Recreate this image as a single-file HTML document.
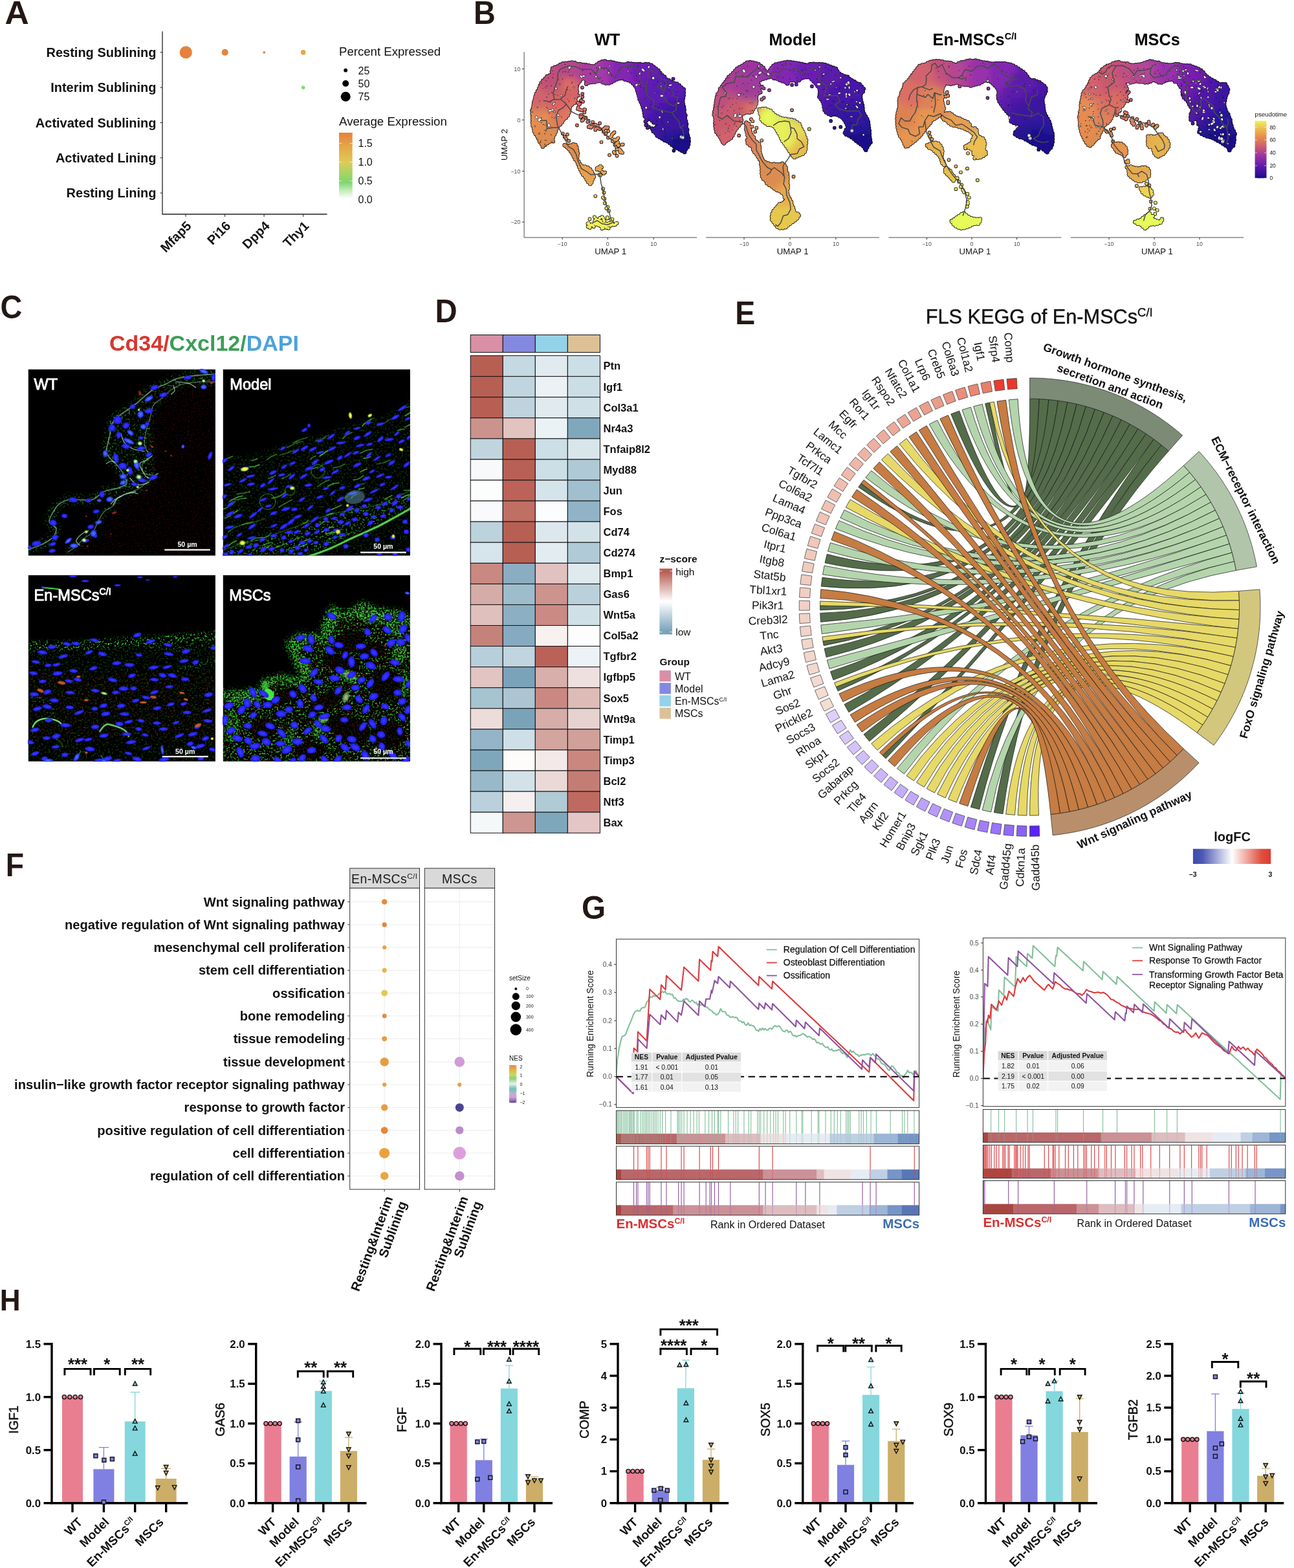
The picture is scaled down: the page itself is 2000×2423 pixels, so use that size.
<!DOCTYPE html>
<html lang="en"><head><meta charset="utf-8"><title>Figure</title>
<style>
html,body{margin:0;padding:0;background:#fff;}
body{width:2000px;height:2423px;overflow:hidden;}
svg{display:block;font-family:'Liberation Sans', sans-serif;}
</style></head><body>
<svg width="2000" height="2423" viewBox="0 0 2000 2423">
<rect width="2000" height="2423" fill="#fff"/>
<g id="pA">
<text transform="translate(7.6 37) scale(1.07 1.035)" font-size="48.3" font-weight="bold" fill="#231815">A</text>
<path d="M251 48.5V331H505.5" fill="none" stroke="#222" stroke-width="1.3"/>
<text x="241.5" y="87.9" font-size="20" font-weight="bold" text-anchor="end" fill="#111">Resting Sublining</text>
<line x1="247.5" y1="80.9" x2="251" y2="80.9" stroke="#222" stroke-width="1" />
<text x="241.5" y="142.2" font-size="20" font-weight="bold" text-anchor="end" fill="#111">Interim Sublining</text>
<line x1="247.5" y1="135.2" x2="251" y2="135.2" stroke="#222" stroke-width="1" />
<text x="241.5" y="196.5" font-size="20" font-weight="bold" text-anchor="end" fill="#111">Activated Sublining</text>
<line x1="247.5" y1="189.5" x2="251" y2="189.5" stroke="#222" stroke-width="1" />
<text x="241.5" y="250.9" font-size="20" font-weight="bold" text-anchor="end" fill="#111">Activated Lining</text>
<line x1="247.5" y1="243.9" x2="251" y2="243.9" stroke="#222" stroke-width="1" />
<text x="241.5" y="305.2" font-size="20" font-weight="bold" text-anchor="end" fill="#111">Resting Lining</text>
<line x1="247.5" y1="298.2" x2="251" y2="298.2" stroke="#222" stroke-width="1" />
<line x1="287" y1="331" x2="287" y2="335" stroke="#222" stroke-width="1" />
<text x="297" y="350.3" font-size="20" font-weight="bold" text-anchor="end" fill="#111" transform="rotate(-45 297 350.3)">Mfap5</text>
<line x1="347.6" y1="331" x2="347.6" y2="335" stroke="#222" stroke-width="1" />
<text x="357.6" y="350.3" font-size="20" font-weight="bold" text-anchor="end" fill="#111" transform="rotate(-45 357.6 350.3)">Pi16</text>
<line x1="408.1" y1="331" x2="408.1" y2="335" stroke="#222" stroke-width="1" />
<text x="418.1" y="350.3" font-size="20" font-weight="bold" text-anchor="end" fill="#111" transform="rotate(-45 418.1 350.3)">Dpp4</text>
<line x1="468.7" y1="331" x2="468.7" y2="335" stroke="#222" stroke-width="1" />
<text x="478.7" y="350.3" font-size="20" font-weight="bold" text-anchor="end" fill="#111" transform="rotate(-45 478.7 350.3)">Thy1</text>
<circle cx="287.3" cy="80.9" r="9.6" fill="#E6813C"/>
<circle cx="347.7" cy="80.9" r="5.1" fill="#E5833D"/>
<circle cx="408.2" cy="80.9" r="2" fill="#E8903F"/>
<circle cx="468.7" cy="80.9" r="3.8" fill="#E9A545"/>
<circle cx="468.7" cy="135.3" r="2.8" fill="#85D873"/>
<circle cx="408.2" cy="243.9" r="0.9" fill="#E6F7E0"/>
<text x="524" y="86" font-size="18.6" fill="#111">Percent Expressed</text>
<circle cx="534.2" cy="108.7" r="2.9" fill="#000"/>
<text x="553.5" y="114.5" font-size="16" fill="#111">25</text>
<circle cx="534.2" cy="129" r="5" fill="#000"/>
<text x="553.5" y="134.8" font-size="16" fill="#111">50</text>
<circle cx="534.2" cy="149.3" r="7.5" fill="#000"/>
<text x="553.5" y="155.1" font-size="16" fill="#111">75</text>
<text x="524" y="194.3" font-size="18.7" fill="#111">Average Expression</text>
<defs><linearGradient id="gA" x1="0" y1="0" x2="0" y2="1"><stop offset="0" stop-color="#E6823C"/><stop offset="0.22" stop-color="#E5A848"/><stop offset="0.45" stop-color="#DDCB58"/><stop offset="0.62" stop-color="#A4D566"/><stop offset="0.75" stop-color="#7FD56F"/><stop offset="0.88" stop-color="#C4EDBB"/><stop offset="1" stop-color="#FFFFFF"/></linearGradient></defs>
<rect x="524" y="205" width="20.7" height="102" fill="url(#gA)"/>
<line x1="524" y1="221.5" x2="528" y2="221.5" stroke="#fff" stroke-width="0.7" />
<line x1="540.7" y1="221.5" x2="544.7" y2="221.5" stroke="#fff" stroke-width="0.7" />
<text x="553.5" y="227.3" font-size="16" fill="#111">1.5</text>
<line x1="524" y1="250.5" x2="528" y2="250.5" stroke="#fff" stroke-width="0.7" />
<line x1="540.7" y1="250.5" x2="544.7" y2="250.5" stroke="#fff" stroke-width="0.7" />
<text x="553.5" y="256.3" font-size="16" fill="#111">1.0</text>
<line x1="524" y1="279.5" x2="528" y2="279.5" stroke="#fff" stroke-width="0.7" />
<line x1="540.7" y1="279.5" x2="544.7" y2="279.5" stroke="#fff" stroke-width="0.7" />
<text x="553.5" y="285.3" font-size="16" fill="#111">0.5</text>
<line x1="524" y1="308.5" x2="528" y2="308.5" stroke="#fff" stroke-width="0.7" />
<line x1="540.7" y1="308.5" x2="544.7" y2="308.5" stroke="#fff" stroke-width="0.7" />
<text x="553.5" y="314.3" font-size="16" fill="#111">0.0</text>
</g>
<g id="pB">
<text transform="translate(732.1 36.6) scale(0.97 1.035)" font-size="48.3" font-weight="bold" fill="#231815">B</text>
<path d="M810.1 80.3V367H1077.2" fill="none" stroke="#444" stroke-width="0.95"/>
<line x1="869.2" y1="367" x2="869.2" y2="370.3" stroke="#333" stroke-width="1" />
<text x="869.2" y="380.3" font-size="8.8" text-anchor="middle" fill="#4D4D4D">−10</text>
<line x1="939.3" y1="367" x2="939.3" y2="370.3" stroke="#333" stroke-width="1" />
<text x="939.3" y="380.3" font-size="8.8" text-anchor="middle" fill="#4D4D4D">0</text>
<line x1="1010.2" y1="367" x2="1010.2" y2="370.3" stroke="#333" stroke-width="1" />
<text x="1010.2" y="380.3" font-size="8.8" text-anchor="middle" fill="#4D4D4D">10</text>
<text x="943.65" y="393.2" font-size="13.2" text-anchor="middle" fill="#111">UMAP 1</text>
<text x="938.6" y="69.8" font-size="25.3" font-weight="bold" text-anchor="middle" fill="#000">WT</text>
<line x1="1091.3" y1="367" x2="1358.9" y2="367" stroke="#444" stroke-width="0.95" />
<line x1="1150" y1="367" x2="1150" y2="370.3" stroke="#333" stroke-width="1" />
<text x="1150" y="380.3" font-size="8.8" text-anchor="middle" fill="#4D4D4D">−10</text>
<line x1="1221" y1="367" x2="1221" y2="370.3" stroke="#333" stroke-width="1" />
<text x="1221" y="380.3" font-size="8.8" text-anchor="middle" fill="#4D4D4D">0</text>
<line x1="1291.9" y1="367" x2="1291.9" y2="370.3" stroke="#333" stroke-width="1" />
<text x="1291.9" y="380.3" font-size="8.8" text-anchor="middle" fill="#4D4D4D">10</text>
<text x="1225.1" y="393.2" font-size="13.2" text-anchor="middle" fill="#111">UMAP 1</text>
<text x="1225" y="69.8" font-size="25.3" font-weight="bold" text-anchor="middle" fill="#000">Model</text>
<line x1="1373.5" y1="367" x2="1640.4" y2="367" stroke="#444" stroke-width="0.95" />
<line x1="1432.4" y1="367" x2="1432.4" y2="370.3" stroke="#333" stroke-width="1" />
<text x="1432.4" y="380.3" font-size="8.8" text-anchor="middle" fill="#4D4D4D">−10</text>
<line x1="1502" y1="367" x2="1502" y2="370.3" stroke="#333" stroke-width="1" />
<text x="1502" y="380.3" font-size="8.8" text-anchor="middle" fill="#4D4D4D">0</text>
<line x1="1571.6" y1="367" x2="1571.6" y2="370.3" stroke="#333" stroke-width="1" />
<text x="1571.6" y="380.3" font-size="8.8" text-anchor="middle" fill="#4D4D4D">10</text>
<text x="1506.95" y="393.2" font-size="13.2" text-anchor="middle" fill="#111">UMAP 1</text>
<text x="1506.5" y="69.8" font-size="25.3" font-weight="bold" text-anchor="middle" fill="#000">En-MSCs<tspan font-size="14.67" dy="-9.11">C/I</tspan></text>
<line x1="1654.8" y1="367" x2="1922" y2="367" stroke="#444" stroke-width="0.95" />
<line x1="1714" y1="367" x2="1714" y2="370.3" stroke="#333" stroke-width="1" />
<text x="1714" y="380.3" font-size="8.8" text-anchor="middle" fill="#4D4D4D">−10</text>
<line x1="1784" y1="367" x2="1784" y2="370.3" stroke="#333" stroke-width="1" />
<text x="1784" y="380.3" font-size="8.8" text-anchor="middle" fill="#4D4D4D">0</text>
<line x1="1854" y1="367" x2="1854" y2="370.3" stroke="#333" stroke-width="1" />
<text x="1854" y="380.3" font-size="8.8" text-anchor="middle" fill="#4D4D4D">10</text>
<text x="1788.4" y="393.2" font-size="13.2" text-anchor="middle" fill="#111">UMAP 1</text>
<text x="1788.7" y="69.8" font-size="25.3" font-weight="bold" text-anchor="middle" fill="#000">MSCs</text>
<line x1="806.8" y1="106.5" x2="810.1" y2="106.5" stroke="#333" stroke-width="1" />
<text x="804.3" y="109.7" font-size="8.8" text-anchor="end" fill="#4D4D4D">10</text>
<line x1="806.8" y1="185.3" x2="810.1" y2="185.3" stroke="#333" stroke-width="1" />
<text x="804.3" y="188.5" font-size="8.8" text-anchor="end" fill="#4D4D4D">0</text>
<line x1="806.8" y1="264.4" x2="810.1" y2="264.4" stroke="#333" stroke-width="1" />
<text x="804.3" y="267.6" font-size="8.8" text-anchor="end" fill="#4D4D4D">−10</text>
<line x1="806.8" y1="343.1" x2="810.1" y2="343.1" stroke="#333" stroke-width="1" />
<text x="804.3" y="346.3" font-size="8.8" text-anchor="end" fill="#4D4D4D">−20</text>
<text x="783.8" y="223.5" font-size="13.2" text-anchor="middle" fill="#111" transform="rotate(-90 783.8 223.5)">UMAP 2</text>
<defs><filter id="blB" x="-20%" y="-20%" width="140%" height="140%"><feGaussianBlur stdDeviation="3.5"/></filter></defs>
<defs><g id="shB0"><path d="M1058.11 235L1059.83 230.46L1063.48 226.52L1064.61 218.96L1064.27 212.63L1062.97 209.44L1061.71 204.41L1062.34 200.91L1060.5 196.53L1061.04 190.68L1060.19 187.82L1058.54 182.09L1059.43 178.05L1056.85 173.02L1057.77 169.1L1056.83 164.29L1055.35 159.76L1055.21 153.9L1056.49 149.18L1056.8 144.21L1056.66 138.1L1051.96 134.49L1048.03 130.18L1042.43 128.73L1038.03 127.37L1033.71 124.27L1029.76 123.23L1027.3 119.11L1022.84 116.04L1019.47 111.87L1017.14 108.72L1011.87 105.07L1008.29 101.53L1001.58 99.12L996.51 99L991.84 100.58L988.98 99.11L984.04 99.3L980.22 99.17L974.27 98.4L970.54 98.16L964.65 100.05L958.27 98.88L953.64 98.28L945.5 95.93L939.23 96.05L934.52 94.35L927.45 96.22L924.28 98.53L918.35 102.88L910.74 101.71L906.94 100.44L901.5 100.12L896.67 99.08L893 99.74L889.71 97.3L884.56 96.28L881.24 97.07L873.58 98.11L868.07 98.55L864.32 101.47L860.24 103.46L854.3 104.98L852.73 111.35L853.13 116.07L846.72 116.83L842.99 121.48L838.04 125.91L834.91 132.06L834.36 134.95L831.49 140.29L828.82 145.41L827.57 149.55L826.22 156.44L824.35 159.76L825.12 164.85L822.73 168.83L822.27 173.02L823.06 178.75L823.09 182.77L822.97 189.12L823.59 195.15L825.31 198.59L826.02 204.25L828.12 207.25L831.96 212.54L833.25 217.85L836.42 221.26L838.84 226.53L843.1 223.12L847.32 220.1L854.02 215.97L855 210.97L858.41 205.18L859.45 200.45L862.61 194.85L865.02 192.97L868.29 189.44L871.35 184.16L875.61 181.2L878.74 176.62L880.21 169.7L881.1 164.68L885.01 160.26L889.06 158.38L889.48 152.6L890.61 146.44L891.82 141.72L890.91 135.01L894.38 126.7L898.32 123.32L899.36 119.68L903.4 121.85L909.62 125.03L904.48 130.59L912.21 126.57L918.07 127.15L921.88 125.29L928.06 125.02L933.02 127.56L938.27 129.15L943.95 127.56L948.64 124.63L954.24 122.12L960.78 120.13L964.27 122.4L968.02 122.92L974.5 125.4L977.11 127.46L982.32 133.04L984.98 137.6L984.99 140.6L987.29 146.57L988.4 152.94L990.12 156.37L992.74 162.09L994.62 168.64L995.62 171.75L996.17 177.37L997.17 182.08L1002.73 183.25L1007.06 185.49L1010.59 189.51L1015.29 190.13L1018.16 193.08L1013.84 197.02L1011.98 198.61L1008.88 202.07L1012.7 204.77L1016.42 210.77L1022.26 213.13L1026 216.36L1029.54 217.05L1035.06 220.6L1039.54 224.69L1043.12 227.35L1046.39 228.64L1052.42 232Z"/><path d="M872.75 224.42L878.46 225.74L884.35 224.17L888.45 222.27L891.44 228.53L892.08 233.39L893.1 237.63L892.34 240.94L891.5 245.29L895.53 251.93L897.84 256.72L902.81 257.34L908.01 258.98L913.58 263.12L915.67 268.83L918.53 271.6L914.68 279.08L913.45 284.69L909.95 282.57L906.91 277.17L903.78 271.83L899.6 268.42L898.88 264.34L896.41 261L894.21 255.27L892.22 249.7L888.14 244.95L885.91 239.22L883.01 234.87L878.75 229.24Z"/><path d="M919.74 341.7L925.91 341.69L931.67 346.2L936.84 346.09L943.18 345.46L946.64 345.43L943.9 347.48L937.58 348.12L929.94 348.74L920.9 346.26Z"/></g><path id="dtB0" d="M1040.56 121.76h0M891.88 193.6h0M876.85 207.8h0M929.47 219.49h0M942 239.54h0M920.28 303.02h0M949.52 204.46h0M855.13 218.66h0M1041.4 232.86h0M914.19 347.2h0M921.32 338.3h0M920.2 345.6h0M908.42 345.54h0M933.05 339.99h0M944.77 347.6h0M921.22 339.65h0M938.75 336.05h0M925.14 339.75h0M931.45 345.44h0M930.83 350.85h0M934.01 341.76h0M914.36 348.02h0M936.98 351.81h0M918.76 344.12h0M929.33 343.33h0M930.43 335.15h0M942.26 348.01h0M940.58 352.72h0M925.1 343.7h0M930.41 353.18h0M910.15 346.37h0M918.8 335.29h0M911.49 338.43h0M944.51 339h0M927.12 336.96h0M938.7 337.46h0M946.41 338.75h0M918.55 344.76h0M930.63 351.95h0M931.98 336.75h0M921.73 340.19h0M941.35 346.46h0M928.51 349.56h0M921.88 343.02h0M932.59 352.24h0M928.7 341.5h0M915.9 348h0M913 348.82h0M908.58 350.35h0M909.72 344.48h0M922.39 342.71h0M916.38 347.64h0M911.75 351.95h0M922.86 342.1h0M909.37 350.1h0M909.48 345.81h0M917.8 350.37h0M945.7 344.4h0M943.46 348.67h0M944.21 345.48h0M944.09 344.43h0M946.02 343.19h0M942.08 347.05h0M953.61 344.86h0M950.74 347.37h0M951.9 345.23h0M948.15 347.66h0M927.33 260.95h0M927.06 257.96h0M926.93 269.97h0M933.05 268h0M931.9 267.1h0M922.63 259.93h0M922.76 260h0M930.51 265.71h0M893.53 147.82h0M893.78 147.63h0M888.69 151.44h0M898.07 155.15h0M893.57 158.53h0M892.94 159h0M896.45 160.57h0M895.13 161.56h0M901.06 157.12h0M893.71 165.92h0M903.21 169.08h0M904.13 169.39h0M896.07 169.45h0M892.96 168.41h0M899.19 170.49h0M903.25 173.76h0M897.5 178.07h0M898.09 177.63h0M898.03 180.37h0M897.3 180.92h0M899.63 179.16h0M899.45 186.4h0M901.34 184.98h0M905.41 181.93h0M909.32 186.95h0M908.3 188.16h0M909.54 186.68h0M910.68 194.96h0M916.05 188.52h0M909.65 196.21h0M913.26 197.21h0M914.17 196.12h0M916.2 193.67h0M920.21 200.71h0M920.21 192.58h0M920.21 198.87h0M923.79 195.08h0M923.79 194.52h0M923.79 197.97h0M927.04 199.38h0M927.04 199.14h0M927.04 190.44h0M935.86 196.59h0M934.03 198.41h0M932.83 199.62h0M939.58 196.75h0M932.78 203.55h0M938.31 198.01h0M936.46 206.35h0M940.25 202.57h0M935.78 207.04h0M945.96 207.63h0M948.35 205.64h0M939.93 212.66h0M943.04 212.24h0M945.12 210.5h0M942.7 212.52h0M948.18 217.04h0M949.57 215.88h0M946.86 218.15h0M953.37 215.65h0M948.8 218.7h0M952.55 216.2h0M955.9 224.74h0M955.33 225.11h0M956.36 224.43h0M957.69 231.91h0M953.51 230.72h0M958.36 232.11h0M959.21 235.55h0M958.4 235.31h0M959.22 235.55h0M949.41 218.07h0M955.43 213.25h0M955.1 213.52h0M952.97 221.72h0M950.34 223.82h0M955.05 220.05h0M962.74 223.31h0M961.51 223.56h0M961.08 223.65h0M962.01 236.02h0M957.67 230.59h0M959.84 233.31h0M950.01 236.39h0M948.81 234.89h0M953.58 240.85h0M869.77 206.27h0M872.67 211.61h0M875.05 214.56h0M879.23 217.72h0M924.06 258.98h0M922.35 261.98h0M927.86 256.49h0M925.1 261.33h0M930.03 258.6h0M927.97 262.2h0M926.87 263.19h0M935.02 266.45h0M928.04 270.74h0M926.32 270.05h0M932.05 291.64h0M933.47 297.71h0M931.94 305.23h0M934.14 307.16h0M934.91 313.89h0M939.18 319.94h0M937.31 321.81h0M940.86 325.96h0M899.93 135.31h0M900.24 145.04h0M900.21 149.8h0M997.37 187.8h0M999.49 186.48h0M998.22 193.34h0M999.38 192.62h0M1003.07 196.13h0M1000.75 197.57h0M1007.84 198.08h0M1007.56 199.07h0M1015.74 203.28h0M1017.82 196h0"/>
<mask id="mkB0" maskUnits="userSpaceOnUse" x="800" y="80" width="290" height="290">
<use href="#shB0" fill="#fff" stroke="none"/>
<use href="#shB0" fill="none" stroke="#fff" stroke-width="5.2" stroke-dasharray="0 4.6" stroke-linecap="round"/>
<use href="#dtB0" fill="none" stroke="#fff" stroke-width="4.3" stroke-linecap="round"/>
</mask></defs>
<g fill="#000" stroke="#000">
<use href="#shB0" stroke-width="1.6" stroke-linejoin="round"/>
<use href="#shB0" fill="none" stroke-width="6.7" stroke-dasharray="0 4.6" stroke-linecap="round"/>
<use href="#dtB0" fill="none" stroke-width="5.7" stroke-linecap="round"/>
</g>
<g mask="url(#mkB0)"><g filter="url(#blB)">
<path d="M879.5 247.5h17v9h-17zM895.5 239.5h9v9h-9z" fill="#dc9650"/><path d="M895.5 247.5h41v9h-41zM935.5 215.5h25v9h-25zM935.5 223.5h25v9h-25zM887.5 263.5h41v9h-41zM887.5 271.5h33v9h-33zM895.5 279.5h17v9h-17zM879.5 255.5h57v9h-57zM943.5 231.5h17v9h-17z" fill="#e6a050"/><path d="M935.5 247.5h9v9h-9zM935.5 255.5h9v9h-9z" fill="#dca05a"/><path d="M943.5 247.5h25v9h-25zM967.5 215.5h9v9h-9zM919.5 223.5h9v9h-9zM967.5 223.5h9v9h-9zM935.5 199.5h9v9h-9zM951.5 199.5h9v9h-9zM959.5 239.5h9v9h-9z" fill="#dc965a"/><path d="M823.5 215.5h81v9h-81zM823.5 223.5h81v9h-81zM847.5 191.5h9v9h-9zM831.5 199.5h33v9h-33zM815.5 207.5h73v9h-73zM863.5 231.5h41v9h-41zM871.5 239.5h25v9h-25z" fill="#dc8c50"/><path d="M919.5 215.5h9v9h-9zM927.5 199.5h9v9h-9zM919.5 207.5h9v9h-9zM967.5 231.5h9v9h-9z" fill="#dc8c5a"/><path d="M927.5 215.5h9v9h-9zM959.5 215.5h9v9h-9zM927.5 223.5h9v9h-9zM943.5 199.5h9v9h-9zM927.5 207.5h17v9h-17zM959.5 207.5h9v9h-9zM927.5 231.5h9v9h-9zM959.5 231.5h9v9h-9zM927.5 239.5h33v9h-33z" fill="#e6965a"/><path d="M1007.5 215.5h9v9h-9z" fill="#3c1496"/><path d="M1015.5 215.5h9v9h-9zM1039.5 199.5h9v9h-9zM1015.5 207.5h9v9h-9z" fill="#321496"/><path d="M1023.5 215.5h9v9h-9zM1023.5 223.5h9v9h-9z" fill="#28148c"/><path d="M1031.5 215.5h9v9h-9zM1031.5 223.5h9v9h-9zM1039.5 207.5h9v9h-9zM1063.5 207.5h9v9h-9zM1031.5 231.5h9v9h-9zM1031.5 239.5h17v9h-17z" fill="#1e148c"/><path d="M1039.5 215.5h33v9h-33zM1039.5 223.5h33v9h-33zM1047.5 207.5h17v9h-17zM1039.5 231.5h33v9h-33zM1047.5 239.5h17v9h-17z" fill="#1e0a8c"/><path d="M903.5 319.5h49v9h-49zM919.5 359.5h33v9h-33zM895.5 343.5h73v9h-73zM895.5 335.5h73v9h-73zM895.5 351.5h73v9h-73zM895.5 327.5h65v9h-65z" fill="#f0f05a"/><path d="M831.5 111.5h33v9h-33zM831.5 119.5h33v9h-33zM847.5 127.5h9v9h-9zM839.5 103.5h17v9h-17z" fill="#be5078"/><path d="M863.5 111.5h9v9h-9zM895.5 127.5h9v9h-9zM855.5 103.5h9v9h-9zM903.5 143.5h9v9h-9zM847.5 95.5h9v9h-9z" fill="#be5082"/><path d="M871.5 111.5h9v9h-9z" fill="#b45082"/><path d="M879.5 111.5h17v9h-17zM895.5 119.5h9v9h-9zM903.5 135.5h9v9h-9zM863.5 103.5h33v9h-33zM855.5 87.5h41v9h-41zM863.5 95.5h33v9h-33z" fill="#b4468c"/><path d="M895.5 111.5h9v9h-9zM895.5 87.5h9v9h-9zM895.5 95.5h9v9h-9z" fill="#aa3c96"/><path d="M903.5 111.5h9v9h-9zM903.5 119.5h9v9h-9zM895.5 103.5h25v9h-25zM903.5 87.5h17v9h-17zM903.5 95.5h17v9h-17z" fill="#aa3ca0"/><path d="M911.5 111.5h9v9h-9zM911.5 119.5h9v9h-9zM911.5 127.5h17v9h-17zM919.5 103.5h9v9h-9zM919.5 87.5h9v9h-9zM919.5 95.5h9v9h-9z" fill="#a03ca0"/><path d="M919.5 111.5h17v9h-17zM919.5 119.5h17v9h-17zM927.5 127.5h9v9h-9zM927.5 103.5h9v9h-9z" fill="#a03caa"/><path d="M935.5 111.5h9v9h-9zM935.5 119.5h9v9h-9zM927.5 87.5h9v9h-9zM927.5 95.5h9v9h-9z" fill="#a032aa"/><path d="M943.5 111.5h9v9h-9zM943.5 119.5h9v9h-9zM943.5 103.5h9v9h-9zM943.5 87.5h9v9h-9zM943.5 95.5h9v9h-9z" fill="#8c28b4"/><path d="M951.5 111.5h25v9h-25zM951.5 119.5h25v9h-25zM951.5 127.5h25v9h-25zM951.5 103.5h25v9h-25zM951.5 87.5h17v9h-17zM951.5 95.5h17v9h-17z" fill="#8228b4"/><path d="M975.5 111.5h33v9h-33zM983.5 119.5h17v9h-17zM983.5 127.5h9v9h-9zM983.5 135.5h9v9h-9zM975.5 103.5h41v9h-41zM983.5 87.5h33v9h-33zM975.5 95.5h41v9h-41z" fill="#6e1eb4"/><path d="M1007.5 111.5h9v9h-9zM999.5 119.5h9v9h-9zM991.5 127.5h17v9h-17zM991.5 135.5h9v9h-9zM1015.5 103.5h17v9h-17zM983.5 143.5h17v9h-17zM1015.5 95.5h9v9h-9z" fill="#641eb4"/><path d="M1015.5 111.5h41v9h-41zM999.5 151.5h33v9h-33zM1007.5 119.5h57v9h-57zM1007.5 127.5h49v9h-49zM999.5 135.5h57v9h-57zM999.5 143.5h49v9h-49z" fill="#5a1eb4"/><path d="M815.5 183.5h33v9h-33zM815.5 191.5h33v9h-33zM815.5 199.5h17v9h-17zM823.5 175.5h17v9h-17z" fill="#e68c50"/><path d="M847.5 183.5h9v9h-9zM855.5 191.5h9v9h-9zM863.5 199.5h33v9h-33zM847.5 175.5h9v9h-9zM815.5 167.5h33v9h-33z" fill="#dc825a"/><path d="M855.5 183.5h9v9h-9zM863.5 191.5h17v9h-17zM855.5 175.5h9v9h-9z" fill="#dc785a"/><path d="M863.5 183.5h33v9h-33zM919.5 183.5h17v9h-17zM879.5 191.5h25v9h-25zM911.5 191.5h17v9h-17zM895.5 159.5h17v9h-17zM863.5 175.5h33v9h-33zM919.5 175.5h9v9h-9zM871.5 167.5h49v9h-49z" fill="#dc7864"/><path d="M895.5 183.5h25v9h-25zM903.5 191.5h9v9h-9zM927.5 191.5h9v9h-9zM895.5 199.5h33v9h-33zM911.5 207.5h9v9h-9zM895.5 175.5h25v9h-25z" fill="#dc8264"/><path d="M935.5 183.5h9v9h-9z" fill="#c8786e"/><path d="M943.5 183.5h9v9h-9z" fill="#be6e6e"/><path d="M983.5 183.5h9v9h-9zM983.5 175.5h9v9h-9z" fill="#6428a0"/><path d="M991.5 183.5h9v9h-9z" fill="#501ea0"/><path d="M999.5 183.5h9v9h-9zM999.5 191.5h9v9h-9zM999.5 199.5h9v9h-9z" fill="#461ea0"/><path d="M1007.5 183.5h65v9h-65zM1007.5 191.5h49v9h-49zM1039.5 159.5h25v9h-25zM1007.5 199.5h17v9h-17zM1007.5 207.5h9v9h-9zM1015.5 175.5h57v9h-57zM1023.5 167.5h49v9h-49z" fill="#3c14a0"/><path d="M815.5 151.5h33v9h-33zM895.5 151.5h9v9h-9zM887.5 127.5h9v9h-9zM815.5 135.5h25v9h-25zM887.5 135.5h9v9h-9zM815.5 143.5h41v9h-41zM887.5 143.5h9v9h-9z" fill="#d2646e"/><path d="M847.5 151.5h9v9h-9zM887.5 151.5h9v9h-9zM879.5 119.5h9v9h-9zM863.5 127.5h9v9h-9zM863.5 135.5h9v9h-9zM855.5 143.5h33v9h-33z" fill="#d26464"/><path d="M855.5 151.5h25v9h-25zM871.5 119.5h9v9h-9zM847.5 159.5h25v9h-25zM871.5 135.5h17v9h-17z" fill="#dc6464"/><path d="M879.5 151.5h9v9h-9zM871.5 159.5h25v9h-25zM871.5 127.5h17v9h-17zM855.5 167.5h17v9h-17z" fill="#dc6e64"/><path d="M903.5 151.5h9v9h-9z" fill="#c86478"/><path d="M975.5 151.5h9v9h-9zM975.5 159.5h9v9h-9z" fill="#6e28aa"/><path d="M983.5 151.5h9v9h-9zM983.5 159.5h9v9h-9zM983.5 167.5h9v9h-9z" fill="#641eaa"/><path d="M991.5 151.5h9v9h-9zM991.5 159.5h17v9h-17zM1055.5 127.5h9v9h-9zM991.5 167.5h9v9h-9z" fill="#5a1eaa"/><path d="M1031.5 151.5h17v9h-17zM1015.5 159.5h9v9h-9zM1055.5 143.5h9v9h-9z" fill="#5014aa"/><path d="M1047.5 151.5h17v9h-17zM1023.5 159.5h9v9h-9zM999.5 175.5h17v9h-17zM1007.5 167.5h17v9h-17z" fill="#4614aa"/><path d="M823.5 119.5h9v9h-9zM887.5 119.5h9v9h-9zM847.5 135.5h9v9h-9zM895.5 143.5h9v9h-9z" fill="#c85a78"/><path d="M863.5 119.5h9v9h-9zM823.5 127.5h17v9h-17zM839.5 135.5h9v9h-9zM855.5 135.5h9v9h-9z" fill="#c85a6e"/><path d="M975.5 119.5h9v9h-9zM975.5 87.5h9v9h-9z" fill="#781eb4"/><path d="M959.5 223.5h9v9h-9zM943.5 207.5h17v9h-17zM935.5 231.5h9v9h-9z" fill="#e6a05a"/><path d="M935.5 191.5h17v9h-17z" fill="#d28264"/><path d="M951.5 191.5h9v9h-9z" fill="#c88264"/><path d="M983.5 191.5h9v9h-9z" fill="#643296"/><path d="M991.5 191.5h9v9h-9z" fill="#5028a0"/><path d="M1055.5 191.5h17v9h-17zM1023.5 199.5h17v9h-17z" fill="#3214a0"/><path d="M927.5 263.5h17v9h-17zM919.5 271.5h25v9h-25zM911.5 279.5h17v9h-17zM895.5 287.5h17v9h-17z" fill="#e6aa50"/><path d="M815.5 159.5h33v9h-33z" fill="#d26e64"/><path d="M911.5 159.5h9v9h-9z" fill="#d26e6e"/><path d="M1007.5 159.5h9v9h-9zM1055.5 135.5h9v9h-9zM991.5 175.5h9v9h-9zM1047.5 143.5h9v9h-9zM999.5 167.5h9v9h-9z" fill="#501eaa"/><path d="M1031.5 159.5h9v9h-9z" fill="#3c14aa"/><path d="M839.5 127.5h9v9h-9zM855.5 127.5h9v9h-9z" fill="#c85078"/><path d="M903.5 127.5h9v9h-9z" fill="#aa4696"/><path d="M935.5 127.5h9v9h-9zM935.5 103.5h9v9h-9zM935.5 87.5h9v9h-9zM935.5 95.5h9v9h-9z" fill="#9632aa"/><path d="M943.5 127.5h9v9h-9z" fill="#8c28aa"/><path d="M975.5 127.5h9v9h-9zM975.5 135.5h9v9h-9zM967.5 87.5h9v9h-9zM967.5 95.5h9v9h-9z" fill="#7828b4"/><path d="M959.5 199.5h9v9h-9zM967.5 207.5h9v9h-9zM967.5 239.5h9v9h-9z" fill="#d28c64"/><path d="M983.5 199.5h9v9h-9z" fill="#783c8c"/><path d="M991.5 199.5h9v9h-9z" fill="#5a2896"/><path d="M1047.5 199.5h25v9h-25zM1023.5 207.5h17v9h-17z" fill="#281496"/><path d="M895.5 135.5h9v9h-9z" fill="#be5a78"/><path d="M999.5 207.5h9v9h-9z" fill="#461e96"/><path d="M815.5 175.5h9v9h-9zM839.5 175.5h9v9h-9z" fill="#e68c5a"/><path d="M927.5 175.5h9v9h-9z" fill="#d27864"/><path d="M927.5 279.5h9v9h-9zM911.5 287.5h9v9h-9z" fill="#e6b450"/><path d="M935.5 279.5h9v9h-9zM911.5 295.5h9v9h-9z" fill="#e6be50"/><path d="M975.5 143.5h9v9h-9z" fill="#6e28b4"/><path d="M847.5 167.5h9v9h-9z" fill="#dc6e5a"/><path d="M911.5 303.5h9v9h-9z" fill="#f0c85a"/><path d="M919.5 303.5h25v9h-25zM919.5 295.5h25v9h-25zM927.5 287.5h17v9h-17z" fill="#f0c850"/><path d="M943.5 303.5h9v9h-9z" fill="#f0d25a"/><path d="M855.5 95.5h9v9h-9z" fill="#b44682"/><path d="M919.5 311.5h33v9h-33z" fill="#f0dc5a"/><path d="M919.5 287.5h9v9h-9z" fill="#f0be50"/>
</g></g>
<ellipse cx="901.9" cy="117.59" rx="2.34" ry="1.67" fill="#fff" stroke="#000" stroke-width="0.6"/>
<ellipse cx="865.15" cy="130.12" rx="1.17" ry="0.84" fill="#fff" stroke="#000" stroke-width="0.6"/>
<ellipse cx="843.43" cy="135.13" rx="1" ry="0.84" fill="#fff" stroke="#000" stroke-width="0.6"/>
<ellipse cx="886.87" cy="135.13" rx="1.34" ry="1" fill="#fff" stroke="#000" stroke-width="0.6"/>
<ellipse cx="970.4" cy="110.07" rx="1" ry="1.34" fill="#fff" stroke="#000" stroke-width="0.6"/>
<ellipse cx="1022.19" cy="133.46" rx="1.34" ry="1.67" fill="#fff" stroke="#000" stroke-width="0.6"/>
<ellipse cx="1033.88" cy="135.13" rx="1" ry="0.84" fill="#fff" stroke="#000" stroke-width="0.6"/>
<ellipse cx="1012.16" cy="143.48" rx="1.17" ry="0.67" fill="#fff" stroke="#000" stroke-width="0.6"/>
<ellipse cx="1024.69" cy="199.45" rx="1" ry="2" fill="#fff" stroke="#000" stroke-width="0.6"/>
<ellipse cx="1032.21" cy="188.59" rx="0.84" ry="1.67" fill="#fff" stroke="#000" stroke-width="0.6"/>
<ellipse cx="1038.89" cy="213.65" rx="1" ry="0.67" fill="#fff" stroke="#000" stroke-width="0.6"/>
<ellipse cx="853.46" cy="218.66" rx="1.17" ry="1" fill="#fff" stroke="#000" stroke-width="0.6"/>
<ellipse cx="826.73" cy="195.27" rx="1" ry="0.84" fill="#fff" stroke="#000" stroke-width="0.6"/>
<ellipse cx="958.7" cy="105.06" rx="0.84" ry="0.67" fill="#fff" stroke="#000" stroke-width="0.6"/>
<ellipse cx="845.11" cy="150.16" rx="0.84" ry="0.67" fill="#fff" stroke="#000" stroke-width="0.6"/>
<ellipse rx="2.75" ry="1.6" transform="translate(858.84 136.27) rotate(51.95)" fill="#fff" stroke="#000" stroke-width="0.6"/>
<ellipse rx="2.64" ry="2.1" transform="translate(848.28 193.57) rotate(90.08)" fill="#fff" stroke="#000" stroke-width="0.6"/>
<ellipse rx="1.1" ry="1.41" transform="translate(942.09 102.12) rotate(58.02)" fill="#fff" stroke="#000" stroke-width="0.6"/>
<ellipse rx="3.25" ry="1.95" transform="translate(880.28 103.75) rotate(103.54)" fill="#fff" stroke="#000" stroke-width="0.6"/>
<ellipse rx="1.1" ry="1.85" transform="translate(987.42 130.54) rotate(84.69)" fill="#fff" stroke="#000" stroke-width="0.6"/>
<ellipse rx="2.49" ry="1.49" transform="translate(862.79 178.03) rotate(16.42)" fill="#fff" stroke="#000" stroke-width="0.6"/>
<ellipse rx="2.07" ry="1.26" transform="translate(1023.29 172.73) rotate(58.19)" fill="#fff" stroke="#000" stroke-width="0.6"/>
<ellipse rx="1.85" ry="1.85" transform="translate(921.64 118.23) rotate(112.57)" fill="#fff" stroke="#000" stroke-width="0.6"/>
<ellipse rx="2.29" ry="2.08" transform="translate(1009.69 120.63) rotate(78.86)" fill="#fff" stroke="#000" stroke-width="0.6"/>
<ellipse rx="3.28" ry="1.65" transform="translate(994.01 108.28) rotate(43.07)" fill="#fff" stroke="#000" stroke-width="0.6"/>
<ellipse rx="2.29" ry="0.96" transform="translate(856.92 172.84) rotate(178.61)" fill="#fff" stroke="#000" stroke-width="0.6"/>
<ellipse rx="1.28" ry="1.95" transform="translate(1048.52 159.4) rotate(89.71)" fill="#fff" stroke="#000" stroke-width="0.6"/>
<ellipse rx="1.64" ry="1.95" transform="translate(998.67 166.53) rotate(176.44)" fill="#fff" stroke="#000" stroke-width="0.6"/>
<ellipse rx="2.85" ry="1.39" transform="translate(1036.1 131.56) rotate(168.16)" fill="#fff" stroke="#000" stroke-width="0.6"/>
<ellipse rx="2.26" ry="1.3" transform="translate(941.04 112.36) rotate(99.35)" fill="#fff" stroke="#000" stroke-width="0.6"/>
<ellipse rx="2.63" ry="1.6" transform="translate(898.41 118.39) rotate(42.04)" fill="#fff" stroke="#000" stroke-width="0.6"/>
<ellipse rx="2.55" ry="1.93" transform="translate(1022.74 148.07) rotate(176.55)" fill="#fff" stroke="#000" stroke-width="0.6"/>
<ellipse rx="3.27" ry="1.29" transform="translate(855.9 160.61) rotate(124.69)" fill="#fff" stroke="#000" stroke-width="0.6"/>
<ellipse rx="3.16" ry="2.17" transform="translate(834.08 184.92) rotate(134.42)" fill="#fff" stroke="#000" stroke-width="0.6"/>
<ellipse rx="2.48" ry="2" transform="translate(926.9 104.82) rotate(79.86)" fill="#fff" stroke="#000" stroke-width="0.6"/>
<ellipse rx="2.33" ry="1.89" transform="translate(853.67 169.88) rotate(30.6)" fill="#fff" stroke="#000" stroke-width="0.6"/>
<ellipse rx="2.04" ry="1.3" transform="translate(988.77 113.78) rotate(105.76)" fill="#fff" stroke="#000" stroke-width="0.6"/>
<ellipse rx="2.13" ry="1.15" transform="translate(867.29 147.86) rotate(102.95)" fill="#fff" stroke="#000" stroke-width="0.6"/>
<ellipse rx="2.33" ry="1.75" transform="translate(983.85 131.29) rotate(134.04)" fill="#fff" stroke="#000" stroke-width="0.6"/>
<ellipse rx="2.16" ry="2.04" transform="translate(829.16 181.2) rotate(51.51)" fill="#fff" stroke="#000" stroke-width="0.6"/>
<ellipse rx="1.83" ry="1.69" transform="translate(1019.56 181.3) rotate(111.76)" fill="#fff" stroke="#000" stroke-width="0.6"/>
<ellipse rx="1.69" ry="1.83" transform="translate(1002.67 103.58) rotate(31.62)" fill="#fff" stroke="#000" stroke-width="0.6"/>
<ellipse rx="3.27" ry="1.54" transform="translate(850.26 171.12) rotate(164.43)" fill="#fff" stroke="#000" stroke-width="0.6"/>
<path d="M1027.58 128.66l-0.97 -0.5M1026.12 162.47l-0.28 0.28M1021.49 202.27l-0.6 0.88M902.71 107.34l-0.82 -0.41M1062.13 219.35l0.19 -0.45M1062.32 210.99l0.63 0M820.24 170.7l0.04 0M844.22 125.18l-0.46 -1.14M872.92 99.53l1.07 0.01M841.39 223.42l1.12 -0.68M851.15 158.23l-0.35 -1.08M1056.91 153.04l-0.01 0.92M1005.19 113.26l0.37 -0.07M922.06 104.91l0.09 0.83M1058.08 218.64l-0.17 0.92M841.93 193.12l0.55 0.63M864.9 108.39l-0.32 -0.24M1032.04 158.39l0.17 -0.73M1016.49 126.64l0.13 -1.02M848.68 174.91l0.01 0.63M834.13 205.07l-0.53 1.17M869.31 122.49l0.43 -0.91M1037.54 139.42l1.14 -0.25M853.45 109.57l0.71 -0.39M880.35 116.26l1.05 0.61M877.12 138.7l-0.72 0.02M1005.05 169.12l0 -1.09M1006.05 161.63l-0.87 -0.4M1014.26 167.19l-0.06 -0.1M844.4 165.78l0.26 0.04M990.92 163.74l-0.41 0.27M837.22 181.48l-0.81 1.18M833.38 131.37l0.57 -0.48M970.44 104.93l-0.39 0.79M999.75 122.35l0.08 0.5M931.37 124.38l-0.48 0.76M922.34 104.32l-0.32 0.42M911.75 112.97l1.15 0.2M841.23 201.1l0.71 0.54M1022.83 173.67l0.45 -1.14M900.41 108.4l-0.06 1.12M963.45 122.01l0.68 0.66M983.47 123.74l0.19 0.53M844.19 217.13l0.2 -0.79M1024.53 182.27l0.31 0.29M1052.62 214.73l0.82 -0.85M884.62 117.15l0.43 -1.12M995.14 136.48l1.08 -0.94M1037.59 175.17l-1.15 -0.45M918.48 111.35l-0.84 0.46M1006.16 122.37l-0.22 0.66M1013.96 175.36l1.01 0.89M856.68 182.92l0.57 -1.05M987.84 130.93l-0.87 -0.7M1008.41 107.14l-0.42 0.39M986.11 96.85l0.06 -0.45M870.34 110.66l-0.78 0.99M881.59 139.36l-0.38 -0.35M861.32 147.19l0.65 0.53M995.39 165.24l0.34 0.46M1028.32 211.24l0.26 -0.74M835.01 219.59l-0.61 0.14M1050.61 219.64l-0.66 1.13M996.87 152.82l-0.49 -0.51M1031.14 126.61l-0.7 0.49M859.4 166.77l-0.44 -0.36M845.66 166.7l1.04 0.71M1046.74 142.55l-0.54 -0.91M1023.66 125.55l0.42 -0.29M853.89 119.68l1.15 0.76M983.16 116.66l1.09 0.73M1012.95 164.31l-0.5 -0.51M1008.28 204.27l0.51 -0.37M975.97 112.72l-0.14 -0.58M834.05 156.51l-0.05 -0.72M893.6 131.32l0.09 1.04M830.97 166.3l0.47 -0.87M831.15 215.07l0.28 0.21M836.19 219.96l-0.62 0.41M1033.89 182.49l0.07 0.33M1044.19 157.64l-1.07 -0.21M1022.34 188.03l0.52 -0.96M842.99 225.21l0.65 -1.19M944.82 115.97l0.12 1.03M879.61 155.84l-0.22 1.04M857.02 146.08l0.91 -0.05M888.54 151.48l-0.72 1.11M1017.11 187.35l-0.43 0.35M988.96 132.75l0.98 -0.99M1046.85 221.32l0.18 0.08M852.62 142.62l0.54 1.05M1062.43 195.04l0.99 -0.78M1054.89 136.57l0.92 -0.78M1023.19 190.78l1.01 1.19M1027.2 201.1l-0.25 -0.01M862.48 122.23l1.05 1.11M1057.34 163.13l1.02 0.9M874.23 110.71l-1.18 0.16M836.3 216.98l-0.94 1.16M842.39 205.93l-0.52 1.17M1011.29 109.73l0.1 -0.01M912.36 114.42l1.05 0.84M1027.81 205.96l-0.08 -0.74M1022.14 114.91l-0.93 -0.81M988.45 125.74l-0.1 -0.58M1006.78 157.52l-0.75 0.57M1022.04 160.54l0.7 0.16M1028.76 145.33l0.62 -0.78M1062.07 212.84l0.85 0.95M1020.17 110.83l0.78 0.04M1038.67 173.4l-0.99 0.41M842.76 217.2l-0.76 -0.86M1032.84 132.88l-0.42 -0.6M1010.48 131.04l-0.57 -0.63M873.09 157.85l0.61 1.09M830.23 165.5l-0.48 0.53M1053.07 216.19l-1.17 0.37M851.65 133.16l0.46 -1.05M1027.4 194.68l-0.92 -0.46M851.95 196.1l-0.23 0.01M836.82 128.5l0.95 0.49M1028.72 172.54l-0.45 -0.92M1001.37 169.37l1 -0.49M844.94 133.34l0.28 -0.67M893.18 97.2l-0.88 -0.83M932.78 106.69l0.59 0.25M1046.55 179.74l-0.2 0.12M820.88 167.51l-0.07 0.09M878.14 111.61l0.39 -0.68M877.79 152.65l-0.61 0.61M985.41 102.9l0.9 -1M1016.93 141.86l-0.13 0.49M1002.82 184.48l-1.01 0.15M1012.61 200.56l-1.05 0.11M832.73 206.72l0.01 0.17M1007.99 118.76l-0.84 -0.41M1036.55 139.93l0.05 -0.92M848.31 145.36l-0.71 0.2M1042.57 201.78l-0.98 0.02M1043.88 148.16l0.74 -0.11M1001.33 101.89l0.03 -0.1M837.04 189.39l-1.06 -0.09M1037.63 143.03l0.74 0.54M835.76 185.87l-0.25 0.76M852.96 181.37l0.59 0.19M833.78 207.07l-1.09 -0.37M880.09 107.08l-1.05 1.19M1003.51 165.06l1.04 -1.03M883.18 129.16l1.04 -1.12M941.43 108.46l-0.22 0.65M1033.26 157.99l0.64 1.15M1044.9 156.95l0.35 -0.19M839 192.55l1.18 -0.28M1031.41 138.07l0.89 0.98M904.93 99.79l-0.3 0.44M1032.89 197.04l0.39 0.09M1052.18 185.9l0.37 -0.37M1018.25 166.52l-0.77 0.09M847.52 120.24l0.07 0.55M851.97 208.86l-0.67 -1.19M823.38 173.32l-1.15 -0.48M838.6 136.53l0.42 0.11M1014.83 186.22l0.08 0.78M855.56 114.78l-0.61 -0.37M1043.95 217.21l-0.54 1.05M956.58 108.84l0.54 -0.93M944.32 115.38l0.74 -0.19M990.64 134.74l0.64 0.92M868.51 181.24l-1.16 -0.71M884.62 127.3l-0.96 -1.12" fill="none" stroke="#111" stroke-width="1" stroke-linecap="round" opacity="0.85"/>
<path d="M840.22 155.45L849.51 157.17L856.67 153.15L854.75 143.97L857.88 135.13L859.86 128.87L862.12 121.52L861.94 113.64L866.58 106.46L878.04 101.93L889.84 103.12L899.65 107.33L907.42 107.28L913.77 106.63L920.27 114.04L925.88 105.29L937.37 104.82L943.56 112.94L950.19 120.43L955.33 113.88L960.11 103.67L967.47 103.11L973.82 102.34L982.17 102.9L986.76 113.01L988.97 120.66L990.91 126.23L997.43 134.71L1000.16 147.05L1010.63 155.67L1010.07 167.22L1022.48 170.29L1030.51 172.37L1038.67 174.16L1043.25 180.82L1049.53 188.08L1051.25 196.91L1055.25 200.42L1057.27 210.3M1000.07 147.38L998.87 135.5L999.75 127.93L1000.84 120.33L1002.16 113.41L1006.61 108.21L1015.46 113.87L1022.74 123.26L1028.75 123.52L1030.17 129.64L1025.21 142.39L1025.63 150.05L1033.41 159.96L1040.4 163.97L1045.57 160.39L1047.49 151.51L1040.99 147.45L1037.41 138.46L1042.23 134.29M1016.73 133.85L1021.74 127.07L1023.84 139.03L1017.17 133.46M1045.63 160.38L1044.98 169.59L1038.89 173.55M1051.05 197.53L1057.27 193.6M920.51 113.76L925.18 122.22L928.63 120.09M856.44 153.78L866.17 153.51L873.34 146.98L875.4 138.63L877.68 133.46M866.8 153.49L874.52 160.26L879.53 166.91L883.23 172.52L892.91 177.31L903.81 178.97L909.13 185.56L913.06 193.13L923.21 195.3L929.05 199.97L933.51 205.12L941.87 213.73L949.34 218.29L950.6 226.64L952.02 233.69M875.38 160.67L870.51 166.33L863.32 170.28L859.55 179.58L860.54 186.92L861.72 193.98L863.57 197.42L867.12 204.49L871.22 211.59L875.67 220.01L878.48 226.4L886.3 230.92L890.74 238.79L892.93 247.63L895.81 254.36L898.68 260.76L907.2 265.3L913.03 269.99L919.93 269.22L926.81 269.3L927.99 276.22L928.99 283.63L931.02 290.07L932.61 296.58L934.12 305.98L936.22 314.24L939.26 322.09L941.81 328.84L943.92 337.37L947 343.76L939.25 347.2L930.54 345.83L923.07 340.77L916.94 343.95M862.21 197.22L854.57 197.31L845.39 198.79L843.43 202.79M845.43 198.37L844.58 186.25L835.92 186.08" fill="none" stroke="#4A4A4A" stroke-width="1.5" stroke-linejoin="round" stroke-linecap="round"/>
<circle cx="1053.09" cy="211.64" r="2.6" fill="#fff" stroke="#111" stroke-width="0.7"/>
<circle cx="1055.26" cy="212.48" r="2.6" fill="#fff" stroke="#111" stroke-width="0.7"/>
<text x="1055.26" y="213.88" font-size="3.8" text-anchor="middle" fill="#000">2</text>
<defs><g id="shB1"><path d="M1338.33 231.69L1340.55 227.01L1342.67 223.61L1345.84 219.37L1344.15 213.06L1343.84 207.46L1343.84 202.61L1343.23 198.28L1342.2 195.13L1342.53 190.55L1340.15 183.89L1337.15 178.65L1334.4 174.32L1333.27 169.66L1333.54 165.26L1332.16 160.2L1330.86 155.66L1329.97 149.25L1330.5 145.19L1334.14 140.94L1335.05 137.73L1328.85 130.36L1324.21 129.13L1318.8 124.98L1313.98 123.56L1310.41 118.77L1307.69 118.6L1301.61 116.26L1297.58 114.28L1293.65 109.64L1291.66 105.5L1285.83 104.35L1282.76 102.76L1278.78 101.23L1275.12 100.22L1270.25 99.36L1264.97 99.15L1261.52 99.38L1255.88 98.69L1251.16 99.35L1245.99 101.72L1241.64 99.08L1237.46 98.88L1231.43 97.81L1228.42 97.15L1223.31 96.3L1218.66 95.46L1212.78 96.47L1205.43 98.39L1202 99L1197.21 99.85L1192.39 105.41L1188.6 110.38L1187.5 114.42L1182.12 109.37L1180.14 105.33L1175.76 102.04L1170.89 98.19L1166.46 97.53L1160.62 95.84L1154.24 96.8L1149.9 100.33L1145.48 102.94L1141.82 104.14L1138.84 106.55L1134.83 111.27L1130.64 115.88L1127.11 118.19L1125.02 120.99L1122.4 126.02L1119.3 128.68L1117.31 132.65L1113.26 136.75L1112.01 142.92L1109.09 145.93L1107.91 150.79L1107.41 153.67L1106.77 158.38L1105.9 163.68L1105.35 168.1L1104.64 174.35L1103.58 177.61L1106.03 182.71L1105.31 188.25L1105.4 194.02L1106.26 198.31L1106.66 203.07L1109.82 207.1L1113.6 212.39L1116.42 217.59L1118.11 222.36L1121.31 218.72L1125.21 216.09L1129.18 213.97L1133.16 207.66L1135.5 201.92L1138.13 198.32L1141.83 194.15L1144.88 190.18L1146.03 185.46L1144.18 178.85L1147.73 176.25L1151.79 173.35L1161.35 173.94L1163.51 169.17L1166.81 165.3L1169.39 157.93L1168.5 148.31L1173.52 141.97L1174.71 135.5L1172.44 130.52L1171.77 126.44L1176.43 122.36L1180.52 121.36L1186.9 119.51L1191.62 117.87L1195.79 120.76L1200.83 121.44L1205.5 123.8L1209.31 125.22L1215.21 126.94L1220.26 124.64L1224.87 122.92L1227.28 124.68L1232.27 125.27L1236.39 123.5L1238.95 119.92L1244.95 119.22L1250.51 118.7L1255.07 122.95L1259.21 127.15L1261.54 129.85L1265.29 135.25L1267.28 136.88L1267.11 144.35L1266.17 150.68L1269.31 153.42L1272.57 158.48L1273.24 164.14L1274.39 168.09L1274.78 172.16L1278.55 174.56L1283.25 177.85L1289.24 176.58L1293.36 177L1298.67 179.71L1303.03 182.11L1305.13 185.66L1308.87 191.63L1310.26 197.54L1307.45 201.43L1305.29 207.08L1309.42 207.95L1313.43 210.29L1317.06 212.58L1321.06 215.24L1324.01 218.57L1328.32 221.37L1335.04 226.38Z"/><path d="M1173.72 169.25L1181.63 167.67L1187.31 170.02L1191.15 171.73L1194.44 175.16L1198.49 178.8L1203.28 180.59L1208.07 183.96L1211.98 183.31L1216.7 184.56L1220.93 185L1226.79 185.88L1231.03 188.6L1236.12 192.38L1237.11 197.12L1240.49 202.51L1242.03 205.4L1243.67 210.87L1245.98 215.64L1245.78 222.89L1244.62 228L1245.31 231.86L1241.68 237.38L1234.83 239.89L1226.92 243.39L1223.58 237.49L1219.7 232.75L1218.41 229.56L1213.7 223.66L1211.95 220.68L1208.63 216.63L1206.01 209.77L1203.41 205.46L1201.55 202.48L1199.51 199.04L1197.55 195.34L1192.2 193.1L1186.59 192.62L1179.98 187.96L1176.57 184.97L1176.89 179.63L1174.3 174.02Z"/><path d="M1153.35 189.71L1156.47 190.24L1157.6 192.61L1158.67 198L1159.23 203.42L1161.89 209.2L1164.58 211.47L1165.62 216.5L1168.72 219.09L1173.64 223.19L1174.01 228.73L1174.25 234.76L1174.73 238.62L1177.24 242.25L1177.79 247.04L1182.46 250.78L1188.17 252.86L1193.13 254.49L1197.97 253.29L1202.75 255.45L1207.65 252.97L1210.44 252.94L1214.54 258.3L1214.96 264.18L1216.74 268.29L1217.48 275.34L1217.03 281.62L1217.6 286.26L1217.78 289.86L1216.11 296.34L1217.79 302.84L1220.3 307.09L1222.89 311.84L1223.66 317.04L1226.29 321.74L1227.44 328.58L1235.49 331.59L1231.55 338.2L1226.16 342.05L1222.85 344.36L1218.37 347.15L1215.22 350.84L1207.73 352.58L1202.67 351.69L1200 348.64L1197.19 344.68L1193.09 339.29L1193.09 332L1195.9 325.85L1199.3 322.19L1204.96 315.37L1210.11 314.32L1215.83 309.27L1212.79 304.72L1211.78 299.77L1205.89 295.52L1199.86 293.32L1196.27 290.73L1192.82 287.93L1189.06 285.62L1185.24 282.83L1183.43 278.21L1178.53 275.51L1177.56 269.16L1177.48 264.21L1177.43 257.55L1176.42 254.92L1176.27 248.57L1173.23 244.82L1170.55 240.33L1169.15 237.78L1164.36 233.02L1163.57 226.84L1159.17 224.36L1155.87 221.54L1154.77 217.11L1157.41 212.41L1155.14 208.18L1154.39 202.63L1152.69 198.28L1153.89 194.65Z"/></g><path id="dtB1" d="M1188.92 139.31h0M1254.9 133.46h0M1224 170.21h0M1250.73 199.45h0M1226.5 272.95h0M1142.14 209.47h0M1167.2 203.62h0M1284.14 186.92h0M1177.22 216.99h0M1103.72 172.72h0M1177.86 133.91h0M1180.45 136.5h0M1175.71 142.84h0M1180.68 151.03h0M1177.22 153.71h0M1289.81 197.58h0M1299.31 196.16h0M1160.89 184.16h0M1163.23 187.23h0M1162.5 195.77h0M1169.31 197.64h0M1216.57 129.61h0M1217.88 129.32h0M1224.1 131.17h0M1230.83 130.45h0"/>
<mask id="mkB1" maskUnits="userSpaceOnUse" x="1082" y="80" width="290" height="290">
<use href="#shB1" fill="#fff" stroke="none"/>
<use href="#shB1" fill="none" stroke="#fff" stroke-width="5.2" stroke-dasharray="0 4.6" stroke-linecap="round"/>
<use href="#dtB1" fill="none" stroke="#fff" stroke-width="4.3" stroke-linecap="round"/>
</mask></defs>
<g fill="#000" stroke="#000">
<use href="#shB1" stroke-width="1.6" stroke-linejoin="round"/>
<use href="#shB1" fill="none" stroke-width="6.7" stroke-dasharray="0 4.6" stroke-linecap="round"/>
<use href="#dtB1" fill="none" stroke-width="5.7" stroke-linecap="round"/>
</g>
<g mask="url(#mkB1)"><g filter="url(#blB)">
<path d="M1161.5 247.5h49v9h-49zM1169.5 263.5h49v9h-49zM1169.5 271.5h41v9h-41zM1177.5 279.5h25v9h-25zM1161.5 255.5h57v9h-57zM1169.5 231.5h17v9h-17zM1169.5 239.5h33v9h-33z" fill="#dc8c50"/><path d="M1209.5 247.5h9v9h-9zM1217.5 263.5h17v9h-17zM1209.5 271.5h33v9h-33zM1169.5 279.5h9v9h-9zM1201.5 279.5h9v9h-9zM1217.5 255.5h9v9h-9zM1177.5 287.5h25v9h-25z" fill="#dc9650"/><path d="M1217.5 247.5h9v9h-9zM1233.5 279.5h9v9h-9zM1209.5 239.5h9v9h-9z" fill="#dca050"/><path d="M1225.5 247.5h17v9h-17z" fill="#dcaa50"/><path d="M1105.5 215.5h33v9h-33zM1137.5 183.5h9v9h-9zM1105.5 223.5h25v9h-25zM1129.5 191.5h9v9h-9zM1113.5 199.5h25v9h-25zM1097.5 207.5h41v9h-41zM1145.5 175.5h9v9h-9z" fill="#d2646e"/><path d="M1137.5 215.5h9v9h-9zM1145.5 159.5h9v9h-9zM1145.5 167.5h9v9h-9z" fill="#d26464"/><path d="M1145.5 215.5h9v9h-9zM1145.5 223.5h9v9h-9zM1145.5 191.5h9v9h-9z" fill="#dc7864"/><path d="M1153.5 215.5h9v9h-9zM1153.5 223.5h9v9h-9zM1145.5 199.5h9v9h-9zM1145.5 207.5h9v9h-9z" fill="#dc785a"/><path d="M1161.5 215.5h9v9h-9zM1161.5 223.5h9v9h-9zM1153.5 191.5h17v9h-17zM1153.5 199.5h17v9h-17zM1153.5 207.5h17v9h-17zM1153.5 231.5h9v9h-9zM1153.5 239.5h9v9h-9z" fill="#dc825a"/><path d="M1169.5 215.5h9v9h-9zM1169.5 223.5h17v9h-17zM1169.5 199.5h9v9h-9zM1169.5 207.5h9v9h-9zM1161.5 231.5h9v9h-9zM1161.5 239.5h9v9h-9z" fill="#dc8c5a"/><path d="M1177.5 215.5h9v9h-9zM1233.5 263.5h9v9h-9z" fill="#dc965a"/><path d="M1193.5 215.5h9v9h-9zM1201.5 223.5h9v9h-9z" fill="#e6c85a"/><path d="M1201.5 215.5h9v9h-9zM1169.5 183.5h9v9h-9zM1209.5 223.5h17v9h-17zM1177.5 191.5h9v9h-9zM1225.5 191.5h9v9h-9zM1185.5 199.5h9v9h-9zM1225.5 199.5h9v9h-9zM1225.5 207.5h9v9h-9z" fill="#e6dc5a"/><path d="M1209.5 215.5h17v9h-17zM1193.5 183.5h25v9h-25zM1193.5 191.5h25v9h-25zM1193.5 199.5h25v9h-25zM1201.5 207.5h17v9h-17zM1193.5 175.5h9v9h-9zM1177.5 167.5h9v9h-9z" fill="#e6f05a"/><path d="M1225.5 215.5h9v9h-9z" fill="#e6d250"/><path d="M1233.5 215.5h17v9h-17zM1185.5 319.5h9v9h-9zM1225.5 319.5h17v9h-17zM1225.5 223.5h25v9h-25zM1217.5 231.5h33v9h-33zM1225.5 239.5h17v9h-17zM1193.5 311.5h9v9h-9zM1233.5 327.5h9v9h-9z" fill="#e6be50"/><path d="M1249.5 215.5h9v9h-9z" fill="#d2aa5a"/><path d="M1305.5 215.5h9v9h-9zM1329.5 199.5h25v9h-25z" fill="#1e148c"/><path d="M1313.5 215.5h41v9h-41zM1313.5 223.5h41v9h-41zM1313.5 207.5h41v9h-41zM1321.5 231.5h33v9h-33z" fill="#1e0a8c"/><path d="M1193.5 319.5h33v9h-33zM1185.5 343.5h57v9h-57zM1185.5 335.5h57v9h-57zM1185.5 351.5h41v9h-41zM1185.5 327.5h49v9h-49z" fill="#e6c850"/><path d="M1113.5 111.5h25v9h-25zM1113.5 119.5h33v9h-33zM1113.5 127.5h25v9h-25zM1129.5 135.5h17v9h-17z" fill="#aa3c96"/><path d="M1137.5 111.5h9v9h-9zM1145.5 119.5h9v9h-9zM1137.5 127.5h33v9h-33zM1145.5 135.5h33v9h-33zM1121.5 103.5h17v9h-17zM1153.5 143.5h9v9h-9z" fill="#a03c96"/><path d="M1145.5 111.5h17v9h-17zM1153.5 119.5h17v9h-17zM1169.5 127.5h9v9h-9zM1137.5 103.5h9v9h-9zM1137.5 87.5h9v9h-9zM1129.5 95.5h17v9h-17z" fill="#a03ca0"/><path d="M1161.5 111.5h9v9h-9zM1145.5 103.5h25v9h-25zM1145.5 87.5h25v9h-25zM1145.5 95.5h25v9h-25z" fill="#a032a0"/><path d="M1169.5 111.5h25v9h-25zM1169.5 103.5h25v9h-25zM1177.5 87.5h9v9h-9zM1177.5 95.5h17v9h-17z" fill="#9632aa"/><path d="M1193.5 111.5h9v9h-9zM1193.5 119.5h9v9h-9zM1201.5 127.5h17v9h-17zM1209.5 135.5h17v9h-17zM1193.5 103.5h9v9h-9zM1193.5 87.5h9v9h-9zM1193.5 95.5h9v9h-9z" fill="#8228aa"/><path d="M1201.5 111.5h25v9h-25zM1201.5 119.5h25v9h-25zM1217.5 127.5h9v9h-9zM1201.5 103.5h25v9h-25zM1201.5 87.5h25v9h-25zM1201.5 95.5h25v9h-25z" fill="#8228b4"/><path d="M1225.5 111.5h9v9h-9zM1225.5 119.5h9v9h-9zM1225.5 127.5h9v9h-9zM1225.5 103.5h9v9h-9zM1225.5 87.5h9v9h-9zM1225.5 95.5h9v9h-9z" fill="#7828b4"/><path d="M1233.5 111.5h33v9h-33zM1233.5 119.5h25v9h-25zM1241.5 127.5h17v9h-17zM1233.5 103.5h33v9h-33zM1241.5 87.5h25v9h-25zM1233.5 95.5h33v9h-33z" fill="#6e1eb4"/><path d="M1265.5 111.5h33v9h-33zM1257.5 151.5h9v9h-9zM1265.5 119.5h33v9h-33zM1265.5 127.5h25v9h-25zM1265.5 135.5h17v9h-17zM1273.5 103.5h33v9h-33zM1257.5 143.5h17v9h-17zM1281.5 87.5h9v9h-9zM1273.5 95.5h33v9h-33z" fill="#5a1eaa"/><path d="M1297.5 111.5h9v9h-9z" fill="#5a14aa"/><path d="M1305.5 111.5h9v9h-9zM1273.5 151.5h9v9h-9zM1297.5 119.5h9v9h-9zM1289.5 127.5h9v9h-9zM1281.5 135.5h9v9h-9zM1305.5 103.5h9v9h-9zM1273.5 143.5h17v9h-17z" fill="#5014aa"/><path d="M1313.5 111.5h17v9h-17zM1281.5 151.5h41v9h-41zM1305.5 119.5h33v9h-33zM1273.5 159.5h17v9h-17zM1297.5 127.5h49v9h-49zM1289.5 135.5h49v9h-49zM1289.5 143.5h49v9h-49z" fill="#4614aa"/><path d="M1097.5 183.5h41v9h-41zM1129.5 151.5h17v9h-17zM1097.5 191.5h33v9h-33zM1129.5 159.5h17v9h-17zM1097.5 199.5h17v9h-17zM1089.5 175.5h57v9h-57zM1121.5 167.5h25v9h-25z" fill="#c85a6e"/><path d="M1145.5 183.5h9v9h-9zM1137.5 191.5h9v9h-9zM1161.5 159.5h9v9h-9zM1137.5 199.5h9v9h-9zM1137.5 207.5h9v9h-9zM1153.5 175.5h9v9h-9z" fill="#d26e64"/><path d="M1153.5 183.5h9v9h-9zM1161.5 167.5h9v9h-9z" fill="#d27864"/><path d="M1161.5 183.5h9v9h-9z" fill="#dca064"/><path d="M1177.5 183.5h17v9h-17zM1177.5 175.5h17v9h-17zM1185.5 167.5h9v9h-9z" fill="#e6fa5a"/><path d="M1217.5 183.5h9v9h-9z" fill="#dcdc64"/><path d="M1225.5 183.5h9v9h-9zM1185.5 159.5h9v9h-9zM1209.5 175.5h9v9h-9zM1169.5 167.5h9v9h-9z" fill="#dcd264"/><path d="M1233.5 183.5h9v9h-9zM1241.5 207.5h9v9h-9z" fill="#dcc85a"/><path d="M1241.5 183.5h9v9h-9z" fill="#d2be64"/><path d="M1249.5 183.5h9v9h-9z" fill="#aa8c78"/><path d="M1257.5 183.5h9v9h-9z" fill="#78508c"/><path d="M1273.5 183.5h9v9h-9zM1273.5 175.5h9v9h-9zM1273.5 167.5h9v9h-9z" fill="#461ea0"/><path d="M1281.5 183.5h9v9h-9zM1329.5 151.5h17v9h-17zM1281.5 191.5h9v9h-9zM1305.5 159.5h17v9h-17zM1281.5 175.5h9v9h-9zM1337.5 143.5h9v9h-9zM1281.5 167.5h25v9h-25z" fill="#3c14a0"/><path d="M1289.5 183.5h49v9h-49zM1289.5 191.5h17v9h-17zM1321.5 159.5h25v9h-25zM1289.5 175.5h65v9h-65zM1305.5 167.5h41v9h-41z" fill="#3214a0"/><path d="M1337.5 183.5h17v9h-17zM1305.5 191.5h33v9h-33z" fill="#2814a0"/><path d="M1097.5 151.5h25v9h-25zM1097.5 143.5h33v9h-33z" fill="#be5082"/><path d="M1121.5 151.5h9v9h-9zM1089.5 159.5h33v9h-33z" fill="#be5078"/><path d="M1145.5 151.5h17v9h-17z" fill="#be5a78"/><path d="M1161.5 151.5h9v9h-9z" fill="#b45a82"/><path d="M1169.5 151.5h9v9h-9z" fill="#b46482"/><path d="M1177.5 151.5h9v9h-9z" fill="#be7882"/><path d="M1185.5 151.5h9v9h-9z" fill="#be8c78"/><path d="M1265.5 151.5h9v9h-9z" fill="#501eaa"/><path d="M1321.5 151.5h9v9h-9zM1289.5 159.5h17v9h-17zM1337.5 135.5h9v9h-9z" fill="#3c14aa"/><path d="M1105.5 119.5h9v9h-9z" fill="#aa3c8c"/><path d="M1169.5 119.5h9v9h-9zM1177.5 127.5h9v9h-9zM1185.5 135.5h9v9h-9z" fill="#963ca0"/><path d="M1177.5 119.5h9v9h-9zM1185.5 127.5h9v9h-9zM1169.5 87.5h9v9h-9zM1169.5 95.5h9v9h-9z" fill="#9632a0"/><path d="M1185.5 119.5h9v9h-9zM1193.5 127.5h9v9h-9zM1201.5 135.5h9v9h-9zM1185.5 87.5h9v9h-9z" fill="#8c32aa"/><path d="M1257.5 119.5h9v9h-9zM1257.5 127.5h9v9h-9zM1265.5 103.5h9v9h-9zM1265.5 87.5h9v9h-9zM1265.5 95.5h9v9h-9z" fill="#641eb4"/><path d="M1249.5 223.5h9v9h-9z" fill="#dcb45a"/><path d="M1169.5 191.5h9v9h-9z" fill="#dcb464"/><path d="M1185.5 191.5h9v9h-9zM1217.5 191.5h9v9h-9zM1217.5 199.5h9v9h-9zM1193.5 207.5h9v9h-9zM1217.5 207.5h9v9h-9zM1169.5 175.5h9v9h-9z" fill="#e6e65a"/><path d="M1233.5 191.5h9v9h-9zM1233.5 199.5h9v9h-9z" fill="#e6dc50"/><path d="M1241.5 191.5h9v9h-9zM1241.5 199.5h9v9h-9zM1233.5 207.5h9v9h-9z" fill="#e6d25a"/><path d="M1249.5 191.5h9v9h-9z" fill="#c8b464"/><path d="M1257.5 191.5h9v9h-9z" fill="#8c6e82"/><path d="M1273.5 191.5h9v9h-9z" fill="#461e96"/><path d="M1337.5 191.5h17v9h-17zM1297.5 199.5h33v9h-33zM1297.5 207.5h9v9h-9z" fill="#281496"/><path d="M1121.5 159.5h9v9h-9zM1089.5 167.5h33v9h-33z" fill="#c85a78"/><path d="M1153.5 159.5h9v9h-9zM1153.5 167.5h9v9h-9z" fill="#dc6e64"/><path d="M1169.5 159.5h9v9h-9z" fill="#d2966e"/><path d="M1177.5 159.5h9v9h-9z" fill="#dcc864"/><path d="M1193.5 159.5h9v9h-9z" fill="#d2c86e"/><path d="M1209.5 159.5h9v9h-9z" fill="#b48282"/><path d="M1217.5 159.5h9v9h-9z" fill="#a06e8c"/><path d="M1225.5 159.5h9v9h-9z" fill="#965a96"/><path d="M1257.5 159.5h9v9h-9z" fill="#5a28a0"/><path d="M1265.5 159.5h9v9h-9zM1265.5 167.5h9v9h-9z" fill="#501ea0"/><path d="M1105.5 127.5h9v9h-9zM1137.5 143.5h9v9h-9z" fill="#b4468c"/><path d="M1233.5 127.5h9v9h-9zM1233.5 87.5h9v9h-9z" fill="#781eb4"/><path d="M1249.5 199.5h9v9h-9z" fill="#d2b464"/><path d="M1257.5 199.5h9v9h-9z" fill="#967878"/><path d="M1273.5 199.5h9v9h-9z" fill="#462896"/><path d="M1281.5 199.5h17v9h-17z" fill="#321496"/><path d="M1097.5 135.5h17v9h-17zM1129.5 143.5h9v9h-9z" fill="#b45082"/><path d="M1113.5 135.5h9v9h-9z" fill="#b44682"/><path d="M1121.5 135.5h9v9h-9z" fill="#aa468c"/><path d="M1177.5 135.5h9v9h-9zM1145.5 143.5h9v9h-9zM1161.5 143.5h17v9h-17z" fill="#a04696"/><path d="M1193.5 135.5h9v9h-9z" fill="#8c3ca0"/><path d="M1225.5 135.5h17v9h-17z" fill="#7828aa"/><path d="M1241.5 135.5h9v9h-9z" fill="#6e1eaa"/><path d="M1249.5 135.5h17v9h-17zM1273.5 87.5h9v9h-9z" fill="#641eaa"/><path d="M1177.5 207.5h9v9h-9z" fill="#dca05a"/><path d="M1249.5 207.5h9v9h-9z" fill="#c8aa64"/><path d="M1305.5 207.5h9v9h-9z" fill="#28148c"/><path d="M1161.5 175.5h9v9h-9z" fill="#dc9664"/><path d="M1201.5 175.5h9v9h-9zM1193.5 167.5h9v9h-9z" fill="#dce664"/><path d="M1217.5 175.5h9v9h-9z" fill="#d2c864"/><path d="M1225.5 175.5h9v9h-9zM1209.5 167.5h9v9h-9z" fill="#c8b46e"/><path d="M1233.5 175.5h9v9h-9z" fill="#bea06e"/><path d="M1265.5 175.5h9v9h-9z" fill="#5028a0"/><path d="M1209.5 279.5h25v9h-25zM1185.5 295.5h17v9h-17zM1201.5 287.5h9v9h-9z" fill="#e6a050"/><path d="M1177.5 143.5h9v9h-9z" fill="#aa508c"/><path d="M1185.5 143.5h9v9h-9z" fill="#a05a96"/><path d="M1193.5 143.5h9v9h-9z" fill="#a05096"/><path d="M1201.5 167.5h9v9h-9z" fill="#d2d264"/><path d="M1217.5 167.5h9v9h-9z" fill="#b49678"/><path d="M1225.5 167.5h9v9h-9z" fill="#aa8282"/><path d="M1193.5 303.5h41v9h-41zM1201.5 295.5h25v9h-25zM1209.5 287.5h17v9h-17z" fill="#e6aa50"/><path d="M1209.5 231.5h9v9h-9z" fill="#e6be5a"/><path d="M1249.5 231.5h9v9h-9z" fill="#d2b45a"/><path d="M1217.5 239.5h9v9h-9zM1241.5 239.5h9v9h-9z" fill="#dcb450"/><path d="M1185.5 311.5h9v9h-9zM1201.5 311.5h33v9h-33z" fill="#e6b450"/>
</g></g>
<ellipse cx="1168.87" cy="118.42" rx="1.67" ry="2.34" fill="#fff" stroke="#000" stroke-width="0.6"/>
<ellipse cx="1282.47" cy="146.82" rx="2.34" ry="1.67" fill="#fff" stroke="#000" stroke-width="0.6"/>
<ellipse cx="1312.54" cy="135.13" rx="1.34" ry="2.67" fill="#fff" stroke="#000" stroke-width="0.6"/>
<ellipse cx="1299.17" cy="120.09" rx="1.67" ry="1.34" fill="#fff" stroke="#000" stroke-width="0.6"/>
<ellipse cx="1279.13" cy="153.5" rx="2.34" ry="1.34" fill="#fff" stroke="#000" stroke-width="0.6"/>
<ellipse cx="1315.88" cy="180.23" rx="2.34" ry="1" fill="#fff" stroke="#000" stroke-width="0.6"/>
<ellipse cx="1309.2" cy="161.86" rx="1.34" ry="1" fill="#fff" stroke="#000" stroke-width="0.6"/>
<ellipse cx="1320.89" cy="141.81" rx="1" ry="1.67" fill="#fff" stroke="#000" stroke-width="0.6"/>
<ellipse cx="1148.82" cy="104.22" rx="1.17" ry="0.84" fill="#fff" stroke="#000" stroke-width="0.6"/>
<ellipse cx="1137.13" cy="115.08" rx="1.17" ry="0.84" fill="#fff" stroke="#000" stroke-width="0.6"/>
<ellipse cx="1148.82" cy="131.79" rx="1.34" ry="0.84" fill="#fff" stroke="#000" stroke-width="0.6"/>
<ellipse cx="1125.43" cy="201.95" rx="1" ry="0.84" fill="#fff" stroke="#000" stroke-width="0.6"/>
<ellipse cx="1160.52" cy="171.88" rx="1.34" ry="1" fill="#fff" stroke="#000" stroke-width="0.6"/>
<ellipse cx="1115.41" cy="175.22" rx="1" ry="0.84" fill="#fff" stroke="#000" stroke-width="0.6"/>
<ellipse cx="1292.49" cy="135.13" rx="1" ry="0.84" fill="#fff" stroke="#000" stroke-width="0.6"/>
<ellipse cx="1205.62" cy="118.42" rx="0.84" ry="0.67" fill="#fff" stroke="#000" stroke-width="0.6"/>
<ellipse rx="1.33" ry="0.85" transform="translate(1162.15 159.49) rotate(149.47)" fill="#fff" stroke="#000" stroke-width="0.6"/>
<ellipse rx="2.48" ry="1.7" transform="translate(1307.86 145.99) rotate(104.82)" fill="#fff" stroke="#000" stroke-width="0.6"/>
<ellipse rx="1.93" ry="0.87" transform="translate(1141.36 176.31) rotate(122.98)" fill="#fff" stroke="#000" stroke-width="0.6"/>
<ellipse rx="2.28" ry="1.48" transform="translate(1297.25 144.02) rotate(164.28)" fill="#fff" stroke="#000" stroke-width="0.6"/>
<ellipse rx="2.91" ry="2.06" transform="translate(1265.5 130.1) rotate(10.06)" fill="#fff" stroke="#000" stroke-width="0.6"/>
<ellipse rx="2.63" ry="2.06" transform="translate(1143.42 179.11) rotate(5.08)" fill="#fff" stroke="#000" stroke-width="0.6"/>
<ellipse rx="3.15" ry="1.96" transform="translate(1149.86 109.64) rotate(58.25)" fill="#fff" stroke="#000" stroke-width="0.6"/>
<ellipse rx="1.52" ry="1.62" transform="translate(1334.56 208.35) rotate(31.56)" fill="#fff" stroke="#000" stroke-width="0.6"/>
<ellipse rx="3.3" ry="1.06" transform="translate(1287.97 125.81) rotate(159.36)" fill="#fff" stroke="#000" stroke-width="0.6"/>
<ellipse rx="1.62" ry="1.17" transform="translate(1323.85 157.17) rotate(12.2)" fill="#fff" stroke="#000" stroke-width="0.6"/>
<ellipse rx="1.89" ry="1.57" transform="translate(1323.32 164.16) rotate(18.26)" fill="#fff" stroke="#000" stroke-width="0.6"/>
<ellipse rx="1.17" ry="1.97" transform="translate(1273.19 114.48) rotate(53.08)" fill="#fff" stroke="#000" stroke-width="0.6"/>
<ellipse rx="2.28" ry="2.04" transform="translate(1141.9 146.47) rotate(16.76)" fill="#fff" stroke="#000" stroke-width="0.6"/>
<ellipse rx="1.66" ry="1.15" transform="translate(1284.06 129.91) rotate(8.93)" fill="#fff" stroke="#000" stroke-width="0.6"/>
<ellipse rx="1.72" ry="1.37" transform="translate(1172.8 102.34) rotate(88.04)" fill="#fff" stroke="#000" stroke-width="0.6"/>
<ellipse rx="2.27" ry="1.08" transform="translate(1266.56 103.73) rotate(159.39)" fill="#fff" stroke="#000" stroke-width="0.6"/>
<ellipse rx="3.13" ry="2.06" transform="translate(1310.51 128.8) rotate(12.06)" fill="#fff" stroke="#000" stroke-width="0.6"/>
<ellipse rx="3.2" ry="2.07" transform="translate(1136.34 178.42) rotate(101.28)" fill="#fff" stroke="#000" stroke-width="0.6"/>
<ellipse rx="1.56" ry="1.83" transform="translate(1324.59 139.86) rotate(165.75)" fill="#fff" stroke="#000" stroke-width="0.6"/>
<ellipse rx="1.66" ry="1.49" transform="translate(1306.26 135.59) rotate(125.31)" fill="#fff" stroke="#000" stroke-width="0.6"/>
<ellipse rx="1.98" ry="1.7" transform="translate(1308.4 130.53) rotate(33.83)" fill="#fff" stroke="#000" stroke-width="0.6"/>
<ellipse rx="1.37" ry="1.25" transform="translate(1307.18 167.49) rotate(91.22)" fill="#fff" stroke="#000" stroke-width="0.6"/>
<ellipse rx="2.07" ry="2.06" transform="translate(1311.24 127.53) rotate(126.83)" fill="#fff" stroke="#000" stroke-width="0.6"/>
<ellipse rx="1.07" ry="1.33" transform="translate(1260.05 108.65) rotate(106.93)" fill="#fff" stroke="#000" stroke-width="0.6"/>
<ellipse rx="2.75" ry="1.76" transform="translate(1187.52 114.61) rotate(51.31)" fill="#fff" stroke="#000" stroke-width="0.6"/>
<ellipse rx="1.24" ry="1.52" transform="translate(1308.02 149.74) rotate(119.22)" fill="#fff" stroke="#000" stroke-width="0.6"/>
<ellipse rx="2.52" ry="1.65" transform="translate(1312.84 146.29) rotate(53.73)" fill="#fff" stroke="#000" stroke-width="0.6"/>
<ellipse rx="3.11" ry="1.91" transform="translate(1174.58 112.57) rotate(144.43)" fill="#fff" stroke="#000" stroke-width="0.6"/>
<ellipse rx="1.72" ry="1.89" transform="translate(1121.38 143.44) rotate(59.64)" fill="#fff" stroke="#000" stroke-width="0.6"/>
<ellipse rx="2.1" ry="1.99" transform="translate(1164.87 134.23) rotate(105.04)" fill="#fff" stroke="#000" stroke-width="0.6"/>
<ellipse rx="3.03" ry="1.35" transform="translate(1324.55 165.27) rotate(53.7)" fill="#fff" stroke="#000" stroke-width="0.6"/>
<ellipse rx="1.74" ry="1.79" transform="translate(1328.92 158.82) rotate(140.21)" fill="#fff" stroke="#000" stroke-width="0.6"/>
<path d="M1143.61 185.42l-0.35 0.95M1291.99 115.37l-0.55 1.07M1292.83 163.63l0.44 0.98M1149.34 146.12l0 -0.72M1310.28 118.68l0.57 0.89M1174.43 133.75l-0.7 -0.71M1283.52 179.69l-0.6 0.28M1327.59 144.04l-0.83 -0.94M1331.86 150.67l1.01 0.42M1132.02 200.39l0.39 0.27M1248.44 115.43l0.63 0.1M1163.66 170.42l-1.1 -0.04M1103.72 193.73l0.29 -0.02M1137.59 194.55l1.16 0.95M1125.35 198.09l0.89 -0.02M1125.69 119.89l1.16 1M1149.43 129.56l-0.53 -0.67M1231.55 120.35l0.18 -1.07M1277.33 134.43l0.72 -0.05M1108.71 164.65l0.1 0.01M1310.79 190.61l-0.26 0.45M1124.43 128.5l-0.78 1.14M1302.25 137.04l0.48 -0.1M1286.24 104.31l0.45 -1.17M1315.05 189.76l-0.69 0.19M1142 143.78l-0.42 0.27M1305.65 117.52l-0.58 0.12M1167.73 148.02l-0.63 -0.07M1314.71 210.29l0.27 -0.32M1127.41 194.69l0 -0.69M1139.18 152.57l0.48 -0.31M1270.97 117.28l0.85 -0.53M1106.02 192.93l-0.77 -0.89M1127.38 151.86l0.18 -0.65M1276.6 104.34l-0.96 -0.55M1266.73 127.4l-0.63 -0.16M1112.56 186.76l-0.29 -0.85M1117.72 163.94l1.1 -0.84M1158.38 159.05l0.73 -0.78M1302.17 157.4l0 1.19M1316.22 157.24l0.84 0.04M1128.85 164.8l0.53 0.68M1264.61 105.46l-0.48 0.15M1127.66 204.19l0.16 -0.24M1155.01 141.35l0.46 -1.06M1140.39 111.14l0.75 -0.06M1125.87 181.87l0.31 -0.12M1126.07 152.34l-0.4 -0.33M1334 215.94l0.14 1.04M1311.7 162.63l-0.58 -1.15M1143.7 177.01l-0.91 0.88M1284.2 109.33l1.11 -0.72M1322.84 165.82l0.18 0.36M1331.28 204.65l-0.78 0.67M1132.57 152.08l-0.35 0.42M1317.26 197.05l-0.03 0.57M1336.26 185.13l0.94 -0.29M1172.49 141.94l-0.51 0.32M1180.57 107.37l-0.85 -0.8M1312.36 133.01l0.74 -0.39M1313.86 211.55l0.32 0.17M1135.61 190.8l0.84 -1.03M1139.57 133.12l-0.81 -0.65M1274.07 134.4l-0.44 -0.5M1319.12 201.21l-0.56 0.35M1318.31 201.65l-0.55 -0.13M1319.65 214.81l0.87 -0.33M1330.16 195.96l0.21 1.12M1173.4 116.7l-0.21 -0.76M1272.05 118.14l-1.14 0.55M1142.84 167.28l0.39 1.06M1240.04 109.58l0.48 -1.01M1138.01 113.13l-0.8 -0.95M1335.46 182.58l-1.05 0.91M1297.79 137.81l0.12 -1.14M1154.56 117.67l-0.25 0.64M1116.02 165.97l-1 -0.57M1122.05 123.28l-0.83 0.37M1152.88 139.92l0.93 -0.46M1289.82 169.78l-0.61 -0.52M1268.57 157.03l0.3 -0.88M1328.38 182.29l0.81 -1.13M1272.02 138.28l0.39 0.86M1307.46 146.4l-0.42 -0.06M1302.56 157.01l1.14 0.1M1147.59 167.29l-0.55 -0.13M1318.34 153.8l1.13 0.47M1125.1 170.88l-0.78 0.23M1337.33 202.32l0.31 0.33M1137.75 159.07l0.15 0.06M1112.49 209.43l0.33 -0.46M1156.51 128.91l-0.37 0.1M1290.66 178.07l0.73 -0.14M1276.68 100.94l-0.32 -0.58M1298.52 135.33l-0.47 -1.2M1120.67 205.08l0.76 0.84M1234.17 110.53l-0.37 -0.07M1135.29 191.85l-1.18 1.01M1330.84 209.55l1.07 -0.06M1283.9 146.12l-1.18 -0.17M1239.65 108.55l-0.5 -0.65M1328.14 141.72l-1.18 -0.3M1228.86 114.22l-0.21 0.15M1148.05 117.29l-0.25 -0.81M1282.95 163.27l0.57 -0.26M1182.72 109.3l-0.29 -0.57M1265.15 105.07l-0.19 -0.63M1161.22 123.33l0.63 0.98M1286.56 155.59l0.74 0.44M1143.34 181.23l-0.52 0.58M1134.26 171.01l0.74 -0.21M1103.44 166.28l0.85 -0.76M1106.63 177.51l-0.5 0.33M1328.84 172.96l0.28 -0.55M1314.03 211.29l0.29 -0.75M1254.63 114.96l-1.15 -1.08M1285.57 162.72l0.08 -0.75M1222.53 99.47l-0.95 -0.55M1214.15 97.01l0.52 0.55M1277.4 168.41l-0.64 -0.84M1142.85 188.3l-0.02 -0.38M1310.85 167.7l-0.45 0.72M1319.04 163.22l1.2 -0.09M1226.14 110.92l0.7 -0.41M1262.1 121.83l0.82 1.08M1146.17 144.48l-1.07 0.66M1280.85 107.81l-1.03 -0.07M1281.6 162.42l-0.74 0.82M1220.29 121.7l0.76 0.79M1244.33 114.25l-0.91 0.64M1258.56 95.92l-0.6 0.65M1244.02 98.43l-0.14 0.57M1164.28 117.09l-1.12 -0.09M1170.68 102.92l0.65 0.05M1309.56 180.36l1.16 -0.07M1144.89 189.2l0.44 -0.45M1196.58 106.35l-0.42 0.31M1108.62 207.88l-1.1 1.05M1226.51 107.69l0.05 -0.59M1221.16 109.62l0.33 -0.72M1326.47 206.53l0.93 0.87M1233.24 124.53l-0.68 -0.93M1275.62 104.72l0.32 -0.42M1132.7 161.76l-0.8 -0.54M1202.47 118.44l-0.91 0.69M1245.47 107.74l-1.18 -1.1M1273.35 137.52l0.68 -0.06M1190.7 113.29l0.23 -0.31M1264.16 128.16l-0.99 -0.82M1315.81 153.71l-0.98 0.28M1315.81 189.15l1.03 1.19M1288.59 157.17l0.3 -1.06M1276.28 114.35l0.35 0.48M1153.16 150.25l0.7 -0.9M1209.26 99.66l-0.64 1.16M1155.02 102.06l0.69 0.62M1108.29 147.81l0.73 -0.15M1306.98 186.29l-0.74 0.45M1210.17 120.35l-0.34 -0.88M1157.53 115.51l0.96 -0.04M1121.6 132.8l-0.15 -0.49M1202.09 106.03l0.47 -0.74M1117.09 134.26l-0.75 -0.37M1339.18 210.75l0.56 -0.54M1341.64 221.75l0.8 0.99M1305.18 176.46l0.13 -1.03M1270.59 124.59l-0.83 -0.49M1310.02 127.35l-0.57 -0.32M1122.32 191.31l-1.2 0.33M1335.21 161.67l-0.29 -0.75" fill="none" stroke="#111" stroke-width="1" stroke-linecap="round" opacity="0.85"/>
<path d="M1109.76 180.71L1110.35 173.2L1109.86 167.08L1111.7 158.37L1113.77 150.16L1122.16 148.64L1121.86 142L1116.56 135.16L1123.19 128.89L1134.96 127.27L1136.73 118.4L1145.78 118.52L1155.95 118.63L1162.22 112.01L1171.88 104.88L1177.36 109.91L1182.81 115.53L1192.25 118.94L1193.37 110.47L1203.36 111.82L1211.22 106.62L1210.46 101.16L1215.65 100.05M1211.07 106.42L1220.04 107.83L1230.42 105.65L1239.65 114.54L1247.69 108.44L1256.99 105.93L1267.1 107.73L1266.17 115.83L1265.65 122.91L1271.79 128.26L1277.4 133.68L1276.3 140.53L1273.69 148.36L1280.58 147.76L1288.15 147.86L1293.96 147.41L1298.16 156.61L1290.65 162.21L1297.41 168.84L1307.67 171.13L1313.83 171.68L1321.46 171.27L1328.19 171.81L1330.78 178.87L1326.55 183.7L1324.26 192.59L1317.28 193.33L1316.71 201.95M1110.03 180.71L1116.44 184.01L1124.02 178.26L1133.86 186.99L1146.05 188.13L1153.22 195.08L1155.02 201.77L1157.29 208.28L1162.6 216.44L1168.74 222.56L1169.18 232.32L1172.6 238.27L1175.99 245.64L1180.67 252.61L1185.7 258.48L1192.57 262.19L1196.71 258.99L1207.65 266.9L1212.73 273.67L1211.13 284.3L1215.28 292.37L1215.78 301.53L1221.03 313.72L1222.07 323.29L1217.37 331.79L1210.64 333.55L1206.69 344.26L1202.14 349.72L1198.94 347.29M1192.38 262.1L1190.22 266.82L1185.58 270.44M1212.16 273.29L1210.91 265.53L1210.03 256.95L1213.98 250.96L1218.8 244.34L1221.84 238.78L1232.33 237.24L1235.29 230.51L1242.69 226.67L1238.46 219.03L1232.11 214.21L1231.8 207.19L1227.24 198.41L1222.09 197.06L1220.02 188.33L1212.96 187.07L1202.94 188.51L1195.6 193.6M1221.85 196.33L1222.75 204.89L1218.82 213.99L1212.3 218.66" fill="none" stroke="#4A4A4A" stroke-width="1.5" stroke-linejoin="round" stroke-linecap="round"/>
<circle cx="1316.71" cy="201.95" r="2.6" fill="#fff" stroke="#111" stroke-width="0.7"/>
<text x="1316.71" y="203.35" font-size="3.8" text-anchor="middle" fill="#000">1</text>
<defs><g id="shB2"><path d="M1618.52 235.1L1619.41 232.62L1624.2 227.99L1626.7 221.55L1626.91 216.59L1626.84 211.2L1626.77 207.22L1625.18 201.75L1623.73 196.23L1622.61 190.44L1620.32 185.17L1617.84 181.7L1614.86 175.95L1613.7 172.79L1612.77 166.47L1612.29 160.98L1611.1 156.2L1611.61 151.72L1613.85 145.93L1616.07 143.11L1616.8 138.19L1615.67 133.58L1611.25 131.42L1607.25 127.61L1602.66 126.03L1598.28 123.99L1591.32 124.16L1587.94 118.62L1583.95 113.29L1579.68 110.01L1574.68 106.9L1571.1 104.39L1567.2 102.44L1563.62 100.18L1556.27 99.05L1551.52 97.58L1547.62 98.24L1540.09 97.87L1536.49 98.69L1530.07 98.06L1523.55 96.49L1519.64 96.86L1512.53 94.6L1506.89 93.39L1502.33 94.66L1497.73 93.24L1493.09 94.82L1487.49 97.01L1485.19 96.1L1477.49 100.52L1471.47 98.55L1468.37 96.4L1462.32 97.05L1458.46 96.16L1454 94.72L1448.08 94.17L1444.48 94.61L1440.28 95.04L1435.72 96.54L1430.12 99.96L1426.43 100.3L1421.63 101.71L1416.93 107.54L1413.32 112.31L1410.29 116L1407.28 120.62L1404.02 124.75L1401.58 126.88L1398.16 130.43L1397.06 136.09L1393.47 142.73L1392.16 149.64L1389.78 153.05L1390.2 161.69L1390.08 167.02L1388.25 171.43L1387.51 175.79L1386.47 181.05L1386.85 186.52L1386.98 193.99L1388.12 199.82L1389.97 206.76L1391.54 210.75L1394.66 214.56L1397.45 219.67L1398.44 224.19L1401.24 227.57L1405.71 223.42L1409.21 221.19L1414.13 217.29L1418.55 213.12L1422.95 209.05L1425.11 205.23L1428.23 201.93L1433.11 194.29L1436.76 191.85L1440.09 185.61L1443.76 183.72L1447.54 181.42L1454.81 176.12L1456.42 171.9L1459.2 169.11L1456.92 160.95L1455.76 154.46L1456.94 149.95L1456.28 143.98L1456.07 138.26L1458.97 132.59L1460.17 128.13L1466.14 129.22L1470.29 129.8L1475.79 128.2L1480.44 127.09L1484.83 129.61L1490.48 130.99L1495.13 130.63L1500.76 132.58L1506.32 130.62L1513.16 129.24L1516.44 127.45L1522.25 124.19L1527.99 124.8L1532.25 126.27L1535.57 129.91L1539.38 133.69L1542.58 137.21L1543.72 143.33L1542.61 148.72L1543.23 153.61L1545.51 158.37L1548.07 161.76L1551.64 167.27L1555.92 172.23L1559.41 176.1L1561.97 178.98L1562.72 188.09L1568.34 190.41L1574.13 191.61L1578.58 192.74L1576.06 197.05L1571.43 202.61L1567.37 206.34L1574.98 211.65L1580.95 212.74L1586.99 216.42L1591.49 218.31L1594.69 221.59L1599.29 222.3L1604.36 224.94L1610.12 229.09L1613.54 231.1Z"/><path d="M1458.33 175.92L1463.97 175.23L1468.39 174.87L1474.31 179.77L1477.34 181.57L1483.98 183.55L1489.68 186.9L1494.53 188.13L1497.46 190.6L1499.17 193.65L1499.14 198.61L1508.84 198.65L1509.61 203.43L1509.87 209.03L1514.9 212.55L1519.79 214.36L1522.3 221.88L1520.16 230.91L1524.93 237.04L1518.91 241.24L1514.59 243.67L1510.1 243.83L1508.2 242.24L1507.12 237.98L1505.1 232.47L1500.01 229.39L1494.63 227.11L1494.7 224.48L1501.65 221.76L1503.53 214.08L1507.23 209.98L1502.9 205.6L1497.85 201.41L1493.67 199.97L1488 197.15L1481.41 195.71L1477.49 193.63L1472.71 193.79L1467.49 190.77L1462.36 185.31L1456.52 183.54Z"/><path d="M1470.9 341.72L1474.63 339.52L1477.58 337.19L1483.84 333.2L1488.94 329.25L1494.5 334.08L1499.99 336.99L1503.26 337.98L1509.17 338.84L1515.68 338.56L1512.62 345.49L1507.24 345.53L1502.35 346.88L1497.57 349.95L1492.18 351.4L1487.74 352.95L1483.33 352.12L1478.92 350.25L1475.01 347.61Z"/><path d="M1433.04 224.71L1439.46 221.68L1448.93 220.64L1451.99 223.64L1454.95 227.28L1456.55 234.77L1455.22 241.58L1455.01 247.14L1456.34 251.47L1459.43 254.89L1457.75 248.48L1454.63 244.62L1452.19 240.92L1448.99 236.96L1444.63 233.99L1442.12 230.2L1435.25 227.78Z"/><path d="M1461.18 261.92L1462.89 260.41L1468.38 264.2L1470.94 269.31L1475.99 274.32L1474.2 279.27L1472.46 278.47L1469.46 273.97L1465.84 270.63L1461.51 266.88Z"/></g><path id="dtB2" d="M1527.55 136.8h0M1526.38 151.33h0M1483.28 133.46h0M1477.43 257.08h0M1494.97 260.42h0M1484.95 266.27h0M1510.84 278.46h0M1477.43 292.16h0M1466.58 247.06h0M1605.23 231.19h0M1463.23 143.48h0M1465.24 159.35h0M1436.41 204.84h0M1437.53 210.68h0M1440.49 215.12h0M1440.64 221.7h0M1443.59 222.42h0M1457.73 251.39h0M1459.5 253.31h0M1462.68 259.57h0M1479.71 275.2h0M1482.09 280.7h0M1486.3 285.86h0M1485.07 288.68h0M1488.17 293.62h0M1490.03 296.92h0M1495.3 299.64h0M1497.8 305.23h0M1495.62 311.91h0M1495.82 314.71h0M1494.83 319.36h0M1463.85 142.32h0M1465.32 147.92h0M1461.77 149.3h0M1465.31 157.27h0M1491.75 226.32h0M1492.14 229.35h0M1496.04 236.74h0M1504.26 235.58h0M1504.49 238.25h0M1506.27 244.73h0"/>
<mask id="mkB2" maskUnits="userSpaceOnUse" x="1363" y="80" width="290" height="290">
<use href="#shB2" fill="#fff" stroke="none"/>
<use href="#shB2" fill="none" stroke="#fff" stroke-width="5.2" stroke-dasharray="0 4.6" stroke-linecap="round"/>
<use href="#dtB2" fill="none" stroke="#fff" stroke-width="4.3" stroke-linecap="round"/>
</mask></defs>
<g fill="#000" stroke="#000">
<use href="#shB2" stroke-width="1.6" stroke-linejoin="round"/>
<use href="#shB2" fill="none" stroke-width="6.7" stroke-dasharray="0 4.6" stroke-linecap="round"/>
<use href="#dtB2" fill="none" stroke-width="5.7" stroke-linecap="round"/>
</g>
<g mask="url(#mkB2)"><g filter="url(#blB)">
<path d="M1442.5 247.5h17v9h-17zM1482.5 215.5h9v9h-9zM1482.5 223.5h9v9h-9zM1498.5 199.5h17v9h-17zM1490.5 207.5h9v9h-9zM1522.5 207.5h9v9h-9zM1458.5 231.5h17v9h-17zM1482.5 231.5h9v9h-9zM1458.5 239.5h17v9h-17zM1482.5 239.5h17v9h-17z" fill="#e6b45a"/><path d="M1458.5 247.5h9v9h-9zM1498.5 215.5h9v9h-9zM1450.5 263.5h33v9h-33zM1450.5 271.5h25v9h-25zM1506.5 207.5h9v9h-9zM1450.5 255.5h33v9h-33zM1506.5 231.5h9v9h-9z" fill="#e6be50"/><path d="M1466.5 247.5h25v9h-25zM1490.5 215.5h9v9h-9zM1522.5 215.5h9v9h-9zM1490.5 223.5h9v9h-9zM1522.5 223.5h9v9h-9zM1498.5 207.5h9v9h-9zM1514.5 207.5h9v9h-9zM1442.5 255.5h9v9h-9zM1482.5 255.5h9v9h-9zM1490.5 231.5h17v9h-17zM1514.5 231.5h17v9h-17zM1498.5 239.5h25v9h-25z" fill="#e6be5a"/><path d="M1490.5 247.5h33v9h-33zM1514.5 199.5h9v9h-9zM1522.5 239.5h9v9h-9z" fill="#dcb45a"/><path d="M1378.5 215.5h49v9h-49zM1418.5 183.5h41v9h-41zM1386.5 223.5h33v9h-33zM1394.5 199.5h49v9h-49zM1386.5 207.5h49v9h-49zM1418.5 175.5h33v9h-33zM1458.5 175.5h9v9h-9zM1418.5 167.5h25v9h-25zM1474.5 167.5h9v9h-9zM1418.5 191.5h33v9h-33z" fill="#e69650"/><path d="M1426.5 215.5h9v9h-9zM1458.5 183.5h41v9h-41zM1442.5 199.5h9v9h-9zM1466.5 199.5h25v9h-25zM1434.5 207.5h9v9h-9zM1466.5 175.5h25v9h-25zM1458.5 191.5h41v9h-41z" fill="#e6a050"/><path d="M1434.5 215.5h9v9h-9zM1450.5 215.5h9v9h-9zM1426.5 223.5h9v9h-9zM1442.5 207.5h9v9h-9zM1426.5 231.5h9v9h-9z" fill="#e6aa50"/><path d="M1442.5 215.5h9v9h-9zM1434.5 223.5h25v9h-25zM1434.5 231.5h25v9h-25zM1434.5 239.5h25v9h-25z" fill="#e6b450"/><path d="M1458.5 215.5h9v9h-9zM1458.5 223.5h9v9h-9zM1490.5 199.5h9v9h-9zM1450.5 207.5h9v9h-9z" fill="#e6aa5a"/><path d="M1506.5 215.5h17v9h-17zM1498.5 223.5h25v9h-25z" fill="#f0be50"/><path d="M1562.5 215.5h9v9h-9zM1562.5 207.5h9v9h-9z" fill="#32148c"/><path d="M1570.5 215.5h9v9h-9zM1578.5 199.5h9v9h-9zM1570.5 207.5h9v9h-9z" fill="#28148c"/><path d="M1578.5 215.5h9v9h-9zM1626.5 215.5h9v9h-9zM1578.5 223.5h9v9h-9zM1626.5 223.5h9v9h-9zM1586.5 199.5h9v9h-9zM1610.5 199.5h9v9h-9zM1578.5 207.5h9v9h-9zM1626.5 207.5h9v9h-9zM1618.5 231.5h17v9h-17z" fill="#1e148c"/><path d="M1586.5 215.5h41v9h-41zM1586.5 223.5h41v9h-41zM1594.5 199.5h17v9h-17zM1586.5 207.5h41v9h-41zM1594.5 231.5h25v9h-25z" fill="#1e0a8c"/><path d="M1474.5 319.5h33v9h-33zM1458.5 343.5h65v9h-65zM1466.5 335.5h57v9h-57zM1466.5 351.5h49v9h-49zM1466.5 327.5h57v9h-57z" fill="#e6fa5a"/><path d="M1394.5 111.5h9v9h-9zM1402.5 119.5h9v9h-9zM1418.5 127.5h17v9h-17zM1442.5 127.5h9v9h-9z" fill="#d26e64"/><path d="M1402.5 111.5h9v9h-9zM1410.5 119.5h9v9h-9z" fill="#d26464"/><path d="M1410.5 111.5h33v9h-33zM1418.5 119.5h25v9h-25zM1402.5 103.5h41v9h-41zM1418.5 87.5h9v9h-9zM1402.5 95.5h33v9h-33z" fill="#d2646e"/><path d="M1442.5 111.5h9v9h-9zM1442.5 119.5h9v9h-9zM1434.5 87.5h9v9h-9z" fill="#c85a78"/><path d="M1450.5 111.5h17v9h-17zM1458.5 119.5h9v9h-9zM1450.5 103.5h17v9h-17zM1450.5 87.5h17v9h-17zM1450.5 95.5h17v9h-17z" fill="#be5082"/><path d="M1466.5 111.5h9v9h-9zM1466.5 119.5h9v9h-9zM1474.5 127.5h9v9h-9zM1466.5 103.5h9v9h-9zM1466.5 87.5h9v9h-9zM1466.5 95.5h9v9h-9z" fill="#b4468c"/><path d="M1474.5 111.5h17v9h-17zM1474.5 119.5h17v9h-17zM1474.5 103.5h17v9h-17zM1474.5 87.5h9v9h-9zM1474.5 95.5h9v9h-9z" fill="#b44696"/><path d="M1490.5 111.5h9v9h-9zM1490.5 119.5h9v9h-9zM1490.5 103.5h9v9h-9zM1482.5 87.5h9v9h-9z" fill="#aa3c96"/><path d="M1498.5 111.5h9v9h-9zM1498.5 119.5h9v9h-9zM1498.5 103.5h9v9h-9z" fill="#a032aa"/><path d="M1506.5 111.5h25v9h-25zM1506.5 119.5h25v9h-25zM1506.5 127.5h17v9h-17zM1514.5 135.5h9v9h-9zM1506.5 103.5h25v9h-25zM1506.5 87.5h17v9h-17zM1506.5 95.5h25v9h-25z" fill="#9632aa"/><path d="M1530.5 111.5h33v9h-33zM1538.5 119.5h17v9h-17zM1538.5 127.5h9v9h-9zM1530.5 103.5h33v9h-33zM1546.5 87.5h17v9h-17zM1538.5 95.5h25v9h-25z" fill="#8228b4"/><path d="M1562.5 111.5h9v9h-9zM1546.5 135.5h9v9h-9zM1570.5 87.5h9v9h-9zM1570.5 95.5h9v9h-9z" fill="#6e1eaa"/><path d="M1570.5 111.5h41v9h-41zM1546.5 151.5h17v9h-17zM1570.5 119.5h33v9h-33zM1546.5 159.5h9v9h-9zM1562.5 127.5h41v9h-41zM1562.5 135.5h33v9h-33zM1586.5 103.5h9v9h-9zM1554.5 143.5h25v9h-25z" fill="#5a1eaa"/><path d="M1378.5 183.5h33v9h-33zM1378.5 175.5h33v9h-33zM1386.5 167.5h17v9h-17z" fill="#dc8250"/><path d="M1410.5 183.5h9v9h-9zM1442.5 151.5h25v9h-25zM1442.5 159.5h25v9h-25zM1386.5 199.5h9v9h-9zM1378.5 207.5h9v9h-9zM1450.5 143.5h17v9h-17zM1442.5 167.5h17v9h-17zM1410.5 191.5h9v9h-9z" fill="#e68c50"/><path d="M1498.5 183.5h9v9h-9zM1490.5 175.5h9v9h-9zM1466.5 167.5h9v9h-9z" fill="#dc965a"/><path d="M1554.5 183.5h9v9h-9zM1554.5 175.5h9v9h-9zM1554.5 167.5h9v9h-9z" fill="#461ea0"/><path d="M1562.5 183.5h17v9h-17zM1586.5 151.5h33v9h-33zM1578.5 159.5h41v9h-41zM1562.5 175.5h41v9h-41zM1602.5 143.5h25v9h-25zM1570.5 167.5h41v9h-41z" fill="#3c14a0"/><path d="M1578.5 183.5h57v9h-57zM1618.5 159.5h9v9h-9zM1602.5 175.5h25v9h-25zM1610.5 167.5h17v9h-17z" fill="#3214a0"/><path d="M1378.5 151.5h17v9h-17zM1418.5 151.5h9v9h-9zM1394.5 159.5h25v9h-25zM1450.5 135.5h9v9h-9zM1418.5 143.5h9v9h-9z" fill="#dc785a"/><path d="M1394.5 151.5h25v9h-25zM1386.5 119.5h17v9h-17zM1386.5 127.5h33v9h-33zM1434.5 127.5h9v9h-9zM1378.5 135.5h41v9h-41zM1386.5 143.5h33v9h-33z" fill="#dc6e64"/><path d="M1426.5 151.5h17v9h-17zM1466.5 151.5h9v9h-9zM1378.5 159.5h17v9h-17zM1418.5 159.5h25v9h-25zM1426.5 135.5h25v9h-25zM1426.5 143.5h25v9h-25zM1378.5 167.5h9v9h-9zM1402.5 167.5h17v9h-17z" fill="#dc825a"/><path d="M1514.5 151.5h9v9h-9zM1514.5 143.5h9v9h-9z" fill="#8c32a0"/><path d="M1522.5 151.5h9v9h-9z" fill="#8232a0"/><path d="M1530.5 151.5h9v9h-9zM1538.5 135.5h9v9h-9zM1530.5 143.5h9v9h-9zM1562.5 87.5h9v9h-9z" fill="#7828aa"/><path d="M1538.5 151.5h9v9h-9zM1562.5 119.5h9v9h-9zM1554.5 127.5h9v9h-9zM1554.5 135.5h9v9h-9zM1570.5 103.5h17v9h-17zM1546.5 143.5h9v9h-9zM1578.5 95.5h9v9h-9z" fill="#641eaa"/><path d="M1562.5 151.5h17v9h-17zM1602.5 119.5h17v9h-17zM1602.5 127.5h17v9h-17zM1594.5 135.5h17v9h-17zM1586.5 143.5h9v9h-9z" fill="#5014aa"/><path d="M1578.5 151.5h9v9h-9zM1562.5 159.5h17v9h-17zM1610.5 135.5h17v9h-17zM1594.5 143.5h9v9h-9zM1562.5 167.5h9v9h-9z" fill="#4614a0"/><path d="M1450.5 119.5h9v9h-9zM1442.5 87.5h9v9h-9zM1442.5 95.5h9v9h-9z" fill="#c85078"/><path d="M1530.5 119.5h9v9h-9zM1530.5 127.5h9v9h-9zM1530.5 135.5h9v9h-9zM1538.5 87.5h9v9h-9zM1530.5 95.5h9v9h-9z" fill="#8228aa"/><path d="M1554.5 119.5h9v9h-9zM1546.5 127.5h9v9h-9zM1562.5 103.5h9v9h-9zM1562.5 95.5h9v9h-9z" fill="#7828b4"/><path d="M1482.5 263.5h17v9h-17zM1474.5 271.5h9v9h-9zM1458.5 279.5h17v9h-17z" fill="#e6c85a"/><path d="M1498.5 263.5h9v9h-9z" fill="#dcc85a"/><path d="M1506.5 263.5h9v9h-9z" fill="#dcbe64"/><path d="M1514.5 263.5h9v9h-9z" fill="#d2b464"/><path d="M1466.5 159.5h9v9h-9zM1458.5 167.5h9v9h-9z" fill="#dc8c5a"/><path d="M1538.5 159.5h9v9h-9zM1538.5 167.5h9v9h-9z" fill="#6428a0"/><path d="M1554.5 159.5h9v9h-9z" fill="#501eaa"/><path d="M1450.5 127.5h9v9h-9zM1426.5 87.5h9v9h-9z" fill="#c8646e"/><path d="M1458.5 127.5h9v9h-9z" fill="#be5a78"/><path d="M1466.5 127.5h9v9h-9zM1474.5 135.5h9v9h-9z" fill="#b4508c"/><path d="M1482.5 127.5h9v9h-9zM1482.5 135.5h9v9h-9zM1482.5 95.5h9v9h-9z" fill="#aa4696"/><path d="M1490.5 127.5h9v9h-9zM1490.5 95.5h9v9h-9z" fill="#aa3ca0"/><path d="M1498.5 127.5h9v9h-9zM1498.5 87.5h9v9h-9zM1498.5 95.5h9v9h-9z" fill="#a032a0"/><path d="M1522.5 127.5h9v9h-9zM1522.5 135.5h9v9h-9zM1522.5 87.5h9v9h-9z" fill="#8c32aa"/><path d="M1618.5 127.5h9v9h-9z" fill="#4614aa"/><path d="M1378.5 199.5h9v9h-9zM1410.5 175.5h9v9h-9zM1450.5 175.5h9v9h-9zM1378.5 191.5h33v9h-33z" fill="#dc8c50"/><path d="M1562.5 199.5h9v9h-9zM1570.5 191.5h17v9h-17z" fill="#321496"/><path d="M1570.5 199.5h9v9h-9zM1618.5 199.5h17v9h-17zM1586.5 191.5h25v9h-25z" fill="#281496"/><path d="M1482.5 271.5h9v9h-9zM1474.5 279.5h9v9h-9z" fill="#e6d25a"/><path d="M1490.5 271.5h9v9h-9zM1466.5 287.5h9v9h-9z" fill="#e6dc5a"/><path d="M1498.5 271.5h9v9h-9z" fill="#e6dc64"/><path d="M1506.5 271.5h9v9h-9z" fill="#dcd264"/><path d="M1514.5 271.5h9v9h-9z" fill="#d2c864"/><path d="M1418.5 135.5h9v9h-9zM1378.5 143.5h9v9h-9z" fill="#dc7864"/><path d="M1458.5 135.5h9v9h-9zM1466.5 143.5h9v9h-9z" fill="#d27864"/><path d="M1466.5 135.5h9v9h-9z" fill="#c86478"/><path d="M1490.5 135.5h9v9h-9z" fill="#a03c96"/><path d="M1498.5 135.5h9v9h-9zM1490.5 87.5h9v9h-9zM1490.5 79.5h17v9h-17z" fill="#a03ca0"/><path d="M1506.5 135.5h9v9h-9z" fill="#9632a0"/><path d="M1442.5 103.5h9v9h-9z" fill="#be5078"/><path d="M1498.5 175.5h9v9h-9z" fill="#d28c64"/><path d="M1546.5 175.5h9v9h-9zM1546.5 167.5h9v9h-9z" fill="#501ea0"/><path d="M1482.5 279.5h9v9h-9zM1474.5 287.5h9v9h-9z" fill="#f0e65a"/><path d="M1490.5 279.5h9v9h-9z" fill="#f0e664"/><path d="M1498.5 279.5h17v9h-17z" fill="#e6e664"/><path d="M1514.5 279.5h9v9h-9z" fill="#dcdc64"/><path d="M1522.5 143.5h9v9h-9z" fill="#8232aa"/><path d="M1538.5 143.5h9v9h-9z" fill="#6e28aa"/><path d="M1578.5 143.5h9v9h-9z" fill="#5a14aa"/><path d="M1490.5 255.5h17v9h-17z" fill="#dcbe5a"/><path d="M1530.5 87.5h9v9h-9z" fill="#8c28aa"/><path d="M1474.5 303.5h33v9h-33zM1474.5 295.5h33v9h-33zM1482.5 287.5h25v9h-25z" fill="#f0f064"/><path d="M1434.5 95.5h9v9h-9z" fill="#c85a6e"/><path d="M1498.5 191.5h9v9h-9z" fill="#dca05a"/><path d="M1506.5 191.5h9v9h-9z" fill="#d2a064"/><path d="M1514.5 191.5h9v9h-9z" fill="#c89664"/><path d="M1554.5 191.5h9v9h-9z" fill="#461e96"/><path d="M1562.5 191.5h9v9h-9z" fill="#3c1496"/><path d="M1610.5 191.5h25v9h-25z" fill="#2814a0"/><path d="M1482.5 311.5h25v9h-25z" fill="#f0f05a"/><path d="M1466.5 295.5h9v9h-9z" fill="#e6e65a"/>
</g></g>
<ellipse cx="1526.72" cy="125.11" rx="2.34" ry="1.34" fill="#fff" stroke="#000" stroke-width="0.6"/>
<ellipse cx="1571.82" cy="141.81" rx="1.34" ry="0.84" fill="#fff" stroke="#000" stroke-width="0.6"/>
<ellipse cx="1591.87" cy="131.79" rx="1.17" ry="0.84" fill="#fff" stroke="#000" stroke-width="0.6"/>
<ellipse cx="1560.13" cy="181.9" rx="1.34" ry="2.34" fill="#fff" stroke="#000" stroke-width="0.6"/>
<ellipse cx="1571.82" cy="195.27" rx="2.34" ry="1.34" fill="#fff" stroke="#000" stroke-width="0.6"/>
<path d="M1526.46 119.44l-1.02 0.67M1552.76 137.62l-0.28 -0.4M1467.12 103.45l-1.06 1.09M1482.34 109.2l-0.56 -0.14M1454.41 145.54l-0.02 1.03M1519.08 98.01l0.26 -0.77M1599.52 125.39l-0.02 -0.85M1558.02 149.3l0.64 -0.68M1547.93 161.42l0.34 0.99M1427.5 147.85l0.52 -0.95M1614.46 216.31l-1.02 0.17M1549.85 110.21l-0.6 -0.13M1562.87 163.2l0.95 -0.84M1401.2 186.59l0.34 1.04M1580.03 180.9l0.4 -0.56M1487.8 117.06l0.48 0.97M1426.88 180.92l0.18 0.04M1439.82 165.46l1.06 -0.02M1408.44 162.42l-0.15 0.83M1555.04 111.39l0.67 0.68M1629.48 207.13l0.1 -1.19M1497.76 101.79l1.09 0.76M1459.06 97.96l-0.04 0.16M1582.4 133.51l1.04 -0.34M1522.85 99.26l0.44 -0.24M1499.85 115.44l0.32 1.1M1585.11 183.89l-0.98 0.08M1452.54 102.43l1.11 -1.01M1450.26 109.95l-0.1 0.64M1424.04 179l0.35 -0.78M1418.08 157.18l-1.11 -0.28M1584.84 129.3l-0.74 0.47M1557.65 162.93l0.95 0.31M1466.76 102.71l-0.34 -1M1418.85 164.59l0.32 0.56M1440.13 156.21l-0.86 -0.74M1541.6 121.73l0.53 0.22M1566.18 141.91l-0.03 -1.05M1409.16 115.22l0.1 -0.46M1569.17 203.15l0.08 0.8M1558.88 161.38l-0.12 1.19M1623.92 192.69l-1.11 -1.07M1597.66 140.39l0.69 -1.1M1447.53 104.8l-0.92 0.74M1545.86 148.83l0.4 -0.1M1576.03 202.65l0.43 0.9M1566.17 178.54l-0.84 0.19M1429.2 140.75l1.02 -1.11M1554.99 117.07l-0.86 0.37M1492.94 123.01l-0.07 1M1451.64 119.05l-1.09 0.48M1618.02 188.74l-0.89 -0.79M1410.17 218.79l-1.08 -0.46M1412.69 188.71l0.7 -0.11M1608.21 175.13l-0.79 0.22M1625.29 224.74l0.76 -0.94M1556.35 128.11l-0.01 0.72M1449.89 154.22l-0.67 0.73M1609.1 205.78l-0.18 0.75M1461.83 114.38l1.16 0.43" fill="none" stroke="#111" stroke-width="1" stroke-linecap="round" opacity="0.85"/>
<path d="M1404.53 154.14L1406.54 146.34L1411.9 138.86L1418.48 135.25L1426.26 133.79L1431.01 130L1431.76 123.51L1431.41 117.32L1439.23 109.54L1440.31 100.2L1445.23 97.73L1449.85 104.4L1456.12 99.5L1461.77 112.26L1471.47 119.67L1480.3 120.35L1486.23 116.94L1491.66 107.45L1502.24 110.22L1507.72 104.63L1511.68 101.48L1520.2 102.09L1526.51 106.07L1536.39 98.7L1543.46 104.52L1549.92 113.76L1558.51 119.72L1563.83 123.65L1553.15 128.04L1560.52 133.71L1572.45 131.75L1583.08 137.03L1586.25 147.02L1584.9 155.09L1589.98 163.94L1588.87 167.93L1595.53 174.12L1593.1 180.62L1605.21 174.71L1612.44 180.53L1612.87 186.68L1613.18 193.83L1608.34 200.65L1605 209.77L1597.2 214.14L1603.39 218.28L1611.88 220.31L1620.27 218.66M1563.99 122.96L1566.81 113.41M1564.04 123.37L1573.49 121.76M1590.05 163.04L1592.16 157.02L1594.17 149.77L1603.06 147.08L1603.56 140.14M1594.62 179.75L1583.98 178.51L1573.05 176.68L1563.47 174.39M1480.46 120.23L1487.01 121.95L1493.3 120.09M1418.28 134.69L1417.09 147.3L1416.74 153.98L1418.11 160.85L1416.58 167.32L1414.49 173.86L1410.09 179.9L1406.2 187.02L1398.61 187.04L1392.6 182L1389.07 190.9L1394.13 196.9L1403.45 199.66L1406.48 206.94L1415.19 210.73L1421.41 206.62L1419.88 196.29L1426.79 195.87L1429.33 186.64L1435.03 178.02L1443.16 179.97L1453.48 175.7L1460.22 181.27L1469.86 185.61L1477.1 193.47L1487.01 191.75L1494.93 197.12L1505.48 204.72L1510.54 211.75L1506.04 218.56L1505 223.67M1426.17 134.89L1436.56 138.86L1441.52 136.8M1418.51 146.26L1430.33 150.48L1434.24 145.75L1441.75 152.35L1444.34 143.3L1453.21 146.82M1445.02 143.3L1445.26 151.91L1445.95 160.47L1444.46 167.51L1443.19 173.55M1429.47 186.4L1430.63 195.86L1431.6 204.24L1436.12 213.97L1439.48 220.13L1442.88 227.25L1452.91 233.11L1455.51 240.36L1458.26 246.55L1462.68 254.81L1466.62 261.81L1470.91 268.34L1475.52 274.2L1483.87 283.23L1487.98 289.6L1491.07 296.03L1493.02 303.63L1494.45 310.24L1491.9 322.23L1488.29 333.09" fill="none" stroke="#4A4A4A" stroke-width="1.5" stroke-linejoin="round" stroke-linecap="round"/>
<circle cx="1590.53" cy="209.47" r="2.6" fill="#fff" stroke="#111" stroke-width="0.7"/>
<circle cx="1592.2" cy="213.65" r="2.6" fill="#fff" stroke="#111" stroke-width="0.7"/>
<text x="1592.2" y="215.05" font-size="3.8" text-anchor="middle" fill="#000">2</text>
<defs><g id="shB3"><path d="M1900.32 231.98L1902.58 227.81L1906.21 224.76L1907.09 220.67L1907.78 216.84L1907.38 210.96L1908.69 206.83L1907.23 203.46L1904.33 198.41L1903.24 194.04L1902.02 190.5L1901.5 185.51L1899.15 180.37L1898.03 175.91L1894.53 172.08L1893.93 168.19L1891.76 162.37L1892.7 157.08L1893.78 153.51L1893.94 149.27L1896.89 143.77L1898.15 137.66L1893.4 129.74L1888.91 130.1L1884.1 130.4L1879.46 126.55L1873.53 123.76L1868.54 120.8L1862.93 116.82L1860.57 112.92L1855.46 108.17L1849.92 105.45L1843.41 103.3L1839.23 101.57L1832.15 101.12L1826.86 101.4L1824.17 99.71L1817.91 98.86L1815.21 99.41L1810.21 100.92L1806.22 100.37L1800.75 99.62L1795.75 99.73L1791.19 96.84L1783.99 96.49L1778.93 93.88L1775.51 95.37L1769.14 97.34L1765.88 99.02L1758.83 99.94L1752.87 100.79L1747.71 100.97L1742.29 98.33L1734.15 98.26L1728.31 95.91L1721.86 97.44L1717.24 100.26L1710.5 102.23L1706.68 105.17L1703.46 107.6L1699.4 113.28L1694.44 116.34L1689.7 118.86L1686.36 122.82L1684.06 129.21L1681.96 132.28L1678.6 138.83L1674.19 142.7L1673.76 147.4L1672.39 152.41L1672.33 155.38L1670.47 160.26L1670.78 163.89L1670.86 170.17L1669.09 173.96L1669.19 177.08L1667.83 181.99L1669.79 187.7L1669.04 193.64L1670.4 199.44L1671.84 205.57L1673.63 209.74L1676.96 216.65L1679.72 220.94L1683.61 225.99L1687.51 223.16L1689.82 220.34L1692.96 215.96L1698.01 212.78L1699.43 206.13L1702.18 203.24L1705.41 194.38L1709.02 191.7L1713.81 188.28L1715.65 185.41L1718.8 180.42L1720.03 174.69L1722.13 172.3L1726.86 168.86L1732.28 165.34L1735.81 162.26L1738.95 154.95L1740.92 150.72L1737.93 144.92L1737.11 139.75L1742.04 138.11L1739.35 132.46L1737.49 128.66L1736.94 125.77L1743.17 126.45L1748.85 127.4L1753.76 125.82L1757.46 125.17L1762.69 126.6L1766.79 126.01L1771.41 128.03L1777.89 125.84L1782.84 123.58L1787.72 125.35L1792.98 128.31L1797.52 126.52L1800.5 124.88L1805.87 123.03L1812.79 122.94L1815.56 125.84L1821.35 127.04L1823.49 133.46L1828.1 136.42L1827.74 141.33L1828.17 146.75L1830.34 151.48L1833.89 153.98L1837.01 157.78L1838.12 161.3L1841.67 167.03L1844.31 169.39L1840.81 175.12L1840.48 179.89L1840.22 185.11L1846.14 184.1L1851.2 183.71L1852.95 189.54L1855.15 193.88L1855.72 196.27L1853.3 203.71L1856.68 206.43L1864.8 210.42L1870.16 211.58L1876.6 213.82L1881.3 216.95L1888.13 220.34L1891.21 222.95L1897.86 226.86Z"/><path d="M1774.49 210.75L1779 210.7L1783.93 211.6L1789.13 209.99L1794.58 206.52L1798.37 211.64L1802.28 214.21L1805.24 219.39L1806.29 222.92L1805.54 227.98L1801.96 232.19L1800.48 234.97L1796.5 239.32L1793.09 239.48L1789.42 242.38L1784.85 238.1L1782.94 232.94L1781.9 227.57L1775.45 226.64L1774.04 221.85L1774.65 216.06Z"/><path d="M1720.17 225L1725.46 221.39L1734.18 222.64L1739.32 227.76L1741.41 235.56L1737.65 240.89L1734.45 237.75L1729.12 235.26L1725.23 233.71L1723.52 230Z"/><path d="M1743.36 258.75L1749.08 257.3L1752.18 259.39L1758.18 260.04L1761.24 260.3L1766.65 258.5L1771.04 259.04L1776.12 262.53L1774.88 266.18L1776.92 270.94L1772.79 274.34L1770.41 276.94L1762.07 280.14L1757.15 279.12L1753.26 277.12L1750.17 274.34L1745.15 271.18L1744.88 265.6Z"/><path d="M1763.21 291.05L1768.22 290.56L1771.49 289.97L1776.85 292.22L1779.4 295.02L1780.48 300.39L1777.58 303.47L1770.07 300.55L1765.62 296.46Z"/><path d="M1754.38 343.01L1758.84 341.41L1763.3 339.92L1767.94 335.79L1773.64 332.31L1775.98 329.1L1778.94 333.29L1781.24 339.18L1787.84 341.51L1793.26 342.88L1796.79 337.38L1794.35 343.46L1786.05 346.38L1781 346.16L1774.66 347.61L1770.65 353.44L1766.68 349.96L1763.14 346.42L1759.1 346.07Z"/></g><path id="dtB3" d="M1788.67 194.43h0M1852.15 188.59h0M1858.83 194.43h0M1771.96 283.81h0M1756.93 287.15h0M1788.67 324.74h0M1781.99 333.93h0M1785.33 330.58h0M1778.65 335.6h0M1721.85 198.61h0M1716.83 200.28h0M1740.22 250.4h0M1726.14 175.63h0M1728.11 172.66h0M1729.72 170.25h0M1726.17 177.84h0M1730.02 172.06h0M1731.17 170.34h0M1738.83 173.57h0M1733.95 180.89h0M1738.81 173.6h0M1741.37 174.92h0M1736.61 182.06h0M1738.73 178.89h0M1740.15 184.34h0M1741.08 182.94h0M1743.35 179.53h0M1749 184.92h0M1748.35 185.99h0M1750.4 182.58h0M1750.34 188.34h0M1751.37 186.62h0M1749.51 189.73h0M1757.24 184.21h0M1753.12 191.08h0M1752.16 192.68h0M1761.9 189.66h0M1757.39 197.17h0M1758.72 194.97h0M1765.05 198.42h0M1764.58 193.72h0M1764.67 194.67h0M1771.71 191.84h0M1771.87 193.38h0M1771.94 194.09h0M1775.83 190.61h0M1775.58 188.1h0M1775.58 188.13h0M1782.59 192.57h0M1781.47 193.68h0M1782.43 192.72h0M1788.36 194.44h0M1787.21 195.59h0M1785.48 197.32h0M1709.63 202.32h0M1711 203.75h0M1716.93 206.04h0M1718.07 209.55h0M1720.15 218.41h0M1721.57 222.63h0M1743.45 248.21h0M1743.85 250.86h0M1741.31 258.25h0M1776.33 286.39h0M1778.76 311.36h0M1785.88 313.33h0M1783.89 322.24h0M1777.54 322.65h0M1744.64 142.32h0M1742.71 144.49h0M1740.57 147.83h0M1747.8 154.42h0M1742.98 156.48h0M1843.43 184.5h0M1843.56 190.64h0M1851.91 192.05h0"/>
<mask id="mkB3" maskUnits="userSpaceOnUse" x="1645" y="80" width="290" height="290">
<use href="#shB3" fill="#fff" stroke="none"/>
<use href="#shB3" fill="none" stroke="#fff" stroke-width="5.2" stroke-dasharray="0 4.6" stroke-linecap="round"/>
<use href="#dtB3" fill="none" stroke="#fff" stroke-width="4.3" stroke-linecap="round"/>
</mask></defs>
<g fill="#000" stroke="#000">
<use href="#shB3" stroke-width="1.6" stroke-linejoin="round"/>
<use href="#shB3" fill="none" stroke-width="6.7" stroke-dasharray="0 4.6" stroke-linecap="round"/>
<use href="#dtB3" fill="none" stroke-width="5.7" stroke-linecap="round"/>
</g>
<g mask="url(#mkB3)"><g filter="url(#blB)">
<path d="M1724.5 247.5h9v9h-9zM1716.5 215.5h25v9h-25zM1716.5 223.5h33v9h-33zM1716.5 239.5h25v9h-25zM1708.5 231.5h41v9h-41z" fill="#e69650"/><path d="M1732.5 247.5h9v9h-9zM1724.5 255.5h9v9h-9zM1740.5 239.5h17v9h-17z" fill="#e6a050"/><path d="M1740.5 247.5h41v9h-41zM1764.5 215.5h17v9h-17zM1804.5 215.5h9v9h-9zM1764.5 223.5h17v9h-17zM1804.5 223.5h9v9h-9zM1732.5 263.5h57v9h-57zM1780.5 199.5h17v9h-17zM1732.5 271.5h41v9h-41zM1772.5 207.5h9v9h-9zM1796.5 207.5h9v9h-9zM1740.5 279.5h17v9h-17zM1732.5 255.5h57v9h-57zM1772.5 239.5h33v9h-33zM1764.5 231.5h17v9h-17zM1796.5 231.5h17v9h-17z" fill="#e6aa50"/><path d="M1668.5 215.5h9v9h-9zM1660.5 183.5h33v9h-33zM1668.5 151.5h9v9h-9zM1708.5 223.5h9v9h-9zM1660.5 191.5h33v9h-33zM1660.5 159.5h25v9h-25zM1660.5 199.5h33v9h-33zM1660.5 207.5h25v9h-25zM1668.5 175.5h17v9h-17zM1668.5 167.5h17v9h-17z" fill="#e68c50"/><path d="M1676.5 215.5h41v9h-41zM1668.5 223.5h33v9h-33zM1692.5 191.5h9v9h-9zM1692.5 199.5h25v9h-25zM1684.5 207.5h49v9h-49z" fill="#dc8c50"/><path d="M1740.5 215.5h9v9h-9z" fill="#dc9650"/><path d="M1780.5 215.5h25v9h-25zM1780.5 223.5h25v9h-25zM1772.5 271.5h17v9h-17zM1780.5 207.5h17v9h-17zM1756.5 279.5h9v9h-9zM1780.5 231.5h17v9h-17zM1740.5 287.5h9v9h-9z" fill="#e6b450"/><path d="M1860.5 215.5h9v9h-9zM1908.5 215.5h9v9h-9zM1908.5 223.5h9v9h-9zM1868.5 199.5h9v9h-9zM1900.5 199.5h9v9h-9zM1860.5 207.5h9v9h-9zM1908.5 207.5h9v9h-9z" fill="#1e148c"/><path d="M1868.5 215.5h41v9h-41zM1876.5 223.5h33v9h-33zM1876.5 199.5h25v9h-25zM1868.5 207.5h41v9h-41zM1884.5 231.5h25v9h-25z" fill="#1e0a8c"/><path d="M1764.5 319.5h9v9h-9zM1748.5 343.5h57v9h-57zM1748.5 335.5h57v9h-57zM1756.5 351.5h41v9h-41zM1748.5 327.5h49v9h-49z" fill="#e6fa5a"/><path d="M1772.5 319.5h9v9h-9zM1788.5 319.5h9v9h-9zM1788.5 303.5h9v9h-9zM1764.5 311.5h9v9h-9z" fill="#e6f05a"/><path d="M1780.5 319.5h9v9h-9zM1780.5 303.5h9v9h-9zM1788.5 311.5h9v9h-9z" fill="#f0f05a"/><path d="M1676.5 111.5h17v9h-17zM1740.5 151.5h9v9h-9zM1668.5 119.5h25v9h-25zM1668.5 127.5h33v9h-33zM1676.5 135.5h25v9h-25zM1716.5 135.5h17v9h-17zM1684.5 103.5h9v9h-9z" fill="#d2646e"/><path d="M1692.5 111.5h9v9h-9zM1692.5 119.5h9v9h-9zM1700.5 135.5h17v9h-17z" fill="#d25a6e"/><path d="M1700.5 111.5h25v9h-25zM1700.5 119.5h25v9h-25zM1700.5 127.5h33v9h-33zM1732.5 135.5h9v9h-9zM1692.5 103.5h25v9h-25zM1700.5 87.5h9v9h-9zM1692.5 95.5h17v9h-17z" fill="#c85a6e"/><path d="M1724.5 111.5h9v9h-9z" fill="#be5078"/><path d="M1732.5 111.5h17v9h-17zM1732.5 119.5h17v9h-17zM1740.5 127.5h9v9h-9zM1748.5 135.5h9v9h-9zM1724.5 103.5h25v9h-25zM1724.5 87.5h25v9h-25zM1724.5 95.5h25v9h-25z" fill="#be5082"/><path d="M1748.5 111.5h9v9h-9zM1748.5 119.5h9v9h-9zM1756.5 127.5h9v9h-9zM1748.5 103.5h9v9h-9zM1748.5 87.5h9v9h-9zM1748.5 95.5h9v9h-9z" fill="#b4468c"/><path d="M1756.5 111.5h25v9h-25zM1756.5 119.5h17v9h-17zM1764.5 127.5h9v9h-9zM1756.5 103.5h25v9h-25zM1756.5 87.5h9v9h-9zM1756.5 95.5h17v9h-17z" fill="#b44696"/><path d="M1780.5 111.5h9v9h-9zM1780.5 103.5h9v9h-9z" fill="#aa3ca0"/><path d="M1788.5 111.5h9v9h-9zM1788.5 119.5h9v9h-9zM1788.5 103.5h9v9h-9zM1788.5 95.5h9v9h-9z" fill="#a032aa"/><path d="M1796.5 111.5h25v9h-25zM1796.5 119.5h17v9h-17zM1796.5 127.5h17v9h-17zM1796.5 103.5h25v9h-25zM1796.5 87.5h25v9h-25zM1796.5 95.5h25v9h-25z" fill="#9632aa"/><path d="M1820.5 111.5h9v9h-9z" fill="#8228b4"/><path d="M1828.5 111.5h25v9h-25zM1828.5 119.5h25v9h-25zM1828.5 127.5h17v9h-17zM1836.5 103.5h17v9h-17z" fill="#781eb4"/><path d="M1852.5 111.5h9v9h-9zM1852.5 119.5h9v9h-9zM1836.5 135.5h9v9h-9zM1852.5 103.5h9v9h-9zM1820.5 143.5h9v9h-9zM1852.5 95.5h9v9h-9z" fill="#6e1eaa"/><path d="M1860.5 111.5h9v9h-9zM1820.5 151.5h9v9h-9zM1820.5 159.5h9v9h-9zM1860.5 103.5h9v9h-9zM1828.5 143.5h9v9h-9z" fill="#641eaa"/><path d="M1868.5 111.5h9v9h-9zM1828.5 151.5h17v9h-17zM1860.5 119.5h9v9h-9zM1828.5 159.5h17v9h-17zM1852.5 127.5h9v9h-9zM1844.5 135.5h9v9h-9zM1836.5 143.5h9v9h-9zM1828.5 167.5h9v9h-9z" fill="#5a1eaa"/><path d="M1876.5 111.5h9v9h-9zM1844.5 151.5h33v9h-33zM1868.5 119.5h17v9h-17zM1844.5 159.5h25v9h-25zM1868.5 127.5h9v9h-9zM1852.5 135.5h25v9h-25zM1844.5 175.5h9v9h-9zM1852.5 143.5h25v9h-25zM1844.5 167.5h17v9h-17z" fill="#5014aa"/><path d="M1692.5 183.5h41v9h-41zM1684.5 151.5h9v9h-9zM1700.5 191.5h33v9h-33zM1716.5 199.5h9v9h-9zM1692.5 175.5h25v9h-25zM1692.5 167.5h9v9h-9z" fill="#dc825a"/><path d="M1732.5 183.5h49v9h-49zM1732.5 191.5h41v9h-41zM1740.5 199.5h17v9h-17zM1732.5 175.5h41v9h-41zM1740.5 167.5h25v9h-25z" fill="#dc8264"/><path d="M1780.5 183.5h9v9h-9z" fill="#c88264"/><path d="M1788.5 183.5h9v9h-9z" fill="#be786e"/><path d="M1828.5 183.5h9v9h-9z" fill="#5a28a0"/><path d="M1836.5 183.5h9v9h-9zM1836.5 175.5h9v9h-9z" fill="#501ea0"/><path d="M1844.5 183.5h9v9h-9zM1884.5 119.5h17v9h-17zM1884.5 127.5h9v9h-9zM1876.5 135.5h9v9h-9zM1852.5 175.5h9v9h-9z" fill="#4614a0"/><path d="M1852.5 183.5h9v9h-9zM1876.5 151.5h25v9h-25zM1876.5 159.5h17v9h-17zM1892.5 127.5h17v9h-17zM1884.5 135.5h25v9h-25zM1860.5 175.5h9v9h-9zM1876.5 143.5h33v9h-33zM1868.5 167.5h9v9h-9z" fill="#3c14a0"/><path d="M1860.5 183.5h9v9h-9zM1892.5 159.5h9v9h-9zM1868.5 175.5h9v9h-9zM1876.5 167.5h9v9h-9z" fill="#3214a0"/><path d="M1868.5 183.5h49v9h-49zM1876.5 175.5h33v9h-33zM1884.5 167.5h25v9h-25z" fill="#2814a0"/><path d="M1660.5 151.5h9v9h-9zM1676.5 151.5h9v9h-9zM1684.5 159.5h9v9h-9zM1660.5 175.5h9v9h-9zM1684.5 175.5h9v9h-9zM1660.5 167.5h9v9h-9zM1684.5 167.5h9v9h-9z" fill="#e68c5a"/><path d="M1692.5 151.5h9v9h-9zM1676.5 143.5h9v9h-9zM1716.5 167.5h9v9h-9zM1732.5 167.5h9v9h-9z" fill="#dc7864"/><path d="M1700.5 151.5h33v9h-33zM1700.5 159.5h41v9h-41zM1716.5 143.5h9v9h-9zM1724.5 167.5h9v9h-9z" fill="#dc6e64"/><path d="M1732.5 151.5h9v9h-9zM1668.5 135.5h9v9h-9zM1692.5 143.5h17v9h-17zM1732.5 143.5h9v9h-9z" fill="#d26464"/><path d="M1748.5 151.5h9v9h-9zM1740.5 143.5h9v9h-9z" fill="#c8646e"/><path d="M1724.5 119.5h9v9h-9zM1740.5 135.5h9v9h-9zM1716.5 103.5h9v9h-9zM1708.5 87.5h9v9h-9zM1708.5 95.5h9v9h-9z" fill="#c85a78"/><path d="M1772.5 119.5h9v9h-9zM1764.5 87.5h9v9h-9zM1772.5 95.5h9v9h-9z" fill="#aa4696"/><path d="M1780.5 119.5h9v9h-9zM1780.5 127.5h9v9h-9zM1780.5 87.5h9v9h-9zM1780.5 95.5h9v9h-9z" fill="#a03ca0"/><path d="M1812.5 119.5h9v9h-9zM1812.5 127.5h9v9h-9zM1820.5 87.5h9v9h-9zM1820.5 95.5h9v9h-9z" fill="#8c28aa"/><path d="M1820.5 119.5h9v9h-9zM1820.5 127.5h9v9h-9zM1828.5 103.5h9v9h-9zM1836.5 95.5h9v9h-9z" fill="#7828b4"/><path d="M1772.5 191.5h9v9h-9zM1756.5 199.5h9v9h-9z" fill="#dc8c64"/><path d="M1780.5 191.5h9v9h-9z" fill="#dc965a"/><path d="M1788.5 191.5h9v9h-9zM1804.5 199.5h9v9h-9z" fill="#d2965a"/><path d="M1828.5 191.5h9v9h-9z" fill="#5a2896"/><path d="M1836.5 191.5h9v9h-9zM1836.5 199.5h9v9h-9z" fill="#461e96"/><path d="M1844.5 191.5h9v9h-9z" fill="#3c1496"/><path d="M1852.5 191.5h9v9h-9zM1844.5 199.5h9v9h-9z" fill="#321496"/><path d="M1860.5 191.5h57v9h-57zM1852.5 199.5h9v9h-9zM1908.5 199.5h9v9h-9z" fill="#281496"/><path d="M1692.5 159.5h9v9h-9zM1716.5 175.5h17v9h-17zM1660.5 143.5h17v9h-17zM1700.5 167.5h17v9h-17z" fill="#dc785a"/><path d="M1740.5 159.5h9v9h-9zM1660.5 135.5h9v9h-9zM1684.5 143.5h9v9h-9z" fill="#d26e64"/><path d="M1748.5 159.5h9v9h-9zM1772.5 175.5h9v9h-9z" fill="#d27864"/><path d="M1868.5 159.5h9v9h-9zM1876.5 127.5h9v9h-9zM1860.5 167.5h9v9h-9z" fill="#4614aa"/><path d="M1732.5 127.5h9v9h-9zM1716.5 87.5h9v9h-9zM1716.5 95.5h9v9h-9z" fill="#c85078"/><path d="M1748.5 127.5h9v9h-9z" fill="#b4508c"/><path d="M1772.5 127.5h9v9h-9zM1772.5 87.5h9v9h-9z" fill="#aa3c96"/><path d="M1788.5 127.5h9v9h-9zM1788.5 87.5h9v9h-9z" fill="#a032a0"/><path d="M1844.5 127.5h9v9h-9z" fill="#6e1eb4"/><path d="M1860.5 127.5h9v9h-9zM1844.5 143.5h9v9h-9z" fill="#5a14aa"/><path d="M1724.5 199.5h9v9h-9zM1764.5 199.5h9v9h-9z" fill="#dc8c5a"/><path d="M1772.5 199.5h9v9h-9zM1796.5 199.5h9v9h-9zM1804.5 239.5h9v9h-9z" fill="#dca05a"/><path d="M1860.5 199.5h9v9h-9zM1852.5 207.5h9v9h-9z" fill="#28148c"/><path d="M1812.5 135.5h9v9h-9zM1820.5 103.5h9v9h-9zM1828.5 87.5h9v9h-9zM1828.5 95.5h9v9h-9z" fill="#8228aa"/><path d="M1820.5 135.5h9v9h-9zM1836.5 87.5h9v9h-9z" fill="#7828aa"/><path d="M1828.5 135.5h9v9h-9zM1844.5 95.5h9v9h-9z" fill="#781eaa"/><path d="M1764.5 207.5h9v9h-9z" fill="#e6a05a"/><path d="M1804.5 207.5h9v9h-9z" fill="#dcaa50"/><path d="M1844.5 207.5h9v9h-9z" fill="#32148c"/><path d="M1780.5 175.5h9v9h-9z" fill="#be6e6e"/><path d="M1828.5 175.5h9v9h-9z" fill="#5a1ea0"/><path d="M1764.5 279.5h9v9h-9zM1748.5 287.5h9v9h-9z" fill="#e6be50"/><path d="M1772.5 279.5h17v9h-17zM1756.5 287.5h9v9h-9z" fill="#e6c850"/><path d="M1708.5 143.5h9v9h-9zM1724.5 143.5h9v9h-9z" fill="#dc6464"/><path d="M1748.5 143.5h9v9h-9z" fill="#be5a78"/><path d="M1836.5 167.5h9v9h-9z" fill="#501eaa"/><path d="M1756.5 303.5h9v9h-9z" fill="#e6dc5a"/><path d="M1764.5 303.5h9v9h-9zM1780.5 295.5h9v9h-9z" fill="#f0dc5a"/><path d="M1772.5 303.5h9v9h-9z" fill="#f0e65a"/><path d="M1772.5 311.5h17v9h-17z" fill="#f0f064"/><path d="M1756.5 295.5h25v9h-25zM1764.5 287.5h17v9h-17z" fill="#f0d250"/><path d="M1780.5 287.5h9v9h-9z" fill="#e6d25a"/>
</g></g>
<ellipse cx="1743.56" cy="130.12" rx="2.67" ry="1.67" fill="#fff" stroke="#000" stroke-width="0.6"/>
<ellipse cx="1751.92" cy="118.42" rx="1.67" ry="1" fill="#fff" stroke="#000" stroke-width="0.6"/>
<ellipse cx="1785.33" cy="111.74" rx="0.67" ry="1.67" fill="#fff" stroke="#000" stroke-width="0.6"/>
<ellipse cx="1798.69" cy="105.06" rx="0.67" ry="1.67" fill="#fff" stroke="#000" stroke-width="0.6"/>
<ellipse cx="1822.08" cy="118.42" rx="1.67" ry="1.67" fill="#fff" stroke="#000" stroke-width="0.6"/>
<ellipse cx="1842.13" cy="135.13" rx="2.67" ry="1.67" fill="#fff" stroke="#000" stroke-width="0.6"/>
<ellipse cx="1862.17" cy="135.13" rx="2.34" ry="1.34" fill="#fff" stroke="#000" stroke-width="0.6"/>
<ellipse cx="1838.79" cy="151.83" rx="1.67" ry="2.34" fill="#fff" stroke="#000" stroke-width="0.6"/>
<ellipse cx="1850.48" cy="163.53" rx="1.67" ry="2.34" fill="#fff" stroke="#000" stroke-width="0.6"/>
<ellipse cx="1867.19" cy="150.16" rx="1.67" ry="1.34" fill="#fff" stroke="#000" stroke-width="0.6"/>
<ellipse cx="1878.88" cy="141.81" rx="2" ry="1.34" fill="#fff" stroke="#000" stroke-width="0.6"/>
<ellipse cx="1887.23" cy="135.13" rx="1.34" ry="2" fill="#fff" stroke="#000" stroke-width="0.6"/>
<ellipse cx="1860.5" cy="173.55" rx="2.34" ry="1.34" fill="#fff" stroke="#000" stroke-width="0.6"/>
<ellipse cx="1875.54" cy="186.92" rx="2.34" ry="1.67" fill="#fff" stroke="#000" stroke-width="0.6"/>
<ellipse cx="1855.49" cy="203.62" rx="2" ry="1.67" fill="#fff" stroke="#000" stroke-width="0.6"/>
<ellipse cx="1868.86" cy="200.28" rx="1.34" ry="1.34" fill="#fff" stroke="#000" stroke-width="0.6"/>
<ellipse cx="1675.07" cy="170.21" rx="0.84" ry="1.67" fill="#fff" stroke="#000" stroke-width="0.6"/>
<ellipse cx="1670.06" cy="195.27" rx="1" ry="0.84" fill="#fff" stroke="#000" stroke-width="0.6"/>
<ellipse cx="1698.46" cy="118.42" rx="1" ry="0.67" fill="#fff" stroke="#000" stroke-width="0.6"/>
<ellipse cx="1686.76" cy="135.13" rx="1" ry="0.67" fill="#fff" stroke="#000" stroke-width="0.6"/>
<ellipse cx="1700.13" cy="146.82" rx="0.84" ry="0.67" fill="#fff" stroke="#000" stroke-width="0.6"/>
<ellipse cx="1690.11" cy="160.19" rx="0.84" ry="0.67" fill="#fff" stroke="#000" stroke-width="0.6"/>
<ellipse cx="1680.08" cy="211.97" rx="1.17" ry="0.84" fill="#fff" stroke="#000" stroke-width="0.6"/>
<ellipse cx="1731.87" cy="170.21" rx="2" ry="1.34" fill="#fff" stroke="#000" stroke-width="0.6"/>
<ellipse cx="1695.12" cy="206.96" rx="1" ry="0.84" fill="#fff" stroke="#000" stroke-width="0.6"/>
<ellipse cx="1885.56" cy="173.55" rx="1.34" ry="1" fill="#fff" stroke="#000" stroke-width="0.6"/>
<ellipse cx="1892.24" cy="158.52" rx="1" ry="1.34" fill="#fff" stroke="#000" stroke-width="0.6"/>
<ellipse cx="1768.62" cy="126.78" rx="1.34" ry="0.67" fill="#fff" stroke="#000" stroke-width="0.6"/>
<ellipse rx="3.2" ry="1.76" transform="translate(1875.38 189.59) rotate(141.98)" fill="#fff" stroke="#000" stroke-width="0.6"/>
<ellipse rx="1.08" ry="1.99" transform="translate(1856.4 151.11) rotate(148.18)" fill="#fff" stroke="#000" stroke-width="0.6"/>
<ellipse rx="2.93" ry="1.77" transform="translate(1884.34 213.35) rotate(91.14)" fill="#fff" stroke="#000" stroke-width="0.6"/>
<ellipse rx="1.07" ry="0.9" transform="translate(1849.05 158.17) rotate(115.49)" fill="#fff" stroke="#000" stroke-width="0.6"/>
<ellipse rx="3.21" ry="2.02" transform="translate(1766.96 117.37) rotate(40.41)" fill="#fff" stroke="#000" stroke-width="0.6"/>
<ellipse rx="1.28" ry="1.8" transform="translate(1684.32 145.34) rotate(78.33)" fill="#fff" stroke="#000" stroke-width="0.6"/>
<ellipse rx="2.67" ry="1.09" transform="translate(1832.75 107.84) rotate(155.15)" fill="#fff" stroke="#000" stroke-width="0.6"/>
<ellipse rx="2.16" ry="1.01" transform="translate(1860.31 133.32) rotate(154.14)" fill="#fff" stroke="#000" stroke-width="0.6"/>
<ellipse rx="1.23" ry="0.91" transform="translate(1848.62 128.55) rotate(59.92)" fill="#fff" stroke="#000" stroke-width="0.6"/>
<ellipse rx="1.31" ry="1.26" transform="translate(1897.94 222.02) rotate(95.48)" fill="#fff" stroke="#000" stroke-width="0.6"/>
<ellipse rx="1.73" ry="2.03" transform="translate(1855.09 129.68) rotate(56.8)" fill="#fff" stroke="#000" stroke-width="0.6"/>
<ellipse rx="2.37" ry="2.13" transform="translate(1887.93 178.08) rotate(94.68)" fill="#fff" stroke="#000" stroke-width="0.6"/>
<ellipse rx="3.03" ry="0.95" transform="translate(1762.99 116.79) rotate(153.42)" fill="#fff" stroke="#000" stroke-width="0.6"/>
<ellipse rx="2.6" ry="1.01" transform="translate(1866.46 136.65) rotate(119.79)" fill="#fff" stroke="#000" stroke-width="0.6"/>
<ellipse rx="2.15" ry="2.02" transform="translate(1872.99 167.1) rotate(85.76)" fill="#fff" stroke="#000" stroke-width="0.6"/>
<ellipse rx="2.02" ry="1.4" transform="translate(1867.64 182.32) rotate(7.28)" fill="#fff" stroke="#000" stroke-width="0.6"/>
<ellipse rx="2.16" ry="1.68" transform="translate(1835.96 113.34) rotate(94.44)" fill="#fff" stroke="#000" stroke-width="0.6"/>
<ellipse rx="2.12" ry="1.03" transform="translate(1735.52 155.78) rotate(23)" fill="#fff" stroke="#000" stroke-width="0.6"/>
<ellipse rx="2.23" ry="1.23" transform="translate(1890.98 216.55) rotate(8.59)" fill="#fff" stroke="#000" stroke-width="0.6"/>
<ellipse rx="1.43" ry="1.36" transform="translate(1829.7 117.02) rotate(14.99)" fill="#fff" stroke="#000" stroke-width="0.6"/>
<ellipse rx="2.38" ry="1.44" transform="translate(1884.34 134.77) rotate(120.65)" fill="#fff" stroke="#000" stroke-width="0.6"/>
<ellipse rx="2.42" ry="2" transform="translate(1709.24 117.85) rotate(19.14)" fill="#fff" stroke="#000" stroke-width="0.6"/>
<ellipse rx="2.11" ry="1.98" transform="translate(1700.41 195.66) rotate(105.34)" fill="#fff" stroke="#000" stroke-width="0.6"/>
<ellipse rx="1.12" ry="0.85" transform="translate(1712.83 175.64) rotate(113.47)" fill="#fff" stroke="#000" stroke-width="0.6"/>
<ellipse rx="2.4" ry="1.58" transform="translate(1877.19 200.84) rotate(52.34)" fill="#fff" stroke="#000" stroke-width="0.6"/>
<ellipse rx="2.67" ry="1.54" transform="translate(1869.08 163.38) rotate(75.96)" fill="#fff" stroke="#000" stroke-width="0.6"/>
<ellipse rx="1.8" ry="1.64" transform="translate(1720.64 123.06) rotate(151.64)" fill="#fff" stroke="#000" stroke-width="0.6"/>
<ellipse rx="1.69" ry="1.79" transform="translate(1828.52 109.74) rotate(172.76)" fill="#fff" stroke="#000" stroke-width="0.6"/>
<ellipse rx="2.72" ry="1.9" transform="translate(1873.25 191.23) rotate(143.96)" fill="#fff" stroke="#000" stroke-width="0.6"/>
<ellipse rx="1.66" ry="1.84" transform="translate(1876.15 183.52) rotate(120.07)" fill="#fff" stroke="#000" stroke-width="0.6"/>
<ellipse rx="1.71" ry="1.12" transform="translate(1687.33 152.57) rotate(8.47)" fill="#fff" stroke="#000" stroke-width="0.6"/>
<ellipse rx="1.53" ry="1.18" transform="translate(1818.52 108.17) rotate(61.26)" fill="#fff" stroke="#000" stroke-width="0.6"/>
<ellipse rx="3.22" ry="1.94" transform="translate(1688.59 181.82) rotate(7.55)" fill="#fff" stroke="#000" stroke-width="0.6"/>
<ellipse rx="3.13" ry="1.05" transform="translate(1688.47 184.73) rotate(52.58)" fill="#fff" stroke="#000" stroke-width="0.6"/>
<ellipse rx="2.18" ry="0.95" transform="translate(1867.17 141.34) rotate(67.04)" fill="#fff" stroke="#000" stroke-width="0.6"/>
<ellipse rx="2.56" ry="1.04" transform="translate(1853.38 144.25) rotate(135.63)" fill="#fff" stroke="#000" stroke-width="0.6"/>
<ellipse rx="1.85" ry="0.88" transform="translate(1878.15 209.49) rotate(26.21)" fill="#fff" stroke="#000" stroke-width="0.6"/>
<ellipse rx="1.39" ry="0.92" transform="translate(1683.23 137.35) rotate(136.65)" fill="#fff" stroke="#000" stroke-width="0.6"/>
<ellipse rx="1.48" ry="1.56" transform="translate(1839.53 157.11) rotate(141.9)" fill="#fff" stroke="#000" stroke-width="0.6"/>
<ellipse rx="1.95" ry="1.1" transform="translate(1887.11 207.53) rotate(54.28)" fill="#fff" stroke="#000" stroke-width="0.6"/>
<ellipse rx="3.32" ry="1.21" transform="translate(1849.62 108.97) rotate(16.71)" fill="#fff" stroke="#000" stroke-width="0.6"/>
<ellipse rx="2.06" ry="2.15" transform="translate(1693.38 134.82) rotate(144.97)" fill="#fff" stroke="#000" stroke-width="0.6"/>
<ellipse rx="2.25" ry="1.63" transform="translate(1888.8 184.41) rotate(63.06)" fill="#fff" stroke="#000" stroke-width="0.6"/>
<ellipse rx="1.19" ry="0.92" transform="translate(1686.59 197.02) rotate(159.93)" fill="#fff" stroke="#000" stroke-width="0.6"/>
<ellipse rx="1.28" ry="1.12" transform="translate(1694.56 195.95) rotate(85.2)" fill="#fff" stroke="#000" stroke-width="0.6"/>
<ellipse rx="1.29" ry="1.3" transform="translate(1869.7 163.51) rotate(156.68)" fill="#fff" stroke="#000" stroke-width="0.6"/>
<ellipse rx="2.11" ry="1.8" transform="translate(1890.31 207.5) rotate(109.03)" fill="#fff" stroke="#000" stroke-width="0.6"/>
<ellipse rx="2.08" ry="1.44" transform="translate(1855.18 165.92) rotate(80.83)" fill="#fff" stroke="#000" stroke-width="0.6"/>
<ellipse rx="2.87" ry="1.72" transform="translate(1881.69 138.92) rotate(73.73)" fill="#fff" stroke="#000" stroke-width="0.6"/>
<ellipse rx="2.34" ry="1.9" transform="translate(1881.59 196.35) rotate(127.33)" fill="#fff" stroke="#000" stroke-width="0.6"/>
<ellipse rx="1.6" ry="0.99" transform="translate(1879.99 137.74) rotate(17.88)" fill="#fff" stroke="#000" stroke-width="0.6"/>
<ellipse rx="3.27" ry="1.33" transform="translate(1823.15 120.61) rotate(177.36)" fill="#fff" stroke="#000" stroke-width="0.6"/>
<ellipse rx="1.99" ry="2.05" transform="translate(1860.28 170.84) rotate(81.31)" fill="#fff" stroke="#000" stroke-width="0.6"/>
<ellipse rx="1.71" ry="1.36" transform="translate(1849.4 174.68) rotate(22.14)" fill="#fff" stroke="#000" stroke-width="0.6"/>
<ellipse rx="2.79" ry="1.55" transform="translate(1889.04 195.77) rotate(141.71)" fill="#fff" stroke="#000" stroke-width="0.6"/>
<ellipse rx="2.9" ry="1.94" transform="translate(1832.41 143.1) rotate(64.43)" fill="#fff" stroke="#000" stroke-width="0.6"/>
<ellipse rx="2.16" ry="1.32" transform="translate(1843.98 125.24) rotate(50.54)" fill="#fff" stroke="#000" stroke-width="0.6"/>
<ellipse rx="1.49" ry="1.1" transform="translate(1891.38 196.32) rotate(147.8)" fill="#fff" stroke="#000" stroke-width="0.6"/>
<ellipse rx="2.39" ry="1.67" transform="translate(1686.27 162.19) rotate(60.17)" fill="#fff" stroke="#000" stroke-width="0.6"/>
<ellipse rx="2.79" ry="1.67" transform="translate(1858.69 183.18) rotate(104.21)" fill="#fff" stroke="#000" stroke-width="0.6"/>
<ellipse rx="2.4" ry="1.72" transform="translate(1852.65 125.07) rotate(1.91)" fill="#fff" stroke="#000" stroke-width="0.6"/>
<ellipse rx="2.06" ry="1.27" transform="translate(1899.78 207.74) rotate(34.65)" fill="#fff" stroke="#000" stroke-width="0.6"/>
<ellipse rx="2.34" ry="1.69" transform="translate(1862.16 119.13) rotate(46.13)" fill="#fff" stroke="#000" stroke-width="0.6"/>
<ellipse rx="3.07" ry="1.87" transform="translate(1853.26 136.81) rotate(26.53)" fill="#fff" stroke="#000" stroke-width="0.6"/>
<ellipse rx="3.01" ry="1.4" transform="translate(1676.26 166.27) rotate(35.17)" fill="#fff" stroke="#000" stroke-width="0.6"/>
<ellipse rx="1.1" ry="1.13" transform="translate(1702.91 158.33) rotate(0.67)" fill="#fff" stroke="#000" stroke-width="0.6"/>
<ellipse rx="1.8" ry="1.58" transform="translate(1886.53 198.1) rotate(32.14)" fill="#fff" stroke="#000" stroke-width="0.6"/>
<ellipse rx="1.77" ry="0.91" transform="translate(1709.72 170.53) rotate(143.21)" fill="#fff" stroke="#000" stroke-width="0.6"/>
<ellipse rx="1.63" ry="1.37" transform="translate(1843.43 164.42) rotate(165.81)" fill="#fff" stroke="#000" stroke-width="0.6"/>
<ellipse rx="1.64" ry="1.78" transform="translate(1868.8 192.79) rotate(179.64)" fill="#fff" stroke="#000" stroke-width="0.6"/>
<path d="M1870.51 207.77l-0.25 -0.48M1854.98 112.47l-0.17 -0.76M1762.64 124.14l0.75 -0.94M1851.93 161.36l-0.15 0.81M1854.09 198.65l-0.81 -0.35M1741.2 118.27l-0.16 -0.34M1857.26 194.96l0.89 -0.72M1714.92 157.68l-0.75 -1.1M1808.35 109.32l-0.25 0.59M1835.84 150.67l0.96 -0.82M1859.42 170.85l-0.72 -0.05M1713.56 148.76l0.4 -0.56M1797.43 118.34l-0.19 0.12M1689.29 175.65l0.72 0.51M1836.67 163.49l-0.42 0.63M1709.11 100.47l0.92 0M1793.37 115.86l1.02 0.82M1880.01 151.8l-0.27 -0.94M1701.58 106.67l-0.94 -1.15M1713.93 155.01l-0.83 0M1841.91 161.41l0.64 -0.63M1835.6 131.44l0.43 -0.38M1677.95 150.05l1.14 0.57M1866.77 169.09l-0.16 -0.51M1892.85 222.22l-0.03 0.63M1848.92 133.31l-0.61 -0.83M1885.41 158.63l0.03 -0.6M1867.38 116.35l0.64 0.87M1847.9 158.86l1.19 -0.61M1882.76 131.19l0.77 -0.72M1894.38 194.97l0.5 0.74M1845.14 122.69l0.48 0.01M1856.35 139.04l-0.77 1.18M1776.21 128.03l0.22 0.32M1680.29 194.44l-0.65 -0.88M1852.08 147.33l-1.11 1.18M1784.8 100.28l1.03 -0.18M1800.97 126.45l0.28 -0.98M1687.23 134.25l-1.08 -0.22M1681.41 204.83l-0.46 0.32M1833.71 113.1l-0.64 -0.39M1752.63 122.6l-0.05 0.02M1670.45 191.52l0.35 -0.47M1874.11 212.03l-0.55 -0.53M1889.48 148.75l-0.36 -0.2M1740 97.9l-0.43 -1.09M1756.84 125.89l-1.1 -1.07M1684.91 153.42l0.59 -0.69M1710.5 190.6l-0.07 0.98M1704.34 115.14l-0.96 -0.76M1767.26 106.21l1.08 -0.33M1709.84 121.16l-0.47 -0.97M1692.38 122.17l-1.17 0.12M1752.25 116.13l0.87 -0.41M1678.47 212.57l0.58 -0.33M1826.74 145.5l0.67 0.07M1837.86 139.95l-0.31 0.36M1720.72 178.35l-0.7 -0.28M1853.99 183.21l0.93 -0.89M1676.92 146.33l0.58 -0.91M1737.02 112.83l0.21 0.99M1896.18 179.94l0.37 -0.74M1901.89 201.17l0.49 1.02M1826.26 133.39l-1.02 0.11M1745.82 126.45l-0.38 0.54M1830.57 127.36l1.18 -0.72M1822.79 111.3l0.53 -1.09M1713.56 103.82l-0.74 0.12M1681.55 199.03l-0.59 0.9M1723.9 116.55l0.85 0.98M1724.93 132.93l1.14 0.95M1762.83 115.25l-0.12 0.52M1869.82 209.34l0.99 -1.04M1878.57 204.12l-0.19 1.04M1895.71 179.51l0.01 -1.15M1700.51 199.28l0.24 0.47M1727.04 159.73l-0.89 -1.09M1815.59 100.84l0.16 0.71M1696.41 160.58l0.47 0.58M1700.99 118.53l-0.25 0.44M1845.89 163.91l0.89 1.13M1711.03 155.62l-0.8 0.6M1845.1 166.64l-0.28 0.67M1896.97 200.63l-0.24 -0.55M1723.25 95.21l-0.76 -0.82M1868.18 184.89l-0.68 0.47M1825.57 129.31l0.91 0.7M1903.39 216.55l-0.11 0.5M1890.49 167.99l0.06 -0.47M1709.65 153.61l-0.67 0.5M1872.4 128.04l0.13 -0.79M1828.91 147.58l-1.09 -0.63M1739.91 151.91l-1.11 -0.84M1884.25 199.43l0.92 1.03M1684.27 185.67l-0.55 0.7M1858.93 141.8l0.34 -0.6M1697.94 202.6l0.78 0.08M1679.44 194.72l-1.2 -0.37M1847.84 115.68l0.25 -0.31M1711.99 117.38l-1 0.49M1868.5 117.93l0.12 0.53M1854.48 129.02l-0.22 0.27M1890.82 151.49l-0.42 -1.06M1736.14 146.82l0.76 0.78M1731.98 141.47l-0.67 1.12M1832.55 105.18l-0.78 1.13M1677.21 203.06l0.09 1.15M1830.59 146.92l0.67 0.67M1676.24 143.55l-0.94 0.59M1745.57 105.09l-0.28 0.37M1696.97 180.52l0.89 0.32M1882.37 132.04l0.12 0.76M1766.61 118.28l-0.67 -0.55M1866.77 138.97l0.2 0.74M1682.37 154.36l0.61 -0.83M1898.23 229.98l-0.64 0.54M1891.56 200.42l-0.32 0.97M1736.33 119.35l-0.98 -0.76M1698.06 168.21l-0.76 0.87M1789.85 109.25l-0.75 -0.02M1864.04 135.33l0.55 0.35M1775.03 107.42l-1.15 -0.81M1829.97 126.24l-0.77 -0.25M1829.23 103.47l0.26 -1.03M1890.91 205.24l-1.03 -0.61M1717.66 128.76l0.98 1.13M1684.67 194.03l-0.96 0.06M1856.3 180.34l0.54 0.74M1866.99 123.63l0.25 -0.29M1684.34 201.37l-1.15 0.78M1899.69 201.98l0.63 0.35M1691.19 145.31l-1.1 -0.6M1677.42 170.55l-1 -0.86M1718.11 149.46l0.31 -1.17M1874.3 165.17l1.12 1.1M1698.75 190.06l-0.94 0.57M1865.17 195.72l-0.39 0.5M1867.49 195.33l-0.71 -0.05M1707.16 163.32l0.15 -0.13M1761.69 109.7l-0.81 -0.4M1852.73 177.28l-0.83 -1.07M1841.89 158.81l0.46 0.31M1703.27 110.71l-0.9 0.78M1838.43 133.79l-0.95 -0.49M1698.48 122.82l0.03 0.81M1904.09 188.17l-0.86 0.99M1863.66 189.03l-1.14 -0.17M1826.84 131.4l-0.85 0.37M1827.57 145.25l-0.66 0.91M1863.41 117.25l-0.28 0.92M1892.49 209.59l0.77 -0.93M1666.72 173.63l-0.79 -0.94M1813.83 117.08l-0.96 1.09M1714.07 114.26l-0.34 0.28M1714.99 104.91l-0.92 1.02M1869.86 125.67l1.01 0.95M1709.46 135.08l0.25 -0.77M1814.61 122.51l0.07 0.24M1752.88 109.34l0.43 -0.84M1819.73 101.2l0.4 -0.48M1726.45 147.42l0.76 -0.36M1891.17 150.17l-0.95 1M1682.85 128.24l0.39 1.04M1797.79 100.63l0.75 0.51M1838.64 118.99l-1.02 -1.19M1870.05 180.98l1.04 -0.84M1768.27 113.1l0.37 -0.43M1668.28 180.78l-0.26 0.53M1689.63 172.47l0.69 -0.05M1678.45 186.27l-1.04 0.19M1757.85 105.81l1.1 -0.53M1846.65 136.11l-0.98 1.19M1870.27 163.64l-0.76 -0.28M1881.45 172.95l-0.43 -0.18M1877.45 161.72l0.46 -0.21M1792.11 113.4l0.7 -0.4M1693.79 146.98l0.73 0.37M1841.36 127.48l-0.61 -0.2M1864.46 165.53l-0.01 0.08M1731.74 154.34l0.08 0.77M1900.82 222.54l-0.28 0.19M1868.41 135.91l-0.19 0.19M1850.48 173.34l0.46 0.6M1838.92 150.99l0.49 -0.64M1903.16 213.82l-1.19 1.19M1885.24 169.43l-1.16 0.14M1885.65 168.73l1.1 1.01M1718.86 101.32l-1.06 -0.36M1874.85 167.26l0.84 0.88M1725.13 171.08l0.77 -0.49M1856.32 107.74l-0.85 0.85M1737.67 134.16l1.13 0.99M1806.15 122.72l-0.62 0.79M1670.7 159.64l-1.07 -0.87M1708.98 143.33l1.11 0.49M1687.44 164l-0.29 -1.14M1683.22 167.35l1.12 -0.31M1700.74 108.64l0.48 0.39M1785.47 113.42l-1.02 0.81M1828.44 124.02l0.89 -1.13" fill="none" stroke="#111" stroke-width="1" stroke-linecap="round" opacity="0.85"/>
<path d="M1698.28 111.18L1702.9 114.34L1708.9 111.27L1711.4 105.38L1718.84 101.15L1724.92 101.6L1734.99 101.26L1745.49 106.44L1753.13 115.59L1757.97 108.74L1768.63 108.58L1779.09 105.3L1781.99 100.88M1779.15 105.13L1777.41 113.97L1783.66 120.37L1793.58 117.96L1802.67 115.11L1806.01 107.9L1815.01 101.88L1825.05 102.13L1827.42 113.49L1830.89 122.19L1835.4 128.2L1843.99 123.87L1850.03 124.26L1857.16 124.27M1827.29 113L1818.74 115.08M1834.92 127.88L1833.91 140.6L1833.14 147.37L1833.83 154.59L1840.59 163.87L1846.88 173.62L1854.01 169.59L1856.85 162.49L1855.58 155.26L1860.89 152.06L1866.94 157.44L1874.88 163.34L1876.92 173.42L1885.15 182.24L1889.2 190.89L1895.86 196.4L1897.13 204.78L1898.39 212.39L1895.58 222M1895.12 197.06L1898.77 190.37L1897.26 183.58M1725.66 101.44L1721.38 107.52L1719.02 112.87L1720.47 120.61L1722.26 126.98L1712.18 134.68L1714.11 146.84L1717.14 153.71L1714.07 161.65L1723.9 166.65L1728.53 166.03M1713.31 162.33L1703.38 167.39L1700.5 175.07L1704.75 187.06L1704.57 196.47L1698.63 195.27L1692.18 193.12L1688.93 181.97L1681.75 180.23M1724.14 167.25L1722.96 174.68L1734.96 180.81L1741.44 180.78L1748.39 181.36L1753.99 185.61L1759.95 188.55L1771.64 190.76L1782.19 196.46L1789.84 207.05L1796.41 215.8L1800.23 224.15L1799.25 229.85L1790.16 234.15L1785.33 225.34M1705.74 196.77L1712.07 203.63L1718.19 212.48L1722.09 223.83L1728.72 232.34L1734.87 237.46L1737.89 249.2L1743.28 259.96L1750.11 268.2L1758.45 268.72L1764.74 264.55L1772.15 269.31L1775.26 279.91L1775.61 287.71L1775.87 294.19L1778.24 305.3L1780.07 317.88L1776.96 325.84L1770.26 331.96L1767.79 340.61M1757.98 268.31L1760.27 272.95" fill="none" stroke="#4A4A4A" stroke-width="1.5" stroke-linejoin="round" stroke-linecap="round"/>
<circle cx="1888.07" cy="214.48" r="2.6" fill="#fff" stroke="#111" stroke-width="0.7"/>
<circle cx="1889.74" cy="218.66" r="2.6" fill="#fff" stroke="#111" stroke-width="0.7"/>
<text x="1889.74" y="220.06" font-size="3.8" text-anchor="middle" fill="#000">2</text>
<text x="1939.6" y="180.2" font-size="9.6" fill="#111">pseudotime</text>
<defs><linearGradient id="gB" x1="0" y1="1" x2="0" y2="0"><stop offset="0" stop-color="#1B0C8A"/><stop offset="0.2" stop-color="#5C18AE"/><stop offset="0.4" stop-color="#9E36A0"/><stop offset="0.55" stop-color="#CC5C70"/><stop offset="0.7" stop-color="#E4874F"/><stop offset="0.85" stop-color="#EDB84C"/><stop offset="1" stop-color="#EEF45C"/></linearGradient></defs>
<rect x="1939.6" y="186.7" width="17.9" height="88.6" fill="url(#gB)"/>
<line x1="1939.6" y1="196.6" x2="1943" y2="196.6" stroke="#fff" stroke-width="0.6" />
<line x1="1954" y1="196.6" x2="1957.5" y2="196.6" stroke="#fff" stroke-width="0.6" />
<text x="1962.4" y="199.7" font-size="8.4" fill="#111">80</text>
<line x1="1939.6" y1="216.3" x2="1943" y2="216.3" stroke="#fff" stroke-width="0.6" />
<line x1="1954" y1="216.3" x2="1957.5" y2="216.3" stroke="#fff" stroke-width="0.6" />
<text x="1962.4" y="219.4" font-size="8.4" fill="#111">60</text>
<line x1="1939.6" y1="236" x2="1943" y2="236" stroke="#fff" stroke-width="0.6" />
<line x1="1954" y1="236" x2="1957.5" y2="236" stroke="#fff" stroke-width="0.6" />
<text x="1962.4" y="239.1" font-size="8.4" fill="#111">40</text>
<line x1="1939.6" y1="256" x2="1943" y2="256" stroke="#fff" stroke-width="0.6" />
<line x1="1954" y1="256" x2="1957.5" y2="256" stroke="#fff" stroke-width="0.6" />
<text x="1962.4" y="259.1" font-size="8.4" fill="#111">20</text>
<line x1="1939.6" y1="275.3" x2="1943" y2="275.3" stroke="#fff" stroke-width="0.6" />
<line x1="1954" y1="275.3" x2="1957.5" y2="275.3" stroke="#fff" stroke-width="0.6" />
<text x="1962.4" y="278.4" font-size="8.4" fill="#111">0</text>
</g>
<g id="pC">
<text transform="translate(0.5 491.8) scale(0.97 1.035)" font-size="48.3" font-weight="bold" fill="#231815">C</text>
<text x="169" y="542" font-size="34" font-weight="bold"><tspan fill="#D7362F">Cd34</tspan><tspan fill="#D7362F">/</tspan><tspan fill="#3C9E56">Cxcl12</tspan><tspan fill="#3C9E56">/</tspan><tspan fill="#4DA2DB">DAPI</tspan></text>
<defs>
<radialGradient id="nuc"><stop offset="0" stop-color="#3c3cff"/><stop offset="0.7" stop-color="#2626fa"/><stop offset="1" stop-color="#1c18dc"/></radialGradient>
<radialGradient id="nucc"><stop offset="0" stop-color="#5080ff"/><stop offset="0.6" stop-color="#3652fc"/><stop offset="1" stop-color="#2428e4"/></radialGradient>
<radialGradient id="yel"><stop offset="0" stop-color="#ffff70"/><stop offset="0.6" stop-color="#e8e838"/><stop offset="1" stop-color="#9ad030" stop-opacity="0.6"/></radialGradient>
<radialGradient id="ylg"><stop offset="0" stop-color="#f4ffd8"/><stop offset="0.5" stop-color="#b8e890"/><stop offset="1" stop-color="#58c860" stop-opacity="0.5"/></radialGradient>
<filter id="gnz" x="0" y="0" width="100%" height="100%" filterUnits="objectBoundingBox" color-interpolation-filters="sRGB">
<feGaussianBlur in="SourceGraphic" stdDeviation="14" result="m"/>
<feTurbulence type="fractalNoise" baseFrequency="0.06" numOctaves="2" seed="4" result="n"/>
<feColorMatrix in="n" type="matrix" values="0 0 0 0 0.2  0 0 0 0 0.85  0 0 0 0 0.2  0 6 0 0 -3.25" result="g"/>
<feComposite in="g" in2="m" operator="in"/>
</filter>
<filter id="gnd" x="0" y="0" width="100%" height="100%" filterUnits="objectBoundingBox" color-interpolation-filters="sRGB">
<feGaussianBlur in="SourceGraphic" stdDeviation="12" result="m"/>
<feTurbulence type="fractalNoise" baseFrequency="0.07" numOctaves="2" seed="9" result="n"/>
<feColorMatrix in="n" type="matrix" values="0 0 0 0 0.25  0 0 0 0 0.9  0 0 0 0 0.25  0 6 0 0 -2.75" result="g"/>
<feComposite in="g" in2="m" operator="in"/>
</filter>
<filter id="rnz" x="0" y="0" width="100%" height="100%" filterUnits="objectBoundingBox" color-interpolation-filters="sRGB">
<feGaussianBlur in="SourceGraphic" stdDeviation="14" result="m"/>
<feTurbulence type="fractalNoise" baseFrequency="0.08" numOctaves="2" seed="11" result="n"/>
<feColorMatrix in="n" type="matrix" values="0 0 0 0 0.95  0 0 0 0 0.15  0 0 0 0 0.08  6 0 0 0 -3.55" result="g"/>
<feComposite in="g" in2="m" operator="in"/>
</filter>
<filter id="b1"><feGaussianBlur stdDeviation="3"/></filter>
<filter id="b2"><feGaussianBlur stdDeviation="7"/></filter>
</defs>
<g transform="translate(40 566) scale(0.17280)">
<clipPath id="cC40_566"><rect x="22" y="28" width="1673" height="1665"/></clipPath>
<rect x="22" y="28" width="1673" height="1665" fill="#000"/>
<g clip-path="url(#cC40_566)">
<g filter="url(#gnz)"><rect x="22" y="28" width="1673" height="1665" fill="#fff" opacity="0"/><path d="M1700 70C1666.67 72.5 1558.33 78.33 1500 85C1441.67 91.67 1391.67 97.5 1350 110C1308.33 122.5 1283.33 145 1250 160C1216.67 175 1181.67 181.67 1150 200C1118.33 218.33 1088.33 246.67 1060 270C1031.67 293.33 1010 316.67 980 340C950 363.33 910 388.33 880 410C850 431.67 820 448.33 800 470C780 491.67 768.33 515 760 540C751.67 565 755 593.33 750 620C745 646.67 735 675 730 700C725 725 715 748.33 720 770C725 791.67 741.67 808.33 760 830C778.33 851.67 810 875 830 900C850 925 868.33 955 880 980C891.67 1005 910 1031.67 900 1050C890 1068.33 853.33 1078.33 820 1090C786.67 1101.67 736.67 1103.33 700 1120C663.33 1136.67 633.33 1177.5 600 1190C566.67 1202.5 533.33 1195 500 1195C466.67 1195 433.33 1184.17 400 1190C366.67 1195.83 326.67 1210 300 1230C273.33 1250 255 1283.33 240 1310C225 1336.67 205 1366.67 210 1390C215 1413.33 265 1426.67 270 1450C275 1473.33 260 1506.67 240 1530C220 1553.33 186.67 1571.67 150 1590C113.33 1608.33 41.67 1631.67 20 1640" fill="none" stroke="#fff" stroke-width="100" opacity="0.42" stroke-linecap="round"/><path d="M1700 140C1675 140 1600 136.67 1550 140C1500 143.33 1441.67 148.33 1400 160C1358.33 171.67 1331.67 188.33 1300 210C1268.33 231.67 1236.67 266.67 1210 290C1183.33 313.33 1156.67 321.67 1140 350C1123.33 378.33 1120 425 1110 460C1100 495 1088.33 520 1080 560C1071.67 600 1056.67 660 1060 700C1063.33 740 1103.33 770 1100 800C1096.67 830 1046.67 853.33 1040 880C1033.33 906.67 1040 943.33 1060 960C1080 976.67 1156.67 966.67 1160 980C1163.33 993.33 1106.67 1020 1080 1040C1053.33 1060 1030 1083.33 1000 1100C970 1116.67 930 1126.67 900 1140C870 1153.33 840 1161.67 820 1180C800 1198.33 800 1230 780 1250C760 1270 723.33 1275 700 1300C676.67 1325 656.67 1370 640 1400C623.33 1430 620 1456.67 600 1480C580 1503.33 543.33 1520 520 1540C496.67 1560 483.33 1580 460 1600C436.67 1620 393.33 1650 380 1660" fill="none" stroke="#fff" stroke-width="80" opacity="0.3" stroke-linecap="round"/><path d="M760 450L1100 330L1150 700L1150 1000L900 1100L750 800Z" fill="#fff" opacity="0.35"/></g>
<g filter="url(#rnz)"><rect x="22" y="28" width="1673" height="1665" fill="#fff" opacity="0"/><path d="M1000 200L1695 100L1695 1693L300 1693L700 1300L1100 1000Z" fill="#fff" opacity="0.2"/></g>
<g filter="url(#b1)">
<path d="M1700 70C1666.67 72.5 1558.33 78.33 1500 85C1441.67 91.67 1391.67 97.5 1350 110C1308.33 122.5 1283.33 145 1250 160C1216.67 175 1181.67 181.67 1150 200C1118.33 218.33 1088.33 246.67 1060 270C1031.67 293.33 1010 316.67 980 340C950 363.33 910 388.33 880 410C850 431.67 820 448.33 800 470C780 491.67 768.33 515 760 540C751.67 565 755 593.33 750 620C745 646.67 735 675 730 700C725 725 715 748.33 720 770C725 791.67 741.67 808.33 760 830C778.33 851.67 810 875 830 900C850 925 868.33 955 880 980C891.67 1005 910 1031.67 900 1050C890 1068.33 853.33 1078.33 820 1090C786.67 1101.67 736.67 1103.33 700 1120C663.33 1136.67 633.33 1177.5 600 1190C566.67 1202.5 533.33 1195 500 1195C466.67 1195 433.33 1184.17 400 1190C366.67 1195.83 326.67 1210 300 1230C273.33 1250 255 1283.33 240 1310C225 1336.67 205 1366.67 210 1390C215 1413.33 265 1426.67 270 1450C275 1473.33 260 1506.67 240 1530C220 1553.33 186.67 1571.67 150 1590C113.33 1608.33 41.67 1631.67 20 1640" fill="none" stroke="#9fe0b4" stroke-width="11" opacity="0.55" stroke-linecap="round"/>
<path d="M1700 140C1675 140 1600 136.67 1550 140C1500 143.33 1441.67 148.33 1400 160C1358.33 171.67 1331.67 188.33 1300 210C1268.33 231.67 1236.67 266.67 1210 290C1183.33 313.33 1156.67 321.67 1140 350C1123.33 378.33 1120 425 1110 460C1100 495 1088.33 520 1080 560C1071.67 600 1056.67 660 1060 700C1063.33 740 1103.33 770 1100 800C1096.67 830 1046.67 853.33 1040 880C1033.33 906.67 1040 943.33 1060 960C1080 976.67 1156.67 966.67 1160 980C1163.33 993.33 1106.67 1020 1080 1040C1053.33 1060 1030 1083.33 1000 1100C970 1116.67 930 1126.67 900 1140C870 1153.33 840 1161.67 820 1180C800 1198.33 800 1230 780 1250C760 1270 723.33 1275 700 1300C676.67 1325 656.67 1370 640 1400C623.33 1430 620 1456.67 600 1480C580 1503.33 543.33 1520 520 1540C496.67 1560 483.33 1580 460 1600C436.67 1620 393.33 1650 380 1660" fill="none" stroke="#9fe0b4" stroke-width="9" opacity="0.4" stroke-linecap="round"/>
<path d="M1180 960C1166.67 966.67 1121.67 1001.67 1100 1000C1078.33 998.33 1063.33 971.67 1050 950C1036.67 928.33 1015 888.33 1020 870C1025 851.67 1061.67 851.67 1080 840C1098.33 828.33 1121.67 806.67 1130 800" fill="none" stroke="#a8e4b8" stroke-width="8" opacity="0.7" stroke-linecap="round"/>
<path d="M980 1120C966.67 1123.33 926.67 1130 900 1140C873.33 1150 840 1163.33 820 1180C800 1196.67 786.67 1230 780 1240" fill="none" stroke="#a8e4b8" stroke-width="8" opacity="0.7" stroke-linecap="round"/>
<path d="M560 1470C550 1475 518.33 1485 500 1500C481.67 1515 453.33 1543.33 450 1560C446.67 1576.67 475 1593.33 480 1600" fill="none" stroke="#a8e4b8" stroke-width="8" opacity="0.7" stroke-linecap="round"/>
<path d="M850 600C855 613.33 861.67 656.67 880 680C898.33 703.33 930 726.67 960 740C990 753.33 1043.33 756.67 1060 760" fill="none" stroke="#a8e4b8" stroke-width="8" opacity="0.7" stroke-linecap="round"/>
<path d="M720 870C726.67 866.67 745 851.67 760 850C775 848.33 801.67 858.33 810 860" fill="none" stroke="#a8e4b8" stroke-width="8" opacity="0.7" stroke-linecap="round"/>
<path d="M1320 170C1321.67 178.33 1333.33 206.67 1330 220C1326.67 233.33 1305 245 1300 250" fill="none" stroke="#a8e4b8" stroke-width="8" opacity="0.7" stroke-linecap="round"/>
<path d="M1350 140C1366.67 141.67 1421.67 141.67 1450 150C1478.33 158.33 1508.33 183.33 1520 190" fill="none" stroke="#a8e4b8" stroke-width="8" opacity="0.7" stroke-linecap="round"/>
<path d="M930 1000C941.67 1010 971.67 1053.33 1000 1060C1028.33 1066.67 1083.33 1043.33 1100 1040" fill="none" stroke="#a8e4b8" stroke-width="8" opacity="0.7" stroke-linecap="round"/>
<path d="M900 1140C910 1138.33 943.33 1130 960 1130C976.67 1130 993.33 1138.33 1000 1140" fill="none" stroke="#a8e4b8" stroke-width="8" opacity="0.7" stroke-linecap="round"/>
<path d="M760 1230C766.67 1223.33 783.33 1201.67 800 1190C816.67 1178.33 850 1165 860 1160" fill="none" stroke="#a8e4b8" stroke-width="8" opacity="0.7" stroke-linecap="round"/>
</g>
<g filter="url(#b1)">
<ellipse rx="43" ry="19.9" transform="translate(1590 45) rotate(20)" fill="url(#nucc)"/>
<ellipse rx="37.75" ry="16.75" transform="translate(1450 100) rotate(-10)" fill="url(#nuc)"/>
<ellipse rx="22" ry="32.5" transform="translate(1680 100) rotate(0)" fill="url(#nuc)"/>
<ellipse rx="27.25" ry="22" transform="translate(1590 185) rotate(0)" fill="url(#nucc)"/>
<ellipse rx="37.75" ry="22" transform="translate(1150 190) rotate(-20)" fill="url(#nuc)"/>
<ellipse rx="37.75" ry="19.9" transform="translate(1230 255) rotate(-15)" fill="url(#nuc)"/>
<ellipse rx="43" ry="19.9" transform="translate(1100 290) rotate(-30)" fill="url(#nucc)"/>
<ellipse rx="27.25" ry="19.9" transform="translate(955 360) rotate(-30)" fill="url(#nuc)"/>
<ellipse rx="40.9" ry="22" transform="translate(1100 400) rotate(-10)" fill="url(#nuc)"/>
<ellipse rx="27.25" ry="32.5" transform="translate(1025 430) rotate(10)" fill="url(#nucc)"/>
<ellipse rx="37.75" ry="37.75" transform="translate(820 480) rotate(0)" fill="url(#nuc)"/>
<ellipse rx="32.5" ry="27.25" transform="translate(895 530) rotate(-30)" fill="url(#nuc)"/>
<ellipse rx="27.25" ry="24.1" transform="translate(1050 540) rotate(0)" fill="url(#nucc)"/>
<ellipse rx="19.9" ry="15.7" transform="translate(1085 515) rotate(0)" fill="url(#nuc)"/>
<ellipse rx="30.4" ry="32.5" transform="translate(770 550) rotate(0)" fill="url(#nuc)"/>
<ellipse rx="32.5" ry="19.9" transform="translate(935 595) rotate(40)" fill="url(#nucc)"/>
<ellipse rx="22" ry="30.4" transform="translate(830 615) rotate(0)" fill="url(#nuc)"/>
<ellipse rx="19.9" ry="15.7" transform="translate(1030 640) rotate(0)" fill="url(#nuc)"/>
<ellipse rx="53.5" ry="19.9" transform="translate(920 670) rotate(25)" fill="url(#nucc)"/>
<ellipse rx="37.75" ry="22" transform="translate(895 715) rotate(10)" fill="url(#nuc)"/>
<ellipse rx="37.75" ry="19.9" transform="translate(1030 735) rotate(-10)" fill="url(#nuc)"/>
<ellipse rx="22" ry="30.4" transform="translate(710 780) rotate(-10)" fill="url(#nucc)"/>
<ellipse rx="30.4" ry="19.9" transform="translate(1100 790) rotate(-30)" fill="url(#nuc)"/>
<ellipse rx="24.1" ry="43" transform="translate(805 820) rotate(-15)" fill="url(#nuc)"/>
<ellipse rx="24.1" ry="43" transform="translate(990 880) rotate(-15)" fill="url(#nucc)"/>
<ellipse rx="37.75" ry="30.4" transform="translate(865 890) rotate(0)" fill="url(#nuc)"/>
<ellipse rx="24.1" ry="37.75" transform="translate(930 935) rotate(-10)" fill="url(#nuc)"/>
<ellipse rx="32.5" ry="24.1" transform="translate(870 985) rotate(-10)" fill="url(#nucc)"/>
<ellipse rx="43" ry="19.9" transform="translate(1140 995) rotate(-20)" fill="url(#nuc)"/>
<ellipse rx="37.75" ry="19.9" transform="translate(1040 1020) rotate(10)" fill="url(#nuc)"/>
<ellipse rx="32.5" ry="19.9" transform="translate(870 1040) rotate(-20)" fill="url(#nucc)"/>
<ellipse rx="32.5" ry="16.75" transform="translate(970 1055) rotate(10)" fill="url(#nuc)"/>
<ellipse rx="24.1" ry="30.4" transform="translate(680 1145) rotate(0)" fill="url(#nuc)"/>
<ellipse rx="32.5" ry="24.1" transform="translate(750 1190) rotate(-10)" fill="url(#nucc)"/>
<ellipse rx="40.9" ry="22" transform="translate(425 1195) rotate(10)" fill="url(#nuc)"/>
<ellipse rx="27.25" ry="16.75" transform="translate(560 1200) rotate(0)" fill="url(#nuc)"/>
<ellipse rx="19.9" ry="13.6" transform="translate(655 1200) rotate(0)" fill="url(#nucc)"/>
<ellipse rx="30.4" ry="16.75" transform="translate(630 1298) rotate(-10)" fill="url(#nuc)"/>
<ellipse rx="27.25" ry="19.9" transform="translate(345 1338) rotate(10)" fill="url(#nuc)"/>
<ellipse rx="32.5" ry="16.75" transform="translate(650 1395) rotate(-20)" fill="url(#nucc)"/>
<ellipse rx="32.5" ry="27.25" transform="translate(245 1400) rotate(30)" fill="url(#nuc)"/>
<ellipse rx="30.4" ry="19.9" transform="translate(580 1435) rotate(-10)" fill="url(#nuc)"/>
<ellipse rx="27.25" ry="32.5" transform="translate(605 1495) rotate(10)" fill="url(#nucc)"/>
<ellipse rx="30.4" ry="24.1" transform="translate(260 1530) rotate(-20)" fill="url(#nuc)"/>
<ellipse rx="43" ry="24.1" transform="translate(95 1585) rotate(-10)" fill="url(#nuc)"/>
<ellipse rx="37.75" ry="16.75" transform="translate(380 1560) rotate(-40)" fill="url(#nucc)"/>
<ellipse rx="27.25" ry="13.6" transform="translate(540 1560) rotate(-20)" fill="url(#nuc)"/>
<ellipse rx="30.4" ry="16.75" transform="translate(240 1590) rotate(-20)" fill="url(#nuc)"/>
<ellipse rx="37.75" ry="22" transform="translate(430 1605) rotate(0)" fill="url(#nucc)"/>
<ellipse rx="32.5" ry="16.75" transform="translate(235 1650) rotate(-10)" fill="url(#nuc)"/>
<ellipse rx="16.75" ry="13.6" transform="translate(35 1620) rotate(-30)" fill="url(#nuc)"/>
<ellipse rx="13.6" ry="16.75" transform="translate(1405 718) rotate(20)" fill="url(#nucc)"/>
<ellipse rx="16.75" ry="37.75" transform="translate(1648 800) rotate(20)" fill="url(#nuc)"/>
<ellipse rx="16.75" ry="11.5" transform="translate(625 1520) rotate(-40)" fill="url(#nuc)"/>
<ellipse rx="24" ry="21.6" transform="translate(1010 990) rotate(0)" fill="url(#ylg)"/>
<ellipse rx="22" ry="19.8" transform="translate(1020 690) rotate(0)" fill="url(#ylg)"/>
<ellipse rx="20" ry="18" transform="translate(980 850) rotate(0)" fill="url(#ylg)"/>
<ellipse rx="20" ry="18" transform="translate(520 1555) rotate(0)" fill="url(#ylg)"/>
<ellipse rx="16" ry="14.4" transform="translate(540 1480) rotate(0)" fill="url(#ylg)"/>
<ellipse rx="14" ry="12.6" transform="translate(1000 1080) rotate(0)" fill="url(#ylg)"/>
<ellipse rx="16" ry="14.4" transform="translate(1590 130) rotate(0)" fill="url(#ylg)"/>
<ellipse rx="16" ry="14.4" transform="translate(910 930) rotate(0)" fill="url(#ylg)"/>
<ellipse rx="12" ry="10.8" transform="translate(1010 390) rotate(0)" fill="url(#ylg)"/>
<ellipse rx="10" ry="22" transform="translate(1020 240) rotate(-20)" fill="#d03020" opacity="0.8"/>
<ellipse rx="14" ry="10" transform="translate(1660 150) rotate(0)" fill="#d03020" opacity="0.8"/>
<ellipse rx="10" ry="6" transform="translate(1250 760) rotate(0)" fill="#d03020" opacity="0.8"/>
<ellipse rx="8" ry="8" transform="translate(1300 800) rotate(0)" fill="#d03020" opacity="0.8"/>
<ellipse rx="14" ry="8" transform="translate(1130 720) rotate(30)" fill="#d03020" opacity="0.8"/>
<ellipse rx="22" ry="8" transform="translate(790 1310) rotate(-20)" fill="#d03020" opacity="0.8"/>
<ellipse rx="10" ry="6" transform="translate(540 1340) rotate(0)" fill="#d03020" opacity="0.8"/>
<ellipse rx="10" ry="6" transform="translate(1080 1110) rotate(0)" fill="#d03020" opacity="0.8"/>
<ellipse rx="8" ry="5" transform="translate(760 1500) rotate(0)" fill="#d03020" opacity="0.8"/>
<ellipse rx="8" ry="8" transform="translate(550 1610) rotate(0)" fill="#d03020" opacity="0.8"/>
</g>
</g></g>
<text x="52.4" y="602.3" font-size="23.6" fill="#fff" stroke="#fff" stroke-width="0.9">WT</text>
<line x1="254.3" y1="849.7" x2="324.8" y2="849.7" stroke="#fff" stroke-width="2.2" />
<text x="289.55" y="845.1" font-size="10.6" font-weight="bold" text-anchor="middle" fill="#fff">50 µm</text>
<g transform="translate(341 566) scale(0.17280)">
<clipPath id="cC341_566"><rect x="22" y="28" width="1673" height="1665"/></clipPath>
<rect x="22" y="28" width="1673" height="1665" fill="#000"/>
<g clip-path="url(#cC341_566)">
<g filter="url(#gnz)"><rect x="22" y="28" width="1673" height="1665" fill="#fff" opacity="0"/><path d="M20 790L100 790L200 790L300 775L400 745L500 715L600 685L700 655L800 625L900 595L1000 565L1100 535L1200 505L1300 475L1400 445L1500 415L1600 350L1700 285L1700 1700L20 1700Z" fill="#fff" opacity="0.22"/>
<path d="M20 1660L200 1600.6L400 1534.6L600 1468.6L800 1402.6L1000 1336.6L1200 1270.6L1400 1204.6L1600 1138.6L1700 1267.6L1600 1314.6L1400 1408.6L1200 1502.6L1000 1596.6L800 1690.6L20 1700Z" fill="#fff" opacity="0.55"/>
</g>
<g filter="url(#b1)">
<path d="M918.53 636.87C921.57 634.99 928.22 628.98 936.77 625.56C945.31 622.14 964.3 617.9 969.8 616.37" fill="none" stroke="#58e040" stroke-width="5.28" opacity="0.63" stroke-linecap="round"/>
<path d="M732.22 1404.71C736.98 1403.37 751.95 1401.76 760.8 1396.7C769.65 1391.65 781.22 1378.09 785.3 1374.37" fill="none" stroke="#58e040" stroke-width="7.31" opacity="0.74" stroke-linecap="round"/>
<path d="M1458.22 510.2C1462.12 508.21 1472.82 503.91 1481.65 498.24C1490.49 492.57 1506.29 479.85 1511.22 476.17" fill="none" stroke="#58e040" stroke-width="5.72" opacity="0.8" stroke-linecap="round"/>
<path d="M1090.9 648.04C1096.57 642.6 1111.22 624.71 1124.9 615.4C1138.58 606.09 1164.97 596.04 1172.99 592.17" fill="none" stroke="#58e040" stroke-width="7.72" opacity="0.75" stroke-linecap="round"/>
<path d="M547.57 1002.96C555.06 999.99 579.1 992.12 592.5 985.11C605.91 978.1 622.1 964.93 628.02 960.89" fill="none" stroke="#58e040" stroke-width="5.98" opacity="0.8" stroke-linecap="round"/>
<path d="M900.65 1485.1C910.45 1479.57 942.39 1460.93 959.42 1451.9C976.45 1442.87 995.59 1434.42 1002.83 1430.92" fill="none" stroke="#58e040" stroke-width="6.67" opacity="0.86" stroke-linecap="round"/>
<path d="M276.27 842.12C281.23 840.99 297.54 837.99 306.06 835.34C314.58 832.69 323.83 827.73 327.38 826.21" fill="none" stroke="#58e040" stroke-width="8.5" opacity="0.71" stroke-linecap="round"/>
<path d="M1185.23 1017.63C1193.96 1015.45 1221.97 1011.31 1237.62 1004.59C1253.27 997.87 1272.22 981.87 1279.14 977.33" fill="none" stroke="#58e040" stroke-width="6.9" opacity="0.83" stroke-linecap="round"/>
<path d="M123.5 1195.98C133.29 1194.12 164.36 1187.4 182.22 1184.82C200.08 1182.25 222.57 1181.27 230.64 1180.56" fill="none" stroke="#58e040" stroke-width="6.54" opacity="0.83" stroke-linecap="round"/>
<path d="M120.63 1307.11C124.83 1305.6 136.85 1303.07 145.82 1298.08C154.8 1293.09 169.73 1280.65 174.51 1277.16" fill="none" stroke="#58e040" stroke-width="5.32" opacity="0.76" stroke-linecap="round"/>
<path d="M941.21 1498.83C950.72 1496.5 978.04 1489.04 998.23 1484.82C1018.41 1480.6 1051.65 1475.4 1062.33 1473.51" fill="none" stroke="#58e040" stroke-width="6.44" opacity="0.91" stroke-linecap="round"/>
<path d="M412.37 835.46C418.58 831.13 434.57 817.7 449.64 809.47C464.71 801.24 493.93 789.98 502.78 786.08" fill="none" stroke="#58e040" stroke-width="6.48" opacity="0.8" stroke-linecap="round"/>
<path d="M1616.53 1177.67C1624.61 1173.91 1649.79 1160.23 1665 1155.08C1680.22 1149.92 1700.7 1148.14 1707.83 1146.75" fill="none" stroke="#58e040" stroke-width="8.6" opacity="0.87" stroke-linecap="round"/>
<path d="M678.45 692.3C681.98 689.6 690.23 679.19 699.61 676.09C709 673 728.93 674.13 734.79 673.73" fill="none" stroke="#58e040" stroke-width="5.84" opacity="0.66" stroke-linecap="round"/>
<path d="M64.66 1483.76C71.45 1478.73 90.51 1462.81 105.41 1453.55C120.32 1444.3 145.98 1432.45 154.09 1428.23" fill="none" stroke="#58e040" stroke-width="6.46" opacity="0.64" stroke-linecap="round"/>
<path d="M801.6 833.58C805.21 830.33 815.2 819.3 823.25 814.04C831.31 808.78 845.49 804.03 849.94 802.03" fill="none" stroke="#58e040" stroke-width="8.32" opacity="0.66" stroke-linecap="round"/>
<path d="M60.64 1611.39C67.66 1605.83 88.94 1586.64 102.74 1578.05C116.54 1569.46 136.67 1562.89 143.45 1559.85" fill="none" stroke="#58e040" stroke-width="7.11" opacity="0.94" stroke-linecap="round"/>
<path d="M1466.34 1187.17C1470.97 1185.23 1483.09 1180.88 1494.12 1175.56C1505.16 1170.24 1526.15 1158.64 1532.55 1155.26" fill="none" stroke="#58e040" stroke-width="7.13" opacity="0.87" stroke-linecap="round"/>
<path d="M1391.07 1259.89C1396.14 1256.48 1410.59 1243.75 1421.51 1239.45C1432.43 1235.14 1450.73 1234.97 1456.58 1234.08" fill="none" stroke="#58e040" stroke-width="5.11" opacity="0.7" stroke-linecap="round"/>
<path d="M455.6 1181.05C467.17 1177.83 504.2 1170.79 525 1161.75C545.8 1152.71 571.18 1132.65 580.42 1126.83" fill="none" stroke="#58e040" stroke-width="8.82" opacity="0.73" stroke-linecap="round"/>
<path d="M1066.06 1527.01C1076.14 1523.79 1107.18 1515.73 1126.52 1507.69C1145.85 1499.65 1172.82 1483.6 1182.08 1478.78" fill="none" stroke="#58e040" stroke-width="5.34" opacity="0.83" stroke-linecap="round"/>
<path d="M1276.98 823.92C1281.88 823.4 1295.68 823.45 1306.37 820.8C1317.06 818.15 1335.33 810.17 1341.12 808.05" fill="none" stroke="#58e040" stroke-width="8.89" opacity="0.74" stroke-linecap="round"/>
<path d="M693.52 1604.42C700.74 1598.51 720.39 1578.91 736.81 1568.95C753.24 1558.99 782.84 1548.71 792.04 1544.66" fill="none" stroke="#58e040" stroke-width="8.62" opacity="0.88" stroke-linecap="round"/>
<path d="M266.55 1404.14C277.13 1400.79 308.08 1390.99 330.04 1384.02C352 1377.06 386.93 1365.96 398.31 1362.35" fill="none" stroke="#58e040" stroke-width="5.52" opacity="0.6" stroke-linecap="round"/>
<path d="M1646.3 1109.71C1654.12 1109.31 1677.22 1110.1 1693.22 1107.32C1709.21 1104.54 1734.08 1095.41 1742.25 1093.03" fill="none" stroke="#58e040" stroke-width="8.3" opacity="0.67" stroke-linecap="round"/>
<path d="M424.42 1004.42C429.01 1003 440.81 1000.93 451.95 995.91C463.09 990.88 484.73 977.88 491.28 974.27" fill="none" stroke="#58e040" stroke-width="6.42" opacity="0.76" stroke-linecap="round"/>
<path d="M997.94 1533.65C1005.15 1532.43 1026.78 1528.93 1041.19 1526.31C1055.6 1523.69 1077.18 1519.33 1084.38 1517.94" fill="none" stroke="#58e040" stroke-width="7.09" opacity="0.61" stroke-linecap="round"/>
<path d="M28.58 1358.62C34.21 1356.66 52.32 1351.08 62.39 1346.86C72.46 1342.64 84.56 1335.55 89 1333.29" fill="none" stroke="#58e040" stroke-width="6.3" opacity="0.78" stroke-linecap="round"/>
<path d="M951.25 1333.81C955.24 1331.5 965.85 1323.35 975.15 1319.91C984.46 1316.46 1001.78 1314.27 1007.1 1313.14" fill="none" stroke="#58e040" stroke-width="8.09" opacity="0.78" stroke-linecap="round"/>
<path d="M961.77 1293.39C972.16 1289 1003.93 1275.85 1024.12 1267.04C1044.3 1258.23 1073.07 1244.94 1082.86 1240.52" fill="none" stroke="#58e040" stroke-width="7.05" opacity="0.84" stroke-linecap="round"/>
<path d="M778.77 915.92C786.95 915.63 812.53 916.75 827.82 914.16C843.1 911.56 863.37 902.65 870.48 900.35" fill="none" stroke="#58e040" stroke-width="8.77" opacity="0.69" stroke-linecap="round"/>
<path d="M144.33 1142.67C153.28 1141.35 178.26 1138.54 198 1134.75C217.73 1130.95 251.93 1122.38 262.72 1119.91" fill="none" stroke="#58e040" stroke-width="7.64" opacity="0.65" stroke-linecap="round"/>
<path d="M389.37 1613.92C397.29 1612.08 423.67 1608.35 436.9 1602.91C450.14 1597.47 463.45 1584.87 468.76 1581.27" fill="none" stroke="#58e040" stroke-width="5.65" opacity="0.75" stroke-linecap="round"/>
<path d="M948.93 761.36C953.1 759.46 966.28 753.82 973.97 749.95C981.65 746.08 991.53 740.12 995.04 738.15" fill="none" stroke="#58e040" stroke-width="5.26" opacity="0.94" stroke-linecap="round"/>
<path d="M88.23 1325.03C93.26 1322.81 107.92 1318.35 118.38 1311.71C128.84 1305.08 145.58 1289.64 151.02 1285.23" fill="none" stroke="#58e040" stroke-width="8.28" opacity="0.69" stroke-linecap="round"/>
<path d="M271.89 1558.42C278.9 1554.86 297.74 1541.81 313.94 1537.04C330.15 1532.28 359.93 1531.03 369.13 1529.82" fill="none" stroke="#58e040" stroke-width="7.75" opacity="0.75" stroke-linecap="round"/>
<path d="M143.15 1590.35C150.72 1589.21 171.19 1587.69 188.55 1583.5C205.9 1579.32 237.48 1568.29 247.27 1565.25" fill="none" stroke="#58e040" stroke-width="5.27" opacity="0.9" stroke-linecap="round"/>
<path d="M947.28 1570.9C952.56 1566.9 968.57 1553.49 979 1546.87C989.43 1540.26 1004.72 1533.83 1009.86 1531.22" fill="none" stroke="#58e040" stroke-width="5.44" opacity="0.66" stroke-linecap="round"/>
<path d="M1292.64 510.78C1299.02 505.42 1317.33 486.76 1330.9 478.6C1344.47 470.44 1366.87 464.62 1374.06 461.83" fill="none" stroke="#58e040" stroke-width="6" opacity="0.61" stroke-linecap="round"/>
<path d="M1248.44 945.5C1254.76 942.29 1276.02 930.57 1286.32 926.26C1296.63 921.94 1306.3 920.72 1310.3 919.61" fill="none" stroke="#58e040" stroke-width="8.28" opacity="0.75" stroke-linecap="round"/>
<path d="M850.14 1417.63C857.24 1416.28 879.56 1414.78 892.77 1409.49C905.98 1404.2 923.3 1389.84 929.4 1385.91" fill="none" stroke="#58e040" stroke-width="6.37" opacity="0.89" stroke-linecap="round"/>
<path d="M1204.35 1086.9C1209.62 1082.73 1223.05 1068.23 1235.97 1061.85C1248.89 1055.48 1274.2 1050.85 1281.85 1048.65" fill="none" stroke="#58e040" stroke-width="5.28" opacity="0.86" stroke-linecap="round"/>
<path d="M163.34 1428.71C172.98 1424.86 200.72 1411.92 221.15 1405.58C241.58 1399.25 275.14 1393.19 285.94 1390.71" fill="none" stroke="#58e040" stroke-width="6.17" opacity="0.76" stroke-linecap="round"/>
<path d="M462.41 1629.37C472.45 1626.57 501.21 1620.63 522.65 1612.54C544.1 1604.44 579.67 1586.09 591.08 1580.8" fill="none" stroke="#58e040" stroke-width="6.24" opacity="0.72" stroke-linecap="round"/>
<path d="M816.08 865.1C820.02 862.36 829.22 852.88 839.75 848.65C850.28 844.42 872.68 841.23 879.27 839.74" fill="none" stroke="#58e040" stroke-width="5.36" opacity="0.74" stroke-linecap="round"/>
<path d="M1001.68 909.1C1011.59 907.15 1042.49 903.33 1061.16 897.41C1079.84 891.49 1104.97 877.55 1113.73 873.58" fill="none" stroke="#58e040" stroke-width="6.56" opacity="0.71" stroke-linecap="round"/>
<path d="M1233.51 1098.96C1238.94 1098.32 1257.33 1097.07 1266.1 1095.11C1274.88 1093.15 1282.81 1088.5 1286.15 1087.18" fill="none" stroke="#58e040" stroke-width="7.94" opacity="0.88" stroke-linecap="round"/>
<path d="M255.06 900.06C263.63 899.19 290.97 898.33 306.48 894.86C322 891.38 341.2 881.82 348.15 879.21" fill="none" stroke="#58e040" stroke-width="7.34" opacity="0.91" stroke-linecap="round"/>
<path d="M1164.48 1182.39C1168.32 1178.63 1177.89 1166.6 1187.52 1159.82C1197.16 1153.04 1216.51 1144.73 1222.3 1141.71" fill="none" stroke="#58e040" stroke-width="5.42" opacity="0.89" stroke-linecap="round"/>
<path d="M956.42 1073.23C964.87 1069.33 990.16 1054.95 1007.12 1049.79C1024.07 1044.62 1049.65 1043.5 1058.16 1042.24" fill="none" stroke="#58e040" stroke-width="8.19" opacity="0.86" stroke-linecap="round"/>
<path d="M863.47 919.11C871.64 913.33 897.42 894.68 912.5 884.45C927.58 874.22 947.05 862.18 953.95 857.73" fill="none" stroke="#58e040" stroke-width="5.3" opacity="0.69" stroke-linecap="round"/>
<path d="M848.38 664.96C856.51 663.03 882.35 657.83 897.2 653.33C912.05 648.83 930.77 640.53 937.49 637.96" fill="none" stroke="#58e040" stroke-width="7.57" opacity="0.63" stroke-linecap="round"/>
<path d="M1265.4 534.85C1271.08 529.33 1285.76 511.51 1299.45 501.69C1313.14 491.87 1339.54 480.22 1347.55 475.93" fill="none" stroke="#58e040" stroke-width="7.69" opacity="0.84" stroke-linecap="round"/>
<path d="M886.16 801.66C893.66 796.72 918.27 780.3 931.17 772.02C944.07 763.74 958.17 755.34 963.57 752" fill="none" stroke="#58e040" stroke-width="8.91" opacity="0.93" stroke-linecap="round"/>
<path d="M373.06 1602.4C377.51 1600.53 388.97 1595.03 399.79 1591.15C410.61 1587.28 431.61 1581.14 437.98 1579.13" fill="none" stroke="#58e040" stroke-width="8.81" opacity="0.65" stroke-linecap="round"/>
<path d="M1394.22 875.06C1403.89 873.08 1431.46 869.27 1452.22 863.2C1472.99 857.12 1507.72 842.71 1518.82 838.61" fill="none" stroke="#58e040" stroke-width="6.94" opacity="0.61" stroke-linecap="round"/>
<path d="M28.01 846.67C33.74 842.77 49.03 830.22 62.41 823.24C75.79 816.26 100.66 807.86 108.31 804.79" fill="none" stroke="#58e040" stroke-width="6.26" opacity="0.89" stroke-linecap="round"/>
<path d="M24.91 1277.97C34.86 1272.9 66.97 1258.81 84.59 1247.53C102.2 1236.25 122.94 1216.48 130.61 1210.27" fill="none" stroke="#58e040" stroke-width="8.61" opacity="0.7" stroke-linecap="round"/>
<path d="M644.73 682.18C655.34 678.09 686.45 665.46 708.43 657.67C730.41 649.89 765.23 639.17 776.59 635.47" fill="none" stroke="#58e040" stroke-width="6.1" opacity="0.62" stroke-linecap="round"/>
<path d="M192.16 1417.74C197.71 1416.04 213.02 1409.69 225.45 1407.54C237.88 1405.39 259.88 1405.29 266.76 1404.85" fill="none" stroke="#58e040" stroke-width="7.04" opacity="0.67" stroke-linecap="round"/>
<path d="M646.61 1620.02C657.47 1618.64 690.75 1616.72 711.77 1611.76C732.79 1606.81 762.58 1593.86 772.74 1590.28" fill="none" stroke="#58e040" stroke-width="8.76" opacity="0.79" stroke-linecap="round"/>
<path d="M1247.23 778.68C1255.99 774.46 1281.14 759.37 1299.81 753.32C1318.48 747.27 1349.33 744.21 1359.23 742.39" fill="none" stroke="#58e040" stroke-width="8.71" opacity="0.64" stroke-linecap="round"/>
<path d="M520.17 1258.49C530.66 1252.44 562.97 1233.22 583.12 1222.18C603.28 1211.14 631.42 1197.24 641.08 1192.25" fill="none" stroke="#58e040" stroke-width="7.23" opacity="0.74" stroke-linecap="round"/>
<path d="M369.77 1536.42C377.7 1533.82 403.66 1528.65 417.36 1520.8C431.06 1512.94 446.18 1494.54 451.95 1489.29" fill="none" stroke="#58e040" stroke-width="6.8" opacity="0.65" stroke-linecap="round"/>
<path d="M974.97 1505.27C983.65 1501.29 1009.24 1489.46 1027.06 1481.36C1044.89 1473.26 1072.77 1460.78 1081.91 1456.67" fill="none" stroke="#58e040" stroke-width="6.51" opacity="0.72" stroke-linecap="round"/>
<path d="M864.18 1076.33C872.79 1070.35 897.39 1051.06 915.82 1040.44C934.26 1029.81 964.96 1017.23 974.79 1012.59" fill="none" stroke="#58e040" stroke-width="6.6" opacity="0.76" stroke-linecap="round"/>
<path d="M75.94 1209.34C86.21 1203.8 117.49 1184.5 137.56 1176.09C157.64 1167.67 186.59 1161.71 196.4 1158.83" fill="none" stroke="#58e040" stroke-width="6.57" opacity="0.92" stroke-linecap="round"/>
<path d="M1648.56 441.69C1652.86 439.56 1665.88 434.14 1674.37 428.9C1682.85 423.67 1695.28 413.39 1699.46 410.28" fill="none" stroke="#58e040" stroke-width="8.77" opacity="0.85" stroke-linecap="round"/>
<path d="M1105.01 1301.39C1110.9 1299.48 1126.1 1295.24 1140.32 1289.9C1154.55 1284.57 1182.03 1272.8 1190.37 1269.38" fill="none" stroke="#58e040" stroke-width="5.93" opacity="0.92" stroke-linecap="round"/>
<path d="M1086.52 1191.14C1090.73 1188.56 1103.51 1181.26 1111.81 1175.65C1120.11 1170.05 1132.23 1160.53 1136.32 1157.51" fill="none" stroke="#58e040" stroke-width="6.55" opacity="0.68" stroke-linecap="round"/>
<path d="M526.45 795.05C538.27 791.48 575.81 780.65 597.42 773.65C619.03 766.65 646.33 756.47 656.11 753.04" fill="none" stroke="#58e040" stroke-width="5.94" opacity="0.69" stroke-linecap="round"/>
<path d="M1629.11 1201.25C1634.38 1197.97 1650.19 1189.05 1660.74 1181.55C1671.29 1174.05 1687.14 1160.48 1692.42 1156.27" fill="none" stroke="#58e040" stroke-width="6.68" opacity="0.69" stroke-linecap="round"/>
<path d="M587.56 728.23C596.36 724.16 624.33 713.23 640.34 703.81C656.35 694.4 676.41 677.09 683.62 671.75" fill="none" stroke="#58e040" stroke-width="7.02" opacity="0.67" stroke-linecap="round"/>
<path d="M1644.57 547.01C1652.81 542.62 1676.02 530.83 1693.97 520.66C1711.92 510.49 1742.57 491.75 1752.28 485.97" fill="none" stroke="#58e040" stroke-width="6.18" opacity="0.93" stroke-linecap="round"/>
<path d="M378.26 1649.91C381.4 1646.66 388.46 1636.34 397.08 1630.4C405.69 1624.47 424.48 1616.99 429.97 1614.31" fill="none" stroke="#58e040" stroke-width="8.59" opacity="0.91" stroke-linecap="round"/>
<path d="M1580.56 576.19C1586.69 574 1606.41 564.92 1617.36 563.03C1628.32 561.13 1641.46 564.54 1646.28 564.84" fill="none" stroke="#58e040" stroke-width="7.66" opacity="0.73" stroke-linecap="round"/>
<path d="M1635.23 373.33C1642.75 371.61 1667.04 366.09 1680.37 363.01C1693.71 359.94 1709.41 356.22 1715.22 354.86" fill="none" stroke="#58e040" stroke-width="5.2" opacity="0.77" stroke-linecap="round"/>
<path d="M645.55 1558.98C651.66 1555.28 672.12 1541.69 682.23 1536.8C692.34 1531.91 702.21 1530.85 706.21 1529.65" fill="none" stroke="#58e040" stroke-width="6.64" opacity="0.88" stroke-linecap="round"/>
<circle cx="420" cy="1210" r="70" fill="none" stroke="#48d838" stroke-width="6" opacity="0.6"/>
<circle cx="870" cy="940" r="60" fill="none" stroke="#48d838" stroke-width="6" opacity="0.6"/>
<circle cx="620" cy="1110" r="45" fill="none" stroke="#48d838" stroke-width="6" opacity="0.6"/>
<path d="M780 1700C800 1693.33 863.33 1673.33 900 1660C936.67 1646.67 950 1642.5 1000 1620C1050 1597.5 1133.33 1555.83 1200 1525C1266.67 1494.17 1341.67 1463.33 1400 1435C1458.33 1406.67 1500 1382.5 1550 1355C1600 1327.5 1675 1284.17 1700 1270" fill="none" stroke="#5ce850" stroke-width="17" opacity="0.95" stroke-linecap="round"/>
<path d="M20 1640C66.67 1626.67 203.33 1590 300 1560C396.67 1530 483.33 1500 600 1460C716.67 1420 866.67 1356.67 1000 1320C1133.33 1283.33 1283.33 1275 1400 1240C1516.67 1205 1650 1131.67 1700 1110" fill="none" stroke="#48d838" stroke-width="6" opacity="0.5" stroke-linecap="round"/>
</g>
<g filter="url(#b1)">
<ellipse rx="42.95" ry="15.49" transform="translate(1561.29 455.93) rotate(-29.79)" fill="url(#nuc)"/>
<ellipse rx="33.51" ry="11.02" transform="translate(1220.93 554.95) rotate(-14.8)" fill="url(#nuc)"/>
<ellipse rx="46.87" ry="11.12" transform="translate(1555.24 1083.58) rotate(-33.58)" fill="url(#nuc)"/>
<ellipse rx="33.02" ry="13.15" transform="translate(1617.89 671.55) rotate(-24.23)" fill="url(#nuc)"/>
<ellipse rx="32.95" ry="11.32" transform="translate(352.1 1281.55) rotate(-40.78)" fill="url(#nuc)"/>
<ellipse rx="29.68" ry="11.48" transform="translate(1674.63 469.04) rotate(-24.05)" fill="url(#nuc)"/>
<ellipse rx="32.68" ry="13.08" transform="translate(1209.45 772.19) rotate(-19.67)" fill="url(#nuc)"/>
<ellipse rx="44.94" ry="14.32" transform="translate(1149.78 1273.38) rotate(-37.64)" fill="url(#nuc)"/>
<ellipse rx="39.34" ry="12.86" transform="translate(1428.78 517.15) rotate(-15.43)" fill="url(#nuc)"/>
<ellipse rx="34.53" ry="12.98" transform="translate(1501.21 990.84) rotate(-6.27)" fill="url(#nuc)"/>
<ellipse rx="47.82" ry="11.51" transform="translate(1374.52 1115.79) rotate(-24.91)" fill="url(#nuc)"/>
<ellipse rx="40.4" ry="12.09" transform="translate(198.97 1020.58) rotate(-28.73)" fill="url(#nuc)"/>
<ellipse rx="41.03" ry="12.02" transform="translate(448.47 1026.04) rotate(-41.59)" fill="url(#nuc)"/>
<ellipse rx="31.7" ry="12.56" transform="translate(569.49 1157.4) rotate(-34.68)" fill="url(#nuc)"/>
<ellipse rx="29.27" ry="11.51" transform="translate(1352.51 940.49) rotate(-27.77)" fill="url(#nuc)"/>
<ellipse rx="29.82" ry="11.82" transform="translate(942.38 1092.24) rotate(-16.97)" fill="url(#nuc)"/>
<ellipse rx="35.14" ry="13.08" transform="translate(544.58 971.26) rotate(-10.89)" fill="url(#nuc)"/>
<ellipse rx="31.94" ry="14.64" transform="translate(1689.35 633.7) rotate(-34.67)" fill="url(#nuc)"/>
<ellipse rx="36.48" ry="15.1" transform="translate(31.83 1529.21) rotate(-27.38)" fill="url(#nuc)"/>
<ellipse rx="31.25" ry="11.07" transform="translate(1498.99 795.41) rotate(-22.14)" fill="url(#nuc)"/>
<ellipse rx="30.92" ry="12.42" transform="translate(642.42 867.93) rotate(-23.24)" fill="url(#nuc)"/>
<ellipse rx="47.34" ry="11.99" transform="translate(842.62 1368.01) rotate(-37.44)" fill="url(#nuc)"/>
<ellipse rx="30.46" ry="12.24" transform="translate(888.43 666.65) rotate(-15.9)" fill="url(#nuc)"/>
<ellipse rx="28.76" ry="15.19" transform="translate(962.8 1289.17) rotate(-37.76)" fill="url(#nuc)"/>
<ellipse rx="40.54" ry="12.53" transform="translate(1025 943.84) rotate(-26.88)" fill="url(#nuc)"/>
<ellipse rx="41.18" ry="13.23" transform="translate(996.73 736.86) rotate(-26.22)" fill="url(#nuc)"/>
<ellipse rx="37.79" ry="12.18" transform="translate(61.11 1058.45) rotate(-14.51)" fill="url(#nuc)"/>
<ellipse rx="31.59" ry="13.37" transform="translate(1326.9 791.05) rotate(-38.15)" fill="url(#nuc)"/>
<ellipse rx="40.73" ry="12.8" transform="translate(214.53 911.65) rotate(-10.57)" fill="url(#nuc)"/>
<ellipse rx="45.65" ry="11.52" transform="translate(950.82 993.77) rotate(-6.25)" fill="url(#nuc)"/>
<ellipse rx="43.95" ry="12.32" transform="translate(1075.62 684.44) rotate(-6.34)" fill="url(#nuc)"/>
<ellipse rx="43.29" ry="13.21" transform="translate(987.92 627.82) rotate(-35.64)" fill="url(#nuc)"/>
<ellipse rx="34.25" ry="11.01" transform="translate(1002.16 1133.06) rotate(-40.78)" fill="url(#nuc)"/>
<ellipse rx="36.64" ry="13.56" transform="translate(271.89 1053.73) rotate(-9.76)" fill="url(#nuc)"/>
<ellipse rx="30.69" ry="15.68" transform="translate(1065.83 818.71) rotate(-33.23)" fill="url(#nuc)"/>
<ellipse rx="33.28" ry="11.06" transform="translate(1330.55 697.25) rotate(-18.78)" fill="url(#nuc)"/>
<ellipse rx="36.12" ry="12.19" transform="translate(95.62 912.99) rotate(-39.9)" fill="url(#nuc)"/>
<ellipse rx="37.05" ry="12.13" transform="translate(800.39 1263.02) rotate(-38.21)" fill="url(#nuc)"/>
<ellipse rx="41.9" ry="15.23" transform="translate(583.32 1276.17) rotate(-16.38)" fill="url(#nuc)"/>
<ellipse rx="36.72" ry="14.94" transform="translate(467 950.06) rotate(-23.16)" fill="url(#nuc)"/>
<ellipse rx="47.3" ry="12.08" transform="translate(465.84 1096.94) rotate(-10.32)" fill="url(#nuc)"/>
<ellipse rx="47.58" ry="13.35" transform="translate(1181.13 1135.62) rotate(-11.77)" fill="url(#nuc)"/>
<ellipse rx="29.56" ry="15.55" transform="translate(376.62 1064.67) rotate(-36.79)" fill="url(#nuc)"/>
<ellipse rx="30.84" ry="11.14" transform="translate(1576.13 602.2) rotate(-40.5)" fill="url(#nuc)"/>
<ellipse rx="44.39" ry="15.46" transform="translate(629.98 1389.24) rotate(-39.63)" fill="url(#nuc)"/>
<ellipse rx="44.24" ry="14.17" transform="translate(79.6 1439.45) rotate(-12.3)" fill="url(#nuc)"/>
<ellipse rx="28.42" ry="12.28" transform="translate(555.92 733.57) rotate(-31.83)" fill="url(#nuc)"/>
<ellipse rx="34.42" ry="15.82" transform="translate(1219.47 640.76) rotate(-23.87)" fill="url(#nuc)"/>
<ellipse rx="28.62" ry="13.06" transform="translate(1446.35 1057.43) rotate(-26.29)" fill="url(#nuc)"/>
<ellipse rx="42.09" ry="13.69" transform="translate(1315.27 605.39) rotate(-34.2)" fill="url(#nuc)"/>
<ellipse rx="37.83" ry="14.98" transform="translate(29.3 845.22) rotate(-35.36)" fill="url(#nuc)"/>
<ellipse rx="37.97" ry="11.55" transform="translate(381.22 1192.63) rotate(-19.08)" fill="url(#nuc)"/>
<ellipse rx="41.94" ry="14.93" transform="translate(157.32 1339.88) rotate(-19.39)" fill="url(#nuc)"/>
<ellipse rx="28.5" ry="12.03" transform="translate(166.17 1507.27) rotate(-32.52)" fill="url(#nuc)"/>
<ellipse rx="35.59" ry="15.42" transform="translate(1529.73 862.48) rotate(-33.59)" fill="url(#nuc)"/>
<ellipse rx="43.09" ry="14.76" transform="translate(793.1 913.02) rotate(-18.73)" fill="url(#nuc)"/>
<ellipse rx="41.24" ry="14.71" transform="translate(281.86 1431.77) rotate(-35.9)" fill="url(#nuc)"/>
<ellipse rx="31.22" ry="12.64" transform="translate(568.34 897.43) rotate(-35.19)" fill="url(#nuc)"/>
<ellipse rx="41.87" ry="13.5" transform="translate(689.56 1345.02) rotate(-19.23)" fill="url(#nuc)"/>
<ellipse rx="42.98" ry="13.11" transform="translate(741.44 983.67) rotate(-33.77)" fill="url(#nuc)"/>
<ellipse rx="45.05" ry="14.4" transform="translate(1316.98 1193.63) rotate(-18.9)" fill="url(#nuc)"/>
<ellipse rx="36.19" ry="14.38" transform="translate(783.54 1062.91) rotate(-8.51)" fill="url(#nuc)"/>
<ellipse rx="46.81" ry="13.6" transform="translate(291.09 1329.68) rotate(-38.36)" fill="url(#nuc)"/>
<ellipse rx="40.79" ry="15.14" transform="translate(1222.04 880.8) rotate(-23.22)" fill="url(#nuc)"/>
<ellipse rx="35.04" ry="12.33" transform="translate(725.58 1190.59) rotate(-33.92)" fill="url(#nuc)"/>
<ellipse rx="40.75" ry="14.3" transform="translate(824.29 741.44) rotate(-28.95)" fill="url(#nuc)"/>
<ellipse rx="41.12" ry="12.25" transform="translate(41.2 1612.69) rotate(-38.35)" fill="url(#nuc)"/>
<ellipse rx="43.83" ry="11.84" transform="translate(277.42 1533.31) rotate(-9.92)" fill="url(#nuc)"/>
<ellipse rx="38.79" ry="15.31" transform="translate(844.07 857.46) rotate(-41.76)" fill="url(#nuc)"/>
<ellipse rx="36.38" ry="15.8" transform="translate(1428.27 652.3) rotate(-39.29)" fill="url(#nuc)"/>
<ellipse rx="28.57" ry="14.05" transform="translate(1087.77 1087.15) rotate(-17.43)" fill="url(#nuc)"/>
<ellipse rx="37.69" ry="15.49" transform="translate(1664.41 878.19) rotate(-40.78)" fill="url(#nuc)"/>
<ellipse rx="34.77" ry="15.31" transform="translate(1223.52 1069.09) rotate(-28.82)" fill="url(#nuc)"/>
<ellipse rx="39.08" ry="15.13" transform="translate(750.07 731.28) rotate(-31.46)" fill="url(#nuc)"/>
<ellipse rx="45.71" ry="13.73" transform="translate(89.01 1231.26) rotate(-40.21)" fill="url(#nuc)"/>
<ellipse rx="39.93" ry="14.4" transform="translate(1070.66 1187.51) rotate(-34.35)" fill="url(#nuc)"/>
<ellipse rx="43.25" ry="11.51" transform="translate(1137.89 790.37) rotate(-35.47)" fill="url(#nuc)"/>
<ellipse rx="46.28" ry="14.28" transform="translate(83.86 1317.6) rotate(-28.72)" fill="url(#nuc)"/>
<ellipse rx="30.43" ry="15.83" transform="translate(30 1166.46) rotate(-38.83)" fill="url(#nuc)"/>
<ellipse rx="31.75" ry="11.25" transform="translate(427.32 1249.37) rotate(-14.14)" fill="url(#nuc)"/>
<ellipse rx="36.77" ry="14.38" transform="translate(636.94 985.31) rotate(-36.78)" fill="url(#nuc)"/>
<ellipse rx="41.7" ry="14.01" transform="translate(1507.83 655.17) rotate(-9.74)" fill="url(#nuc)"/>
<ellipse rx="40.56" ry="11.71" transform="translate(1398.98 823.1) rotate(-34.02)" fill="url(#nuc)"/>
<ellipse rx="34.69" ry="11.84" transform="translate(475.56 1425.87) rotate(-24.32)" fill="url(#nuc)"/>
<ellipse rx="42.43" ry="11.28" transform="translate(1247.83 707.52) rotate(-12.82)" fill="url(#nuc)"/>
<ellipse rx="38.31" ry="11.6" transform="translate(891.66 770.2) rotate(-16.27)" fill="url(#nuc)"/>
<ellipse rx="29.22" ry="15.36" transform="translate(660.06 1278.94) rotate(-7.65)" fill="url(#nuc)"/>
<ellipse rx="28.41" ry="15.84" transform="translate(909.54 922.66) rotate(-33.95)" fill="url(#nuc)"/>
<ellipse rx="42.93" ry="11.82" transform="translate(268.3 981.78) rotate(-12.26)" fill="url(#nuc)"/>
<ellipse rx="42.71" ry="11.55" transform="translate(670.94 760.43) rotate(-33.89)" fill="url(#nuc)"/>
<ellipse rx="37.96" ry="15.81" transform="translate(1302.98 1003.41) rotate(-21.41)" fill="url(#nuc)"/>
<ellipse rx="44.76" ry="15.79" transform="translate(563.83 1432.24) rotate(-34.64)" fill="url(#nuc)"/>
<ellipse rx="46.41" ry="14.87" transform="translate(967.14 856.07) rotate(-22.61)" fill="url(#nuc)"/>
<ellipse rx="35.79" ry="12.79" transform="translate(887.39 1168.9) rotate(-20.59)" fill="url(#nuc)"/>
<ellipse rx="31.12" ry="14.53" transform="translate(1133.33 596.47) rotate(-38.67)" fill="url(#nuc)"/>
<ellipse rx="47.02" ry="13.52" transform="translate(1625.41 374.42) rotate(-33.82)" fill="url(#nuc)"/>
<ellipse rx="35.7" ry="14.29" transform="translate(474.39 1312.95) rotate(-21.56)" fill="url(#nuc)"/>
<ellipse rx="31.63" ry="11.58" transform="translate(611.09 1075) rotate(-9.14)" fill="url(#nuc)"/>
<ellipse rx="42.33" ry="12.27" transform="translate(1426.43 977.33) rotate(-26.34)" fill="url(#nuc)"/>
<ellipse rx="28.86" ry="15.27" transform="translate(1321.04 504.75) rotate(-20.13)" fill="url(#nuc)"/>
<ellipse rx="30.99" ry="14.52" transform="translate(373.56 1550.61) rotate(-12.99)" fill="url(#nuc)"/>
<ellipse rx="30.3" ry="18.43" transform="translate(731.31 1576.8) rotate(-8.12)" fill="url(#nuc)"/>
<ellipse rx="25.13" ry="17.28" transform="translate(1197.68 1369.55) rotate(-3.1)" fill="url(#nuc)"/>
<ellipse rx="31.01" ry="14.5" transform="translate(40.09 1679.89) rotate(-12.18)" fill="url(#nuc)"/>
<ellipse rx="25.92" ry="15.11" transform="translate(1411.25 1263.97) rotate(-8.29)" fill="url(#nuc)"/>
<ellipse rx="30.47" ry="19.43" transform="translate(1073 1392.86) rotate(-3.98)" fill="url(#nuc)"/>
<ellipse rx="23.08" ry="14.24" transform="translate(763.45 1642.74) rotate(-22.18)" fill="url(#nuc)"/>
<ellipse rx="27.11" ry="15.7" transform="translate(1452.96 1338.22) rotate(-14.18)" fill="url(#nuc)"/>
<ellipse rx="32.85" ry="14.99" transform="translate(1136.39 1403.41) rotate(-27.35)" fill="url(#nuc)"/>
<ellipse rx="23.38" ry="19.94" transform="translate(1217.53 1288.24) rotate(-12.02)" fill="url(#nuc)"/>
<ellipse rx="23.36" ry="19.55" transform="translate(940.2 1365.03) rotate(-13.69)" fill="url(#nuc)"/>
<ellipse rx="28.98" ry="14.68" transform="translate(769.44 1423.54) rotate(-37.25)" fill="url(#nuc)"/>
<ellipse rx="31.61" ry="14.21" transform="translate(861.47 1481.64) rotate(-31.44)" fill="url(#nuc)"/>
<ellipse rx="29.33" ry="14.46" transform="translate(680.19 1481.58) rotate(-26.15)" fill="url(#nuc)"/>
<ellipse rx="25.65" ry="18.58" transform="translate(1592.35 1162.42) rotate(-11.38)" fill="url(#nuc)"/>
<ellipse rx="26.09" ry="19.53" transform="translate(944.28 1588.82) rotate(-17)" fill="url(#nuc)"/>
<ellipse rx="29.78" ry="15.18" transform="translate(1030.66 1466.68) rotate(-11.58)" fill="url(#nuc)"/>
<ellipse rx="25.71" ry="18.64" transform="translate(1299.02 1320.03) rotate(-2.81)" fill="url(#nuc)"/>
<ellipse rx="23.29" ry="18.4" transform="translate(563.77 1532.33) rotate(-35.64)" fill="url(#nuc)"/>
<ellipse rx="32.58" ry="19.88" transform="translate(1558.66 1220.73) rotate(-36.82)" fill="url(#nuc)"/>
<ellipse rx="32.6" ry="18.39" transform="translate(381.92 1638.89) rotate(-28.17)" fill="url(#nuc)"/>
<ellipse rx="22.06" ry="17.65" transform="translate(261.33 1690.26) rotate(-4.65)" fill="url(#nuc)"/>
<ellipse rx="22.01" ry="18.48" transform="translate(550.03 1645.74) rotate(-7.27)" fill="url(#nuc)"/>
<ellipse rx="27.39" ry="16.87" transform="translate(1689.92 1185.2) rotate(-9.26)" fill="url(#nuc)"/>
<ellipse rx="22.31" ry="17.56" transform="translate(1529.9 1288.47) rotate(-21.35)" fill="url(#nuc)"/>
<ellipse rx="23.12" ry="16.91" transform="translate(852.73 1576.16) rotate(-6.9)" fill="url(#nuc)"/>
<ellipse rx="32.14" ry="15.36" transform="translate(475.67 1514.95) rotate(-4.71)" fill="url(#nuc)"/>
<ellipse rx="22.13" ry="19.64" transform="translate(794.57 1561.21) rotate(-23.17)" fill="url(#nuc)"/>
<ellipse rx="27.45" ry="18.86" transform="translate(315.35 1601.43) rotate(-28.97)" fill="url(#nuc)"/>
<ellipse rx="28.17" ry="16.26" transform="translate(946.63 1463.65) rotate(-4.57)" fill="url(#nuc)"/>
<ellipse rx="22.68" ry="19.01" transform="translate(630.51 1653.37) rotate(-13.39)" fill="url(#nuc)"/>
<ellipse rx="32.7" ry="14.87" transform="translate(251.19 1614.7) rotate(-16.85)" fill="url(#nuc)"/>
<ellipse rx="25.78" ry="14.91" transform="translate(1087.89 1324.45) rotate(-10.75)" fill="url(#nuc)"/>
<ellipse rx="29.56" ry="15.58" transform="translate(1466.74 1230.11) rotate(-25.21)" fill="url(#nuc)"/>
<ellipse rx="29.61" ry="18.45" transform="translate(1340.41 1399.67) rotate(-36.62)" fill="url(#nuc)"/>
<ellipse rx="31.63" ry="14.23" transform="translate(178.92 1653.29) rotate(-36.25)" fill="url(#nuc)"/>
<ellipse rx="22.93" ry="14.33" transform="translate(1016.7 1359.18) rotate(-18.36)" fill="url(#nuc)"/>
<ellipse rx="29.72" ry="17.55" transform="translate(456.18 1633.58) rotate(-14.38)" fill="url(#nuc)"/>
<ellipse rx="32.29" ry="16.21" transform="translate(1603.95 1260.72) rotate(-5.5)" fill="url(#nuc)"/>
<ellipse rx="22.98" ry="15.3" transform="translate(1022.38 1529.14) rotate(-36.71)" fill="url(#nuc)"/>
<ellipse rx="24.77" ry="14.56" transform="translate(1367.11 1345.46) rotate(-14.12)" fill="url(#nuc)"/>
<ellipse rx="31.07" ry="15.47" transform="translate(1085.71 1505.34) rotate(-4.89)" fill="url(#nuc)"/>
<ellipse rx="24.49" ry="14.14" transform="translate(627.14 1566.43) rotate(-19.91)" fill="url(#nuc)"/>
<ellipse rx="29.21" ry="16.02" transform="translate(777.5 1495.49) rotate(-23.75)" fill="url(#nuc)"/>
<ellipse rx="33.96" ry="15.91" transform="translate(613.62 1484.3) rotate(-5.28)" fill="url(#nuc)"/>
<ellipse rx="24.49" ry="15.4" transform="translate(1284.63 1249.06) rotate(-9.76)" fill="url(#nuc)"/>
<ellipse rx="22.2" ry="19.58" transform="translate(864.7 1421.3) rotate(-30.83)" fill="url(#nuc)"/>
<ellipse rx="22.3" ry="19.09" transform="translate(713.53 1677.83) rotate(-8.5)" fill="url(#nuc)"/>
<ellipse rx="26.13" ry="19.8" transform="translate(687.82 1622.31) rotate(-5.92)" fill="url(#nuc)"/>
<ellipse rx="25.07" ry="19.09" transform="translate(98.92 1662.87) rotate(-33.78)" fill="url(#nuc)"/>
<ellipse rx="24" ry="20" transform="translate(1650 1390) rotate(0)" fill="url(#nuc)"/>
<ellipse rx="24" ry="20" transform="translate(1660 1480) rotate(0)" fill="url(#nuc)"/>
<ellipse rx="24" ry="20" transform="translate(1400 1550) rotate(0)" fill="url(#nuc)"/>
<ellipse rx="24" ry="20" transform="translate(1540 1530) rotate(0)" fill="url(#nuc)"/>
<ellipse rx="24" ry="20" transform="translate(1300 1510) rotate(0)" fill="url(#nuc)"/>
<ellipse rx="24" ry="20" transform="translate(1120 1610) rotate(0)" fill="url(#nuc)"/>
<ellipse rx="24" ry="20" transform="translate(1560 1680) rotate(0)" fill="url(#nuc)"/>
<ellipse rx="24" ry="20" transform="translate(1680 1640) rotate(0)" fill="url(#nuc)"/>
<ellipse rx="24" ry="20" transform="translate(1420 1680) rotate(0)" fill="url(#nuc)"/>
<ellipse rx="30" ry="14" transform="translate(750 570) rotate(-30)" fill="url(#nuc)"/>
<ellipse rx="14" ry="18" transform="translate(790 530) rotate(0)" fill="url(#nuc)"/>
<ellipse rx="16" ry="30" transform="translate(1160 440) rotate(-10)" fill="url(#yel)"/>
<ellipse rx="22" ry="14" transform="translate(1335 440) rotate(-30)" fill="url(#yel)"/>
<ellipse rx="38" ry="20" transform="translate(215 920) rotate(-10)" fill="url(#yel)"/>
<ellipse rx="22" ry="16" transform="translate(640 1090) rotate(0)" fill="url(#yel)"/>
<ellipse rx="20" ry="14" transform="translate(1615 745) rotate(20)" fill="url(#yel)"/>
<ellipse rx="14" ry="14" transform="translate(1135 1245) rotate(0)" fill="url(#yel)"/>
<ellipse rx="26" ry="22" transform="translate(195 1580) rotate(0)" fill="url(#yel)"/>
<ellipse rx="22" ry="20" transform="translate(1050 1480) rotate(0)" fill="url(#yel)"/>
<ellipse rx="14" ry="18" transform="translate(1545 1520) rotate(0)" fill="url(#yel)"/>
<ellipse rx="90" ry="60" transform="translate(1200 1170) rotate(-10)" fill="#6fa8c8" opacity="0.45"/>
</g>
</g></g>
<text x="355.3" y="602.3" font-size="23.6" fill="#fff" stroke="#fff" stroke-width="0.9">Model</text>
<line x1="557" y1="853.7" x2="627.8" y2="853.7" stroke="#fff" stroke-width="2.2" />
<text x="592.4" y="847.8" font-size="10.6" font-weight="bold" text-anchor="middle" fill="#fff">50 µm</text>
<g transform="translate(40 884) scale(0.17280)">
<clipPath id="cC40_884"><rect x="22" y="28" width="1673" height="1665"/></clipPath>
<rect x="22" y="28" width="1673" height="1665" fill="#000"/>
<g clip-path="url(#cC40_884)">
<g filter="url(#gnz)"><rect x="22" y="28" width="1673" height="1665" fill="#fff" opacity="0"/><path d="M20 635L1700 542.6L1700 1700L20 1700Z" fill="#fff" opacity="0.24"/>
<path d="M20 655C83.33 655 270 659.17 400 655C530 650.83 666.67 638.33 800 630C933.33 621.67 1050 615.83 1200 605C1350 594.17 1616.67 571.67 1700 565" fill="none" stroke="#fff" stroke-width="75" opacity="1" stroke-linecap="round"/>
<path d="M20 655C83.33 655 270 659.17 400 655C530 650.83 666.67 638.33 800 630C933.33 621.67 1050 615.83 1200 605C1350 594.17 1616.67 571.67 1700 565" fill="none" stroke="#fff" stroke-width="40" opacity="1" stroke-linecap="round"/>
<path d="M1000 640C1033.33 648.33 1133.33 683.33 1200 690C1266.67 696.67 1316.67 688.33 1400 680C1483.33 671.67 1650 646.67 1700 640" fill="none" stroke="#fff" stroke-width="40" opacity="0.5" stroke-linecap="round"/>
<path d="M1350 880C1375 873.33 1441.67 853.33 1500 840C1558.33 826.67 1666.67 806.67 1700 800" fill="none" stroke="#fff" stroke-width="30" opacity="0.6" stroke-linecap="round"/>
<path d="M20 1100C41.67 1108.33 111.67 1125 150 1150C188.33 1175 233.33 1233.33 250 1250" fill="none" stroke="#fff" stroke-width="60" opacity="0.4" stroke-linecap="round"/>
</g>
<g filter="url(#rnz)"><rect x="22" y="28" width="1673" height="1665" fill="#fff" opacity="0"/><path d="M20 900L1700 900L1700 1500L20 1500Z" fill="#fff" opacity="0.25"/></g>
<g filter="url(#b1)">
<path d="M60 1385C65 1377.5 75 1352.17 90 1340C105 1327.83 126.67 1316.17 150 1312C173.33 1307.83 206.67 1311.17 230 1315C253.33 1318.83 273.33 1325.83 290 1335C306.67 1344.17 323.33 1364.17 330 1370" fill="none" stroke="#7df27a" stroke-width="13" opacity="0.95" stroke-linecap="round"/>
<path d="M660 1425C665 1418.33 678.33 1395.83 690 1385C701.67 1374.17 713.33 1361.67 730 1360C746.67 1358.33 768.33 1368.33 790 1375C811.67 1381.67 840.83 1390 860 1400C879.17 1410 895 1423.33 905 1435C915 1446.67 917.5 1464.17 920 1470" fill="none" stroke="#7df27a" stroke-width="13" opacity="0.95" stroke-linecap="round"/>
<path d="M150 140C163.33 140.83 205 142.5 230 145C255 147.5 288.33 153.33 300 155" fill="none" stroke="#40e040" stroke-width="12" opacity="0.95" stroke-linecap="round"/>
<path d="M250 1480C260 1486.67 296.67 1506.67 310 1520C323.33 1533.33 326.67 1553.33 330 1560" fill="none" stroke="#48d838" stroke-width="6" opacity="0.6" stroke-linecap="round"/>
<path d="M430 1680C436.67 1673.33 460 1653.33 470 1640C480 1626.67 486.67 1606.67 490 1600" fill="none" stroke="#48d838" stroke-width="8" opacity="0.7" stroke-linecap="round"/>
<path d="M670 1640 700 1680" fill="none" stroke="#48d838" stroke-width="8" opacity="0.7" stroke-linecap="round" stroke-linejoin="round" />
</g>
<g filter="url(#b1)">
<ellipse rx="46" ry="16.08" transform="translate(1114.58 621.43) rotate(-17.37)" fill="url(#nuc)"/>
<ellipse rx="47.61" ry="18.5" transform="translate(354.71 1369.5) rotate(3.54)" fill="url(#nuc)"/>
<ellipse rx="30.78" ry="18.29" transform="translate(167.12 1667.66) rotate(-8.4)" fill="url(#nuc)"/>
<ellipse rx="46.75" ry="15.73" transform="translate(334.36 753.95) rotate(-15.07)" fill="url(#nuc)"/>
<ellipse rx="39.19" ry="15.26" transform="translate(1075.06 1121.99) rotate(10.47)" fill="url(#nuc)"/>
<ellipse rx="38.57" ry="17.88" transform="translate(426.47 883.49) rotate(5.17)" fill="url(#nuc)"/>
<ellipse rx="30.76" ry="19.82" transform="translate(1517.71 807.75) rotate(-20.34)" fill="url(#nuc)"/>
<ellipse rx="32.32" ry="16.06" transform="translate(1029.54 1329.88) rotate(9.64)" fill="url(#nuc)"/>
<ellipse rx="37.35" ry="15.09" transform="translate(1170.38 1350.08) rotate(2.72)" fill="url(#nuc)"/>
<ellipse rx="39.93" ry="17.86" transform="translate(234.31 669.22) rotate(-6.47)" fill="url(#nuc)"/>
<ellipse rx="45.56" ry="20.45" transform="translate(573.75 1582.02) rotate(6.55)" fill="url(#nuc)"/>
<ellipse rx="40.31" ry="14.82" transform="translate(918.31 1339.29) rotate(-11.81)" fill="url(#nuc)"/>
<ellipse rx="35.8" ry="16.85" transform="translate(185 1485.08) rotate(-1.62)" fill="url(#nuc)"/>
<ellipse rx="44.32" ry="19.57" transform="translate(190.8 1203.16) rotate(10.72)" fill="url(#nuc)"/>
<ellipse rx="36.69" ry="16.4" transform="translate(1296.13 1182.16) rotate(-15.47)" fill="url(#nuc)"/>
<ellipse rx="44.62" ry="16.38" transform="translate(1413.74 794.95) rotate(-9.44)" fill="url(#nuc)"/>
<ellipse rx="45.89" ry="16.47" transform="translate(880.66 1269.41) rotate(3.96)" fill="url(#nuc)"/>
<ellipse rx="43.68" ry="17.89" transform="translate(697.38 1462.35) rotate(-7.95)" fill="url(#nuc)"/>
<ellipse rx="44.42" ry="16.14" transform="translate(479.99 1501.46) rotate(-17.95)" fill="url(#nuc)"/>
<ellipse rx="30.71" ry="19.67" transform="translate(348.39 1633.42) rotate(-1.96)" fill="url(#nuc)"/>
<ellipse rx="37.38" ry="17.9" transform="translate(948.81 926.29) rotate(-17.76)" fill="url(#nuc)"/>
<ellipse rx="41.53" ry="19.65" transform="translate(254.15 1147.74) rotate(3.93)" fill="url(#nuc)"/>
<ellipse rx="46.21" ry="19.23" transform="translate(283.42 906.26) rotate(-6.67)" fill="url(#nuc)"/>
<ellipse rx="42.25" ry="16.13" transform="translate(1629.05 1331.05) rotate(5.35)" fill="url(#nuc)"/>
<ellipse rx="36.55" ry="20.17" transform="translate(836.34 1357.05) rotate(3.65)" fill="url(#nuc)"/>
<ellipse rx="44.49" ry="17.7" transform="translate(775.93 964.95) rotate(13.57)" fill="url(#nuc)"/>
<ellipse rx="42.85" ry="17.43" transform="translate(34.07 1521.93) rotate(9.6)" fill="url(#nuc)"/>
<ellipse rx="41.68" ry="14.32" transform="translate(645.87 1683.24) rotate(-16.57)" fill="url(#nuc)"/>
<ellipse rx="35.79" ry="15.83" transform="translate(149.72 976.97) rotate(-4.89)" fill="url(#nuc)"/>
<ellipse rx="38" ry="16.16" transform="translate(1424.35 958.16) rotate(0.7)" fill="url(#nuc)"/>
<ellipse rx="44.87" ry="14.53" transform="translate(1621.63 1237.97) rotate(-16.55)" fill="url(#nuc)"/>
<ellipse rx="45.02" ry="20.71" transform="translate(728.89 1669.81) rotate(-13.02)" fill="url(#nuc)"/>
<ellipse rx="40.75" ry="16.1" transform="translate(1149.21 962.16) rotate(5.45)" fill="url(#nuc)"/>
<ellipse rx="38.48" ry="17.25" transform="translate(1175 1217.27) rotate(-10.71)" fill="url(#nuc)"/>
<ellipse rx="41.09" ry="15.3" transform="translate(89.07 803.9) rotate(9.96)" fill="url(#nuc)"/>
<ellipse rx="44.69" ry="17.42" transform="translate(1492.58 1449.2) rotate(-14.67)" fill="url(#nuc)"/>
<ellipse rx="47.72" ry="14.78" transform="translate(475.59 1256.14) rotate(-20.77)" fill="url(#nuc)"/>
<ellipse rx="40.76" ry="14.79" transform="translate(613.05 609.51) rotate(9.38)" fill="url(#nuc)"/>
<ellipse rx="31.13" ry="17.8" transform="translate(1008.17 1402.64) rotate(5.39)" fill="url(#nuc)"/>
<ellipse rx="31.87" ry="16.61" transform="translate(1667.98 1587.45) rotate(14.95)" fill="url(#nuc)"/>
<ellipse rx="34.56" ry="14.18" transform="translate(916.84 1621.32) rotate(13.06)" fill="url(#nuc)"/>
<ellipse rx="36.49" ry="18.04" transform="translate(463.32 961.47) rotate(12.62)" fill="url(#nuc)"/>
<ellipse rx="34.62" ry="19.75" transform="translate(1606.15 1488.27) rotate(-20.34)" fill="url(#nuc)"/>
<ellipse rx="40.47" ry="15.66" transform="translate(447.91 639.41) rotate(4.5)" fill="url(#nuc)"/>
<ellipse rx="40.06" ry="19.94" transform="translate(1432.21 708.83) rotate(-13.83)" fill="url(#nuc)"/>
<ellipse rx="37.91" ry="15.3" transform="translate(266.78 1563.13) rotate(-6.18)" fill="url(#nuc)"/>
<ellipse rx="30.05" ry="14.65" transform="translate(1011.39 742.34) rotate(4.68)" fill="url(#nuc)"/>
<ellipse rx="45.87" ry="15.22" transform="translate(1373.01 1462.6) rotate(-20.81)" fill="url(#nuc)"/>
<ellipse rx="36.56" ry="14.13" transform="translate(1283.87 1025.18) rotate(-5.47)" fill="url(#nuc)"/>
<ellipse rx="35.83" ry="19.57" transform="translate(695.04 1193.98) rotate(-14.36)" fill="url(#nuc)"/>
<ellipse rx="38.15" ry="20.43" transform="translate(191.87 1072.25) rotate(-17.22)" fill="url(#nuc)"/>
<ellipse rx="42.34" ry="18.27" transform="translate(812.72 814.72) rotate(-5.76)" fill="url(#nuc)"/>
<ellipse rx="47.91" ry="17.9" transform="translate(941.85 1520.63) rotate(-9.17)" fill="url(#nuc)"/>
<ellipse rx="43.29" ry="15.73" transform="translate(394.64 1077.72) rotate(3.85)" fill="url(#nuc)"/>
<ellipse rx="46.9" ry="17.06" transform="translate(1693.69 679.86) rotate(2.48)" fill="url(#nuc)"/>
<ellipse rx="42.05" ry="14.01" transform="translate(1076.94 1576.15) rotate(-18.43)" fill="url(#nuc)"/>
<ellipse rx="41.39" ry="15.42" transform="translate(67.22 903.76) rotate(9.82)" fill="url(#nuc)"/>
<ellipse rx="39.75" ry="15.84" transform="translate(620.61 1060.23) rotate(7.07)" fill="url(#nuc)"/>
<ellipse rx="39.01" ry="14.26" transform="translate(558.57 1496.77) rotate(-10.23)" fill="url(#nuc)"/>
<ellipse rx="37.03" ry="17.67" transform="translate(204.46 1325.51) rotate(-5.84)" fill="url(#nuc)"/>
<ellipse rx="43.24" ry="18.9" transform="translate(1559.55 1556.36) rotate(-15.9)" fill="url(#nuc)"/>
<ellipse rx="42.11" ry="18.41" transform="translate(80.99 1411.42) rotate(-9.74)" fill="url(#nuc)"/>
<ellipse rx="30.08" ry="16.92" transform="translate(1532.61 1384.55) rotate(-16.98)" fill="url(#nuc)"/>
<ellipse rx="32.17" ry="14.09" transform="translate(1342.62 1346.25) rotate(-17.66)" fill="url(#nuc)"/>
<ellipse rx="43.94" ry="20.49" transform="translate(994.02 1671.26) rotate(13.68)" fill="url(#nuc)"/>
<ellipse rx="39.36" ry="19.37" transform="translate(852.02 1196.65) rotate(-8.88)" fill="url(#nuc)"/>
<ellipse rx="42.65" ry="20.21" transform="translate(713.68 1267.45) rotate(-9.87)" fill="url(#nuc)"/>
<ellipse rx="40.32" ry="16.86" transform="translate(1441.13 1255.43) rotate(-0.59)" fill="url(#nuc)"/>
<ellipse rx="43.16" ry="18.31" transform="translate(103.53 1221.54) rotate(-13.59)" fill="url(#nuc)"/>
<ellipse rx="41.15" ry="15.59" transform="translate(1229.92 1403.02) rotate(-0.67)" fill="url(#nuc)"/>
<ellipse rx="41.38" ry="20.53" transform="translate(270.54 1467.95) rotate(-14.81)" fill="url(#nuc)"/>
<ellipse rx="46.37" ry="18.04" transform="translate(925.55 830.17) rotate(1.95)" fill="url(#nuc)"/>
<ellipse rx="36.48" ry="16.27" transform="translate(564.44 718.13) rotate(-20.31)" fill="url(#nuc)"/>
<ellipse rx="41.16" ry="16.65" transform="translate(1148.8 1074.38) rotate(-18.52)" fill="url(#nuc)"/>
<ellipse rx="31.37" ry="19.39" transform="translate(1468.86 1534.96) rotate(-14.81)" fill="url(#nuc)"/>
<ellipse rx="34.21" ry="16.67" transform="translate(982.59 1149.14) rotate(-17.39)" fill="url(#nuc)"/>
<ellipse rx="43.54" ry="15.47" transform="translate(899.79 1449.14) rotate(-1.75)" fill="url(#nuc)"/>
<ellipse rx="39.72" ry="19.88" transform="translate(683.84 732.6) rotate(14.55)" fill="url(#nuc)"/>
<ellipse rx="42.9" ry="18.47" transform="translate(1309.48 924.88) rotate(13.53)" fill="url(#nuc)"/>
<ellipse rx="37.91" ry="15.62" transform="translate(384.08 974.55) rotate(7.13)" fill="url(#nuc)"/>
<ellipse rx="38.81" ry="16.99" transform="translate(391.98 1209.69) rotate(4.44)" fill="url(#nuc)"/>
<ellipse rx="47.98" ry="19.6" transform="translate(1234.65 1675.79) rotate(-11.5)" fill="url(#nuc)"/>
<ellipse rx="46.93" ry="17.13" transform="translate(1141.55 853.03) rotate(-8.13)" fill="url(#nuc)"/>
<ellipse rx="31.27" ry="15.2" transform="translate(198.05 833.87) rotate(-5.02)" fill="url(#nuc)"/>
<ellipse rx="39.54" ry="16.72" transform="translate(604.44 860.64) rotate(-16.19)" fill="url(#nuc)"/>
<ellipse rx="44.33" ry="14.04" transform="translate(1264.18 849.21) rotate(-16.22)" fill="url(#nuc)"/>
<ellipse rx="37.19" ry="16.7" transform="translate(366.89 642.21) rotate(13.76)" fill="url(#nuc)"/>
<ellipse rx="40.7" ry="19.8" transform="translate(1633.85 1096.77) rotate(-8.96)" fill="url(#nuc)"/>
<ellipse rx="39.62" ry="18.07" transform="translate(82.19 1622.44) rotate(-18.6)" fill="url(#nuc)"/>
<ellipse rx="41.57" ry="15.99" transform="translate(1268.42 650.3) rotate(12.05)" fill="url(#nuc)"/>
<ellipse rx="44.1" ry="18.99" transform="translate(147.73 717.87) rotate(7.55)" fill="url(#nuc)"/>
<ellipse rx="38.49" ry="20.24" transform="translate(619.27 1383.63) rotate(-3.79)" fill="url(#nuc)"/>
<ellipse rx="38.43" ry="14.75" transform="translate(274.36 827.7) rotate(-11.52)" fill="url(#nuc)"/>
<ellipse rx="45.5" ry="20.68" transform="translate(873.5 1042.81) rotate(0.41)" fill="url(#nuc)"/>
<ellipse rx="35.56" ry="19.84" transform="translate(1223.31 922.94) rotate(12.8)" fill="url(#nuc)"/>
<ellipse rx="31.24" ry="16.72" transform="translate(1565.17 1667.87) rotate(-4.8)" fill="url(#nuc)"/>
<ellipse rx="46.66" ry="15.56" transform="translate(1277.65 733.21) rotate(10.59)" fill="url(#nuc)"/>
<ellipse rx="30.62" ry="17.61" transform="translate(615.58 1221.4) rotate(-1.58)" fill="url(#nuc)"/>
<ellipse rx="32.17" ry="14.74" transform="translate(1411.29 1179.11) rotate(-19.11)" fill="url(#nuc)"/>
<ellipse rx="40.78" ry="14.83" transform="translate(812.83 1685.81) rotate(-13.23)" fill="url(#nuc)"/>
<ellipse rx="30.18" ry="14.07" transform="translate(1066.2 1456.2) rotate(14.02)" fill="url(#nuc)"/>
<ellipse rx="30.11" ry="18.25" transform="translate(962.67 1041.14) rotate(1.1)" fill="url(#nuc)"/>
<ellipse rx="38.52" ry="18.99" transform="translate(995.76 563) rotate(-20.27)" fill="url(#nuc)"/>
<ellipse rx="35.2" ry="15.79" transform="translate(803.73 1076.54) rotate(-2.64)" fill="url(#nuc)"/>
<ellipse rx="40.31" ry="20.47" transform="translate(74.63 1093.52) rotate(-1.04)" fill="url(#nuc)"/>
<ellipse rx="35" ry="10" transform="translate(420 38) rotate(0)" fill="url(#nuc)"/>
<ellipse rx="35" ry="10" transform="translate(530 80) rotate(0)" fill="url(#nuc)"/>
<ellipse rx="30" ry="10" transform="translate(820 118) rotate(0)" fill="url(#nuc)"/>
<ellipse rx="25" ry="9" transform="translate(1020 45) rotate(0)" fill="url(#nuc)"/>
<ellipse rx="20" ry="8" transform="translate(1335 42) rotate(0)" fill="url(#nuc)"/>
<ellipse rx="15" ry="10" transform="translate(150 135) rotate(0)" fill="url(#nuc)"/>
<ellipse rx="20" ry="6" transform="translate(1090 70) rotate(0)" fill="url(#nuc)"/>
<ellipse rx="12" ry="45" transform="translate(1220 1590) rotate(-8)" fill="url(#nucc)"/>
<ellipse rx="20" ry="40" transform="translate(455 1655) rotate(30)" fill="url(#nucc)"/>
<ellipse rx="45" ry="14" transform="translate(200 1685) rotate(0)" fill="url(#nucc)"/>
<ellipse rx="25" ry="14" transform="translate(1500 1570) rotate(20)" fill="url(#nucc)"/>
<ellipse rx="30" ry="14" transform="translate(700 1690) rotate(20)" fill="url(#nucc)"/>
<ellipse rx="30" ry="14" transform="translate(130 1060) rotate(25)" fill="#e8642a" opacity="0.85"/>
<ellipse rx="35" ry="14" transform="translate(320 990) rotate(10)" fill="#e8642a" opacity="0.85"/>
<ellipse rx="28" ry="12" transform="translate(1140 1118) rotate(10)" fill="#e8642a" opacity="0.85"/>
<ellipse rx="24" ry="10" transform="translate(1395 1080) rotate(10)" fill="#e8642a" opacity="0.85"/>
<ellipse rx="20" ry="10" transform="translate(1430 1140) rotate(20)" fill="#e8642a" opacity="0.85"/>
<ellipse rx="30" ry="14" transform="translate(1540 1370) rotate(-20)" fill="#e8642a" opacity="0.85"/>
<ellipse rx="30" ry="10" transform="translate(1050 1165) rotate(0)" fill="#e8642a" opacity="0.85"/>
<ellipse rx="20" ry="10" transform="translate(540 1145) rotate(0)" fill="#e8642a" opacity="0.85"/>
<ellipse rx="18" ry="10" transform="translate(470 935) rotate(0)" fill="#e8642a" opacity="0.85"/>
<ellipse rx="14" ry="10" transform="translate(540 1615) rotate(0)" fill="#e8642a" opacity="0.85"/>
<ellipse rx="32" ry="12" transform="translate(700 1085) rotate(12)" fill="url(#ylg)"/>
<ellipse rx="12" ry="14" transform="translate(1665 1490) rotate(0)" fill="url(#yel)"/>
</g>
</g></g>
<text x="52.6" y="927.6" font-size="23.6" fill="#fff" stroke="#fff" stroke-width="0.9">En-MSCs<tspan font-size="14.16" dy="-8.5">C/I</tspan></text>
<line x1="250.8" y1="1169.2" x2="321.7" y2="1169.2" stroke="#fff" stroke-width="2.2" />
<text x="286.25" y="1165.2" font-size="10.6" font-weight="bold" text-anchor="middle" fill="#fff">50 µm</text>
<g transform="translate(341 884) scale(0.17280)">
<clipPath id="cC341_884"><rect x="22" y="28" width="1673" height="1665"/></clipPath>
<rect x="22" y="28" width="1673" height="1665" fill="#000"/>
<g clip-path="url(#cC341_884)">
<g filter="url(#gnd)"><rect x="22" y="28" width="1673" height="1665" fill="#fff" opacity="0"/><path d="M20 1100 200 1090 380 1060 400 990 550 950 700 980 760 940 690 800 620 640 700 580 850 580 940 620 930 500 1000 340 1100 400 1270 300 1400 360 1600 380 1700 450" fill="none" stroke="#fff" stroke-width="70" opacity="0.7" stroke-linecap="round" stroke-linejoin="round" /></g>
<g filter="url(#gnz)"><rect x="22" y="28" width="1673" height="1665" fill="#fff" opacity="0"/><path d="M20 1100L200 1090L380 1060L400 990L550 950L700 980L760 940L690 800L620 640L700 580L850 580L940 620L930 500L1000 340L1100 400L1270 300L1400 360L1600 380L1700 450L1700 1700L20 1700Z" fill="#fff" opacity="0.8"/>
<path d="M20 1100 200 1090 380 1060 400 990 550 950 700 980 760 940 690 800 620 640 700 580 850 580 940 620 930 500 1000 340 1100 400 1270 300 1400 360 1600 380 1700 450" fill="none" stroke="#fff" stroke-width="110" opacity="0.8" stroke-linecap="round" stroke-linejoin="round" />
<path d="M1250 420C1266.67 408.33 1308.33 350 1350 350C1391.67 350 1450 391.67 1500 420C1550 448.33 1618.33 473.33 1650 520C1681.67 566.67 1683.33 670 1690 700" fill="none" stroke="#fff" stroke-width="90" opacity="0.5" stroke-linecap="round"/>
<path d="M1100 900C1125 908.33 1241.67 916.67 1250 950C1258.33 983.33 1175 1061.67 1150 1100C1125 1138.33 1108.33 1166.67 1100 1180" fill="none" stroke="#fff" stroke-width="70" opacity="0.5" stroke-linecap="round"/>
<path d="M100 1200C116.67 1233.33 200 1333.33 200 1400C200 1466.67 116.67 1566.67 100 1600" fill="none" stroke="#fff" stroke-width="120" opacity="0.4" stroke-linecap="round"/>
<path d="M900 1300C893.33 1316.67 893.33 1370 860 1400C826.67 1430 726.67 1466.67 700 1480" fill="none" stroke="#fff" stroke-width="70" opacity="0.5" stroke-linecap="round"/>
</g>
<g filter="url(#b2)" fill="#000" opacity="0.8">
<ellipse rx="150" ry="90" transform="translate(1150 620) rotate(-20)"/>
<ellipse rx="170" ry="70" transform="translate(1080 800) rotate(10)"/>
<ellipse rx="150" ry="130" transform="translate(1480 1000) rotate(0)"/>
<ellipse rx="180" ry="70" transform="translate(950 1150) rotate(-30)"/>
<ellipse rx="200" ry="110" transform="translate(1150 1400) rotate(20)"/>
<ellipse rx="120" ry="60" transform="translate(600 1100) rotate(-20)"/>
<ellipse rx="120" ry="90" transform="translate(380 1400) rotate(0)"/>
<ellipse rx="150" ry="120" transform="translate(1500 1450) rotate(0)"/>
<ellipse rx="140" ry="70" transform="translate(800 1600) rotate(0)"/>
<ellipse rx="120" ry="70" transform="translate(1350 700) rotate(0)"/>
</g>
<g filter="url(#rnz)"><rect x="22" y="28" width="1673" height="1665" fill="#fff" opacity="0"/><path d="M20 1100L200 1090L380 1060L400 990L550 950L700 980L760 940L690 800L620 640L700 580L850 580L940 620L930 500L1000 340L1100 400L1270 300L1400 360L1600 380L1700 450L1700 1700L20 1700Z" fill="#fff" opacity="0.4"/></g>
<g filter="url(#b1)">
</g><g filter="url(#gnd)"><rect x="22" y="28" width="1673" height="1665" fill="#fff" opacity="0"/>
<ellipse rx="150" ry="55" transform="translate(1350 400) rotate(10)" fill="#fff" opacity="0.9"/>
<ellipse rx="100" ry="70" transform="translate(1560 500) rotate(30)" fill="#fff" opacity="0.8"/>
<ellipse rx="90" ry="55" transform="translate(700 650) rotate(-40)" fill="#fff" opacity="0.8"/>
<ellipse rx="50" ry="100" transform="translate(1000 450) rotate(10)" fill="#fff" opacity="0.8"/>
<ellipse rx="160" ry="45" transform="translate(200 1150) rotate(-5)" fill="#fff" opacity="0.8"/>
<ellipse rx="70" ry="150" transform="translate(100 1380) rotate(0)" fill="#fff" opacity="0.6"/>
<ellipse rx="50" ry="90" transform="translate(880 1400) rotate(20)" fill="#fff" opacity="0.8"/>
<ellipse rx="90" ry="45" transform="translate(1150 940) rotate(20)" fill="#fff" opacity="0.8"/>
<ellipse rx="40" ry="100" transform="translate(760 850) rotate(-20)" fill="#fff" opacity="0.8"/>
<ellipse rx="60" ry="90" transform="translate(1600 720) rotate(0)" fill="#fff" opacity="0.8"/>
<ellipse rx="40" ry="120" transform="translate(1650 1000) rotate(0)" fill="#fff" opacity="0.7"/>
<ellipse rx="50" ry="120" transform="translate(600 1500) rotate(30)" fill="#fff" opacity="0.6"/>
</g><g filter="url(#b1)">
<ellipse rx="45" ry="55" transform="translate(430 1095) rotate(-30)" fill="#4af040" opacity="0.95"/>
<ellipse rx="30" ry="40" transform="translate(400 1020) rotate(-20)" fill="#4af040" opacity="0.6"/>
<ellipse rx="30" ry="50" transform="translate(1120 1120) rotate(20)" fill="url(#ylg)" opacity="0.7"/>
<ellipse rx="50" ry="40" transform="translate(920 1310) rotate(0)" fill="url(#ylg)" opacity="0.55"/>
<ellipse rx="70" ry="40" transform="translate(1150 920) rotate(20)" fill="url(#ylg)" opacity="0.5"/>
<ellipse rx="44.28" ry="26.25" transform="translate(1558.46 808.67) rotate(10.72)" fill="url(#nuc)"/>
<ellipse rx="43.61" ry="31.42" transform="translate(1065.21 875.85) rotate(21.88)" fill="url(#nuc)"/>
<ellipse rx="45.55" ry="29.22" transform="translate(73.27 1194.72) rotate(-16.65)" fill="url(#nuc)"/>
<ellipse rx="45.63" ry="24.35" transform="translate(777.69 1419.04) rotate(-38.01)" fill="url(#nuc)"/>
<ellipse rx="49.84" ry="29.16" transform="translate(1204.21 1567.69) rotate(28.16)" fill="url(#nuc)"/>
<ellipse rx="36.12" ry="24.51" transform="translate(1470.27 1201.14) rotate(24.36)" fill="url(#nuc)"/>
<ellipse rx="37.68" ry="28.61" transform="translate(1055.47 1486.78) rotate(-50.61)" fill="url(#nuc)"/>
<ellipse rx="50.98" ry="27.94" transform="translate(1475.66 931.97) rotate(-51.27)" fill="url(#nuc)"/>
<ellipse rx="44.63" ry="31.22" transform="translate(311.79 1666.44) rotate(-7.29)" fill="url(#nuc)"/>
<ellipse rx="43.36" ry="26.2" transform="translate(1129.98 1209.82) rotate(-3.42)" fill="url(#nuc)"/>
<ellipse rx="37.07" ry="26.17" transform="translate(831.71 1123.56) rotate(57.64)" fill="url(#nuc)"/>
<ellipse rx="37.37" ry="27.89" transform="translate(1313.35 536.91) rotate(61.71)" fill="url(#nuc)"/>
<ellipse rx="38.06" ry="26.48" transform="translate(328.17 1186.01) rotate(51.68)" fill="url(#nuc)"/>
<ellipse rx="43.88" ry="27.07" transform="translate(877.13 1210.09) rotate(-9.89)" fill="url(#nuc)"/>
<ellipse rx="46.46" ry="25.27" transform="translate(1687.88 1539.64) rotate(41.91)" fill="url(#nuc)"/>
<ellipse rx="45.68" ry="29.93" transform="translate(1368.3 1112.06) rotate(-20.53)" fill="url(#nuc)"/>
<ellipse rx="49.44" ry="26.04" transform="translate(929.66 1288.49) rotate(-17.49)" fill="url(#nuc)"/>
<ellipse rx="46.97" ry="27.92" transform="translate(150.84 1485.86) rotate(20.01)" fill="url(#nuc)"/>
<ellipse rx="43.96" ry="26.07" transform="translate(1170.27 918.23) rotate(-32.65)" fill="url(#nuc)"/>
<ellipse rx="50.43" ry="31.76" transform="translate(592.45 1588.9) rotate(-30.76)" fill="url(#nuc)"/>
<ellipse rx="41.82" ry="26.21" transform="translate(1623.02 1297.45) rotate(44.3)" fill="url(#nuc)"/>
<ellipse rx="37.1" ry="31.61" transform="translate(1435.69 1453.18) rotate(16.46)" fill="url(#nuc)"/>
<ellipse rx="44.43" ry="30.94" transform="translate(733.45 1041.16) rotate(49.09)" fill="url(#nuc)"/>
<ellipse rx="46.36" ry="29.24" transform="translate(36.56 1324.47) rotate(-74.87)" fill="url(#nuc)"/>
<ellipse rx="43.56" ry="31.79" transform="translate(1525.4 633.86) rotate(-37.83)" fill="url(#nuc)"/>
<ellipse rx="49.22" ry="30.32" transform="translate(1293.09 1640.75) rotate(70.43)" fill="url(#nuc)"/>
<ellipse rx="48.9" ry="29.03" transform="translate(938.02 1400.6) rotate(12.06)" fill="url(#nuc)"/>
<ellipse rx="40.65" ry="31.95" transform="translate(1458.84 1329.15) rotate(-77.5)" fill="url(#nuc)"/>
<ellipse rx="42.21" ry="30.84" transform="translate(1611.34 625.21) rotate(9.3)" fill="url(#nuc)"/>
<ellipse rx="51.31" ry="26.22" transform="translate(757.99 794.18) rotate(2.79)" fill="url(#nuc)"/>
<ellipse rx="42.91" ry="24.47" transform="translate(869.69 1357.81) rotate(47.85)" fill="url(#nuc)"/>
<ellipse rx="42.69" ry="27.22" transform="translate(1285.8 752.59) rotate(-4.99)" fill="url(#nuc)"/>
<ellipse rx="36.63" ry="29.41" transform="translate(609.75 1229.08) rotate(-3.61)" fill="url(#nuc)"/>
<ellipse rx="42.59" ry="29.67" transform="translate(492 1142.96) rotate(-30.75)" fill="url(#nuc)"/>
<ellipse rx="37.37" ry="24.9" transform="translate(1113.53 742.42) rotate(-60.84)" fill="url(#nuc)"/>
<ellipse rx="46.81" ry="27.43" transform="translate(442.44 1377.21) rotate(20.73)" fill="url(#nuc)"/>
<ellipse rx="37.41" ry="30.19" transform="translate(646.79 1091.8) rotate(46.42)" fill="url(#nuc)"/>
<ellipse rx="44.15" ry="31.65" transform="translate(237.12 1171.9) rotate(78.22)" fill="url(#nuc)"/>
<ellipse rx="36.39" ry="25.04" transform="translate(1602.22 1423.56) rotate(80.09)" fill="url(#nuc)"/>
<ellipse rx="42.98" ry="27.4" transform="translate(1052.23 1059.66) rotate(-47.87)" fill="url(#nuc)"/>
<ellipse rx="45.23" ry="26.21" transform="translate(1487.82 517.45) rotate(35.83)" fill="url(#nuc)"/>
<ellipse rx="49.09" ry="25.63" transform="translate(836.26 898.81) rotate(-51.05)" fill="url(#nuc)"/>
<ellipse rx="46.14" ry="24.26" transform="translate(1364.57 414.55) rotate(-51)" fill="url(#nuc)"/>
<ellipse rx="42.26" ry="28.46" transform="translate(813.28 1593.96) rotate(-10.96)" fill="url(#nuc)"/>
<ellipse rx="40.55" ry="25.5" transform="translate(991.68 605.93) rotate(73)" fill="url(#nuc)"/>
<ellipse rx="46.56" ry="28.18" transform="translate(1047.16 1678.19) rotate(-51.67)" fill="url(#nuc)"/>
<ellipse rx="43.61" ry="25.73" transform="translate(92.26 1418.48) rotate(-28.44)" fill="url(#nuc)"/>
<ellipse rx="47.23" ry="25.39" transform="translate(993.84 392.73) rotate(30.81)" fill="url(#nuc)"/>
<ellipse rx="49.2" ry="30.11" transform="translate(686.61 1516.52) rotate(5.41)" fill="url(#nuc)"/>
<ellipse rx="51.2" ry="26.71" transform="translate(1540.89 1641.07) rotate(51.51)" fill="url(#nuc)"/>
<ellipse rx="48.73" ry="29.24" transform="translate(782.4 685.99) rotate(19)" fill="url(#nuc)"/>
<ellipse rx="38.14" ry="30.03" transform="translate(1497.8 402.67) rotate(21.64)" fill="url(#nuc)"/>
<ellipse rx="51.18" ry="28.06" transform="translate(1019.45 948.82) rotate(4.18)" fill="url(#nuc)"/>
<ellipse rx="37.78" ry="29.54" transform="translate(710.96 1176.86) rotate(69.41)" fill="url(#nuc)"/>
<ellipse rx="49.86" ry="25.47" transform="translate(924.15 1493.37) rotate(45.95)" fill="url(#nuc)"/>
<ellipse rx="44.73" ry="31.67" transform="translate(1631.99 507.63) rotate(-56.76)" fill="url(#nuc)"/>
<ellipse rx="43.11" ry="25.87" transform="translate(534.57 1534.17) rotate(-0.28)" fill="url(#nuc)"/>
<ellipse rx="45.85" ry="31.28" transform="translate(539.71 1267.93) rotate(3.6)" fill="url(#nuc)"/>
<ellipse rx="43.59" ry="28.24" transform="translate(1057.11 652.62) rotate(11.45)" fill="url(#nuc)"/>
<ellipse rx="51.76" ry="26.93" transform="translate(545.73 1441.96) rotate(46.63)" fill="url(#nuc)"/>
<ellipse rx="36.11" ry="24.99" transform="translate(292.03 1280.34) rotate(-34.9)" fill="url(#nuc)"/>
<ellipse rx="47.82" ry="27.94" transform="translate(810.22 604.23) rotate(77.5)" fill="url(#nuc)"/>
<ellipse rx="50.32" ry="28.52" transform="translate(308.34 1555.4) rotate(-8.12)" fill="url(#nuc)"/>
<ellipse rx="42.5" ry="29.77" transform="translate(420.9 1186.92) rotate(-1.17)" fill="url(#nuc)"/>
<ellipse rx="37.17" ry="28.08" transform="translate(819.75 1275.41) rotate(-30.44)" fill="url(#nuc)"/>
<ellipse rx="41.82" ry="31.04" transform="translate(409.47 1517.88) rotate(24.63)" fill="url(#nuc)"/>
<ellipse rx="37.8" ry="28.15" transform="translate(1582.68 1078.51) rotate(5.46)" fill="url(#nuc)"/>
<ellipse rx="50.43" ry="30.43" transform="translate(1170.69 803.32) rotate(85.72)" fill="url(#nuc)"/>
<ellipse rx="46.66" ry="24.06" transform="translate(875.35 982.28) rotate(9.02)" fill="url(#nuc)"/>
<ellipse rx="49.89" ry="26.06" transform="translate(1358.43 1356.64) rotate(55.8)" fill="url(#nuc)"/>
<ellipse rx="39.07" ry="29.69" transform="translate(1624.03 1157.43) rotate(-24.51)" fill="url(#nuc)"/>
<ellipse rx="47.05" ry="26.72" transform="translate(1339.03 995.17) rotate(-58.42)" fill="url(#nuc)"/>
<ellipse rx="38.15" ry="25.93" transform="translate(1259.84 965.55) rotate(-20.98)" fill="url(#nuc)"/>
<ellipse rx="38.06" ry="29.99" transform="translate(245.96 1508.02) rotate(34.61)" fill="url(#nuc)"/>
<ellipse rx="45.87" ry="27.1" transform="translate(928.83 1679.82) rotate(57.97)" fill="url(#nuc)"/>
<ellipse rx="44.1" ry="30.8" transform="translate(1678.79 1231.39) rotate(-51.45)" fill="url(#nuc)"/>
<ellipse rx="38.01" ry="26.88" transform="translate(1442.99 1559.02) rotate(69.69)" fill="url(#nuc)"/>
<ellipse rx="40.86" ry="24.53" transform="translate(1658.88 1680.55) rotate(-34.96)" fill="url(#nuc)"/>
<ellipse rx="36.68" ry="30.44" transform="translate(1359.92 1491.82) rotate(53.53)" fill="url(#nuc)"/>
<ellipse rx="50.64" ry="30.03" transform="translate(1619.19 396.5) rotate(-78.04)" fill="url(#nuc)"/>
<ellipse rx="44.25" ry="30.27" transform="translate(1173.5 1495.12) rotate(11.51)" fill="url(#nuc)"/>
<ellipse rx="47.75" ry="26.97" transform="translate(514.74 1689.4) rotate(43.28)" fill="url(#nuc)"/>
<ellipse rx="51.34" ry="27" transform="translate(289.04 1075.6) rotate(63.77)" fill="url(#nuc)"/>
<ellipse rx="41.6" ry="27.71" transform="translate(1371.13 719.85) rotate(46.14)" fill="url(#nuc)"/>
<ellipse rx="38.32" ry="28.73" transform="translate(730.3 1660.8) rotate(-42.14)" fill="url(#nuc)"/>
<ellipse rx="47.99" ry="25.44" transform="translate(1272.04 1380.69) rotate(-52.81)" fill="url(#nuc)"/>
<ellipse rx="37.58" ry="30.31" transform="translate(659.87 1369.25) rotate(16.91)" fill="url(#nuc)"/>
<ellipse rx="44.11" ry="30.11" transform="translate(187.55 1232.15) rotate(-50.11)" fill="url(#nuc)"/>
<ellipse rx="47.25" ry="25.24" transform="translate(375.89 1444.53) rotate(14.98)" fill="url(#nuc)"/>
<ellipse rx="46.94" ry="25.58" transform="translate(1301.19 1224.63) rotate(-58.95)" fill="url(#nuc)"/>
<ellipse rx="46.39" ry="28.13" transform="translate(1111.14 1569.38) rotate(37.27)" fill="url(#nuc)"/>
<ellipse rx="42.31" ry="25.77" transform="translate(714.42 586.03) rotate(-17.44)" fill="url(#nuc)"/>
<ellipse rx="50.24" ry="29.31" transform="translate(976.27 701.79) rotate(38.29)" fill="url(#nuc)"/>
<ellipse rx="45.56" ry="25.52" transform="translate(1688.75 994.95) rotate(-49.85)" fill="url(#nuc)"/>
<ellipse rx="40.08" ry="27.89" transform="translate(1237.06 1137.97) rotate(42.59)" fill="url(#nuc)"/>
<ellipse rx="51.25" ry="27.41" transform="translate(1589.34 957.91) rotate(4.06)" fill="url(#nuc)"/>
<ellipse rx="37.83" ry="26.4" transform="translate(243.12 1374.54) rotate(4.55)" fill="url(#nuc)"/>
<ellipse rx="36.77" ry="25.44" transform="translate(645.1 1692.24) rotate(-57.7)" fill="url(#nuc)"/>
<ellipse rx="40.11" ry="27.49" transform="translate(1204.86 1033.88) rotate(-0.64)" fill="url(#nuc)"/>
<ellipse rx="47.39" ry="25.6" transform="translate(1254.01 662.77) rotate(-1.04)" fill="url(#nuc)"/>
<ellipse rx="51.18" ry="28.92" transform="translate(175.42 1610.4) rotate(63.54)" fill="url(#nuc)"/>
<ellipse rx="38.39" ry="24.67" transform="translate(1106.39 1320.93) rotate(7.07)" fill="url(#nuc)"/>
<ellipse rx="48.19" ry="31.37" transform="translate(1342.38 836.27) rotate(24.32)" fill="url(#nuc)"/>
<ellipse rx="50.81" ry="24.11" transform="translate(385.84 1088.48) rotate(33.06)" fill="url(#nuc)"/>
<ellipse rx="49.53" ry="30.48" transform="translate(1685.05 594.36) rotate(40.94)" fill="url(#nuc)"/>
<ellipse rx="22" ry="12" transform="translate(1670 188) rotate(10)" fill="url(#nucc)"/>
</g>
</g></g>
<text x="354.3" y="927.6" font-size="23.6" fill="#fff" stroke="#fff" stroke-width="0.9">MSCs</text>
<line x1="557" y1="1171.5" x2="627.8" y2="1171.5" stroke="#fff" stroke-width="2.2" />
<text x="592.4" y="1165.3" font-size="10.6" font-weight="bold" text-anchor="middle" fill="#fff">50 µm</text>
</g>
<g id="pD">
<text transform="translate(672.4 498.2) scale(0.98 1.035)" font-size="48.3" font-weight="bold" fill="#231815">D</text>
<rect x="727.2" y="517.5" width="50.05" height="27" fill="#D98FA6" stroke="#111" stroke-width="1"/>
<rect x="777.25" y="517.5" width="50.05" height="27" fill="#8489DF" stroke="#111" stroke-width="1"/>
<rect x="827.3" y="517.5" width="50.05" height="27" fill="#93D2E8" stroke="#111" stroke-width="1"/>
<rect x="877.35" y="517.5" width="50.05" height="27" fill="#DCC197" stroke="#111" stroke-width="1"/>
<rect x="727.2" y="549.6" width="50.05" height="32.07" fill="#B85F54" stroke="#111" stroke-width="1"/>
<rect x="777.25" y="549.6" width="50.05" height="32.07" fill="#C5D9E2" stroke="#111" stroke-width="1"/>
<rect x="827.3" y="549.6" width="50.05" height="32.07" fill="#E1EBEF" stroke="#111" stroke-width="1"/>
<rect x="877.35" y="549.6" width="50.05" height="32.07" fill="#CCDEE6" stroke="#111" stroke-width="1"/>
<text x="932.5" y="571.43" font-size="16.5" font-weight="bold" fill="#111">Ptn</text>
<rect x="727.2" y="581.67" width="50.05" height="32.07" fill="#B85F54" stroke="#111" stroke-width="1"/>
<rect x="777.25" y="581.67" width="50.05" height="32.07" fill="#C0D5DF" stroke="#111" stroke-width="1"/>
<rect x="827.3" y="581.67" width="50.05" height="32.07" fill="#EBF1F4" stroke="#111" stroke-width="1"/>
<rect x="877.35" y="581.67" width="50.05" height="32.07" fill="#CCDEE5" stroke="#111" stroke-width="1"/>
<text x="932.5" y="603.5" font-size="16.5" font-weight="bold" fill="#111">Igf1</text>
<rect x="727.2" y="613.74" width="50.05" height="32.07" fill="#B85F54" stroke="#111" stroke-width="1"/>
<rect x="777.25" y="613.74" width="50.05" height="32.07" fill="#BFD3DE" stroke="#111" stroke-width="1"/>
<rect x="827.3" y="613.74" width="50.05" height="32.07" fill="#E1EBEF" stroke="#111" stroke-width="1"/>
<rect x="877.35" y="613.74" width="50.05" height="32.07" fill="#D0E0E7" stroke="#111" stroke-width="1"/>
<text x="932.5" y="635.57" font-size="16.5" font-weight="bold" fill="#111">Col3a1</text>
<rect x="727.2" y="645.81" width="50.05" height="32.07" fill="#CB938C" stroke="#111" stroke-width="1"/>
<rect x="777.25" y="645.81" width="50.05" height="32.07" fill="#E1C3C0" stroke="#111" stroke-width="1"/>
<rect x="827.3" y="645.81" width="50.05" height="32.07" fill="#EBF2F5" stroke="#111" stroke-width="1"/>
<rect x="877.35" y="645.81" width="50.05" height="32.07" fill="#80A8BD" stroke="#111" stroke-width="1"/>
<text x="932.5" y="667.64" font-size="16.5" font-weight="bold" fill="#111">Nr4a3</text>
<rect x="727.2" y="677.88" width="50.05" height="32.07" fill="#C1D5DF" stroke="#111" stroke-width="1"/>
<rect x="777.25" y="677.88" width="50.05" height="32.07" fill="#B85F54" stroke="#111" stroke-width="1"/>
<rect x="827.3" y="677.88" width="50.05" height="32.07" fill="#CCDEE6" stroke="#111" stroke-width="1"/>
<rect x="877.35" y="677.88" width="50.05" height="32.07" fill="#D8E6EC" stroke="#111" stroke-width="1"/>
<text x="932.5" y="699.71" font-size="16.5" font-weight="bold" fill="#111">Tnfaip8l2</text>
<rect x="727.2" y="709.95" width="50.05" height="32.07" fill="#F7F9FA" stroke="#111" stroke-width="1"/>
<rect x="777.25" y="709.95" width="50.05" height="32.07" fill="#B96056" stroke="#111" stroke-width="1"/>
<rect x="827.3" y="709.95" width="50.05" height="32.07" fill="#CCDEE6" stroke="#111" stroke-width="1"/>
<rect x="877.35" y="709.95" width="50.05" height="32.07" fill="#AFC9D5" stroke="#111" stroke-width="1"/>
<text x="932.5" y="731.78" font-size="16.5" font-weight="bold" fill="#111">Myd88</text>
<rect x="727.2" y="742.02" width="50.05" height="32.07" fill="#FCFDFD" stroke="#111" stroke-width="1"/>
<rect x="777.25" y="742.02" width="50.05" height="32.07" fill="#BC6258" stroke="#111" stroke-width="1"/>
<rect x="827.3" y="742.02" width="50.05" height="32.07" fill="#D5E3EA" stroke="#111" stroke-width="1"/>
<rect x="877.35" y="742.02" width="50.05" height="32.07" fill="#A0BFCF" stroke="#111" stroke-width="1"/>
<text x="932.5" y="763.85" font-size="16.5" font-weight="bold" fill="#111">Jun</text>
<rect x="727.2" y="774.09" width="50.05" height="32.07" fill="#F8FAFB" stroke="#111" stroke-width="1"/>
<rect x="777.25" y="774.09" width="50.05" height="32.07" fill="#C06F65" stroke="#111" stroke-width="1"/>
<rect x="827.3" y="774.09" width="50.05" height="32.07" fill="#FBFCFD" stroke="#111" stroke-width="1"/>
<rect x="877.35" y="774.09" width="50.05" height="32.07" fill="#90B3C6" stroke="#111" stroke-width="1"/>
<text x="932.5" y="795.92" font-size="16.5" font-weight="bold" fill="#111">Fos</text>
<rect x="727.2" y="806.16" width="50.05" height="32.07" fill="#BCD2DD" stroke="#111" stroke-width="1"/>
<rect x="777.25" y="806.16" width="50.05" height="32.07" fill="#B85F54" stroke="#111" stroke-width="1"/>
<rect x="827.3" y="806.16" width="50.05" height="32.07" fill="#DCE8ED" stroke="#111" stroke-width="1"/>
<rect x="877.35" y="806.16" width="50.05" height="32.07" fill="#D3E2E9" stroke="#111" stroke-width="1"/>
<text x="932.5" y="827.99" font-size="16.5" font-weight="bold" fill="#111">Cd74</text>
<rect x="727.2" y="838.23" width="50.05" height="32.07" fill="#D6E5EB" stroke="#111" stroke-width="1"/>
<rect x="777.25" y="838.23" width="50.05" height="32.07" fill="#B85F54" stroke="#111" stroke-width="1"/>
<rect x="827.3" y="838.23" width="50.05" height="32.07" fill="#E3ECF1" stroke="#111" stroke-width="1"/>
<rect x="877.35" y="838.23" width="50.05" height="32.07" fill="#B0CAD6" stroke="#111" stroke-width="1"/>
<text x="932.5" y="860.06" font-size="16.5" font-weight="bold" fill="#111">Cd274</text>
<rect x="727.2" y="870.3" width="50.05" height="32.07" fill="#C98982" stroke="#111" stroke-width="1"/>
<rect x="777.25" y="870.3" width="50.05" height="32.07" fill="#8AADC1" stroke="#111" stroke-width="1"/>
<rect x="827.3" y="870.3" width="50.05" height="32.07" fill="#E1C2C0" stroke="#111" stroke-width="1"/>
<rect x="877.35" y="870.3" width="50.05" height="32.07" fill="#DFEAEF" stroke="#111" stroke-width="1"/>
<text x="932.5" y="892.13" font-size="16.5" font-weight="bold" fill="#111">Bmp1</text>
<rect x="727.2" y="902.37" width="50.05" height="32.07" fill="#D5ACA7" stroke="#111" stroke-width="1"/>
<rect x="777.25" y="902.37" width="50.05" height="32.07" fill="#9DBDCD" stroke="#111" stroke-width="1"/>
<rect x="827.3" y="902.37" width="50.05" height="32.07" fill="#CD938D" stroke="#111" stroke-width="1"/>
<rect x="877.35" y="902.37" width="50.05" height="32.07" fill="#BAD1DC" stroke="#111" stroke-width="1"/>
<text x="932.5" y="924.2" font-size="16.5" font-weight="bold" fill="#111">Gas6</text>
<rect x="727.2" y="934.43" width="50.05" height="32.07" fill="#DFC0BC" stroke="#111" stroke-width="1"/>
<rect x="777.25" y="934.43" width="50.05" height="32.07" fill="#8CAFC3" stroke="#111" stroke-width="1"/>
<rect x="827.3" y="934.43" width="50.05" height="32.07" fill="#CB8A84" stroke="#111" stroke-width="1"/>
<rect x="877.35" y="934.43" width="50.05" height="32.07" fill="#D0E0E7" stroke="#111" stroke-width="1"/>
<text x="932.5" y="956.27" font-size="16.5" font-weight="bold" fill="#111">Wnt5a</text>
<rect x="727.2" y="966.5" width="50.05" height="32.07" fill="#C5827A" stroke="#111" stroke-width="1"/>
<rect x="777.25" y="966.5" width="50.05" height="32.07" fill="#86AAC0" stroke="#111" stroke-width="1"/>
<rect x="827.3" y="966.5" width="50.05" height="32.07" fill="#F7F1F0" stroke="#111" stroke-width="1"/>
<rect x="877.35" y="966.5" width="50.05" height="32.07" fill="#FDFDFD" stroke="#111" stroke-width="1"/>
<text x="932.5" y="988.34" font-size="16.5" font-weight="bold" fill="#111">Col5a2</text>
<rect x="727.2" y="998.57" width="50.05" height="32.07" fill="#B7CFDA" stroke="#111" stroke-width="1"/>
<rect x="777.25" y="998.57" width="50.05" height="32.07" fill="#C0D5E0" stroke="#111" stroke-width="1"/>
<rect x="827.3" y="998.57" width="50.05" height="32.07" fill="#BA6258" stroke="#111" stroke-width="1"/>
<rect x="877.35" y="998.57" width="50.05" height="32.07" fill="#ECF2F5" stroke="#111" stroke-width="1"/>
<text x="932.5" y="1020.41" font-size="16.5" font-weight="bold" fill="#111">Tgfbr2</text>
<rect x="727.2" y="1030.64" width="50.05" height="32.07" fill="#E2C4C2" stroke="#111" stroke-width="1"/>
<rect x="777.25" y="1030.64" width="50.05" height="32.07" fill="#7AA3BA" stroke="#111" stroke-width="1"/>
<rect x="827.3" y="1030.64" width="50.05" height="32.07" fill="#D8AFAA" stroke="#111" stroke-width="1"/>
<rect x="877.35" y="1030.64" width="50.05" height="32.07" fill="#EEE0DF" stroke="#111" stroke-width="1"/>
<text x="932.5" y="1052.48" font-size="16.5" font-weight="bold" fill="#111">Igfbp5</text>
<rect x="727.2" y="1062.71" width="50.05" height="32.07" fill="#A6C3D0" stroke="#111" stroke-width="1"/>
<rect x="777.25" y="1062.71" width="50.05" height="32.07" fill="#ADC5D3" stroke="#111" stroke-width="1"/>
<rect x="827.3" y="1062.71" width="50.05" height="32.07" fill="#CB8882" stroke="#111" stroke-width="1"/>
<rect x="877.35" y="1062.71" width="50.05" height="32.07" fill="#DDBBB7" stroke="#111" stroke-width="1"/>
<text x="932.5" y="1084.55" font-size="16.5" font-weight="bold" fill="#111">Sox5</text>
<rect x="727.2" y="1094.78" width="50.05" height="32.07" fill="#ECDCDA" stroke="#111" stroke-width="1"/>
<rect x="777.25" y="1094.78" width="50.05" height="32.07" fill="#7AA3BA" stroke="#111" stroke-width="1"/>
<rect x="827.3" y="1094.78" width="50.05" height="32.07" fill="#D6ADA8" stroke="#111" stroke-width="1"/>
<rect x="877.35" y="1094.78" width="50.05" height="32.07" fill="#E7D2D0" stroke="#111" stroke-width="1"/>
<text x="932.5" y="1116.62" font-size="16.5" font-weight="bold" fill="#111">Wnt9a</text>
<rect x="727.2" y="1126.85" width="50.05" height="32.07" fill="#93B5C7" stroke="#111" stroke-width="1"/>
<rect x="777.25" y="1126.85" width="50.05" height="32.07" fill="#CFDFE7" stroke="#111" stroke-width="1"/>
<rect x="827.3" y="1126.85" width="50.05" height="32.07" fill="#D3A59F" stroke="#111" stroke-width="1"/>
<rect x="877.35" y="1126.85" width="50.05" height="32.07" fill="#D0A099" stroke="#111" stroke-width="1"/>
<text x="932.5" y="1148.69" font-size="16.5" font-weight="bold" fill="#111">Timp1</text>
<rect x="727.2" y="1158.92" width="50.05" height="32.07" fill="#7FA7BC" stroke="#111" stroke-width="1"/>
<rect x="777.25" y="1158.92" width="50.05" height="32.07" fill="#FDFCFB" stroke="#111" stroke-width="1"/>
<rect x="827.3" y="1158.92" width="50.05" height="32.07" fill="#F3E9E8" stroke="#111" stroke-width="1"/>
<rect x="877.35" y="1158.92" width="50.05" height="32.07" fill="#C98780" stroke="#111" stroke-width="1"/>
<text x="932.5" y="1180.76" font-size="16.5" font-weight="bold" fill="#111">Timp3</text>
<rect x="727.2" y="1190.99" width="50.05" height="32.07" fill="#99B9CA" stroke="#111" stroke-width="1"/>
<rect x="777.25" y="1190.99" width="50.05" height="32.07" fill="#D3E2E9" stroke="#111" stroke-width="1"/>
<rect x="827.3" y="1190.99" width="50.05" height="32.07" fill="#EBD9D7" stroke="#111" stroke-width="1"/>
<rect x="877.35" y="1190.99" width="50.05" height="32.07" fill="#C47D74" stroke="#111" stroke-width="1"/>
<text x="932.5" y="1212.83" font-size="16.5" font-weight="bold" fill="#111">Bcl2</text>
<rect x="727.2" y="1223.06" width="50.05" height="32.07" fill="#BAD1DD" stroke="#111" stroke-width="1"/>
<rect x="777.25" y="1223.06" width="50.05" height="32.07" fill="#F5F0EF" stroke="#111" stroke-width="1"/>
<rect x="827.3" y="1223.06" width="50.05" height="32.07" fill="#B0CAD6" stroke="#111" stroke-width="1"/>
<rect x="877.35" y="1223.06" width="50.05" height="32.07" fill="#BE6A60" stroke="#111" stroke-width="1"/>
<text x="932.5" y="1244.9" font-size="16.5" font-weight="bold" fill="#111">Ntf3</text>
<rect x="727.2" y="1255.13" width="50.05" height="32.07" fill="#F4F8F8" stroke="#111" stroke-width="1"/>
<rect x="777.25" y="1255.13" width="50.05" height="32.07" fill="#CD9690" stroke="#111" stroke-width="1"/>
<rect x="827.3" y="1255.13" width="50.05" height="32.07" fill="#7FA7BC" stroke="#111" stroke-width="1"/>
<rect x="877.35" y="1255.13" width="50.05" height="32.07" fill="#E3C6C5" stroke="#111" stroke-width="1"/>
<text x="932.5" y="1276.97" font-size="16.5" font-weight="bold" fill="#111">Bax</text>
<text x="1019.4" y="869.3" font-size="15.5" font-weight="bold" fill="#111">z−score</text>
<defs><linearGradient id="gD" x1="0" y1="0" x2="0" y2="1"><stop offset="0" stop-color="#B85F54"/><stop offset="0.05" stop-color="#B85F54"/><stop offset="0.5" stop-color="#FFFFFF"/><stop offset="0.95" stop-color="#7AA3BA"/><stop offset="1" stop-color="#7AA3BA"/></linearGradient></defs>
<rect x="1019.4" y="878.6" width="19.6" height="101.8" fill="url(#gD)"/>
<line x1="1019.4" y1="882.5" x2="1023" y2="882.5" stroke="#fff" stroke-width="0.8" />
<line x1="1035.4" y1="882.5" x2="1039" y2="882.5" stroke="#fff" stroke-width="0.8" />
<line x1="1019.4" y1="976.5" x2="1023" y2="976.5" stroke="#fff" stroke-width="0.8" />
<line x1="1035.4" y1="976.5" x2="1039" y2="976.5" stroke="#fff" stroke-width="0.8" />
<text x="1044.2" y="888.5" font-size="15.5" fill="#111">high</text>
<text x="1044.2" y="981.5" font-size="15.5" fill="#111">low</text>
<text x="1019.4" y="1028.3" font-size="15.5" font-weight="bold" fill="#111">Group</text>
<rect x="1019.4" y="1036" width="17.5" height="17.2" fill="#D98FA6"/>
<text x="1043" y="1050.5" font-size="16" fill="#111">WT</text>
<rect x="1019.4" y="1055.2" width="17.5" height="17.2" fill="#8489DF"/>
<text x="1043" y="1069.7" font-size="16" fill="#111">Model</text>
<rect x="1019.4" y="1074.4" width="17.5" height="17.2" fill="#93D2E8"/>
<text x="1043" y="1088.9" font-size="16" fill="#111">En-MSCs<tspan font-size="9.28" dy="-5.28">C/I</tspan></text>
<rect x="1019.4" y="1093.6" width="17.5" height="17.2" fill="#DCC197"/>
<text x="1043" y="1108.1" font-size="16" fill="#111">MSCs</text>
</g>
<g id="pE">
<text transform="translate(1136.2 501.1) scale(0.96 1.035)" font-size="48.3" font-weight="bold" fill="#231815">E</text>
<text x="1430.7" y="500.4" font-size="30.7" fill="#111" stroke="#111" stroke-width="0.4">FLS KEGG of En-MSCs<tspan font-size="18.42" dy="-11.05">C/I</tspan></text>
<g fill="#546C4A" stroke="#111" stroke-width="0.7" stroke-linejoin="round">
<path d="M1591.6 616.2Q1591.6 938.2 1529.52 622.17L1522.72 623.56Q1591.6 938.2 1606.26 616.53Z"/>
<path d="M1606.26 616.53Q1591.6 938.2 1482.72 634.93L1469.74 639.84Q1591.6 938.2 1620.88 617.52Z"/>
<path d="M1620.88 617.52Q1591.6 938.2 1330.84 747.08L1326.78 752.68Q1591.6 938.2 1635.45 619.16Z"/>
<path d="M1635.45 619.16Q1591.6 938.2 1278.24 856.34L1275 869.77Q1591.6 938.2 1649.93 621.46Z"/>
<path d="M1649.93 621.46Q1591.6 938.2 1270.9 892.37L1269.22 906.08Q1591.6 938.2 1664.28 624.41Z"/>
<path d="M1664.28 624.41Q1591.6 938.2 1267.61 935.91L1267.63 942.81Q1591.6 938.2 1678.49 628Z"/>
<path d="M1678.49 628Q1591.6 938.2 1267.73 947.4L1268.43 961.18Q1591.6 938.2 1692.52 632.22Z"/>
<path d="M1692.52 632.22Q1591.6 938.2 1271.96 990.85L1273.17 997.65Q1591.6 938.2 1706.35 637.07Z"/>
<path d="M1706.35 637.07Q1591.6 938.2 1274.05 1002.15L1277.1 1015.62Q1591.6 938.2 1719.94 642.54Z"/>
<path d="M1719.94 642.54Q1591.6 938.2 1283.46 1037.7L1288.03 1050.74Q1591.6 938.2 1733.26 648.61Z"/>
<path d="M1733.26 648.61Q1591.6 938.2 1292.27 1061.43L1294.99 1067.78Q1591.6 938.2 1746.3 655.27Z"/>
<path d="M1746.3 655.27Q1591.6 938.2 1305.04 1088.47L1311.79 1100.54Q1591.6 938.2 1759.02 662.52Z"/>
<path d="M1759.02 662.52Q1591.6 938.2 1335.02 1134.83L1343.74 1145.58Q1591.6 938.2 1771.39 670.33Z"/>
<path d="M1771.39 670.33Q1591.6 938.2 1364.14 1167.51L1369.14 1172.31Q1591.6 938.2 1783.4 678.68Z"/>
<path d="M1783.4 678.68Q1591.6 938.2 1500.32 1247.16L1513.73 1250.76Q1591.6 938.2 1795.02 687.57Z"/>
<path d="M1795.02 687.57Q1591.6 938.2 1536.35 1255.48L1550.09 1257.55Q1591.6 938.2 1806.22 696.97Z"/>
</g>
<g fill="#B4D5AC" stroke="#111" stroke-width="0.7" stroke-linejoin="round">
<path d="M1829.38 719.47Q1591.6 938.2 1573.1 616.73L1559.25 617.81Q1591.6 938.2 1838.79 730.03Z"/>
<path d="M1838.79 730.03Q1591.6 938.2 1518.22 624.57L1504.75 627.98Q1591.6 938.2 1847.73 740.99Z"/>
<path d="M1847.73 740.99Q1591.6 938.2 1500.32 629.24L1487.08 633.42Q1591.6 938.2 1856.17 752.33Z"/>
<path d="M1856.17 752.33Q1591.6 938.2 1448.64 649.24L1436.31 655.59Q1591.6 938.2 1864.11 764.02Z"/>
<path d="M1864.11 764.02Q1591.6 938.2 1346.74 727.33L1337.87 737.96Q1591.6 938.2 1871.52 776.05Z"/>
<path d="M1871.52 776.05Q1591.6 938.2 1305.04 787.93L1298.83 800.28Q1591.6 938.2 1878.4 788.39Z"/>
<path d="M1878.4 788.39Q1591.6 938.2 1296.88 804.44L1291.38 817.12Q1591.6 938.2 1884.72 801.02Z"/>
<path d="M1884.72 801.02Q1591.6 938.2 1283.46 838.7L1279.45 851.92Q1591.6 938.2 1890.49 813.91Z"/>
<path d="M1890.49 813.91Q1591.6 938.2 1274.05 874.25L1271.59 887.84Q1591.6 938.2 1895.68 827.03Z"/>
<path d="M1895.68 827.03Q1591.6 938.2 1268.79 965.76L1270.27 979.48Q1591.6 938.2 1900.29 840.38Z"/>
<path d="M1900.29 840.38Q1591.6 938.2 1278.24 1020.06L1282.06 1033.33Q1591.6 938.2 1904.3 853.91Z"/>
<path d="M1904.3 853.91Q1591.6 938.2 1386.5 1187.47L1397.44 1195.98Q1591.6 938.2 1907.72 867.6Z"/>
<path d="M1907.72 867.6Q1591.6 938.2 1518.22 1251.83L1531.81 1254.67Q1591.6 938.2 1910.52 881.42Z"/>
</g>
<g fill="#E7D967" stroke="#111" stroke-width="0.7" stroke-linejoin="round">
<path d="M1914.63 913.35Q1591.6 938.2 1536.35 620.92L1529.52 622.17Q1591.6 938.2 1915.43 927.9Z"/>
<path d="M1915.43 927.9Q1591.6 938.2 1401.16 677.7L1390.1 686.05Q1591.6 938.2 1915.57 942.47Z"/>
<path d="M1915.57 942.47Q1591.6 938.2 1372.52 700.97L1362.49 710.52Q1591.6 938.2 1915.05 957.03Z"/>
<path d="M1915.05 957.03Q1591.6 938.2 1314.14 771.92L1307.23 783.89Q1591.6 938.2 1913.86 971.55Z"/>
<path d="M1913.86 971.55Q1591.6 938.2 1267.73 929L1267.61 935.91Q1591.6 938.2 1912.01 986Z"/>
<path d="M1912.01 986Q1591.6 938.2 1270.9 984.03L1271.96 990.85Q1591.6 938.2 1909.51 1000.36Z"/>
<path d="M1909.51 1000.36Q1591.6 938.2 1289.68 1055.02L1292.27 1061.43Q1591.6 938.2 1906.35 1014.59Z"/>
<path d="M1906.35 1014.59Q1591.6 938.2 1346.74 1149.07L1356.06 1159.3Q1591.6 938.2 1902.55 1028.66Z"/>
<path d="M1902.55 1028.66Q1591.6 938.2 1401.16 1198.7L1412.57 1206.58Q1591.6 938.2 1898.12 1042.55Z"/>
<path d="M1898.12 1042.55Q1591.6 938.2 1416.43 1209.08L1428.28 1216.3Q1591.6 938.2 1893.05 1056.22Z"/>
<path d="M1893.05 1056.22Q1591.6 938.2 1432.28 1218.58L1444.52 1225.11Q1591.6 938.2 1887.37 1069.65Z"/>
<path d="M1887.37 1069.65Q1591.6 938.2 1448.64 1227.16L1461.24 1232.99Q1591.6 938.2 1881.09 1082.81Z"/>
<path d="M1881.09 1082.81Q1591.6 938.2 1465.48 1234.8L1478.39 1239.9Q1591.6 938.2 1874.21 1095.68Z"/>
<path d="M1874.21 1095.68Q1591.6 938.2 1554.67 1258.1L1568.5 1259.38Q1591.6 938.2 1866.75 1108.22Z"/>
<path d="M1866.75 1108.22Q1591.6 938.2 1573.1 1259.67L1586.99 1260.17Q1591.6 938.2 1858.73 1120.42Z"/>
<path d="M1858.73 1120.42Q1591.6 938.2 1591.6 1260.2L1605.49 1259.9Q1591.6 938.2 1850.16 1132.24Z"/>
</g>
<g fill="#C67C42" stroke="#111" stroke-width="0.7" stroke-linejoin="round">
<path d="M1829.38 1156.93Q1591.6 938.2 1554.67 618.3L1540.9 620.17Q1591.6 938.2 1819.18 1167.39Z"/>
<path d="M1819.18 1167.39Q1591.6 938.2 1465.48 641.6L1452.8 647.24Q1591.6 938.2 1808.51 1177.39Z"/>
<path d="M1808.51 1177.39Q1591.6 938.2 1432.28 657.82L1420.33 664.86Q1591.6 938.2 1797.41 1186.9Z"/>
<path d="M1797.41 1186.9Q1591.6 938.2 1416.43 667.32L1404.91 675.03Q1591.6 938.2 1785.87 1195.89Z"/>
<path d="M1785.87 1195.89Q1591.6 938.2 1386.5 688.93L1375.94 697.89Q1591.6 938.2 1773.95 1204.36Z"/>
<path d="M1773.95 1204.36Q1591.6 938.2 1359.25 713.79L1349.78 723.89Q1591.6 938.2 1761.64 1212.29Z"/>
<path d="M1761.64 1212.29Q1591.6 938.2 1335.02 741.57L1330.84 747.08Q1591.6 938.2 1749 1219.65Z"/>
<path d="M1749 1219.65Q1591.6 938.2 1324.15 756.45L1316.55 768.01Q1591.6 938.2 1736.02 1226.44Z"/>
<path d="M1736.02 1226.44Q1591.6 938.2 1289.68 821.38L1284.91 834.35Q1591.6 938.2 1722.76 1232.64Z"/>
<path d="M1722.76 1232.64Q1591.6 938.2 1268.79 910.64L1267.9 924.42Q1591.6 938.2 1709.22 1238.23Z"/>
<path d="M1709.22 1238.23Q1591.6 938.2 1296.88 1071.96L1302.92 1084.4Q1591.6 938.2 1695.44 1243.21Z"/>
<path d="M1695.44 1243.21Q1591.6 938.2 1314.14 1104.48L1321.57 1116.15Q1591.6 938.2 1681.45 1247.57Z"/>
<path d="M1681.45 1247.57Q1591.6 938.2 1324.15 1119.95L1332.23 1131.18Q1591.6 938.2 1667.28 1251.29Z"/>
<path d="M1667.28 1251.29Q1591.6 938.2 1359.25 1162.61L1364.14 1167.51Q1591.6 938.2 1652.95 1254.37Z"/>
<path d="M1652.95 1254.37Q1591.6 938.2 1372.52 1175.43L1382.95 1184.55Q1591.6 938.2 1638.5 1256.81Z"/>
<path d="M1638.5 1256.81Q1591.6 938.2 1482.72 1241.47L1495.9 1245.83Q1591.6 938.2 1623.95 1258.59Z"/>
</g>
<path d="M1591.6 616.2L1601.37 616.35L1611.14 616.79L1620.88 617.52L1630.6 618.54L1640.29 619.86L1649.93 621.46L1659.51 623.35L1669.04 625.53L1678.49 628L1687.87 630.74L1697.16 633.77L1706.35 637.07L1715.43 640.65L1724.41 644.49L1733.26 648.61L1741.99 652.99L1750.57 657.63L1759.02 662.52L1767.31 667.66L1775.44 673.05L1783.4 678.68L1791.19 684.55L1798.8 690.65L1806.22 696.97L1827.68 672.85L1819.52 665.9L1811.15 659.19L1802.58 652.73L1793.82 646.54L1784.88 640.61L1775.76 634.95L1766.47 629.57L1757.03 624.47L1747.43 619.65L1737.69 615.12L1727.82 610.89L1717.82 606.96L1707.71 603.32L1697.49 600L1687.18 596.98L1676.78 594.27L1666.3 591.87L1655.76 589.79L1645.16 588.02L1634.5 586.58L1623.81 585.45L1613.09 584.64L1602.35 584.16L1591.6 584Z" fill="#7B8B75" stroke="#222" stroke-width="0.7"/>
<path d="M1829.38 719.47L1834.53 725.14L1839.55 730.93L1844.43 736.84L1849.17 742.86L1853.76 748.98L1858.2 755.22L1862.5 761.56L1866.64 768L1870.62 774.53L1874.45 781.16L1878.12 787.87L1881.63 794.67L1884.98 801.55L1888.16 808.5L1891.17 815.53L1894.01 822.63L1896.69 829.8L1899.19 837.02L1901.52 844.3L1903.67 851.64L1905.65 859.02L1907.45 866.45L1909.08 873.92L1910.52 881.42L1942.42 875.75L1940.83 867.49L1939.04 859.28L1937.06 851.1L1934.88 842.98L1932.51 834.91L1929.95 826.9L1927.2 818.96L1924.25 811.08L1921.13 803.27L1917.81 795.54L1914.31 787.88L1910.63 780.32L1906.77 772.84L1902.74 765.45L1898.53 758.16L1894.14 750.98L1889.59 743.89L1884.86 736.92L1879.97 730.06L1874.92 723.32L1869.71 716.7L1864.35 710.2L1858.83 703.84L1853.16 697.6Z" fill="#B1C5AA" stroke="#222" stroke-width="0.7"/>
<path d="M1914.63 913.35L1915.24 923.04L1915.55 932.75L1915.57 942.47L1915.29 952.18L1914.72 961.87L1913.86 971.55L1912.7 981.19L1911.25 990.8L1909.51 1000.36L1907.47 1009.86L1905.16 1019.3L1902.55 1028.66L1899.67 1037.94L1896.5 1047.13L1893.05 1056.22L1889.33 1065.2L1885.34 1074.07L1881.09 1082.81L1876.57 1091.42L1871.79 1099.9L1866.75 1108.22L1861.47 1116.39L1855.93 1124.4L1850.16 1132.24L1876.02 1151.65L1882.37 1143.02L1888.45 1134.21L1894.27 1125.23L1899.8 1116.07L1905.06 1106.75L1910.04 1097.27L1914.72 1087.66L1919.11 1077.9L1923.2 1068.02L1926.99 1058.02L1930.47 1047.91L1933.65 1037.7L1936.51 1027.41L1939.06 1017.03L1941.3 1006.57L1943.21 996.06L1944.81 985.49L1946.08 974.88L1947.04 964.24L1947.66 953.57L1947.97 942.89L1947.95 932.21L1947.61 921.53L1946.94 910.86Z" fill="#D2C77D" stroke="#222" stroke-width="0.7"/>
<path d="M1829.38 1156.93L1822.63 1163.95L1815.68 1170.78L1808.51 1177.39L1801.16 1183.78L1793.61 1189.95L1785.87 1195.89L1777.97 1201.6L1769.89 1207.07L1761.64 1212.29L1753.25 1217.26L1744.71 1221.98L1736.02 1226.44L1727.21 1230.64L1718.27 1234.57L1709.22 1238.23L1700.06 1241.62L1690.8 1244.74L1681.45 1247.57L1672.02 1250.12L1662.52 1252.39L1652.95 1254.37L1643.33 1256.07L1633.66 1257.48L1623.95 1258.59L1627.18 1290.63L1637.86 1289.4L1648.5 1287.86L1659.09 1285.99L1669.61 1283.81L1680.06 1281.32L1690.44 1278.51L1700.72 1275.39L1710.91 1271.96L1720.98 1268.24L1730.94 1264.21L1740.77 1259.88L1750.47 1255.26L1760.02 1250.36L1769.41 1245.17L1778.65 1239.7L1787.71 1233.95L1796.6 1227.94L1805.3 1221.66L1813.81 1215.13L1822.11 1208.34L1830.21 1201.31L1838.08 1194.04L1845.74 1186.53L1853.16 1178.8Z" fill="#B88F6A" stroke="#222" stroke-width="0.7"/>
<path d="M1557.64 601.79L1562.48 601.34L1567.33 600.96L1572.18 600.65L1571.25 584.58L1566.17 584.9L1561.09 585.3L1556.02 585.77Z" fill="#EA372A" stroke="#333" stroke-width="0.7"/>
<path d="M1538.37 604.26L1543.18 603.54L1547.99 602.89L1552.82 602.3L1550.97 586.31L1545.92 586.92L1540.87 587.61L1535.83 588.36Z" fill="#EA3E30" stroke="#333" stroke-width="0.7"/>
<path d="M1519.27 607.83L1524.03 606.84L1528.8 605.91L1533.59 605.05L1530.83 589.19L1525.81 590.09L1520.81 591.06L1515.83 592.1Z" fill="#E87F6C" stroke="#333" stroke-width="0.7"/>
<path d="M1500.41 612.47L1505.11 611.21L1509.82 610.01L1514.55 608.89L1510.88 593.2L1505.92 594.39L1500.99 595.64L1496.07 596.96Z" fill="#e98774" stroke="#333" stroke-width="0.7"/>
<path d="M1481.85 618.18L1486.46 616.65L1491.1 615.19L1495.75 613.8L1491.19 598.35L1486.31 599.81L1481.46 601.34L1476.62 602.94Z" fill="#e98e7c" stroke="#333" stroke-width="0.7"/>
<path d="M1463.65 624.93L1468.16 623.14L1472.71 621.42L1477.28 619.76L1471.83 604.6L1467.05 606.33L1462.29 608.14L1457.55 610.01Z" fill="#ea9683" stroke="#333" stroke-width="0.7"/>
<path d="M1445.86 632.7L1450.27 630.66L1454.7 628.68L1459.17 626.77L1452.86 611.94L1448.19 613.94L1443.54 616.01L1438.92 618.15Z" fill="#ea9d8b" stroke="#333" stroke-width="0.7"/>
<path d="M1428.55 641.46L1432.83 639.18L1437.15 636.95L1441.5 634.79L1434.35 620.34L1429.79 622.61L1425.27 624.94L1420.78 627.33Z" fill="#eba08e" stroke="#333" stroke-width="0.7"/>
<path d="M1411.77 651.2L1415.91 648.67L1420.1 646.21L1424.31 643.8L1416.35 629.78L1411.93 632.3L1407.55 634.89L1403.2 637.53Z" fill="#eba392" stroke="#333" stroke-width="0.7"/>
<path d="M1395.57 661.87L1399.57 659.11L1403.6 656.41L1407.67 653.77L1398.92 640.23L1394.65 643L1390.42 645.82L1386.24 648.71Z" fill="#eba696" stroke="#333" stroke-width="0.7"/>
<path d="M1380.02 673.44L1383.85 670.46L1387.72 667.54L1391.64 664.67L1382.11 651.65L1378.01 654.65L1373.96 657.71L1369.95 660.83Z" fill="#ecaa99" stroke="#333" stroke-width="0.7"/>
<path d="M1365.16 685.88L1368.81 682.69L1372.51 679.55L1376.25 676.46L1365.99 664L1362.07 667.23L1358.2 670.52L1354.37 673.86Z" fill="#ecad9d" stroke="#333" stroke-width="0.7"/>
<path d="M1351.03 699.14L1354.5 695.74L1358.01 692.4L1361.57 689.11L1350.61 677.25L1346.88 680.7L1343.2 684.2L1339.58 687.75Z" fill="#edb0a1" stroke="#333" stroke-width="0.7"/>
<path d="M1337.69 713.18L1340.95 709.59L1344.27 706.05L1347.63 702.57L1336.01 691.34L1332.49 695L1329.02 698.71L1325.6 702.46Z" fill="#edb4a4" stroke="#333" stroke-width="0.7"/>
<path d="M1325.18 727.95L1328.23 724.19L1331.34 720.47L1334.49 716.79L1322.25 706.25L1318.94 710.1L1315.69 713.99L1312.49 717.94Z" fill="#eeb7a8" stroke="#333" stroke-width="0.7"/>
<path d="M1313.54 743.41L1316.37 739.48L1319.25 735.59L1322.19 731.74L1309.37 721.91L1306.28 725.94L1303.26 730.01L1300.3 734.13Z" fill="#eebaac" stroke="#333" stroke-width="0.7"/>
<path d="M1302.8 759.5L1305.4 755.42L1308.06 751.37L1310.77 747.36L1297.4 738.27L1294.56 742.47L1291.77 746.71L1289.05 750.99Z" fill="#efbeb0" stroke="#333" stroke-width="0.7"/>
<path d="M1293.01 776.18L1295.37 771.95L1297.79 767.76L1300.27 763.61L1286.4 755.29L1283.8 759.65L1281.26 764.04L1278.79 768.46Z" fill="#efc0b2" stroke="#333" stroke-width="0.7"/>
<path d="M1284.19 793.38L1286.3 789.03L1288.48 784.71L1290.72 780.42L1276.39 772.91L1274.04 777.4L1271.76 781.93L1269.55 786.49Z" fill="#efc2b4" stroke="#333" stroke-width="0.7"/>
<path d="M1276.37 811.06L1278.23 806.6L1280.15 802.16L1282.14 797.75L1267.41 791.06L1265.32 795.68L1263.31 800.33L1261.36 805.01Z" fill="#f0c4b6" stroke="#333" stroke-width="0.7"/>
<path d="M1269.58 829.15L1271.18 824.59L1272.85 820.05L1274.58 815.53L1259.48 809.69L1257.67 814.42L1255.92 819.18L1254.25 823.96Z" fill="#f0c5b8" stroke="#333" stroke-width="0.7"/>
<path d="M1263.84 847.6L1265.18 842.95L1266.58 838.33L1268.05 833.72L1252.64 828.75L1251.1 833.57L1249.63 838.42L1248.23 843.29Z" fill="#f0c7ba" stroke="#333" stroke-width="0.7"/>
<path d="M1259.17 866.34L1260.24 861.63L1261.37 856.93L1262.58 852.25L1246.91 848.16L1245.65 853.06L1244.46 857.98L1243.34 862.92Z" fill="#f0c9bc" stroke="#333" stroke-width="0.7"/>
<path d="M1255.59 885.32L1256.38 880.56L1257.24 875.8L1258.18 871.06L1242.3 867.86L1241.32 872.83L1240.42 877.81L1239.59 882.8Z" fill="#f0cbbe" stroke="#333" stroke-width="0.7"/>
<path d="M1253.1 904.47L1253.62 899.67L1254.21 894.87L1254.86 890.08L1238.83 887.79L1238.14 892.81L1237.52 897.83L1236.98 902.87Z" fill="#f1ccc1" stroke="#333" stroke-width="0.7"/>
<path d="M1251.71 923.73L1251.95 918.91L1252.27 914.08L1252.65 909.27L1236.51 907.89L1236.11 912.94L1235.78 917.99L1235.53 923.04Z" fill="#f1cec3" stroke="#333" stroke-width="0.7"/>
<path d="M1251.43 943.04L1251.4 938.21L1251.43 933.38L1251.54 928.55L1235.35 928.09L1235.24 933.15L1235.2 938.21L1235.24 943.27Z" fill="#f1d0c5" stroke="#333" stroke-width="0.7"/>
<path d="M1252.27 962.33L1251.96 957.51L1251.71 952.68L1251.54 947.85L1235.35 948.31L1235.53 953.37L1235.78 958.43L1236.11 963.48Z" fill="#f1d2c7" stroke="#333" stroke-width="0.7"/>
<path d="M1254.21 981.55L1253.62 976.75L1253.1 971.94L1252.65 967.13L1236.51 968.51L1236.98 973.55L1237.52 978.59L1238.14 983.61Z" fill="#f2d3c9" stroke="#333" stroke-width="0.7"/>
<path d="M1257.25 1000.62L1256.38 995.86L1255.59 991.09L1254.86 986.32L1238.83 988.61L1239.59 993.61L1240.42 998.61L1241.33 1003.59Z" fill="#f2d5cb" stroke="#333" stroke-width="0.7"/>
<path d="M1261.38 1019.49L1260.24 1014.79L1259.18 1010.07L1258.18 1005.34L1242.3 1008.54L1243.35 1013.5L1244.46 1018.43L1245.65 1023.36Z" fill="#f2d7cd" stroke="#333" stroke-width="0.7"/>
<path d="M1266.59 1038.09L1265.18 1033.46L1263.85 1028.82L1262.58 1024.15L1246.91 1028.24L1248.24 1033.13L1249.64 1038L1251.11 1042.85Z" fill="#f2d9cf" stroke="#333" stroke-width="0.7"/>
<path d="M1272.85 1056.37L1271.19 1051.83L1269.59 1047.26L1268.05 1042.68L1252.64 1047.65L1254.25 1052.46L1255.93 1057.24L1257.68 1061.99Z" fill="#f3dad1" stroke="#333" stroke-width="0.7"/>
<path d="M1280.16 1074.26L1278.24 1069.82L1276.38 1065.36L1274.58 1060.87L1259.48 1066.71L1261.37 1071.41L1263.32 1076.09L1265.33 1080.74Z" fill="#f3dcd3" stroke="#333" stroke-width="0.7"/>
<path d="M1288.49 1091.71L1286.31 1087.38L1284.19 1083.03L1282.14 1078.65L1267.41 1085.34L1269.56 1089.93L1271.77 1094.49L1274.05 1099.02Z" fill="#f3ded5" stroke="#333" stroke-width="0.7"/>
<path d="M1297.8 1108.65L1295.38 1104.46L1293.02 1100.24L1290.72 1095.98L1276.39 1103.49L1278.8 1107.95L1281.27 1112.38L1283.81 1116.77Z" fill="#DDD0FB" stroke="#333" stroke-width="0.7"/>
<path d="M1308.07 1125.04L1305.41 1121L1302.81 1116.91L1300.27 1112.79L1286.4 1121.11L1289.06 1125.42L1291.78 1129.7L1294.57 1133.94Z" fill="#daccfb" stroke="#333" stroke-width="0.7"/>
<path d="M1319.26 1140.83L1316.38 1136.94L1313.55 1133.01L1310.77 1129.04L1297.4 1138.13L1300.31 1142.28L1303.27 1146.4L1306.3 1150.48Z" fill="#d7c7fb" stroke="#333" stroke-width="0.7"/>
<path d="M1331.35 1155.95L1328.24 1152.23L1325.19 1148.47L1322.19 1144.66L1309.37 1154.49L1312.51 1158.48L1315.7 1162.42L1318.95 1166.32Z" fill="#d4c3fb" stroke="#333" stroke-width="0.7"/>
<path d="M1344.28 1170.36L1340.97 1166.82L1337.7 1163.24L1334.49 1159.61L1322.25 1170.15L1325.61 1173.95L1329.03 1177.71L1332.5 1181.41Z" fill="#d1bffb" stroke="#333" stroke-width="0.7"/>
<path d="M1358.02 1184.01L1354.51 1180.67L1351.05 1177.28L1347.63 1173.83L1336.01 1185.06L1339.59 1188.66L1343.22 1192.21L1346.9 1195.72Z" fill="#cfbafb" stroke="#333" stroke-width="0.7"/>
<path d="M1372.52 1196.86L1368.82 1193.72L1365.17 1190.53L1361.57 1187.29L1350.61 1199.15L1354.39 1202.55L1358.21 1205.89L1362.09 1209.18Z" fill="#ccb6fb" stroke="#333" stroke-width="0.7"/>
<path d="M1387.74 1208.87L1383.86 1205.95L1380.04 1202.97L1376.25 1199.94L1365.99 1212.4L1369.96 1215.58L1373.97 1218.7L1378.03 1221.76Z" fill="#c9b2fb" stroke="#333" stroke-width="0.7"/>
<path d="M1403.62 1220L1399.58 1217.3L1395.59 1214.54L1391.64 1211.73L1382.11 1224.75L1386.26 1227.7L1390.44 1230.59L1394.67 1233.42Z" fill="#c6adfb" stroke="#333" stroke-width="0.7"/>
<path d="M1420.11 1230.2L1415.93 1227.74L1411.78 1225.21L1407.67 1222.63L1398.92 1236.17L1403.22 1238.88L1407.56 1241.52L1411.95 1244.11Z" fill="#c3a9fb" stroke="#333" stroke-width="0.7"/>
<path d="M1437.16 1239.46L1432.85 1237.23L1428.56 1234.95L1424.31 1232.6L1416.35 1246.62L1420.8 1249.08L1425.29 1251.47L1429.81 1253.8Z" fill="#bda2fb" stroke="#333" stroke-width="0.7"/>
<path d="M1454.72 1247.73L1450.28 1245.75L1445.88 1243.71L1441.5 1241.61L1434.35 1256.06L1438.94 1258.26L1443.55 1260.4L1448.2 1262.47Z" fill="#b89afa" stroke="#333" stroke-width="0.7"/>
<path d="M1472.73 1254.99L1468.18 1253.27L1463.66 1251.48L1459.17 1249.63L1452.86 1264.46L1457.57 1266.4L1462.3 1268.27L1467.06 1270.07Z" fill="#b293fa" stroke="#333" stroke-width="0.7"/>
<path d="M1491.12 1261.22L1486.48 1259.76L1481.87 1258.23L1477.28 1256.64L1471.83 1271.8L1476.64 1273.47L1481.48 1275.07L1486.33 1276.6Z" fill="#ad8cfa" stroke="#333" stroke-width="0.7"/>
<path d="M1509.84 1266.39L1505.12 1265.19L1500.43 1263.93L1495.75 1262.6L1491.19 1278.05L1496.09 1279.44L1501.01 1280.77L1505.94 1282.02Z" fill="#a784f9" stroke="#333" stroke-width="0.7"/>
<path d="M1528.82 1270.49L1524.05 1269.57L1519.29 1268.57L1514.55 1267.51L1510.88 1283.2L1515.85 1284.31L1520.83 1285.35L1525.83 1286.32Z" fill="#a27df9" stroke="#333" stroke-width="0.7"/>
<path d="M1548.01 1273.51L1543.19 1272.86L1538.39 1272.14L1533.59 1271.35L1530.83 1287.21L1535.85 1288.04L1540.89 1288.8L1545.94 1289.48Z" fill="#9a74f9" stroke="#333" stroke-width="0.7"/>
<path d="M1567.34 1275.44L1562.5 1275.06L1557.65 1274.61L1552.82 1274.1L1550.97 1290.09L1556.04 1290.63L1561.11 1291.1L1566.19 1291.5Z" fill="#926af8" stroke="#333" stroke-width="0.7"/>
<path d="M1586.76 1276.27L1581.89 1276.16L1577.03 1275.99L1572.18 1275.75L1571.25 1291.82L1576.34 1292.08L1581.43 1292.26L1586.53 1292.36Z" fill="#8a60f8" stroke="#333" stroke-width="0.7"/>
<path d="M1606.18 1275.99L1601.32 1276.16L1596.46 1276.27L1591.6 1276.3L1591.6 1292.4L1596.69 1292.36L1601.79 1292.26L1606.88 1292.07Z" fill="#5A24F6" stroke="#333" stroke-width="0.7"/>
<g font-size="17.4" text-anchor="middle" fill="#111">
<text transform="translate(1559.82 536.94) rotate(85.5)" y="6">Comp</text>
<text transform="translate(1536.82 539.4) rotate(82.23)" y="6">Sfrp4</text>
<text transform="translate(1514 543.16) rotate(78.95)" y="6">Igf1</text>
<text transform="translate(1491.43 548.2) rotate(75.68)" y="6">Col1a2</text>
<text transform="translate(1469.19 554.52) rotate(72.41)" y="6">Col6a3</text>
<text transform="translate(1447.35 562.09) rotate(69.14)" y="6">Creb5</text>
<text transform="translate(1425.98 570.89) rotate(65.86)" y="6">Lrp6</text>
<text transform="translate(1405.15 580.89) rotate(62.59)" y="6">Col1a1</text>
<text transform="translate(1384.93 592.05) rotate(59.32)" y="6">Nfatc2</text>
<text transform="translate(1365.39 604.34) rotate(56.04)" y="6">Rspo2</text>
<text transform="translate(1346.58 617.72) rotate(52.77)" y="6">Igf1r</text>
<text transform="translate(1328.57 632.14) rotate(49.5)" y="6">Ror1</text>
<text transform="translate(1311.42 647.56) rotate(46.23)" y="6">Egfr</text>
<text transform="translate(1295.18 663.94) rotate(42.95)" y="6">Mcc</text>
<text transform="translate(1279.91 681.2) rotate(39.68)" y="6">Lamc1</text>
<text transform="translate(1265.65 699.3) rotate(36.41)" y="6">Prkca</text>
<text transform="translate(1252.46 718.19) rotate(33.14)" y="6">Tcf7l1</text>
<text transform="translate(1240.37 737.79) rotate(29.86)" y="6">Tgfbr2</text>
<text transform="translate(1229.44 758.04) rotate(26.59)" y="6">Col6a2</text>
<text transform="translate(1219.68 778.88) rotate(23.32)" y="6">Lama4</text>
<text transform="translate(1211.13 800.24) rotate(20.04)" y="6">Ppp3ca</text>
<text transform="translate(1203.83 822.06) rotate(16.77)" y="6">Col6a1</text>
<text transform="translate(1197.79 844.25) rotate(13.5)" y="6">Itpr1</text>
<text transform="translate(1193.03 866.74) rotate(10.23)" y="6">Itgb8</text>
<text transform="translate(1189.58 889.47) rotate(6.95)" y="6">Stat5b</text>
<text transform="translate(1187.44 912.36) rotate(3.68)" y="6">Tbl1xr1</text>
<text transform="translate(1186.61 935.33) rotate(0.41)" y="6">Pik3r1</text>
<text transform="translate(1187.11 958.32) rotate(-2.86)" y="6">Creb3l2</text>
<text transform="translate(1188.92 981.23) rotate(-6.14)" y="6">Tnc</text>
<text transform="translate(1192.05 1004.01) rotate(-9.41)" y="6">Akt3</text>
<text transform="translate(1196.48 1026.57) rotate(-12.68)" y="6">Adcy9</text>
<text transform="translate(1202.2 1048.84) rotate(-15.96)" y="6">Lama2</text>
<text transform="translate(1209.19 1070.76) rotate(-19.23)" y="6">Ghr</text>
<text transform="translate(1217.43 1092.24) rotate(-22.5)" y="6">Sos2</text>
<text transform="translate(1226.89 1113.22) rotate(-25.77)" y="6">Prickle2</text>
<text transform="translate(1237.54 1133.62) rotate(-29.05)" y="6">Socs3</text>
<text transform="translate(1249.34 1153.39) rotate(-32.32)" y="6">Rhoa</text>
<text transform="translate(1262.26 1172.46) rotate(-35.59)" y="6">Skp1</text>
<text transform="translate(1276.26 1190.76) rotate(-38.86)" y="6">Socs2</text>
<text transform="translate(1291.28 1208.24) rotate(-42.14)" y="6">Gabarap</text>
<text transform="translate(1307.28 1224.84) rotate(-45.41)" y="6">Prkcg</text>
<text transform="translate(1324.21 1240.5) rotate(-48.68)" y="6">Tle4</text>
<text transform="translate(1342.01 1255.18) rotate(-51.96)" y="6">Agrn</text>
<text transform="translate(1360.63 1268.83) rotate(-55.23)" y="6">Klf2</text>
<text transform="translate(1380 1281.39) rotate(-58.5)" y="6">Homer1</text>
<text transform="translate(1400.05 1292.84) rotate(-61.77)" y="6">Bnip3</text>
<text transform="translate(1420.74 1303.13) rotate(-65.05)" y="6">Sgk1</text>
<text transform="translate(1441.98 1312.23) rotate(-68.32)" y="6">Plk3</text>
<text transform="translate(1463.71 1320.1) rotate(-71.59)" y="6">Jun</text>
<text transform="translate(1485.86 1326.74) rotate(-74.86)" y="6">Fos</text>
<text transform="translate(1508.35 1332.1) rotate(-78.14)" y="6">Sdc4</text>
<text transform="translate(1531.11 1336.19) rotate(-81.41)" y="6">Atf4</text>
<text transform="translate(1554.07 1338.97) rotate(-84.68)" y="6">Gadd45g</text>
<text transform="translate(1577.15 1340.44) rotate(-87.96)" y="6">Cdkn1a</text>
<text transform="translate(1600.28 1340.61) rotate(-91.23)" y="6">Gadd45b</text>
</g>
<g font-size="17.8" font-weight="bold" text-anchor="middle" fill="#111">
<text transform="translate(1719.86 586.08) rotate(19.9)" y="-5.3">Growth hormone synthesis,</text>
<text transform="translate(1719.86 586.08) rotate(19.9)" y="17.7">secretion and action</text>
<text transform="translate(1925.72 772.85) rotate(63.53)" y="6.3">ECM−receptor interaction</text>
<text transform="translate(1949.82 1042.41) rotate(-73.68)" y="6.3">FoxO signaling pathway</text>
<text transform="translate(1753.48 1266.25) rotate(-24.6)" y="6.3">Wnt signaling pathway</text>
</g>
<text x="1904.6" y="1299.8" font-size="20" font-weight="bold" text-anchor="middle" fill="#111">logFC</text>
<defs><linearGradient id="gE" x1="0" y1="0" x2="1" y2="0"><stop offset="0" stop-color="#3C4BB0"/><stop offset="0.12" stop-color="#4C58B4"/><stop offset="0.5" stop-color="#FFFFFF"/><stop offset="0.88" stop-color="#E0503F"/><stop offset="1" stop-color="#DF3B2D"/></linearGradient></defs>
<rect x="1843.9" y="1311.7" width="120.3" height="23.3" fill="url(#gE)"/>
<text x="1843.5" y="1355" font-size="10.5" font-weight="bold" text-anchor="middle" fill="#111">−3</text>
<text x="1963.5" y="1355" font-size="10.5" font-weight="bold" text-anchor="middle" fill="#111">3</text>
</g>
<g id="pF">
<text transform="translate(8.8 1354.4) scale(0.96 1.035)" font-size="48.3" font-weight="bold" fill="#231815">F</text>
<rect x="540.7" y="1341.8" width="107.8" height="30.6" fill="#D9D9D9" stroke="#333" stroke-width="1"/>
<rect x="540.7" y="1372.4" width="107.8" height="465.5" fill="#fff" stroke="#333" stroke-width="1"/>
<line x1="541.2" y1="1393.6" x2="648" y2="1393.6" stroke="#EBEBEB" stroke-width="1" />
<line x1="541.2" y1="1428.9" x2="648" y2="1428.9" stroke="#EBEBEB" stroke-width="1" />
<line x1="541.2" y1="1464.1" x2="648" y2="1464.1" stroke="#EBEBEB" stroke-width="1" />
<line x1="541.2" y1="1499.4" x2="648" y2="1499.4" stroke="#EBEBEB" stroke-width="1" />
<line x1="541.2" y1="1534.6" x2="648" y2="1534.6" stroke="#EBEBEB" stroke-width="1" />
<line x1="541.2" y1="1569.9" x2="648" y2="1569.9" stroke="#EBEBEB" stroke-width="1" />
<line x1="541.2" y1="1605.1" x2="648" y2="1605.1" stroke="#EBEBEB" stroke-width="1" />
<line x1="541.2" y1="1640.9" x2="648" y2="1640.9" stroke="#EBEBEB" stroke-width="1" />
<line x1="541.2" y1="1676.1" x2="648" y2="1676.1" stroke="#EBEBEB" stroke-width="1" />
<line x1="541.2" y1="1711.4" x2="648" y2="1711.4" stroke="#EBEBEB" stroke-width="1" />
<line x1="541.2" y1="1746.6" x2="648" y2="1746.6" stroke="#EBEBEB" stroke-width="1" />
<line x1="541.2" y1="1781.9" x2="648" y2="1781.9" stroke="#EBEBEB" stroke-width="1" />
<line x1="541.2" y1="1817.2" x2="648" y2="1817.2" stroke="#EBEBEB" stroke-width="1" />
<line x1="594.2" y1="1373" x2="594.2" y2="1837.4" stroke="#EBEBEB" stroke-width="1" />
<line x1="594.2" y1="1838" x2="594.2" y2="1841.5" stroke="#333" stroke-width="1" />
<text x="594.2" y="1365" font-size="19.5" text-anchor="middle" fill="#1a1a1a" letter-spacing="0.4">En-MSCs<tspan font-size="11.7" dy="-7.02">C/I</tspan></text>
<g transform="translate(607.7 1851.5) rotate(-70)">
<text x="0" y="0" font-size="20" font-weight="bold" text-anchor="end" fill="#111">Resting&amp;Interim</text>
<text x="0" y="22.5" font-size="20" font-weight="bold" text-anchor="end" fill="#111">Sublining</text>
</g>
<rect x="656.3" y="1341.8" width="108.3" height="30.6" fill="#D9D9D9" stroke="#333" stroke-width="1"/>
<rect x="656.3" y="1372.4" width="108.3" height="465.5" fill="#fff" stroke="#333" stroke-width="1"/>
<line x1="656.8" y1="1393.6" x2="764.1" y2="1393.6" stroke="#EBEBEB" stroke-width="1" />
<line x1="656.8" y1="1428.9" x2="764.1" y2="1428.9" stroke="#EBEBEB" stroke-width="1" />
<line x1="656.8" y1="1464.1" x2="764.1" y2="1464.1" stroke="#EBEBEB" stroke-width="1" />
<line x1="656.8" y1="1499.4" x2="764.1" y2="1499.4" stroke="#EBEBEB" stroke-width="1" />
<line x1="656.8" y1="1534.6" x2="764.1" y2="1534.6" stroke="#EBEBEB" stroke-width="1" />
<line x1="656.8" y1="1569.9" x2="764.1" y2="1569.9" stroke="#EBEBEB" stroke-width="1" />
<line x1="656.8" y1="1605.1" x2="764.1" y2="1605.1" stroke="#EBEBEB" stroke-width="1" />
<line x1="656.8" y1="1640.9" x2="764.1" y2="1640.9" stroke="#EBEBEB" stroke-width="1" />
<line x1="656.8" y1="1676.1" x2="764.1" y2="1676.1" stroke="#EBEBEB" stroke-width="1" />
<line x1="656.8" y1="1711.4" x2="764.1" y2="1711.4" stroke="#EBEBEB" stroke-width="1" />
<line x1="656.8" y1="1746.6" x2="764.1" y2="1746.6" stroke="#EBEBEB" stroke-width="1" />
<line x1="656.8" y1="1781.9" x2="764.1" y2="1781.9" stroke="#EBEBEB" stroke-width="1" />
<line x1="656.8" y1="1817.2" x2="764.1" y2="1817.2" stroke="#EBEBEB" stroke-width="1" />
<line x1="710.3" y1="1373" x2="710.3" y2="1837.4" stroke="#EBEBEB" stroke-width="1" />
<line x1="710.3" y1="1838" x2="710.3" y2="1841.5" stroke="#333" stroke-width="1" />
<text x="710.3" y="1364.5" font-size="19.5" text-anchor="middle" fill="#1a1a1a" letter-spacing="0.4">MSCs</text>
<g transform="translate(723.8 1851.5) rotate(-70)">
<text x="0" y="0" font-size="20" font-weight="bold" text-anchor="end" fill="#111">Resting&amp;Interim</text>
<text x="0" y="22.5" font-size="20" font-weight="bold" text-anchor="end" fill="#111">Sublining</text>
</g>
<text x="533" y="1400.6" font-size="20.15" font-weight="bold" text-anchor="end" fill="#111">Wnt signaling pathway</text>
<line x1="537.2" y1="1393.6" x2="540.7" y2="1393.6" stroke="#333" stroke-width="1" />
<text x="533" y="1435.9" font-size="20.15" font-weight="bold" text-anchor="end" fill="#111">negative regulation of Wnt signaling pathway</text>
<line x1="537.2" y1="1428.9" x2="540.7" y2="1428.9" stroke="#333" stroke-width="1" />
<text x="533" y="1471.1" font-size="20.15" font-weight="bold" text-anchor="end" fill="#111">mesenchymal cell proliferation</text>
<line x1="537.2" y1="1464.1" x2="540.7" y2="1464.1" stroke="#333" stroke-width="1" />
<text x="533" y="1506.4" font-size="20.15" font-weight="bold" text-anchor="end" fill="#111">stem cell differentiation</text>
<line x1="537.2" y1="1499.4" x2="540.7" y2="1499.4" stroke="#333" stroke-width="1" />
<text x="533" y="1541.6" font-size="20.15" font-weight="bold" text-anchor="end" fill="#111">ossification</text>
<line x1="537.2" y1="1534.6" x2="540.7" y2="1534.6" stroke="#333" stroke-width="1" />
<text x="533" y="1576.9" font-size="20.15" font-weight="bold" text-anchor="end" fill="#111">bone remodeling</text>
<line x1="537.2" y1="1569.9" x2="540.7" y2="1569.9" stroke="#333" stroke-width="1" />
<text x="533" y="1612.1" font-size="20.15" font-weight="bold" text-anchor="end" fill="#111">tissue remodeling</text>
<line x1="537.2" y1="1605.1" x2="540.7" y2="1605.1" stroke="#333" stroke-width="1" />
<text x="533" y="1647.9" font-size="20.15" font-weight="bold" text-anchor="end" fill="#111">tissue development</text>
<line x1="537.2" y1="1640.9" x2="540.7" y2="1640.9" stroke="#333" stroke-width="1" />
<text x="533" y="1683.1" font-size="20.15" font-weight="bold" text-anchor="end" fill="#111">insulin−like growth factor receptor signaling pathway</text>
<line x1="537.2" y1="1676.1" x2="540.7" y2="1676.1" stroke="#333" stroke-width="1" />
<text x="533" y="1718.4" font-size="20.15" font-weight="bold" text-anchor="end" fill="#111">response to growth factor</text>
<line x1="537.2" y1="1711.4" x2="540.7" y2="1711.4" stroke="#333" stroke-width="1" />
<text x="533" y="1753.6" font-size="20.15" font-weight="bold" text-anchor="end" fill="#111">positive regulation of cell differentiation</text>
<line x1="537.2" y1="1746.6" x2="540.7" y2="1746.6" stroke="#333" stroke-width="1" />
<text x="533" y="1788.9" font-size="20.15" font-weight="bold" text-anchor="end" fill="#111">cell differentiation</text>
<line x1="537.2" y1="1781.9" x2="540.7" y2="1781.9" stroke="#333" stroke-width="1" />
<text x="533" y="1824.2" font-size="20.15" font-weight="bold" text-anchor="end" fill="#111">regulation of cell differentiation</text>
<line x1="537.2" y1="1817.2" x2="540.7" y2="1817.2" stroke="#333" stroke-width="1" />
<circle cx="594.2" cy="1393.6" r="4.1" fill="#E8883A"/>
<circle cx="594.2" cy="1428.9" r="3.6" fill="#E6853B"/>
<circle cx="594.2" cy="1464.1" r="3.1" fill="#E9A043"/>
<circle cx="594.2" cy="1499.4" r="3.4" fill="#E8B040"/>
<circle cx="594.2" cy="1534.6" r="4.9" fill="#E6C84F"/>
<circle cx="594.2" cy="1569.9" r="3.4" fill="#E8893F"/>
<circle cx="594.2" cy="1605.1" r="3.9" fill="#E89A3F"/>
<circle cx="594.2" cy="1640.9" r="6.7" fill="#E89C3F"/>
<circle cx="594.2" cy="1676.1" r="3.1" fill="#E8A040"/>
<circle cx="594.2" cy="1711.4" r="5.2" fill="#E89C3F"/>
<circle cx="594.2" cy="1746.6" r="5.4" fill="#E5863B"/>
<circle cx="594.2" cy="1781.9" r="8" fill="#E9A13F"/>
<circle cx="594.2" cy="1817.2" r="6.2" fill="#E9A540"/>
<circle cx="710.3" cy="1393.6" r="1.6" fill="#E9F4F1"/>
<circle cx="710.3" cy="1428.9" r="1.6" fill="#E9F4F1"/>
<circle cx="710.3" cy="1464.1" r="1.6" fill="#E9F4F1"/>
<circle cx="710.3" cy="1499.4" r="1.6" fill="#E9F4F1"/>
<circle cx="710.3" cy="1534.6" r="1.6" fill="#E9F4F1"/>
<circle cx="710.3" cy="1569.9" r="1.6" fill="#E9F4F1"/>
<circle cx="710.3" cy="1605.1" r="1.6" fill="#E9F4F1"/>
<circle cx="710.3" cy="1640.9" r="7.8" fill="#D19BD5"/>
<circle cx="710.3" cy="1676.1" r="3.1" fill="#E8A040"/>
<circle cx="710.3" cy="1711.4" r="6.5" fill="#4B4391"/>
<circle cx="710.3" cy="1746.6" r="6.2" fill="#B98CCB"/>
<circle cx="710.3" cy="1781.9" r="9.8" fill="#DD9FDC"/>
<circle cx="710.3" cy="1817.2" r="7.3" fill="#C48FCF"/>
<text x="787" y="1514.6" font-size="10" fill="#111">setSize</text>
<circle cx="797.3" cy="1527.9" r="2" fill="#000"/>
<text x="812.9" y="1530.4" font-size="7" fill="#111">0</text>
<circle cx="797.3" cy="1539.8" r="5.5" fill="#000"/>
<text x="812.9" y="1542.3" font-size="7" fill="#111">100</text>
<circle cx="797.3" cy="1554.3" r="6.7" fill="#000"/>
<text x="812.9" y="1556.8" font-size="7" fill="#111">200</text>
<circle cx="797.3" cy="1571.4" r="7.8" fill="#000"/>
<text x="812.9" y="1573.9" font-size="7" fill="#111">300</text>
<circle cx="797.3" cy="1591.1" r="8.8" fill="#000"/>
<text x="812.9" y="1593.6" font-size="7" fill="#111">400</text>
<text x="787" y="1639" font-size="10" fill="#111">NES</text>
<defs><linearGradient id="gF" x1="0" y1="0" x2="0" y2="1"><stop offset="0" stop-color="#E5863B"/><stop offset="0.12" stop-color="#E6B347"/><stop offset="0.25" stop-color="#C9D65C"/><stop offset="0.36" stop-color="#8ED07F"/><stop offset="0.5" stop-color="#E4F3EE"/><stop offset="0.62" stop-color="#6FC5B4"/><stop offset="0.72" stop-color="#9BB8C8"/><stop offset="0.84" stop-color="#DDA0DC"/><stop offset="0.93" stop-color="#9C78C0"/><stop offset="1" stop-color="#4B4391"/></linearGradient></defs>
<rect x="787" y="1646" width="11.3" height="58" fill="url(#gF)"/>
<line x1="787" y1="1648" x2="789.3" y2="1648" stroke="#fff" stroke-width="0.5" />
<line x1="796" y1="1648" x2="798.3" y2="1648" stroke="#fff" stroke-width="0.5" />
<text x="803.5" y="1650.5" font-size="7" fill="#111">2</text>
<line x1="787" y1="1661.6" x2="789.3" y2="1661.6" stroke="#fff" stroke-width="0.5" />
<line x1="796" y1="1661.6" x2="798.3" y2="1661.6" stroke="#fff" stroke-width="0.5" />
<text x="803.5" y="1664.1" font-size="7" fill="#111">1</text>
<line x1="787" y1="1675.6" x2="789.3" y2="1675.6" stroke="#fff" stroke-width="0.5" />
<line x1="796" y1="1675.6" x2="798.3" y2="1675.6" stroke="#fff" stroke-width="0.5" />
<text x="803.5" y="1678.1" font-size="7" fill="#111">0</text>
<line x1="787" y1="1689.1" x2="789.3" y2="1689.1" stroke="#fff" stroke-width="0.5" />
<line x1="796" y1="1689.1" x2="798.3" y2="1689.1" stroke="#fff" stroke-width="0.5" />
<text x="803.5" y="1691.6" font-size="7" fill="#111">−1</text>
<line x1="787" y1="1703" x2="789.3" y2="1703" stroke="#fff" stroke-width="0.5" />
<line x1="796" y1="1703" x2="798.3" y2="1703" stroke="#fff" stroke-width="0.5" />
<text x="803.5" y="1705.5" font-size="7" fill="#111">−2</text>
</g>
<g id="pG">
<text transform="translate(899.1 1419.8) scale(0.99 1.035)" font-size="48.3" font-weight="bold" fill="#231815">G</text>
<clipPath id="cl952"><rect x="952.5" y="1451.2" width="468.1" height="260.2"/></clipPath>
<g clip-path="url(#cl952)">
<polyline points="952.5,1663.66 954.17,1637.27 956.85,1620.56 959.02,1610.15 961.19,1602.19 964.03,1600.72 966.87,1598.84 969.38,1591.55 971.88,1585.48 974.33,1579.84 976.78,1573.82 979.23,1567.1 981.79,1563.4 984.35,1561.48 986.92,1562.09 989,1562.42 991.09,1558.46 993.18,1557.09 995.27,1557.08 997.36,1555.39 999.45,1548.92 1001.53,1546.63 1003.62,1541.04 1005.71,1540.6 1007.8,1541.02 1009.89,1538.41 1011.97,1539.71 1014.31,1538.8 1016.65,1538.35 1018.99,1535.2 1021.33,1534.69 1023.67,1532.02 1025.9,1533.66 1028.12,1531.65 1030.35,1535.74 1032.58,1535.79 1034.81,1535.27 1037.03,1537.03 1039.26,1536.51 1041.49,1542.08 1043.72,1541.92 1045.94,1544.74 1048.17,1547.16 1050.4,1547.06 1052.4,1547.26 1054.41,1547.42 1056.41,1544.16 1058.42,1545.26 1060.42,1543.05 1062.65,1543.9 1064.88,1547.31 1067.1,1548.16 1069.33,1545.62 1071.56,1546.91 1073.79,1549.73 1076.01,1549.07 1078.24,1553.24 1080.47,1551.44 1082.7,1552.99 1084.92,1552.14 1087.15,1553.74 1089.38,1555.16 1091.6,1555.99 1093.83,1557.22 1096.06,1559.71 1098.29,1561.09 1100.51,1562.09 1102.6,1565.4 1104.69,1565.78 1106.78,1568.36 1108.87,1567.77 1111.37,1564.93 1113.88,1558.75 1116.22,1563.05 1118.56,1563.56 1120.9,1563.19 1123.23,1568.46 1125.57,1568.77 1127.91,1571.62 1130.25,1572 1132.59,1571.1 1134.93,1572.45 1137.27,1572.11 1139.27,1572.43 1141.28,1577.01 1143.28,1577.47 1145.29,1577.79 1147.29,1580.47 1149.52,1578.98 1151.75,1583.24 1153.97,1584.43 1156.2,1580.77 1158.43,1584.66 1160.65,1583.81 1162.66,1585.06 1164.66,1585.52 1166.67,1587.86 1168.67,1591.75 1170.68,1592.16 1172.68,1593.57 1174.69,1589.36 1176.69,1591.7 1178.7,1588.7 1180.7,1591.51 1182.71,1589.37 1184.71,1591.6 1186.72,1591.74 1188.72,1589.18 1190.73,1588.82 1193.06,1590.48 1195.4,1586.59 1197.74,1584.84 1200.08,1586.61 1202.42,1585.48 1204.51,1585.38 1206.6,1588.24 1208.68,1591.31 1210.77,1593.83 1212.78,1594.35 1214.78,1592.22 1216.79,1591.69 1218.79,1595.55 1220.8,1593.83 1222.8,1594.63 1224.8,1599.32 1226.81,1600.7 1228.81,1599.94 1230.82,1602.19 1232.82,1601 1234.83,1600.27 1236.83,1599.85 1238.84,1598.62 1240.84,1597.17 1243.07,1598.56 1245.3,1599.96 1247.52,1602.58 1249.75,1601.66 1251.98,1602.42 1254.21,1603.86 1256.21,1606.22 1258.22,1605.3 1260.22,1606.93 1262.23,1611.44 1264.23,1610.54 1266.46,1612.03 1268.68,1613.55 1270.91,1612.43 1273.14,1615.71 1275.37,1617.87 1277.59,1618.89 1279.6,1617.65 1281.6,1621.44 1283.61,1622.52 1285.61,1620.84 1287.62,1623.9 1289.62,1624.16 1291.63,1623.08 1293.63,1623.74 1295.64,1621.88 1297.64,1622.23 1299.98,1625.54 1302.32,1628.02 1304.66,1627.01 1307,1629.53 1309.34,1633.93 1311.84,1628.9 1314.35,1622.23 1316.57,1626.07 1318.8,1624.41 1321.03,1627.04 1323.26,1629.35 1325.48,1629.74 1327.71,1632.26 1330.05,1630.95 1332.39,1630.04 1334.73,1629.64 1337.07,1630.03 1339.41,1628.91 1341.74,1628.31 1344.08,1629.01 1346.42,1631.19 1348.76,1628.04 1351.1,1630.58 1353.33,1633.14 1355.55,1636.14 1357.78,1636.38 1360.01,1638.2 1362.24,1643.14 1364.46,1643.95 1366.47,1644.73 1368.47,1646.5 1370.48,1649.66 1372.48,1652.89 1374.49,1653.97 1377.83,1647.29 1379.83,1647.43 1381.84,1650.47 1383.84,1652.53 1385.85,1656.87 1387.85,1657.31 1389.94,1659.11 1392.03,1663.15 1394.12,1662.03 1396.2,1665.67 1398.43,1661 1400.66,1658.57 1402.89,1653.97 1404.97,1657.44 1407.06,1657.09 1409.15,1657.7 1411.24,1660.65 1414.58,1654.64 1416.59,1655.87 1418.59,1660.79 1420.59,1663.66" fill="none" stroke="#82C09A" stroke-width="2.1" stroke-linejoin="round"/>
<polyline points="952.5,1663.66 978.56,1689.72 979.57,1619.89 984.91,1624.57 985.91,1594.5 999.61,1608.53 1004.29,1528.68 1020.33,1544.38 1022,1522 1028.68,1529.35 1030.02,1507.63 1053.07,1530.02 1057.08,1494.6 1079.47,1515.98 1081.14,1482.57 1098.18,1499.28 1099.51,1484.24 1100.51,1486.25 1101.52,1470.21 1109.2,1477.9 1110.54,1462.86 1172.35,1522.67 1173.35,1508.97 1193.06,1528.01 1194.07,1516.32 1343.41,1656.65 1345.09,1633.93 1412.24,1700.75 1413.24,1655.64 1420.59,1663.66" fill="none" stroke="#DC3A3C" stroke-width="2.1" stroke-linejoin="round"/>
<polyline points="952.5,1663.66 978.56,1689.72 979.57,1662.33 984.91,1667.34 985.91,1605.53 999.61,1619.89 1001.95,1593.83 1004.29,1567.44 1020.33,1583.14 1022,1568.44 1028.68,1575.46 1030.02,1561.42 1047.06,1579.13 1048.73,1564.43 1053.07,1568.77 1057.08,1547.06 1079.47,1569.11 1081.14,1547.06 1089.49,1555.41 1091.16,1543.72 1097.17,1543.72 1099.51,1530.35 1100.51,1534.36 1104.52,1515.32 1109.2,1519.66 1110.54,1508.97 1127.91,1526.34 1128.91,1516.32 1172.35,1559.75 1173.35,1550.4 1181.37,1558.75 1183.04,1550.06 1193.06,1560.42 1194.07,1551.07 1229.82,1586.48 1230.82,1576.46 1243.51,1589.49 1244.85,1579.47 1265.9,1600.18 1266.9,1588.82 1332.05,1652.3 1333.06,1637.94 1343.41,1648.96 1345.09,1634.59 1352.77,1642.28 1354.11,1628.91 1412.24,1685.71 1413.24,1655.64 1420.59,1663.66" fill="none" stroke="#8F52A0" stroke-width="2.1" stroke-linejoin="round"/>
</g>
<line x1="952.5" y1="1663.7" x2="1420.6" y2="1663.7" stroke="#000" stroke-width="2" stroke-dasharray="10.5 6.5"/>
<rect x="975.9" y="1626.6" width="168.7" height="60.8" fill="#fafafa"/>
<rect x="975.9" y="1626.6" width="31.1" height="13.9" fill="#D9D9D9"/><text x="991.45" y="1637.26" font-size="10.3" font-weight="bold" text-anchor="middle" fill="#111">NES</text><rect x="1008.6" y="1626.6" width="44.4" height="13.9" fill="#D9D9D9"/><text x="1030.8" y="1637.26" font-size="10.3" font-weight="bold" text-anchor="middle" fill="#111">Pvalue</text><rect x="1054.6" y="1626.6" width="90.5" height="13.9" fill="#D9D9D9"/><text x="1099.85" y="1637.26" font-size="10.3" font-weight="bold" text-anchor="middle" fill="#111">Adjusted Pvalue</text><rect x="975.9" y="1642.1" width="31.1" height="13.9" fill="#F2F2F2"/><text x="991.45" y="1652.76" font-size="10.3" text-anchor="middle" fill="#111">1.91</text><rect x="1008.6" y="1642.1" width="44.4" height="13.9" fill="#F2F2F2"/><text x="1030.8" y="1652.76" font-size="10.3" text-anchor="middle" fill="#111">&lt; 0.001</text><rect x="1054.6" y="1642.1" width="90.5" height="13.9" fill="#F2F2F2"/><text x="1099.85" y="1652.76" font-size="10.3" text-anchor="middle" fill="#111">0.01</text><rect x="975.9" y="1657.6" width="31.1" height="13.9" fill="#E2E2E2"/><text x="991.45" y="1668.26" font-size="10.3" text-anchor="middle" fill="#111">1.77</text><rect x="1008.6" y="1657.6" width="44.4" height="13.9" fill="#E2E2E2"/><text x="1030.8" y="1668.26" font-size="10.3" text-anchor="middle" fill="#111">0.01</text><rect x="1054.6" y="1657.6" width="90.5" height="13.9" fill="#E2E2E2"/><text x="1099.85" y="1668.26" font-size="10.3" text-anchor="middle" fill="#111">0.05</text><rect x="975.9" y="1673.1" width="31.1" height="13.9" fill="#F2F2F2"/><text x="991.45" y="1683.76" font-size="10.3" text-anchor="middle" fill="#111">1.61</text><rect x="1008.6" y="1673.1" width="44.4" height="13.9" fill="#F2F2F2"/><text x="1030.8" y="1683.76" font-size="10.3" text-anchor="middle" fill="#111">0.04</text><rect x="1054.6" y="1673.1" width="90.5" height="13.9" fill="#F2F2F2"/><text x="1099.85" y="1683.76" font-size="10.3" text-anchor="middle" fill="#111">0.13</text>
<rect x="952.5" y="1451.2" width="468.1" height="260.2" fill="none" stroke="#333" stroke-width="1"/>
<line x1="949.2" y1="1490.3" x2="952.5" y2="1490.3" stroke="#333" stroke-width="1" />
<text x="946" y="1493.9" font-size="10.2" text-anchor="end" fill="#4D4D4D">0.4</text>
<line x1="949.2" y1="1533.7" x2="952.5" y2="1533.7" stroke="#333" stroke-width="1" />
<text x="946" y="1537.3" font-size="10.2" text-anchor="end" fill="#4D4D4D">0.3</text>
<line x1="949.2" y1="1577.1" x2="952.5" y2="1577.1" stroke="#333" stroke-width="1" />
<text x="946" y="1580.7" font-size="10.2" text-anchor="end" fill="#4D4D4D">0.2</text>
<line x1="949.2" y1="1620.2" x2="952.5" y2="1620.2" stroke="#333" stroke-width="1" />
<text x="946" y="1623.8" font-size="10.2" text-anchor="end" fill="#4D4D4D">0.1</text>
<line x1="949.2" y1="1663.7" x2="952.5" y2="1663.7" stroke="#333" stroke-width="1" />
<text x="946" y="1667.3" font-size="10.2" text-anchor="end" fill="#4D4D4D">0.0</text>
<line x1="949.2" y1="1706.8" x2="952.5" y2="1706.8" stroke="#333" stroke-width="1" />
<text x="946" y="1710.4" font-size="10.2" text-anchor="end" fill="#4D4D4D">−0.1</text>
<text x="917.2" y="1581.95" font-size="13.85" text-anchor="middle" fill="#111" transform="rotate(-90 917.2 1581.95)">Running Enrichment Score</text>
<line x1="1184.8" y1="1467.5" x2="1200.8" y2="1467.5" stroke="#82C09A" stroke-width="1.8" />
<text x="1210.8" y="1472.3" font-size="14" fill="#111" stroke="#111" stroke-width="0.25">Regulation Of Cell Differentiation</text>
<line x1="1184.8" y1="1487.6" x2="1200.8" y2="1487.6" stroke="#DC3A3C" stroke-width="1.8" />
<text x="1210.8" y="1492.4" font-size="14" fill="#111" stroke="#111" stroke-width="0.25">Osteoblast Differentiation</text>
<line x1="1184.8" y1="1507.6" x2="1200.8" y2="1507.6" stroke="#8F52A0" stroke-width="1.8" />
<text x="1210.8" y="1512.4" font-size="14" fill="#111" stroke="#111" stroke-width="0.25">Ossification</text>
<rect x="952.5" y="1716.1" width="468.1" height="51.5" fill="#fff"/>
<rect x="952.5" y="1751.8" width="8.26" height="15.8" fill="#A8473F"/><rect x="960.46" y="1751.8" width="85.96" height="15.8" fill="#B9676A"/><rect x="1046.12" y="1751.8" width="75.2" height="15.8" fill="#CB9196"/><rect x="1121.02" y="1751.8" width="54.13" height="15.8" fill="#DDBDC0"/><rect x="1174.85" y="1751.8" width="40.09" height="15.8" fill="#EFE3E4"/><rect x="1214.64" y="1751.8" width="68.17" height="15.8" fill="#E6ECF4"/><rect x="1282.51" y="1751.8" width="68.17" height="15.8" fill="#BFCFE4"/><rect x="1350.38" y="1751.8" width="37.75" height="15.8" fill="#9DB5D6"/><rect x="1387.83" y="1751.8" width="33.07" height="15.8" fill="#7795C6"/>
<path d="M954.17 1716.1V1751.8M955.51 1716.1V1751.8M957.51 1716.1V1751.8M959.52 1716.1V1751.8M961.19 1716.1V1751.8M963.53 1716.1V1751.8M965.53 1716.1V1751.8M967.54 1716.1V1751.8M969.54 1716.1V1751.8M971.88 1716.1V1751.8M973.55 1716.1V1751.8M975.22 1716.1V1751.8M976.89 1716.1V1751.8M978.9 1716.1V1751.8M980.23 1716.1V1751.8M984.24 1716.1V1751.8M986.25 1716.1V1751.8M990.26 1716.1V1751.8M992.93 1716.1V1751.8M995.27 1716.1V1751.8M997.61 1716.1V1751.8M999.61 1716.1V1751.8M1001.95 1716.1V1751.8M1004.29 1716.1V1751.8M1006.96 1716.1V1751.8M1009.63 1716.1V1751.8M1011.97 1716.1V1751.8M1014.31 1716.1V1751.8M1016.98 1716.1V1751.8M1020.33 1716.1V1751.8M1023.67 1716.1V1751.8M1028.68 1716.1V1751.8M1037.03 1716.1V1751.8M1047.06 1716.1V1751.8M1048.73 1716.1V1751.8M1051.06 1716.1V1751.8M1053.74 1716.1V1751.8M1057.08 1716.1V1751.8M1062.09 1716.1V1751.8M1067.1 1716.1V1751.8M1072.11 1716.1V1751.8M1077.13 1716.1V1751.8M1080.47 1716.1V1751.8M1089.82 1716.1V1751.8M1095.5 1716.1V1751.8M1100.51 1716.1V1751.8M1104.52 1716.1V1751.8M1109.2 1716.1V1751.8M1110.54 1716.1V1751.8M1113.88 1716.1V1751.8M1125.57 1716.1V1751.8M1133.93 1716.1V1751.8M1137.27 1716.1V1751.8M1140.61 1716.1V1751.8M1149.96 1716.1V1751.8M1157.31 1716.1V1751.8M1160.66 1716.1V1751.8M1170.68 1716.1V1751.8M1173.35 1716.1V1751.8M1175.69 1716.1V1751.8M1180.7 1716.1V1751.8M1185.71 1716.1V1751.8M1190.73 1716.1V1751.8M1195.74 1716.1V1751.8M1199.08 1716.1V1751.8M1202.42 1716.1V1751.8M1210.77 1716.1V1751.8M1214.11 1716.1V1751.8M1220.8 1716.1V1751.8M1230.82 1716.1V1751.8M1239.17 1716.1V1751.8M1240.84 1716.1V1751.8M1254.21 1716.1V1751.8M1264.23 1716.1V1751.8M1265.9 1716.1V1751.8M1275.93 1716.1V1751.8M1284.28 1716.1V1751.8M1289.29 1716.1V1751.8M1294.3 1716.1V1751.8M1299.31 1716.1V1751.8M1307.67 1716.1V1751.8M1310.01 1716.1V1751.8M1312.01 1716.1V1751.8M1314.35 1716.1V1751.8M1327.72 1716.1V1751.8M1331.06 1716.1V1751.8M1334.4 1716.1V1751.8M1339.41 1716.1V1751.8M1346.09 1716.1V1751.8M1354.44 1716.1V1751.8M1376.16 1716.1V1751.8M1394.54 1716.1V1751.8M1397.88 1716.1V1751.8M1402.89 1716.1V1751.8M1412.92 1716.1V1751.8" stroke="#82C09A" stroke-width="1.1" fill="none"/>
<g opacity="0.35"><path d="M954.17 1751.8V1767.6M955.51 1751.8V1767.6M957.51 1751.8V1767.6M959.52 1751.8V1767.6M961.19 1751.8V1767.6M963.53 1751.8V1767.6M965.53 1751.8V1767.6M967.54 1751.8V1767.6M969.54 1751.8V1767.6M971.88 1751.8V1767.6M973.55 1751.8V1767.6M975.22 1751.8V1767.6M976.89 1751.8V1767.6M978.9 1751.8V1767.6M980.23 1751.8V1767.6M984.24 1751.8V1767.6M986.25 1751.8V1767.6M990.26 1751.8V1767.6M992.93 1751.8V1767.6M995.27 1751.8V1767.6M997.61 1751.8V1767.6M999.61 1751.8V1767.6M1001.95 1751.8V1767.6M1004.29 1751.8V1767.6M1006.96 1751.8V1767.6M1009.63 1751.8V1767.6M1011.97 1751.8V1767.6M1014.31 1751.8V1767.6M1016.98 1751.8V1767.6M1020.33 1751.8V1767.6M1023.67 1751.8V1767.6M1028.68 1751.8V1767.6M1037.03 1751.8V1767.6M1047.06 1751.8V1767.6M1048.73 1751.8V1767.6M1051.06 1751.8V1767.6M1053.74 1751.8V1767.6M1057.08 1751.8V1767.6M1062.09 1751.8V1767.6M1067.1 1751.8V1767.6M1072.11 1751.8V1767.6M1077.13 1751.8V1767.6M1080.47 1751.8V1767.6M1089.82 1751.8V1767.6M1095.5 1751.8V1767.6M1100.51 1751.8V1767.6M1104.52 1751.8V1767.6M1109.2 1751.8V1767.6M1110.54 1751.8V1767.6M1113.88 1751.8V1767.6M1125.57 1751.8V1767.6M1133.93 1751.8V1767.6M1137.27 1751.8V1767.6M1140.61 1751.8V1767.6M1149.96 1751.8V1767.6M1157.31 1751.8V1767.6M1160.66 1751.8V1767.6M1170.68 1751.8V1767.6M1173.35 1751.8V1767.6M1175.69 1751.8V1767.6M1180.7 1751.8V1767.6M1185.71 1751.8V1767.6M1190.73 1751.8V1767.6M1195.74 1751.8V1767.6M1199.08 1751.8V1767.6M1202.42 1751.8V1767.6M1210.77 1751.8V1767.6M1214.11 1751.8V1767.6M1220.8 1751.8V1767.6M1230.82 1751.8V1767.6M1239.17 1751.8V1767.6M1240.84 1751.8V1767.6M1254.21 1751.8V1767.6M1264.23 1751.8V1767.6M1265.9 1751.8V1767.6M1275.93 1751.8V1767.6M1284.28 1751.8V1767.6M1289.29 1751.8V1767.6M1294.3 1751.8V1767.6M1299.31 1751.8V1767.6M1307.67 1751.8V1767.6M1310.01 1751.8V1767.6M1312.01 1751.8V1767.6M1314.35 1751.8V1767.6M1327.72 1751.8V1767.6M1331.06 1751.8V1767.6M1334.4 1751.8V1767.6M1339.41 1751.8V1767.6M1346.09 1751.8V1767.6M1354.44 1751.8V1767.6M1376.16 1751.8V1767.6M1394.54 1751.8V1767.6M1397.88 1751.8V1767.6M1402.89 1751.8V1767.6M1412.92 1751.8V1767.6" stroke="#82C09A" stroke-width="1.1" fill="none"/></g>
<rect x="952.5" y="1716.1" width="468.1" height="51.5" fill="none" stroke="#333" stroke-width="1"/>
<rect x="952.5" y="1771.2" width="468.1" height="51.5" fill="#fff"/>
<rect x="952.5" y="1807.2" width="8.26" height="15.5" fill="#A8473F"/><rect x="960.46" y="1807.2" width="219.37" height="15.5" fill="#B9676A"/><rect x="1179.53" y="1807.2" width="83.15" height="15.5" fill="#CB9196"/><rect x="1262.38" y="1807.2" width="11.53" height="15.5" fill="#DDBDC0"/><rect x="1273.62" y="1807.2" width="41.96" height="15.5" fill="#EFE3E4"/><rect x="1315.28" y="1807.2" width="28.39" height="15.5" fill="#E6ECF4"/><rect x="1343.36" y="1807.2" width="28.39" height="15.5" fill="#BFCFE4"/><rect x="1371.45" y="1807.2" width="22.3" height="15.5" fill="#7795C6"/><rect x="1393.45" y="1807.2" width="27.45" height="15.5" fill="#5877B5"/>
<path d="M979.56 1771.2V1807.2M985.91 1771.2V1807.2M999.61 1771.2V1807.2M1001.95 1771.2V1807.2M1004.29 1771.2V1807.2M1022 1771.2V1807.2M1030.02 1771.2V1807.2M1053.07 1771.2V1807.2M1057.08 1771.2V1807.2M1081.14 1771.2V1807.2M1098.18 1771.2V1807.2M1101.52 1771.2V1807.2M1110.54 1771.2V1807.2M1173.35 1771.2V1807.2M1194.07 1771.2V1807.2M1345.09 1771.2V1807.2M1413.25 1771.2V1807.2" stroke="#DC3A3C" stroke-width="1.1" fill="none"/>
<g opacity="0.35"><path d="M979.56 1807.2V1822.7M985.91 1807.2V1822.7M999.61 1807.2V1822.7M1001.95 1807.2V1822.7M1004.29 1807.2V1822.7M1022 1807.2V1822.7M1030.02 1807.2V1822.7M1053.07 1807.2V1822.7M1057.08 1807.2V1822.7M1081.14 1807.2V1822.7M1098.18 1807.2V1822.7M1101.52 1807.2V1822.7M1110.54 1807.2V1822.7M1173.35 1807.2V1822.7M1194.07 1807.2V1822.7M1345.09 1807.2V1822.7M1413.25 1807.2V1822.7" stroke="#DC3A3C" stroke-width="1.1" fill="none"/></g>
<rect x="952.5" y="1771.2" width="468.1" height="51.5" fill="none" stroke="#333" stroke-width="1"/>
<rect x="952.5" y="1826.7" width="468.1" height="51.1" fill="#fff"/>
<rect x="952.5" y="1862.3" width="8.26" height="15.5" fill="#A8473F"/><rect x="960.46" y="1862.3" width="80.35" height="15.5" fill="#B9676A"/><rect x="1040.5" y="1862.3" width="139.33" height="15.5" fill="#CB9196"/><rect x="1179.53" y="1862.3" width="83.15" height="15.5" fill="#DDBDC0"/><rect x="1262.38" y="1862.3" width="18.09" height="15.5" fill="#EFE3E4"/><rect x="1280.17" y="1862.3" width="13.41" height="15.5" fill="#E6ECF4"/><rect x="1293.28" y="1862.3" width="50.39" height="15.5" fill="#BFCFE4"/><rect x="1343.36" y="1862.3" width="28.39" height="15.5" fill="#9DB5D6"/><rect x="1371.45" y="1862.3" width="22.3" height="15.5" fill="#7795C6"/><rect x="1393.45" y="1862.3" width="27.45" height="15.5" fill="#5877B5"/>
<path d="M979.56 1826.7V1862.3M983.57 1826.7V1862.3M985.91 1826.7V1862.3M999.61 1826.7V1862.3M1001.95 1826.7V1862.3M1004.29 1826.7V1862.3M1022 1826.7V1862.3M1030.02 1826.7V1862.3M1048.73 1826.7V1862.3M1053.07 1826.7V1862.3M1057.08 1826.7V1862.3M1081.14 1826.7V1862.3M1091.16 1826.7V1862.3M1097.17 1826.7V1862.3M1099.51 1826.7V1862.3M1104.52 1826.7V1862.3M1110.54 1826.7V1862.3M1128.91 1826.7V1862.3M1173.35 1826.7V1862.3M1183.04 1826.7V1862.3M1194.07 1826.7V1862.3M1230.82 1826.7V1862.3M1244.85 1826.7V1862.3M1266.91 1826.7V1862.3M1333.06 1826.7V1862.3M1345.09 1826.7V1862.3M1354.11 1826.7V1862.3M1413.25 1826.7V1862.3" stroke="#8F52A0" stroke-width="1.1" fill="none"/>
<g opacity="0.35"><path d="M979.56 1862.3V1877.8M983.57 1862.3V1877.8M985.91 1862.3V1877.8M999.61 1862.3V1877.8M1001.95 1862.3V1877.8M1004.29 1862.3V1877.8M1022 1862.3V1877.8M1030.02 1862.3V1877.8M1048.73 1862.3V1877.8M1053.07 1862.3V1877.8M1057.08 1862.3V1877.8M1081.14 1862.3V1877.8M1091.16 1862.3V1877.8M1097.17 1862.3V1877.8M1099.51 1862.3V1877.8M1104.52 1862.3V1877.8M1110.54 1862.3V1877.8M1128.91 1862.3V1877.8M1173.35 1862.3V1877.8M1183.04 1862.3V1877.8M1194.07 1862.3V1877.8M1230.82 1862.3V1877.8M1244.85 1862.3V1877.8M1266.91 1862.3V1877.8M1333.06 1862.3V1877.8M1345.09 1862.3V1877.8M1354.11 1862.3V1877.8M1413.25 1862.3V1877.8" stroke="#8F52A0" stroke-width="1.1" fill="none"/></g>
<rect x="952.5" y="1826.7" width="468.1" height="51.1" fill="none" stroke="#333" stroke-width="1"/>
<text x="952.5" y="1898.3" font-size="20.5" font-weight="bold" fill="#D7302F">En-MSCs<tspan font-size="12.3" dy="-7.38">C/I</tspan></text>
<text x="1186.55" y="1897.8" font-size="16" text-anchor="middle" fill="#111">Rank in Ordered Dataset</text>
<text x="1421.1" y="1898.3" font-size="20.5" font-weight="bold" text-anchor="end" fill="#3A6DB5">MSCs</text>
<clipPath id="cl1519"><rect x="1519.4" y="1449.4" width="467.4" height="260.3"/></clipPath>
<g clip-path="url(#cl1519)">
<polyline points="1519.35,1666.45 1520.65,1625.16 1522.58,1592.9 1525.48,1575.16 1531.29,1591.29 1532.58,1555.81 1542.58,1562.26 1543.87,1530 1551.29,1538.06 1552.58,1510 1569.03,1525.16 1570.65,1478.39 1586.77,1493.55 1588.06,1473.55 1595.48,1480.65 1596.77,1461.29 1630.32,1493.55 1631.94,1476.77 1633.23,1477.42 1634.52,1463.87 1673.87,1500 1674.84,1485.81 1703.55,1513.87 1704.84,1501.29 1725.48,1520.97 1726.77,1509.03 1783.55,1562.26 1784.84,1548.39 1802.58,1565.48 1803.87,1552.58 1818.39,1566.45 1819.68,1552.58 1978.71,1698.71 1979.68,1660.65 1986.77,1666.45" fill="none" stroke="#82C09A" stroke-width="2.1" stroke-linejoin="round"/>
<polyline points="1519.35,1666.45 1521.29,1626.77 1523.23,1610.65 1524.52,1578.39 1526.45,1580 1527.74,1568.71 1530.32,1573.55 1532.26,1551.94 1536.77,1556.77 1540,1560.65 1543.87,1546.77 1548.06,1553.23 1552.9,1539.03 1556.13,1545.16 1559.35,1531.61 1563.06,1535.52 1566.77,1539.68 1569.03,1526.77 1572.9,1512.26 1577.1,1518.71 1581.29,1510.65 1584.52,1516.45 1587.74,1510.65 1591.61,1507.42 1594.84,1511.34 1598.06,1516.04 1601.29,1518.71 1604.52,1521.44 1607.74,1524.38 1610.97,1527.4 1614.19,1530 1617.42,1524.83 1620.65,1521.29 1623.87,1524.87 1627.1,1528.39 1630.97,1517.1 1634.68,1519.85 1638.39,1521.94 1642.42,1525.92 1646.45,1528.39 1649.68,1528.31 1652.9,1529.82 1656.13,1530.23 1659.35,1532.26 1662.58,1534.51 1665.81,1535.66 1669.03,1535.43 1672.26,1538.06 1675.81,1534.79 1679.35,1529.03 1682.42,1531.52 1685.48,1532.01 1688.55,1533.2 1691.61,1534.19 1694.84,1533.44 1698.06,1533.2 1701.29,1534.65 1704.52,1533.57 1707.74,1534.84 1710.97,1537.27 1714.19,1540.62 1717.42,1544.52 1720.65,1544.92 1723.87,1547.65 1727.1,1549.2 1730.32,1550.97 1733.55,1553.79 1736.77,1554.89 1740,1556.77 1743.23,1557.89 1746.45,1558.28 1749.68,1559.03 1752.9,1559.85 1756.13,1559.73 1759.35,1559.67 1762.58,1560.65 1765.81,1563.22 1769.03,1564.51 1772.26,1565.39 1775.48,1566.34 1778.71,1567.1 1781.94,1569.04 1785.16,1571.24 1788.39,1573.81 1791.61,1576.77 1794.84,1578.12 1798.06,1582.36 1801.29,1583.87 1804.52,1587.48 1807.74,1589.03 1810.97,1590.48 1814.19,1593.7 1817.42,1595.15 1820.65,1594.71 1823.87,1597.74 1827.9,1593.77 1831.94,1591.29 1835.16,1596.11 1838.39,1598.74 1841.61,1602.58 1844.84,1600.59 1848.06,1596.13 1852.9,1604.19 1857.74,1596.13 1861.51,1598.01 1865.27,1599.33 1869.03,1602.58 1872.8,1606.68 1876.56,1610.83 1880.32,1613.87 1884.09,1616.5 1887.85,1619.26 1891.61,1623.55 1895.65,1625.54 1899.68,1628.39 1903.87,1617.1 1907.1,1621.52 1910.32,1623.55 1914.19,1617.1 1917.42,1621.29 1921.29,1618.06 1925.48,1622.58 1928.71,1619.68 1931.94,1623.78 1935.16,1625.57 1938.39,1630 1942.58,1621.29 1945.53,1623.65 1948.47,1626.28 1951.42,1629.19 1954.37,1634.1 1957.31,1635.51 1960.26,1639.51 1963.2,1642.23 1966.15,1644.58 1969.1,1648.99 1972.04,1650.45 1974.99,1654.78 1977.94,1656.43 1980.88,1660.23 1983.83,1662.7 1986.77,1666.45" fill="none" stroke="#DC3A3C" stroke-width="2.1" stroke-linejoin="round"/>
<polyline points="1519.35,1666.45 1520.32,1605.81 1521.94,1519.68 1526.45,1524.19 1527.74,1478.39 1557.42,1506.77 1558.71,1480 1572.26,1493.55 1573.87,1469.68 1628.06,1520.32 1629.35,1503.23 1678.71,1550 1680,1535.81 1722.58,1575.81 1723.87,1563.55 1738.39,1577.42 1739.68,1565.48 1740.65,1566.45 1741.61,1554.84 1751.94,1564.84 1753.23,1551.94 1765.81,1564.52 1767.1,1551.61 1806.77,1588.71 1808.06,1574.52 1829.35,1595.16 1830.65,1580 1840.97,1590.32 1842.26,1574.52 1898.06,1627.74 1899.68,1609.35 1939.03,1646.13 1940.32,1624.19 1986.77,1666.45" fill="none" stroke="#8F52A0" stroke-width="2.1" stroke-linejoin="round"/>
</g>
<line x1="1519.4" y1="1666.5" x2="1986.8" y2="1666.5" stroke="#000" stroke-width="2" stroke-dasharray="10.5 6.5"/>
<rect x="1542.6" y="1624.2" width="168.4" height="61.6" fill="#fafafa"/>
<rect x="1542.6" y="1624.2" width="30.6" height="14.2" fill="#D9D9D9"/><text x="1557.9" y="1635.01" font-size="10.3" font-weight="bold" text-anchor="middle" fill="#111">NES</text><rect x="1574.8" y="1624.2" width="43.9" height="14.2" fill="#D9D9D9"/><text x="1596.75" y="1635.01" font-size="10.3" font-weight="bold" text-anchor="middle" fill="#111">Pvalue</text><rect x="1620.3" y="1624.2" width="90.7" height="14.2" fill="#D9D9D9"/><text x="1665.65" y="1635.01" font-size="10.3" font-weight="bold" text-anchor="middle" fill="#111">Adjusted Pvalue</text><rect x="1542.6" y="1640" width="30.6" height="14.2" fill="#F2F2F2"/><text x="1557.9" y="1650.81" font-size="10.3" text-anchor="middle" fill="#111">1.82</text><rect x="1574.8" y="1640" width="43.9" height="14.2" fill="#F2F2F2"/><text x="1596.75" y="1650.81" font-size="10.3" text-anchor="middle" fill="#111">0.01</text><rect x="1620.3" y="1640" width="90.7" height="14.2" fill="#F2F2F2"/><text x="1665.65" y="1650.81" font-size="10.3" text-anchor="middle" fill="#111">0.06</text><rect x="1542.6" y="1655.8" width="30.6" height="14.2" fill="#E2E2E2"/><text x="1557.9" y="1666.61" font-size="10.3" text-anchor="middle" fill="#111">2.19</text><rect x="1574.8" y="1655.8" width="43.9" height="14.2" fill="#E2E2E2"/><text x="1596.75" y="1666.61" font-size="10.3" text-anchor="middle" fill="#111">&lt; 0.001</text><rect x="1620.3" y="1655.8" width="90.7" height="14.2" fill="#E2E2E2"/><text x="1665.65" y="1666.61" font-size="10.3" text-anchor="middle" fill="#111">0.00</text><rect x="1542.6" y="1671.6" width="30.6" height="14.2" fill="#F2F2F2"/><text x="1557.9" y="1682.41" font-size="10.3" text-anchor="middle" fill="#111">1.75</text><rect x="1574.8" y="1671.6" width="43.9" height="14.2" fill="#F2F2F2"/><text x="1596.75" y="1682.41" font-size="10.3" text-anchor="middle" fill="#111">0.02</text><rect x="1620.3" y="1671.6" width="90.7" height="14.2" fill="#F2F2F2"/><text x="1665.65" y="1682.41" font-size="10.3" text-anchor="middle" fill="#111">0.09</text>
<rect x="1519.4" y="1449.4" width="467.4" height="260.3" fill="none" stroke="#333" stroke-width="1"/>
<line x1="1516.1" y1="1457.1" x2="1519.4" y2="1457.1" stroke="#333" stroke-width="1" />
<text x="1512.8" y="1460.7" font-size="10.2" text-anchor="end" fill="#4D4D4D">0.5</text>
<line x1="1516.1" y1="1499" x2="1519.4" y2="1499" stroke="#333" stroke-width="1" />
<text x="1512.8" y="1502.6" font-size="10.2" text-anchor="end" fill="#4D4D4D">0.4</text>
<line x1="1516.1" y1="1540.6" x2="1519.4" y2="1540.6" stroke="#333" stroke-width="1" />
<text x="1512.8" y="1544.2" font-size="10.2" text-anchor="end" fill="#4D4D4D">0.3</text>
<line x1="1516.1" y1="1582.6" x2="1519.4" y2="1582.6" stroke="#333" stroke-width="1" />
<text x="1512.8" y="1586.2" font-size="10.2" text-anchor="end" fill="#4D4D4D">0.2</text>
<line x1="1516.1" y1="1624.5" x2="1519.4" y2="1624.5" stroke="#333" stroke-width="1" />
<text x="1512.8" y="1628.1" font-size="10.2" text-anchor="end" fill="#4D4D4D">0.1</text>
<line x1="1516.1" y1="1666.5" x2="1519.4" y2="1666.5" stroke="#333" stroke-width="1" />
<text x="1512.8" y="1670.1" font-size="10.2" text-anchor="end" fill="#4D4D4D">0.0</text>
<line x1="1516.1" y1="1708.4" x2="1519.4" y2="1708.4" stroke="#333" stroke-width="1" />
<text x="1512.8" y="1712" font-size="10.2" text-anchor="end" fill="#4D4D4D">−0.1</text>
<text x="1482.8" y="1582.45" font-size="13.85" text-anchor="middle" fill="#111" transform="rotate(-90 1482.8 1582.45)">Running Enrichment Score</text>
<line x1="1750.1" y1="1464.5" x2="1766.1" y2="1464.5" stroke="#82C09A" stroke-width="1.8" />
<text x="1776.1" y="1469.3" font-size="14" fill="#111" stroke="#111" stroke-width="0.25">Wnt Signaling Pathway</text>
<line x1="1750.1" y1="1484.5" x2="1766.1" y2="1484.5" stroke="#DC3A3C" stroke-width="1.8" />
<text x="1776.1" y="1489.3" font-size="14" fill="#111" stroke="#111" stroke-width="0.25">Response To Growth Factor</text>
<line x1="1750.1" y1="1505.8" x2="1766.1" y2="1505.8" stroke="#8F52A0" stroke-width="1.8" />
<text x="1776.1" y="1510.6" font-size="14" fill="#111" stroke="#111" stroke-width="0.25">Transforming Growth Factor Beta</text>
<text x="1776.1" y="1527.1" font-size="14" fill="#111" stroke="#111" stroke-width="0.25">Receptor Signaling Pathway</text>
<rect x="1519.4" y="1714.5" width="467.4" height="50.7" fill="#fff"/>
<rect x="1519.4" y="1750" width="8.25" height="15.2" fill="#A8473F"/><rect x="1527.35" y="1750" width="174.64" height="15.2" fill="#B9676A"/><rect x="1701.69" y="1750" width="78.36" height="15.2" fill="#CB9196"/><rect x="1779.74" y="1750" width="52.18" height="15.2" fill="#DDBDC0"/><rect x="1831.62" y="1750" width="43.3" height="15.2" fill="#EFE3E4"/><rect x="1874.62" y="1750" width="43.3" height="15.2" fill="#E6ECF4"/><rect x="1917.62" y="1750" width="18.06" height="15.2" fill="#BFCFE4"/><rect x="1935.39" y="1750" width="26.94" height="15.2" fill="#9DB5D6"/><rect x="1962.03" y="1750" width="25.07" height="15.2" fill="#7795C6"/>
<path d="M1531.66 1714.5V1750M1543.59 1714.5V1750M1552.62 1714.5V1750M1570.69 1714.5V1750M1588.11 1714.5V1750M1596.49 1714.5V1750M1631.98 1714.5V1750M1634.56 1714.5V1750M1674.55 1714.5V1750M1704.55 1714.5V1750M1726.49 1714.5V1750M1784.55 1714.5V1750M1803.58 1714.5V1750M1819.39 1714.5V1750M1979.06 1714.5V1750" stroke="#82C09A" stroke-width="1.1" fill="none"/>
<g opacity="0.35"><path d="M1531.66 1750V1765.2M1543.59 1750V1765.2M1552.62 1750V1765.2M1570.69 1750V1765.2M1588.11 1750V1765.2M1596.49 1750V1765.2M1631.98 1750V1765.2M1634.56 1750V1765.2M1674.55 1750V1765.2M1704.55 1750V1765.2M1726.49 1750V1765.2M1784.55 1750V1765.2M1803.58 1750V1765.2M1819.39 1750V1765.2M1979.06 1750V1765.2" stroke="#82C09A" stroke-width="1.1" fill="none"/></g>
<rect x="1519.4" y="1714.5" width="467.4" height="50.7" fill="none" stroke="#333" stroke-width="1"/>
<rect x="1519.4" y="1769.4" width="467.4" height="51.2" fill="#fff"/>
<rect x="1519.4" y="1805.5" width="44.7" height="15.1" fill="#A8473F"/><rect x="1563.8" y="1805.5" width="61.06" height="15.1" fill="#B9676A"/><rect x="1624.57" y="1805.5" width="72.75" height="15.1" fill="#CB9196"/><rect x="1697.01" y="1805.5" width="58.72" height="15.1" fill="#DDBDC0"/><rect x="1755.44" y="1805.5" width="65.74" height="15.1" fill="#EFE3E4"/><rect x="1820.87" y="1805.5" width="49.38" height="15.1" fill="#E6ECF4"/><rect x="1869.95" y="1805.5" width="55.45" height="15.1" fill="#BFCFE4"/><rect x="1925.1" y="1805.5" width="30.21" height="15.1" fill="#9DB5D6"/><rect x="1955.02" y="1805.5" width="32.08" height="15.1" fill="#7795C6"/>
<path d="M1520.69 1769.4V1805.5M1521.98 1769.4V1805.5M1523.59 1769.4V1805.5M1525.21 1769.4V1805.5M1527.14 1769.4V1805.5M1529.72 1769.4V1805.5M1532.3 1769.4V1805.5M1536.82 1769.4V1805.5M1540.04 1769.4V1805.5M1543.92 1769.4V1805.5M1549.72 1769.4V1805.5M1551.66 1769.4V1805.5M1553.59 1769.4V1805.5M1558.11 1769.4V1805.5M1560.04 1769.4V1805.5M1567.79 1769.4V1805.5M1569.72 1769.4V1805.5M1571.33 1769.4V1805.5M1572.95 1769.4V1805.5M1577.14 1769.4V1805.5M1581.33 1769.4V1805.5M1584.56 1769.4V1805.5M1589.07 1769.4V1805.5M1591.01 1769.4V1805.5M1614.23 1769.4V1805.5M1620.69 1769.4V1805.5M1627.14 1769.4V1805.5M1628.75 1769.4V1805.5M1631.01 1769.4V1805.5M1636.81 1769.4V1805.5M1646.49 1769.4V1805.5M1651.33 1769.4V1805.5M1659.39 1769.4V1805.5M1665.85 1769.4V1805.5M1674.88 1769.4V1805.5M1677.14 1769.4V1805.5M1679.39 1769.4V1805.5M1686.81 1769.4V1805.5M1691.65 1769.4V1805.5M1698.1 1769.4V1805.5M1707.78 1769.4V1805.5M1710.36 1769.4V1805.5M1717.46 1769.4V1805.5M1723.91 1769.4V1805.5M1738.42 1769.4V1805.5M1741.65 1769.4V1805.5M1749.07 1769.4V1805.5M1752.94 1769.4V1805.5M1762.62 1769.4V1805.5M1765.84 1769.4V1805.5M1778.74 1769.4V1805.5M1792.29 1769.4V1805.5M1807.78 1769.4V1805.5M1823.9 1769.4V1805.5M1830.35 1769.4V1805.5M1841.64 1769.4V1805.5M1852.93 1769.4V1805.5M1855.52 1769.4V1805.5M1857.77 1769.4V1805.5M1865.19 1769.4V1805.5M1899.71 1769.4V1805.5M1903.26 1769.4V1805.5M1910.35 1769.4V1805.5M1914.22 1769.4V1805.5M1920.03 1769.4V1805.5M1928.09 1769.4V1805.5M1939.38 1769.4V1805.5M1942.29 1769.4V1805.5" stroke="#DC3A3C" stroke-width="1.1" fill="none"/>
<g opacity="0.35"><path d="M1520.69 1805.5V1820.6M1521.98 1805.5V1820.6M1523.59 1805.5V1820.6M1525.21 1805.5V1820.6M1527.14 1805.5V1820.6M1529.72 1805.5V1820.6M1532.3 1805.5V1820.6M1536.82 1805.5V1820.6M1540.04 1805.5V1820.6M1543.92 1805.5V1820.6M1549.72 1805.5V1820.6M1551.66 1805.5V1820.6M1553.59 1805.5V1820.6M1558.11 1805.5V1820.6M1560.04 1805.5V1820.6M1567.79 1805.5V1820.6M1569.72 1805.5V1820.6M1571.33 1805.5V1820.6M1572.95 1805.5V1820.6M1577.14 1805.5V1820.6M1581.33 1805.5V1820.6M1584.56 1805.5V1820.6M1589.07 1805.5V1820.6M1591.01 1805.5V1820.6M1614.23 1805.5V1820.6M1620.69 1805.5V1820.6M1627.14 1805.5V1820.6M1628.75 1805.5V1820.6M1631.01 1805.5V1820.6M1636.81 1805.5V1820.6M1646.49 1805.5V1820.6M1651.33 1805.5V1820.6M1659.39 1805.5V1820.6M1665.85 1805.5V1820.6M1674.88 1805.5V1820.6M1677.14 1805.5V1820.6M1679.39 1805.5V1820.6M1686.81 1805.5V1820.6M1691.65 1805.5V1820.6M1698.1 1805.5V1820.6M1707.78 1805.5V1820.6M1710.36 1805.5V1820.6M1717.46 1805.5V1820.6M1723.91 1805.5V1820.6M1738.42 1805.5V1820.6M1741.65 1805.5V1820.6M1749.07 1805.5V1820.6M1752.94 1805.5V1820.6M1762.62 1805.5V1820.6M1765.84 1805.5V1820.6M1778.74 1805.5V1820.6M1792.29 1805.5V1820.6M1807.78 1805.5V1820.6M1823.9 1805.5V1820.6M1830.35 1805.5V1820.6M1841.64 1805.5V1820.6M1852.93 1805.5V1820.6M1855.52 1805.5V1820.6M1857.77 1805.5V1820.6M1865.19 1805.5V1820.6M1899.71 1805.5V1820.6M1903.26 1805.5V1820.6M1910.35 1805.5V1820.6M1914.22 1805.5V1820.6M1920.03 1805.5V1820.6M1928.09 1805.5V1820.6M1939.38 1805.5V1820.6M1942.29 1805.5V1820.6" stroke="#DC3A3C" stroke-width="1.1" fill="none"/></g>
<rect x="1519.4" y="1769.4" width="467.4" height="51.2" fill="none" stroke="#333" stroke-width="1"/>
<rect x="1519.4" y="1824.5" width="467.4" height="51.3" fill="#fff"/>
<rect x="1519.4" y="1860.5" width="47.04" height="15.3" fill="#A8473F"/><rect x="1566.14" y="1860.5" width="98.45" height="15.3" fill="#B9676A"/><rect x="1664.29" y="1860.5" width="34.42" height="15.3" fill="#CB9196"/><rect x="1698.41" y="1860.5" width="54.99" height="15.3" fill="#DDBDC0"/><rect x="1753.1" y="1860.5" width="14.32" height="15.3" fill="#EFE3E4"/><rect x="1767.12" y="1860.5" width="58.72" height="15.3" fill="#E6ECF4"/><rect x="1825.55" y="1860.5" width="106.87" height="15.3" fill="#BFCFE4"/><rect x="1932.11" y="1860.5" width="47.04" height="15.3" fill="#9DB5D6"/><rect x="1978.85" y="1860.5" width="8.25" height="15.3" fill="#7795C6"/>
<path d="M1520.37 1824.5V1860.5M1521.98 1824.5V1860.5M1558.75 1824.5V1860.5M1573.59 1824.5V1860.5M1629.4 1824.5V1860.5M1679.72 1824.5V1860.5M1723.59 1824.5V1860.5M1739.39 1824.5V1860.5M1741.65 1824.5V1860.5M1752.94 1824.5V1860.5M1766.81 1824.5V1860.5M1807.78 1824.5V1860.5M1830.35 1824.5V1860.5M1842.29 1824.5V1860.5M1899.38 1824.5V1860.5M1940.03 1824.5V1860.5" stroke="#8F52A0" stroke-width="1.1" fill="none"/>
<g opacity="0.35"><path d="M1520.37 1860.5V1875.8M1521.98 1860.5V1875.8M1558.75 1860.5V1875.8M1573.59 1860.5V1875.8M1629.4 1860.5V1875.8M1679.72 1860.5V1875.8M1723.59 1860.5V1875.8M1739.39 1860.5V1875.8M1741.65 1860.5V1875.8M1752.94 1860.5V1875.8M1766.81 1860.5V1875.8M1807.78 1860.5V1875.8M1830.35 1860.5V1875.8M1842.29 1860.5V1875.8M1899.38 1860.5V1875.8M1940.03 1860.5V1875.8" stroke="#8F52A0" stroke-width="1.1" fill="none"/></g>
<rect x="1519.4" y="1824.5" width="467.4" height="51.3" fill="none" stroke="#333" stroke-width="1"/>
<text x="1519.4" y="1896.3" font-size="20.5" font-weight="bold" fill="#D7302F">En-MSCs<tspan font-size="12.3" dy="-7.38">C/I</tspan></text>
<text x="1753.1" y="1895.8" font-size="16" text-anchor="middle" fill="#111">Rank in Ordered Dataset</text>
<text x="1987.3" y="1896.3" font-size="20.5" font-weight="bold" text-anchor="end" fill="#3A6DB5">MSCs</text>
</g>
<g id="pH">
<text transform="translate(-0.3 2024.8) scale(0.98 1.035)" font-size="45" font-weight="bold" fill="#231815">H</text>
<rect x="96" y="2158.77" width="32" height="163.93" fill="#E97E91"/>
<line x1="160.4" y1="2270.24" x2="160.4" y2="2236.63" stroke="#7F80E1" stroke-width="1.3" />
<line x1="152.72" y1="2236.63" x2="168.08" y2="2236.63" stroke="#7F80E1" stroke-width="1.3" />
<rect x="144.4" y="2270.24" width="32" height="52.46" fill="#7F80E1"/>
<line x1="208.7" y1="2196.47" x2="208.7" y2="2151.39" stroke="#84D7DD" stroke-width="1.3" />
<line x1="201.02" y1="2151.39" x2="216.38" y2="2151.39" stroke="#84D7DD" stroke-width="1.3" />
<rect x="192.7" y="2196.47" width="32" height="126.23" fill="#84D7DD"/>
<line x1="256.7" y1="2285" x2="256.7" y2="2269.42" stroke="#CCAE68" stroke-width="1.3" />
<line x1="249.02" y1="2269.42" x2="264.38" y2="2269.42" stroke="#CCAE68" stroke-width="1.3" />
<rect x="240.7" y="2285" width="32" height="37.7" fill="#CCAE68"/>
<path d="M80 2075.1V2322.7H290.3" fill="none" stroke="#000" stroke-width="3.4"/>
<line x1="67.5" y1="2076.8" x2="80.5" y2="2076.8" stroke="#000" stroke-width="3.4" />
<text x="63" y="2082.7" font-size="16.8" font-weight="bold" text-anchor="end" fill="#111">1.5</text>
<line x1="67.5" y1="2158.77" x2="80.5" y2="2158.77" stroke="#000" stroke-width="3.4" />
<text x="63" y="2164.67" font-size="16.8" font-weight="bold" text-anchor="end" fill="#111">1.0</text>
<line x1="67.5" y1="2240.73" x2="80.5" y2="2240.73" stroke="#000" stroke-width="3.4" />
<text x="63" y="2246.63" font-size="16.8" font-weight="bold" text-anchor="end" fill="#111">0.5</text>
<line x1="67.5" y1="2322.7" x2="80.5" y2="2322.7" stroke="#000" stroke-width="3.4" />
<text x="63" y="2328.6" font-size="16.8" font-weight="bold" text-anchor="end" fill="#111">0.0</text>
<line x1="112" y1="2322.7" x2="112" y2="2336.9" stroke="#000" stroke-width="3.4" />
<text x="128.5" y="2353.2" font-size="19" font-weight="bold" text-anchor="end" fill="#111" transform="rotate(-45 128.5 2353.2)">WT</text>
<line x1="160.4" y1="2322.7" x2="160.4" y2="2336.9" stroke="#000" stroke-width="3.4" />
<text x="169.7" y="2353.2" font-size="19" font-weight="bold" text-anchor="end" fill="#111" transform="rotate(-45 169.7 2353.2)">Model</text>
<line x1="208.7" y1="2322.7" x2="208.7" y2="2336.9" stroke="#000" stroke-width="3.4" />
<text x="211.2" y="2353.2" font-size="19" font-weight="bold" text-anchor="end" fill="#111" transform="rotate(-45 211.2 2353.2)">En-MSCs<tspan font-size="11.4" dy="-6.84">C/I</tspan></text>
<line x1="256.7" y1="2322.7" x2="256.7" y2="2336.9" stroke="#000" stroke-width="3.4" />
<text x="253.9" y="2353.2" font-size="19" font-weight="bold" text-anchor="end" fill="#111" transform="rotate(-45 253.9 2353.2)">MSCs</text>
<circle cx="99.4" cy="2158.77" r="3.1" fill="#E97E91" stroke="#111" stroke-width="1.4"/>
<circle cx="107.8" cy="2158.77" r="3.1" fill="#E97E91" stroke="#111" stroke-width="1.4"/>
<circle cx="116.2" cy="2158.77" r="3.1" fill="#E97E91" stroke="#111" stroke-width="1.4"/>
<circle cx="124.6" cy="2158.77" r="3.1" fill="#E97E91" stroke="#111" stroke-width="1.4"/>
<rect x="144.9" y="2246.75" width="6" height="6" fill="#7F80E1" stroke="#111" stroke-width="1.4"/>
<rect x="157.9" y="2253.31" width="6" height="6" fill="#7F80E1" stroke="#111" stroke-width="1.4"/>
<rect x="170.4" y="2251.67" width="6" height="6" fill="#7F80E1" stroke="#111" stroke-width="1.4"/>
<rect x="157.4" y="2318.06" width="6" height="6" fill="#7F80E1" stroke="#111" stroke-width="1.4"/>
<path d="M208.7 2134.67L212 2140.98L205.4 2140.98Z" fill="#84D7DD" stroke="#111" stroke-width="1.4"/>
<path d="M208.7 2192.87L212 2199.17L205.4 2199.17Z" fill="#84D7DD" stroke="#111" stroke-width="1.4"/>
<path d="M208.7 2203.53L212 2209.83L205.4 2209.83Z" fill="#84D7DD" stroke="#111" stroke-width="1.4"/>
<path d="M208.7 2242.87L212 2249.17L205.4 2249.17Z" fill="#84D7DD" stroke="#111" stroke-width="1.4"/>
<path d="M256.7 2270.56L260 2264.26L253.4 2264.26Z" fill="#CCAE68" stroke="#111" stroke-width="1.4"/>
<path d="M256.7 2279.58L260 2273.28L253.4 2273.28Z" fill="#CCAE68" stroke="#111" stroke-width="1.4"/>
<path d="M243.7 2302.53L247 2296.23L240.4 2296.23Z" fill="#CCAE68" stroke="#111" stroke-width="1.4"/>
<path d="M269.7 2301.71L273 2295.41L266.4 2295.41Z" fill="#CCAE68" stroke="#111" stroke-width="1.4"/>
<path d="M99.9 2125.2V2115.4H140V2125.2" fill="none" stroke="#000" stroke-width="2.9"/>
<text x="119.95" y="2117.2" font-size="25.8" font-weight="bold" text-anchor="middle" fill="#111">***</text>
<path d="M145.5 2125.2V2115.4H185.2V2125.2" fill="none" stroke="#000" stroke-width="2.9"/>
<text x="165.35" y="2117.2" font-size="25.8" font-weight="bold" text-anchor="middle" fill="#111">*</text>
<path d="M193.3 2125.2V2115.4H232.7V2125.2" fill="none" stroke="#000" stroke-width="2.9"/>
<text x="213" y="2117.2" font-size="25.8" font-weight="bold" text-anchor="middle" fill="#111">**</text>
<text x="27.5" y="2193.75" font-size="19.5" text-anchor="middle" fill="#111" transform="rotate(-90 27.5 2193.75)" stroke="#111" stroke-width="0.5">IGF1</text>
<rect x="408.5" y="2199.75" width="26.2" height="122.95" fill="#E97E91"/>
<line x1="460.7" y1="2250.77" x2="460.7" y2="2197.29" stroke="#7F80E1" stroke-width="1.3" />
<line x1="454.41" y1="2197.29" x2="466.99" y2="2197.29" stroke="#7F80E1" stroke-width="1.3" />
<rect x="447.6" y="2250.77" width="26.2" height="71.93" fill="#7F80E1"/>
<line x1="499.8" y1="2149.34" x2="499.8" y2="2133.97" stroke="#84D7DD" stroke-width="1.3" />
<line x1="493.51" y1="2133.97" x2="506.09" y2="2133.97" stroke="#84D7DD" stroke-width="1.3" />
<rect x="486.7" y="2149.34" width="26.2" height="173.36" fill="#84D7DD"/>
<line x1="538.9" y1="2242.17" x2="538.9" y2="2221.27" stroke="#CCAE68" stroke-width="1.3" />
<line x1="532.61" y1="2221.27" x2="545.19" y2="2221.27" stroke="#CCAE68" stroke-width="1.3" />
<rect x="525.8" y="2242.17" width="26.2" height="80.53" fill="#CCAE68"/>
<path d="M395.7 2075.1V2322.7H566.5" fill="none" stroke="#000" stroke-width="3.4"/>
<line x1="383.2" y1="2076.8" x2="396.2" y2="2076.8" stroke="#000" stroke-width="3.4" />
<text x="378.7" y="2082.7" font-size="16.8" font-weight="bold" text-anchor="end" fill="#111">2.0</text>
<line x1="383.2" y1="2138.28" x2="396.2" y2="2138.28" stroke="#000" stroke-width="3.4" />
<text x="378.7" y="2144.18" font-size="16.8" font-weight="bold" text-anchor="end" fill="#111">1.5</text>
<line x1="383.2" y1="2199.75" x2="396.2" y2="2199.75" stroke="#000" stroke-width="3.4" />
<text x="378.7" y="2205.65" font-size="16.8" font-weight="bold" text-anchor="end" fill="#111">1.0</text>
<line x1="383.2" y1="2261.22" x2="396.2" y2="2261.22" stroke="#000" stroke-width="3.4" />
<text x="378.7" y="2267.12" font-size="16.8" font-weight="bold" text-anchor="end" fill="#111">0.5</text>
<line x1="383.2" y1="2322.7" x2="396.2" y2="2322.7" stroke="#000" stroke-width="3.4" />
<text x="378.7" y="2328.6" font-size="16.8" font-weight="bold" text-anchor="end" fill="#111">0.0</text>
<line x1="421.6" y1="2322.7" x2="421.6" y2="2336.9" stroke="#000" stroke-width="3.4" />
<text x="428.1" y="2353.2" font-size="19" font-weight="bold" text-anchor="end" fill="#111" transform="rotate(-45 428.1 2353.2)">WT</text>
<line x1="460.7" y1="2322.7" x2="460.7" y2="2336.9" stroke="#000" stroke-width="3.4" />
<text x="463.2" y="2353.2" font-size="19" font-weight="bold" text-anchor="end" fill="#111" transform="rotate(-45 463.2 2353.2)">Model</text>
<line x1="499.8" y1="2322.7" x2="499.8" y2="2336.9" stroke="#000" stroke-width="3.4" />
<text x="502.3" y="2353.2" font-size="19" font-weight="bold" text-anchor="end" fill="#111" transform="rotate(-45 502.3 2353.2)">En-MSCs<tspan font-size="11.4" dy="-6.84">C/I</tspan></text>
<line x1="538.9" y1="2322.7" x2="538.9" y2="2336.9" stroke="#000" stroke-width="3.4" />
<text x="545.4" y="2353.2" font-size="19" font-weight="bold" text-anchor="end" fill="#111" transform="rotate(-45 545.4 2353.2)">MSCs</text>
<circle cx="411" cy="2199.75" r="3.1" fill="#E97E91" stroke="#111" stroke-width="1.4"/>
<circle cx="418.05" cy="2199.75" r="3.1" fill="#E97E91" stroke="#111" stroke-width="1.4"/>
<circle cx="425.15" cy="2199.75" r="3.1" fill="#E97E91" stroke="#111" stroke-width="1.4"/>
<circle cx="432.2" cy="2199.75" r="3.1" fill="#E97E91" stroke="#111" stroke-width="1.4"/>
<rect x="457.7" y="2192.45" width="6" height="6" fill="#7F80E1" stroke="#111" stroke-width="1.4"/>
<rect x="457.7" y="2221.95" width="6" height="6" fill="#7F80E1" stroke="#111" stroke-width="1.4"/>
<rect x="457.7" y="2263.76" width="6" height="6" fill="#7F80E1" stroke="#111" stroke-width="1.4"/>
<rect x="457.7" y="2316.01" width="6" height="6" fill="#7F80E1" stroke="#111" stroke-width="1.4"/>
<path d="M499.8 2132.22L503.1 2138.52L496.5 2138.52Z" fill="#84D7DD" stroke="#111" stroke-width="1.4"/>
<path d="M499.8 2138.98L503.1 2145.28L496.5 2145.28Z" fill="#84D7DD" stroke="#111" stroke-width="1.4"/>
<path d="M499.8 2146.36L503.1 2152.66L496.5 2152.66Z" fill="#84D7DD" stroke="#111" stroke-width="1.4"/>
<path d="M499.8 2167.87L503.1 2174.17L496.5 2174.17Z" fill="#84D7DD" stroke="#111" stroke-width="1.4"/>
<path d="M538.9 2219.33L542.2 2213.03L535.6 2213.03Z" fill="#CCAE68" stroke="#111" stroke-width="1.4"/>
<path d="M538.9 2243.31L542.2 2237.01L535.6 2237.01Z" fill="#CCAE68" stroke="#111" stroke-width="1.4"/>
<path d="M538.9 2253.14L542.2 2246.84L535.6 2246.84Z" fill="#CCAE68" stroke="#111" stroke-width="1.4"/>
<path d="M538.9 2270.97L542.2 2264.67L535.6 2264.67Z" fill="#CCAE68" stroke="#111" stroke-width="1.4"/>
<path d="M460.3 2128.8V2119H500.2V2128.8" fill="none" stroke="#000" stroke-width="2.9"/>
<text x="480.25" y="2122.3" font-size="25.8" font-weight="bold" text-anchor="middle" fill="#111">**</text>
<path d="M506.3 2128.8V2119H545.7V2128.8" fill="none" stroke="#000" stroke-width="2.9"/>
<text x="526" y="2122.3" font-size="25.8" font-weight="bold" text-anchor="middle" fill="#111">**</text>
<text x="346.5" y="2193.75" font-size="19.5" text-anchor="middle" fill="#111" transform="rotate(-90 346.5 2193.75)" stroke="#111" stroke-width="0.5">GAS6</text>
<rect x="695.6" y="2199.75" width="26.2" height="122.95" fill="#E97E91"/>
<line x1="747.8" y1="2256.31" x2="747.8" y2="2223.73" stroke="#7F80E1" stroke-width="1.3" />
<line x1="741.51" y1="2223.73" x2="754.09" y2="2223.73" stroke="#7F80E1" stroke-width="1.3" />
<rect x="734.7" y="2256.31" width="26.2" height="66.39" fill="#7F80E1"/>
<line x1="786.9" y1="2145.65" x2="786.9" y2="2110" stroke="#84D7DD" stroke-width="1.3" />
<line x1="780.61" y1="2110" x2="793.19" y2="2110" stroke="#84D7DD" stroke-width="1.3" />
<rect x="773.8" y="2145.65" width="26.2" height="177.05" fill="#84D7DD"/>
<line x1="826" y1="2285.82" x2="826" y2="2282.13" stroke="#CCAE68" stroke-width="1.3" />
<line x1="819.71" y1="2282.13" x2="832.29" y2="2282.13" stroke="#CCAE68" stroke-width="1.3" />
<rect x="812.9" y="2285.82" width="26.2" height="36.88" fill="#CCAE68"/>
<path d="M682 2075.1V2322.7H854" fill="none" stroke="#000" stroke-width="3.4"/>
<line x1="669.5" y1="2076.8" x2="682.5" y2="2076.8" stroke="#000" stroke-width="3.4" />
<text x="665" y="2082.7" font-size="16.8" font-weight="bold" text-anchor="end" fill="#111">2.0</text>
<line x1="669.5" y1="2138.28" x2="682.5" y2="2138.28" stroke="#000" stroke-width="3.4" />
<text x="665" y="2144.18" font-size="16.8" font-weight="bold" text-anchor="end" fill="#111">1.5</text>
<line x1="669.5" y1="2199.75" x2="682.5" y2="2199.75" stroke="#000" stroke-width="3.4" />
<text x="665" y="2205.65" font-size="16.8" font-weight="bold" text-anchor="end" fill="#111">1.0</text>
<line x1="669.5" y1="2261.22" x2="682.5" y2="2261.22" stroke="#000" stroke-width="3.4" />
<text x="665" y="2267.12" font-size="16.8" font-weight="bold" text-anchor="end" fill="#111">0.5</text>
<line x1="669.5" y1="2322.7" x2="682.5" y2="2322.7" stroke="#000" stroke-width="3.4" />
<text x="665" y="2328.6" font-size="16.8" font-weight="bold" text-anchor="end" fill="#111">0.0</text>
<line x1="708.7" y1="2322.7" x2="708.7" y2="2336.9" stroke="#000" stroke-width="3.4" />
<text x="713.2" y="2353.2" font-size="19" font-weight="bold" text-anchor="end" fill="#111" transform="rotate(-45 713.2 2353.2)">WT</text>
<line x1="747.8" y1="2322.7" x2="747.8" y2="2336.9" stroke="#000" stroke-width="3.4" />
<text x="750.3" y="2353.2" font-size="19" font-weight="bold" text-anchor="end" fill="#111" transform="rotate(-45 750.3 2353.2)">Model</text>
<line x1="786.9" y1="2322.7" x2="786.9" y2="2336.9" stroke="#000" stroke-width="3.4" />
<text x="793.4" y="2353.2" font-size="19" font-weight="bold" text-anchor="end" fill="#111" transform="rotate(-45 793.4 2353.2)">En-MSCs<tspan font-size="11.4" dy="-6.84">C/I</tspan></text>
<line x1="826" y1="2322.7" x2="826" y2="2336.9" stroke="#000" stroke-width="3.4" />
<text x="828.5" y="2353.2" font-size="19" font-weight="bold" text-anchor="end" fill="#111" transform="rotate(-45 828.5 2353.2)">MSCs</text>
<circle cx="698.1" cy="2199.75" r="3.1" fill="#E97E91" stroke="#111" stroke-width="1.4"/>
<circle cx="705.15" cy="2199.75" r="3.1" fill="#E97E91" stroke="#111" stroke-width="1.4"/>
<circle cx="712.25" cy="2199.75" r="3.1" fill="#E97E91" stroke="#111" stroke-width="1.4"/>
<circle cx="719.3" cy="2199.75" r="3.1" fill="#E97E91" stroke="#111" stroke-width="1.4"/>
<rect x="734.8" y="2225.03" width="6" height="6" fill="#7F80E1" stroke="#111" stroke-width="1.4"/>
<rect x="744.8" y="2224.41" width="6" height="6" fill="#7F80E1" stroke="#111" stroke-width="1.4"/>
<rect x="734.8" y="2282.82" width="6" height="6" fill="#7F80E1" stroke="#111" stroke-width="1.4"/>
<rect x="754.8" y="2280.36" width="6" height="6" fill="#7F80E1" stroke="#111" stroke-width="1.4"/>
<path d="M786.9 2097.18L790.2 2103.48L783.6 2103.48Z" fill="#84D7DD" stroke="#111" stroke-width="1.4"/>
<path d="M786.9 2130.99L790.2 2137.29L783.6 2137.29Z" fill="#84D7DD" stroke="#111" stroke-width="1.4"/>
<path d="M786.9 2166.03L790.2 2172.33L783.6 2172.33Z" fill="#84D7DD" stroke="#111" stroke-width="1.4"/>
<path d="M786.9 2177.09L790.2 2183.39L783.6 2183.39Z" fill="#84D7DD" stroke="#111" stroke-width="1.4"/>
<path d="M816 2285.11L819.3 2278.81L812.7 2278.81Z" fill="#CCAE68" stroke="#111" stroke-width="1.4"/>
<path d="M816 2294.33L819.3 2288.03L812.7 2288.03Z" fill="#CCAE68" stroke="#111" stroke-width="1.4"/>
<path d="M826 2291.26L829.3 2284.96L822.7 2284.96Z" fill="#CCAE68" stroke="#111" stroke-width="1.4"/>
<path d="M836 2291.26L839.3 2284.96L832.7 2284.96Z" fill="#CCAE68" stroke="#111" stroke-width="1.4"/>
<path d="M701.9 2094.1V2084.3H742.8V2094.1" fill="none" stroke="#000" stroke-width="2.9"/>
<text x="722.35" y="2089.6" font-size="25.8" font-weight="bold" text-anchor="middle" fill="#111">*</text>
<path d="M747.5 2094.1V2084.3H788.4V2094.1" fill="none" stroke="#000" stroke-width="2.9"/>
<text x="767.95" y="2089.6" font-size="25.8" font-weight="bold" text-anchor="middle" fill="#111">***</text>
<path d="M793 2094.1V2084.3H832.8V2094.1" fill="none" stroke="#000" stroke-width="2.9"/>
<text x="812.9" y="2089.6" font-size="25.8" font-weight="bold" text-anchor="middle" fill="#111">****</text>
<text x="627.5" y="2193.75" font-size="19.5" text-anchor="middle" fill="#111" transform="rotate(-90 627.5 2193.75)" stroke="#111" stroke-width="0.5">FGF</text>
<rect x="968.5" y="2273.52" width="26.2" height="49.18" fill="#E97E91"/>
<line x1="1020.8" y1="2303.03" x2="1020.8" y2="2298.11" stroke="#7F80E1" stroke-width="1.3" />
<line x1="1014.51" y1="2298.11" x2="1027.09" y2="2298.11" stroke="#7F80E1" stroke-width="1.3" />
<rect x="1007.7" y="2303.03" width="26.2" height="19.67" fill="#7F80E1"/>
<line x1="1059.9" y1="2145.16" x2="1059.9" y2="2101.88" stroke="#84D7DD" stroke-width="1.3" />
<line x1="1053.61" y1="2101.88" x2="1066.19" y2="2101.88" stroke="#84D7DD" stroke-width="1.3" />
<rect x="1046.8" y="2145.16" width="26.2" height="177.54" fill="#84D7DD"/>
<line x1="1099" y1="2255.82" x2="1099" y2="2239.09" stroke="#CCAE68" stroke-width="1.3" />
<line x1="1092.71" y1="2239.09" x2="1105.29" y2="2239.09" stroke="#CCAE68" stroke-width="1.3" />
<rect x="1085.9" y="2255.82" width="26.2" height="66.88" fill="#CCAE68"/>
<path d="M955 2075.1V2322.7H1126.2" fill="none" stroke="#000" stroke-width="3.4"/>
<line x1="942.5" y1="2076.8" x2="955.5" y2="2076.8" stroke="#000" stroke-width="3.4" />
<text x="938" y="2082.7" font-size="16.8" font-weight="bold" text-anchor="end" fill="#111">5</text>
<line x1="942.5" y1="2125.98" x2="955.5" y2="2125.98" stroke="#000" stroke-width="3.4" />
<text x="938" y="2131.88" font-size="16.8" font-weight="bold" text-anchor="end" fill="#111">4</text>
<line x1="942.5" y1="2175.16" x2="955.5" y2="2175.16" stroke="#000" stroke-width="3.4" />
<text x="938" y="2181.06" font-size="16.8" font-weight="bold" text-anchor="end" fill="#111">3</text>
<line x1="942.5" y1="2224.34" x2="955.5" y2="2224.34" stroke="#000" stroke-width="3.4" />
<text x="938" y="2230.24" font-size="16.8" font-weight="bold" text-anchor="end" fill="#111">2</text>
<line x1="942.5" y1="2273.52" x2="955.5" y2="2273.52" stroke="#000" stroke-width="3.4" />
<text x="938" y="2279.42" font-size="16.8" font-weight="bold" text-anchor="end" fill="#111">1</text>
<line x1="942.5" y1="2322.7" x2="955.5" y2="2322.7" stroke="#000" stroke-width="3.4" />
<text x="938" y="2328.6" font-size="16.8" font-weight="bold" text-anchor="end" fill="#111">0</text>
<line x1="981.6" y1="2322.7" x2="981.6" y2="2336.9" stroke="#000" stroke-width="3.4" />
<text x="987.1" y="2353.2" font-size="19" font-weight="bold" text-anchor="end" fill="#111" transform="rotate(-45 987.1 2353.2)">WT</text>
<line x1="1020.8" y1="2322.7" x2="1020.8" y2="2336.9" stroke="#000" stroke-width="3.4" />
<text x="1024.3" y="2353.2" font-size="19" font-weight="bold" text-anchor="end" fill="#111" transform="rotate(-45 1024.3 2353.2)">Model</text>
<line x1="1059.9" y1="2322.7" x2="1059.9" y2="2336.9" stroke="#000" stroke-width="3.4" />
<text x="1066.4" y="2353.2" font-size="19" font-weight="bold" text-anchor="end" fill="#111" transform="rotate(-45 1066.4 2353.2)">En-MSCs<tspan font-size="11.4" dy="-6.84">C/I</tspan></text>
<line x1="1099" y1="2322.7" x2="1099" y2="2336.9" stroke="#000" stroke-width="3.4" />
<text x="1102.5" y="2353.2" font-size="19" font-weight="bold" text-anchor="end" fill="#111" transform="rotate(-45 1102.5 2353.2)">MSCs</text>
<circle cx="971" cy="2273.52" r="3.1" fill="#E97E91" stroke="#111" stroke-width="1.4"/>
<circle cx="978.05" cy="2273.52" r="3.1" fill="#E97E91" stroke="#111" stroke-width="1.4"/>
<circle cx="985.15" cy="2273.52" r="3.1" fill="#E97E91" stroke="#111" stroke-width="1.4"/>
<circle cx="992.2" cy="2273.52" r="3.1" fill="#E97E91" stroke="#111" stroke-width="1.4"/>
<rect x="1007.8" y="2300.03" width="6" height="6" fill="#7F80E1" stroke="#111" stroke-width="1.4"/>
<rect x="1018.3" y="2297.08" width="6" height="6" fill="#7F80E1" stroke="#111" stroke-width="1.4"/>
<rect x="1028.3" y="2300.03" width="6" height="6" fill="#7F80E1" stroke="#111" stroke-width="1.4"/>
<rect x="1017.8" y="2315.27" width="6" height="6" fill="#7F80E1" stroke="#111" stroke-width="1.4"/>
<path d="M1050.4 2105.66L1053.7 2111.96L1047.1 2111.96Z" fill="#84D7DD" stroke="#111" stroke-width="1.4"/>
<path d="M1060.4 2105.17L1063.7 2111.47L1057.1 2111.47Z" fill="#84D7DD" stroke="#111" stroke-width="1.4"/>
<path d="M1060.4 2164.67L1063.7 2170.97L1057.1 2170.97Z" fill="#84D7DD" stroke="#111" stroke-width="1.4"/>
<path d="M1060.4 2190.74L1063.7 2197.04L1057.1 2197.04Z" fill="#84D7DD" stroke="#111" stroke-width="1.4"/>
<path d="M1099 2236.3L1102.3 2230L1095.7 2230Z" fill="#CCAE68" stroke="#111" stroke-width="1.4"/>
<path d="M1099 2259.42L1102.3 2253.12L1095.7 2253.12Z" fill="#CCAE68" stroke="#111" stroke-width="1.4"/>
<path d="M1099 2268.76L1102.3 2262.46L1095.7 2262.46Z" fill="#CCAE68" stroke="#111" stroke-width="1.4"/>
<path d="M1099 2278.1L1102.3 2271.8L1095.7 2271.8Z" fill="#CCAE68" stroke="#111" stroke-width="1.4"/>
<path d="M1020.9 2063.9V2054.1H1108.6V2063.9" fill="none" stroke="#000" stroke-width="2.9"/>
<text x="1064.75" y="2057.4" font-size="25.8" font-weight="bold" text-anchor="middle" fill="#111">***</text>
<path d="M1020.9 2094.1V2084.3H1061.4V2094.1" fill="none" stroke="#000" stroke-width="2.9"/>
<text x="1041.15" y="2087.6" font-size="25.8" font-weight="bold" text-anchor="middle" fill="#111">****</text>
<path d="M1068 2094.1V2084.3H1108.6V2094.1" fill="none" stroke="#000" stroke-width="2.9"/>
<text x="1088.3" y="2087.6" font-size="25.8" font-weight="bold" text-anchor="middle" fill="#111">*</text>
<text x="910" y="2193.75" font-size="19.5" text-anchor="middle" fill="#111" transform="rotate(-90 910 2193.75)" stroke="#111" stroke-width="0.5">COMP</text>
<rect x="1254.8" y="2199.75" width="26.2" height="122.95" fill="#E97E91"/>
<line x1="1307" y1="2263.68" x2="1307" y2="2226.8" stroke="#7F80E1" stroke-width="1.3" />
<line x1="1300.71" y1="2226.8" x2="1313.29" y2="2226.8" stroke="#7F80E1" stroke-width="1.3" />
<rect x="1293.9" y="2263.68" width="26.2" height="59.02" fill="#7F80E1"/>
<line x1="1346.1" y1="2155.49" x2="1346.1" y2="2112.46" stroke="#84D7DD" stroke-width="1.3" />
<line x1="1339.81" y1="2112.46" x2="1352.39" y2="2112.46" stroke="#84D7DD" stroke-width="1.3" />
<rect x="1333" y="2155.49" width="26.2" height="167.21" fill="#84D7DD"/>
<line x1="1385.3" y1="2226.8" x2="1385.3" y2="2208.36" stroke="#CCAE68" stroke-width="1.3" />
<line x1="1379.01" y1="2208.36" x2="1391.59" y2="2208.36" stroke="#CCAE68" stroke-width="1.3" />
<rect x="1372.2" y="2226.8" width="26.2" height="95.9" fill="#CCAE68"/>
<path d="M1240.8 2075.1V2322.7H1412" fill="none" stroke="#000" stroke-width="3.4"/>
<line x1="1228.3" y1="2076.8" x2="1241.3" y2="2076.8" stroke="#000" stroke-width="3.4" />
<text x="1223.8" y="2082.7" font-size="16.8" font-weight="bold" text-anchor="end" fill="#111">2.0</text>
<line x1="1228.3" y1="2138.28" x2="1241.3" y2="2138.28" stroke="#000" stroke-width="3.4" />
<text x="1223.8" y="2144.18" font-size="16.8" font-weight="bold" text-anchor="end" fill="#111">1.5</text>
<line x1="1228.3" y1="2199.75" x2="1241.3" y2="2199.75" stroke="#000" stroke-width="3.4" />
<text x="1223.8" y="2205.65" font-size="16.8" font-weight="bold" text-anchor="end" fill="#111">1.0</text>
<line x1="1228.3" y1="2261.22" x2="1241.3" y2="2261.22" stroke="#000" stroke-width="3.4" />
<text x="1223.8" y="2267.12" font-size="16.8" font-weight="bold" text-anchor="end" fill="#111">0.5</text>
<line x1="1228.3" y1="2322.7" x2="1241.3" y2="2322.7" stroke="#000" stroke-width="3.4" />
<text x="1223.8" y="2328.6" font-size="16.8" font-weight="bold" text-anchor="end" fill="#111">0.0</text>
<line x1="1267.9" y1="2322.7" x2="1267.9" y2="2336.9" stroke="#000" stroke-width="3.4" />
<text x="1270.4" y="2353.2" font-size="19" font-weight="bold" text-anchor="end" fill="#111" transform="rotate(-45 1270.4 2353.2)">WT</text>
<line x1="1307" y1="2322.7" x2="1307" y2="2336.9" stroke="#000" stroke-width="3.4" />
<text x="1310.5" y="2353.2" font-size="19" font-weight="bold" text-anchor="end" fill="#111" transform="rotate(-45 1310.5 2353.2)">Model</text>
<line x1="1346.1" y1="2322.7" x2="1346.1" y2="2336.9" stroke="#000" stroke-width="3.4" />
<text x="1351.6" y="2353.2" font-size="19" font-weight="bold" text-anchor="end" fill="#111" transform="rotate(-45 1351.6 2353.2)">En-MSCs<tspan font-size="11.4" dy="-6.84">C/I</tspan></text>
<line x1="1385.3" y1="2322.7" x2="1385.3" y2="2336.9" stroke="#000" stroke-width="3.4" />
<text x="1390.8" y="2353.2" font-size="19" font-weight="bold" text-anchor="end" fill="#111" transform="rotate(-45 1390.8 2353.2)">MSCs</text>
<circle cx="1257.3" cy="2199.75" r="3.1" fill="#E97E91" stroke="#111" stroke-width="1.4"/>
<circle cx="1264.35" cy="2199.75" r="3.1" fill="#E97E91" stroke="#111" stroke-width="1.4"/>
<circle cx="1271.45" cy="2199.75" r="3.1" fill="#E97E91" stroke="#111" stroke-width="1.4"/>
<circle cx="1278.5" cy="2199.75" r="3.1" fill="#E97E91" stroke="#111" stroke-width="1.4"/>
<rect x="1304" y="2233.63" width="6" height="6" fill="#7F80E1" stroke="#111" stroke-width="1.4"/>
<rect x="1304" y="2245.32" width="6" height="6" fill="#7F80E1" stroke="#111" stroke-width="1.4"/>
<rect x="1304" y="2302.49" width="6" height="6" fill="#7F80E1" stroke="#111" stroke-width="1.4"/>
<path d="M1346.1 2097.79L1349.4 2104.09L1342.8 2104.09Z" fill="#84D7DD" stroke="#111" stroke-width="1.4"/>
<path d="M1346.1 2138.36L1349.4 2144.66L1342.8 2144.66Z" fill="#84D7DD" stroke="#111" stroke-width="1.4"/>
<path d="M1346.1 2177.09L1349.4 2183.39L1342.8 2183.39Z" fill="#84D7DD" stroke="#111" stroke-width="1.4"/>
<path d="M1346.1 2197.38L1349.4 2203.68L1342.8 2203.68Z" fill="#84D7DD" stroke="#111" stroke-width="1.4"/>
<path d="M1385.3 2203.35L1388.6 2197.05L1382 2197.05Z" fill="#CCAE68" stroke="#111" stroke-width="1.4"/>
<path d="M1395.3 2231.63L1398.6 2225.33L1392 2225.33Z" fill="#CCAE68" stroke="#111" stroke-width="1.4"/>
<path d="M1385.3 2236.55L1388.6 2230.25L1382 2230.25Z" fill="#CCAE68" stroke="#111" stroke-width="1.4"/>
<path d="M1385.3 2245.77L1388.6 2239.47L1382 2239.47Z" fill="#CCAE68" stroke="#111" stroke-width="1.4"/>
<path d="M1263.6 2089.3V2079.5H1303.7V2089.3" fill="none" stroke="#000" stroke-width="2.9"/>
<text x="1283.65" y="2084.8" font-size="25.8" font-weight="bold" text-anchor="middle" fill="#111">*</text>
<path d="M1306.8 2089.3V2079.5H1347.3V2089.3" fill="none" stroke="#000" stroke-width="2.9"/>
<text x="1327.05" y="2084.8" font-size="25.8" font-weight="bold" text-anchor="middle" fill="#111">**</text>
<path d="M1353.9 2089.3V2079.5H1393.2V2089.3" fill="none" stroke="#000" stroke-width="2.9"/>
<text x="1373.55" y="2084.8" font-size="25.8" font-weight="bold" text-anchor="middle" fill="#111">*</text>
<text x="1190" y="2193.75" font-size="19.5" text-anchor="middle" fill="#111" transform="rotate(-90 1190 2193.75)" stroke="#111" stroke-width="0.5">SOX5</text>
<rect x="1538.3" y="2158.77" width="26.2" height="163.93" fill="#E97E91"/>
<line x1="1590.5" y1="2217.78" x2="1590.5" y2="2203.85" stroke="#7F80E1" stroke-width="1.3" />
<line x1="1584.21" y1="2203.85" x2="1596.79" y2="2203.85" stroke="#7F80E1" stroke-width="1.3" />
<rect x="1577.4" y="2217.78" width="26.2" height="104.92" fill="#7F80E1"/>
<line x1="1629.6" y1="2149.75" x2="1629.6" y2="2134.18" stroke="#84D7DD" stroke-width="1.3" />
<line x1="1623.31" y1="2134.18" x2="1635.89" y2="2134.18" stroke="#84D7DD" stroke-width="1.3" />
<rect x="1616.5" y="2149.75" width="26.2" height="172.95" fill="#84D7DD"/>
<line x1="1668.7" y1="2212.86" x2="1668.7" y2="2161.23" stroke="#CCAE68" stroke-width="1.3" />
<line x1="1662.41" y1="2161.23" x2="1674.99" y2="2161.23" stroke="#CCAE68" stroke-width="1.3" />
<rect x="1655.6" y="2212.86" width="26.2" height="109.84" fill="#CCAE68"/>
<path d="M1523.5 2075.1V2322.7H1696" fill="none" stroke="#000" stroke-width="3.4"/>
<line x1="1511" y1="2076.8" x2="1524" y2="2076.8" stroke="#000" stroke-width="3.4" />
<text x="1506.5" y="2082.7" font-size="16.8" font-weight="bold" text-anchor="end" fill="#111">1.5</text>
<line x1="1511" y1="2158.77" x2="1524" y2="2158.77" stroke="#000" stroke-width="3.4" />
<text x="1506.5" y="2164.67" font-size="16.8" font-weight="bold" text-anchor="end" fill="#111">1.0</text>
<line x1="1511" y1="2240.73" x2="1524" y2="2240.73" stroke="#000" stroke-width="3.4" />
<text x="1506.5" y="2246.63" font-size="16.8" font-weight="bold" text-anchor="end" fill="#111">0.5</text>
<line x1="1511" y1="2322.7" x2="1524" y2="2322.7" stroke="#000" stroke-width="3.4" />
<text x="1506.5" y="2328.6" font-size="16.8" font-weight="bold" text-anchor="end" fill="#111">0.0</text>
<line x1="1551.4" y1="2322.7" x2="1551.4" y2="2336.9" stroke="#000" stroke-width="3.4" />
<text x="1555.9" y="2353.2" font-size="19" font-weight="bold" text-anchor="end" fill="#111" transform="rotate(-45 1555.9 2353.2)">WT</text>
<line x1="1590.5" y1="2322.7" x2="1590.5" y2="2336.9" stroke="#000" stroke-width="3.4" />
<text x="1595" y="2353.2" font-size="19" font-weight="bold" text-anchor="end" fill="#111" transform="rotate(-45 1595 2353.2)">Model</text>
<line x1="1629.6" y1="2322.7" x2="1629.6" y2="2336.9" stroke="#000" stroke-width="3.4" />
<text x="1637.1" y="2353.2" font-size="19" font-weight="bold" text-anchor="end" fill="#111" transform="rotate(-45 1637.1 2353.2)">En-MSCs<tspan font-size="11.4" dy="-6.84">C/I</tspan></text>
<line x1="1668.7" y1="2322.7" x2="1668.7" y2="2336.9" stroke="#000" stroke-width="3.4" />
<text x="1672.7" y="2353.2" font-size="19" font-weight="bold" text-anchor="end" fill="#111" transform="rotate(-45 1672.7 2353.2)">MSCs</text>
<circle cx="1540.8" cy="2158.77" r="3.1" fill="#E97E91" stroke="#111" stroke-width="1.4"/>
<circle cx="1547.85" cy="2158.77" r="3.1" fill="#E97E91" stroke="#111" stroke-width="1.4"/>
<circle cx="1554.95" cy="2158.77" r="3.1" fill="#E97E91" stroke="#111" stroke-width="1.4"/>
<circle cx="1562" cy="2158.77" r="3.1" fill="#E97E91" stroke="#111" stroke-width="1.4"/>
<rect x="1587.5" y="2194.29" width="6" height="6" fill="#7F80E1" stroke="#111" stroke-width="1.4"/>
<rect x="1587.5" y="2217.24" width="6" height="6" fill="#7F80E1" stroke="#111" stroke-width="1.4"/>
<rect x="1577.5" y="2224.62" width="6" height="6" fill="#7F80E1" stroke="#111" stroke-width="1.4"/>
<rect x="1597.5" y="2220.52" width="6" height="6" fill="#7F80E1" stroke="#111" stroke-width="1.4"/>
<path d="M1619.6 2134.67L1622.9 2140.98L1616.3 2140.98Z" fill="#84D7DD" stroke="#111" stroke-width="1.4"/>
<path d="M1629.6 2130.58L1632.9 2136.88L1626.3 2136.88Z" fill="#84D7DD" stroke="#111" stroke-width="1.4"/>
<path d="M1619.6 2161.72L1622.9 2168.02L1616.3 2168.02Z" fill="#84D7DD" stroke="#111" stroke-width="1.4"/>
<path d="M1639.6 2158.45L1642.9 2164.75L1636.3 2164.75Z" fill="#84D7DD" stroke="#111" stroke-width="1.4"/>
<path d="M1668.7 2162.37L1672 2156.07L1665.4 2156.07Z" fill="#CCAE68" stroke="#111" stroke-width="1.4"/>
<path d="M1668.7 2200.89L1672 2194.59L1665.4 2194.59Z" fill="#CCAE68" stroke="#111" stroke-width="1.4"/>
<path d="M1668.7 2212.37L1672 2206.07L1665.4 2206.07Z" fill="#CCAE68" stroke="#111" stroke-width="1.4"/>
<path d="M1668.7 2288.6L1672 2282.3L1665.4 2282.3Z" fill="#CCAE68" stroke="#111" stroke-width="1.4"/>
<path d="M1547.1 2125.2V2115.4H1586.8V2125.2" fill="none" stroke="#000" stroke-width="2.9"/>
<text x="1566.95" y="2117.2" font-size="25.8" font-weight="bold" text-anchor="middle" fill="#111">*</text>
<path d="M1590.6 2125.2V2115.4H1630.3V2125.2" fill="none" stroke="#000" stroke-width="2.9"/>
<text x="1610.45" y="2117.2" font-size="25.8" font-weight="bold" text-anchor="middle" fill="#111">*</text>
<path d="M1638.2 2125.2V2115.4H1677.1V2125.2" fill="none" stroke="#000" stroke-width="2.9"/>
<text x="1657.65" y="2117.2" font-size="25.8" font-weight="bold" text-anchor="middle" fill="#111">*</text>
<text x="1473" y="2193.75" font-size="19.5" text-anchor="middle" fill="#111" transform="rotate(-90 1473 2193.75)" stroke="#111" stroke-width="0.5">SOX9</text>
<rect x="1826.2" y="2224.34" width="26.2" height="98.36" fill="#E97E91"/>
<line x1="1878.4" y1="2211.55" x2="1878.4" y2="2154.01" stroke="#7F80E1" stroke-width="1.3" />
<line x1="1872.11" y1="2154.01" x2="1884.69" y2="2154.01" stroke="#7F80E1" stroke-width="1.3" />
<rect x="1865.3" y="2211.55" width="26.2" height="111.15" fill="#7F80E1"/>
<line x1="1917.5" y1="2177.13" x2="1917.5" y2="2152.54" stroke="#84D7DD" stroke-width="1.3" />
<line x1="1911.21" y1="2152.54" x2="1923.79" y2="2152.54" stroke="#84D7DD" stroke-width="1.3" />
<rect x="1904.4" y="2177.13" width="26.2" height="145.57" fill="#84D7DD"/>
<line x1="1956.2" y1="2280.41" x2="1956.2" y2="2269.09" stroke="#CCAE68" stroke-width="1.3" />
<line x1="1949.91" y1="2269.09" x2="1962.49" y2="2269.09" stroke="#CCAE68" stroke-width="1.3" />
<rect x="1943.1" y="2280.41" width="26.2" height="42.29" fill="#CCAE68"/>
<path d="M1811.8 2075.1V2322.7H1984.3" fill="none" stroke="#000" stroke-width="3.4"/>
<line x1="1799.3" y1="2076.8" x2="1812.3" y2="2076.8" stroke="#000" stroke-width="3.4" />
<text x="1794.8" y="2082.7" font-size="16.8" font-weight="bold" text-anchor="end" fill="#111">2.5</text>
<line x1="1799.3" y1="2125.98" x2="1812.3" y2="2125.98" stroke="#000" stroke-width="3.4" />
<text x="1794.8" y="2131.88" font-size="16.8" font-weight="bold" text-anchor="end" fill="#111">2.0</text>
<line x1="1799.3" y1="2175.16" x2="1812.3" y2="2175.16" stroke="#000" stroke-width="3.4" />
<text x="1794.8" y="2181.06" font-size="16.8" font-weight="bold" text-anchor="end" fill="#111">1.5</text>
<line x1="1799.3" y1="2224.34" x2="1812.3" y2="2224.34" stroke="#000" stroke-width="3.4" />
<text x="1794.8" y="2230.24" font-size="16.8" font-weight="bold" text-anchor="end" fill="#111">1.0</text>
<line x1="1799.3" y1="2273.52" x2="1812.3" y2="2273.52" stroke="#000" stroke-width="3.4" />
<text x="1794.8" y="2279.42" font-size="16.8" font-weight="bold" text-anchor="end" fill="#111">0.5</text>
<line x1="1799.3" y1="2322.7" x2="1812.3" y2="2322.7" stroke="#000" stroke-width="3.4" />
<text x="1794.8" y="2328.6" font-size="16.8" font-weight="bold" text-anchor="end" fill="#111">0.0</text>
<line x1="1839.3" y1="2322.7" x2="1839.3" y2="2336.9" stroke="#000" stroke-width="3.4" />
<text x="1843.8" y="2353.2" font-size="19" font-weight="bold" text-anchor="end" fill="#111" transform="rotate(-45 1843.8 2353.2)">WT</text>
<line x1="1878.4" y1="2322.7" x2="1878.4" y2="2336.9" stroke="#000" stroke-width="3.4" />
<text x="1882.9" y="2353.2" font-size="19" font-weight="bold" text-anchor="end" fill="#111" transform="rotate(-45 1882.9 2353.2)">Model</text>
<line x1="1917.5" y1="2322.7" x2="1917.5" y2="2336.9" stroke="#000" stroke-width="3.4" />
<text x="1923" y="2353.2" font-size="19" font-weight="bold" text-anchor="end" fill="#111" transform="rotate(-45 1923 2353.2)">En-MSCs<tspan font-size="11.4" dy="-6.84">C/I</tspan></text>
<line x1="1956.2" y1="2322.7" x2="1956.2" y2="2336.9" stroke="#000" stroke-width="3.4" />
<text x="1961.7" y="2353.2" font-size="19" font-weight="bold" text-anchor="end" fill="#111" transform="rotate(-45 1961.7 2353.2)">MSCs</text>
<circle cx="1828.7" cy="2224.34" r="3.1" fill="#E97E91" stroke="#111" stroke-width="1.4"/>
<circle cx="1835.75" cy="2224.34" r="3.1" fill="#E97E91" stroke="#111" stroke-width="1.4"/>
<circle cx="1842.85" cy="2224.34" r="3.1" fill="#E97E91" stroke="#111" stroke-width="1.4"/>
<circle cx="1849.9" cy="2224.34" r="3.1" fill="#E97E91" stroke="#111" stroke-width="1.4"/>
<rect x="1875.4" y="2124.46" width="6" height="6" fill="#7F80E1" stroke="#111" stroke-width="1.4"/>
<rect x="1885.4" y="2228.23" width="6" height="6" fill="#7F80E1" stroke="#111" stroke-width="1.4"/>
<rect x="1875.4" y="2234.62" width="6" height="6" fill="#7F80E1" stroke="#111" stroke-width="1.4"/>
<rect x="1875.4" y="2247.41" width="6" height="6" fill="#7F80E1" stroke="#111" stroke-width="1.4"/>
<path d="M1917.5 2146.97L1920.8 2153.27L1914.2 2153.27Z" fill="#84D7DD" stroke="#111" stroke-width="1.4"/>
<path d="M1917.5 2161.23L1920.8 2167.53L1914.2 2167.53Z" fill="#84D7DD" stroke="#111" stroke-width="1.4"/>
<path d="M1917.5 2188.77L1920.8 2195.07L1914.2 2195.07Z" fill="#84D7DD" stroke="#111" stroke-width="1.4"/>
<path d="M1917.5 2198.61L1920.8 2204.91L1914.2 2204.91Z" fill="#84D7DD" stroke="#111" stroke-width="1.4"/>
<path d="M1956.2 2267.78L1959.5 2261.48L1952.9 2261.48Z" fill="#CCAE68" stroke="#111" stroke-width="1.4"/>
<path d="M1966.2 2283.51L1969.5 2277.21L1962.9 2277.21Z" fill="#CCAE68" stroke="#111" stroke-width="1.4"/>
<path d="M1956.2 2285.48L1959.5 2279.18L1952.9 2279.18Z" fill="#CCAE68" stroke="#111" stroke-width="1.4"/>
<path d="M1956.2 2295.81L1959.5 2289.51L1952.9 2289.51Z" fill="#CCAE68" stroke="#111" stroke-width="1.4"/>
<path d="M1873.3 2114.3V2104.5H1913.8V2114.3" fill="none" stroke="#000" stroke-width="2.9"/>
<text x="1893.55" y="2108.8" font-size="25.8" font-weight="bold" text-anchor="middle" fill="#111">*</text>
<path d="M1917.3 2144.5V2134.7H1957V2144.5" fill="none" stroke="#000" stroke-width="2.9"/>
<text x="1937.15" y="2139" font-size="25.8" font-weight="bold" text-anchor="middle" fill="#111">**</text>
<text x="1758" y="2193.75" font-size="19.5" text-anchor="middle" fill="#111" transform="rotate(-90 1758 2193.75)" stroke="#111" stroke-width="0.5">TGFB2</text>
</g>
</svg>
</body></html>
